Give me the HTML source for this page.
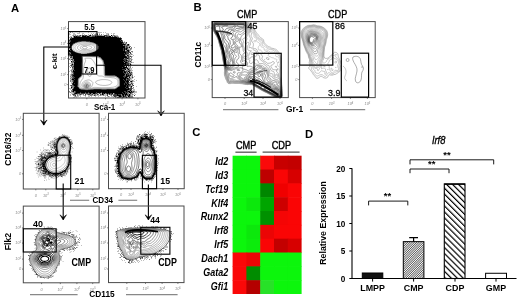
<!DOCTYPE html><html><head><meta charset="utf-8"><style>html,body{margin:0;padding:0;background:#fff;overflow:hidden}svg{display:block;will-change:transform}</style></head><body>
<svg xmlns="http://www.w3.org/2000/svg" width="520" height="301" viewBox="0 0 520 301" style="font-family:'Liberation Sans',sans-serif">
<rect width="520" height="301" fill="#fff"/>
<clipPath id="c68_21"><rect x="68.5" y="21.6" width="76.5" height="76.4"/></clipPath><g clip-path="url(#c68_21)"><path d="M70 32.6h1v0.5h-1zM72.5 32.6h0.5v0.5h-0.5zM79 32.6h0.5v0.5h-0.5zM88 32.6h0.5v0.5h-0.5zM98 32.6h0.5v0.5h-0.5zM99.5 32.6h1v0.5h-1zM101 32.6h0.5v0.5h-0.5zM103.5 32.6h0.5v0.5h-0.5zM105.5 32.6h0.5v0.5h-0.5zM74.5 33.1h0.5v0.5h-0.5zM78.5 33.1h0.5v0.5h-0.5zM79.5 33.1h0.5v0.5h-0.5zM83.5 33.1h0.5v0.5h-0.5zM91.5 33.1h0.5v0.5h-0.5zM95.5 33.1h1v0.5h-1zM97.5 33.1h0.5v0.5h-0.5zM106.5 33.1h0.5v0.5h-0.5zM111 33.1h0.5v0.5h-0.5zM69.5 33.6h0.5v0.5h-0.5zM73 33.6h0.5v0.5h-0.5zM77.5 33.6h0.5v0.5h-0.5zM82.5 33.6h0.5v0.5h-0.5zM93.5 33.6h0.5v0.5h-0.5zM99 33.6h0.5v0.5h-0.5zM107 33.6h0.5v0.5h-0.5zM108.5 33.6h0.5v0.5h-0.5zM113 33.6h0.5v0.5h-0.5zM114.5 33.6h0.5v0.5h-0.5zM69 34.1h0.5v0.5h-0.5zM73.5 34.1h0.5v0.5h-0.5zM96 34.1h0.5v0.5h-0.5zM97.5 34.1h0.5v0.5h-0.5zM99 34.1h0.5v0.5h-0.5zM101.5 34.1h0.5v0.5h-0.5zM106.5 34.1h1v0.5h-1zM108 34.1h0.5v0.5h-0.5zM113.5 34.1h0.5v0.5h-0.5zM70.5 34.6h0.5v0.5h-0.5zM74.5 34.6h0.5v0.5h-0.5zM75.5 34.6h0.5v0.5h-0.5zM82 34.6h0.5v0.5h-0.5zM84.5 34.6h0.5v0.5h-0.5zM88.5 34.6h0.5v0.5h-0.5zM90 34.6h0.5v0.5h-0.5zM92 34.6h1v0.5h-1zM94 34.6h0.5v0.5h-0.5zM95 34.6h1v0.5h-1zM97 34.6h1v0.5h-1zM99.5 34.6h0.5v0.5h-0.5zM101 34.6h0.5v0.5h-0.5zM103.5 34.6h0.5v0.5h-0.5zM108 34.6h0.5v0.5h-0.5zM72 35.1h0.5v0.5h-0.5zM73.5 35.1h1v0.5h-1zM78.5 35.1h0.5v0.5h-0.5zM80.5 35.1h0.5v0.5h-0.5zM81.5 35.1h0.5v0.5h-0.5zM82.5 35.1h0.5v0.5h-0.5zM83.5 35.1h2v0.5h-2zM86 35.1h0.5v0.5h-0.5zM87.5 35.1h0.5v0.5h-0.5zM89 35.1h0.5v0.5h-0.5zM90 35.1h1v0.5h-1zM93.5 35.1h1v0.5h-1zM95 35.1h0.5v0.5h-0.5zM97.5 35.1h0.5v0.5h-0.5zM98.5 35.1h0.5v0.5h-0.5zM99.5 35.1h0.5v0.5h-0.5zM101 35.1h0.5v0.5h-0.5zM104 35.1h1v0.5h-1zM105.5 35.1h0.5v0.5h-0.5zM106.5 35.1h0.5v0.5h-0.5zM107.5 35.1h1v0.5h-1zM111 35.1h1.5v0.5h-1.5zM113 35.1h2.5v0.5h-2.5zM117 35.1h0.5v0.5h-0.5zM73.5 35.6h0.5v0.5h-0.5zM75 35.6h1v0.5h-1zM76.5 35.6h1.5v0.5h-1.5zM79 35.6h2v0.5h-2zM82 35.6h2v0.5h-2zM85 35.6h2v0.5h-2zM88.5 35.6h2.5v0.5h-2.5zM91.5 35.6h2v0.5h-2zM94 35.6h0.5v0.5h-0.5zM95 35.6h1.5v0.5h-1.5zM97.5 35.6h1v0.5h-1zM99 35.6h0.5v0.5h-0.5zM100 35.6h1.5v0.5h-1.5zM102 35.6h0.5v0.5h-0.5zM103.5 35.6h1v0.5h-1zM105 35.6h2.5v0.5h-2.5zM108 35.6h0.5v0.5h-0.5zM109.5 35.6h0.5v0.5h-0.5zM111 35.6h1v0.5h-1zM116 35.6h0.5v0.5h-0.5zM70.5 36.1h0.5v0.5h-0.5zM74 36.1h1v0.5h-1zM75.5 36.1h1.5v0.5h-1.5zM77.5 36.1h1v0.5h-1zM79.5 36.1h0.5v0.5h-0.5zM82 36.1h4.5v0.5h-4.5zM87 36.1h2v0.5h-2zM89.5 36.1h1v0.5h-1zM92 36.1h0.5v0.5h-0.5zM93 36.1h0.5v0.5h-0.5zM94.5 36.1h1.5v0.5h-1.5zM96.5 36.1h8.5v0.5h-8.5zM106.5 36.1h1v0.5h-1zM108 36.1h0.5v0.5h-0.5zM109 36.1h2v0.5h-2zM112 36.1h0.5v0.5h-0.5zM113 36.1h0.5v0.5h-0.5zM114.5 36.1h1v0.5h-1zM116 36.1h0.5v0.5h-0.5zM117.5 36.1h0.5v0.5h-0.5zM71.5 36.6h0.5v0.5h-0.5zM73 36.6h8.5v0.5h-8.5zM82 36.6h8.5v0.5h-8.5zM91 36.6h20.5v0.5h-20.5zM112 36.6h1v0.5h-1zM114 36.6h2v0.5h-2zM116.5 36.6h1v0.5h-1zM118 36.6h0.5v0.5h-0.5zM70.5 37.1h1.5v0.5h-1.5zM72.5 37.1h0.5v0.5h-0.5zM74 37.1h43.5v0.5h-43.5zM118.5 37.1h0.5v0.5h-0.5zM120 37.1h0.5v0.5h-0.5zM69.5 37.6h0.5v0.5h-0.5zM71.5 37.6h0.5v0.5h-0.5zM73 37.6h46v0.5h-46zM119.5 37.6h0.5v0.5h-0.5zM120.5 37.6h0.5v0.5h-0.5zM70 38.1h52v0.5h-52zM70.5 38.6h1v0.5h-1zM72 38.6h49.5v0.5h-49.5zM70 39.1h51.5v0.5h-51.5zM68.5 39.6h0.5v0.5h-0.5zM69.5 39.6h51.5v0.5h-51.5zM121.5 39.6h0.5v0.5h-0.5zM68.5 40.1h0.5v0.5h-0.5zM69.5 40.1h53v0.5h-53zM68.5 40.6h1.5v0.5h-1.5zM70.5 40.6h50v0.5h-50zM121 40.6h1.5v0.5h-1.5zM69.5 41.1h0.5v0.5h-0.5zM70.5 41.1h11v0.5h-11zM86 41.1h37v0.5h-37zM69 41.6h0.5v0.5h-0.5zM70 41.6h8.5v0.5h-8.5zM90 41.6h31.5v0.5h-31.5zM122 41.6h0.5v0.5h-0.5zM124.5 41.6h0.5v0.5h-0.5zM69 42.1h0.5v0.5h-0.5zM70 42.1h6.5v0.5h-6.5zM92.5 42.1h31v0.5h-31zM124.5 42.1h1v0.5h-1zM126 42.1h1v0.5h-1zM68.5 42.6h0.5v0.5h-0.5zM69.5 42.6h6v0.5h-6zM94 42.6h29v0.5h-29zM123.5 42.6h1v0.5h-1zM126 42.6h0.5v0.5h-0.5zM69 43.1h5.5v0.5h-5.5zM95 43.1h28v0.5h-28zM123.5 43.1h0.5v0.5h-0.5zM126.5 43.1h0.5v0.5h-0.5zM68.5 43.6h5v0.5h-5zM96 43.6h26v0.5h-26zM122.5 43.6h1.5v0.5h-1.5zM124.5 43.6h2v0.5h-2zM68.5 44.1h1v0.5h-1zM70 44.1h3v0.5h-3zM97 44.1h28v0.5h-28zM125.5 44.1h1v0.5h-1zM127 44.1h2v0.5h-2zM68.5 44.6h1v0.5h-1zM70 44.6h2.5v0.5h-2.5zM97.5 44.6h28.5v0.5h-28.5zM127 44.6h0.5v0.5h-0.5zM128 44.6h1.5v0.5h-1.5zM69 45.1h3v0.5h-3zM98 45.1h25.5v0.5h-25.5zM124.5 45.1h0.5v0.5h-0.5zM126 45.1h0.5v0.5h-0.5zM127 45.1h0.5v0.5h-0.5zM128.5 45.1h0.5v0.5h-0.5zM70 45.6h2v0.5h-2zM98 45.6h25.5v0.5h-25.5zM124 45.6h2v0.5h-2zM126.5 45.6h2.5v0.5h-2.5zM129.5 45.6h0.5v0.5h-0.5zM69 46.1h2.5v0.5h-2.5zM98.5 46.1h26.5v0.5h-26.5zM125.5 46.1h1.5v0.5h-1.5zM127.5 46.1h0.5v0.5h-0.5zM129 46.1h0.5v0.5h-0.5zM69.5 46.6h2v0.5h-2zM98.5 46.6h26.5v0.5h-26.5zM125.5 46.6h0.5v0.5h-0.5zM126.5 46.6h1v0.5h-1zM128.5 46.6h1v0.5h-1zM130 46.6h1v0.5h-1zM68.5 47.1h3v0.5h-3zM98.5 47.1h26.5v0.5h-26.5zM126 47.1h0.5v0.5h-0.5zM127 47.1h1v0.5h-1zM128.5 47.1h1.5v0.5h-1.5zM131 47.1h1v0.5h-1zM69 47.6h2.5v0.5h-2.5zM98.5 47.6h28.5v0.5h-28.5zM127.5 47.6h0.5v0.5h-0.5zM128.5 47.6h1.5v0.5h-1.5zM134 47.6h0.5v0.5h-0.5zM69 48.1h0.5v0.5h-0.5zM70 48.1h1.5v0.5h-1.5zM98.5 48.1h25v0.5h-25zM124 48.1h1v0.5h-1zM125.5 48.1h2v0.5h-2zM129.5 48.1h1v0.5h-1zM131.5 48.1h0.5v0.5h-0.5zM68.5 48.6h0.5v0.5h-0.5zM69.5 48.6h0.5v0.5h-0.5zM70.5 48.6h1v0.5h-1zM98 48.6h30v0.5h-30zM128.5 48.6h0.5v0.5h-0.5zM130 48.6h0.5v0.5h-0.5zM131.5 48.6h0.5v0.5h-0.5zM70 49.1h2v0.5h-2zM98 49.1h25.5v0.5h-25.5zM124 49.1h1v0.5h-1zM125.5 49.1h1.5v0.5h-1.5zM128.5 49.1h0.5v0.5h-0.5zM130.5 49.1h0.5v0.5h-0.5zM131.5 49.1h0.5v0.5h-0.5zM69.5 49.6h2.5v0.5h-2.5zM97.5 49.6h30.5v0.5h-30.5zM128.5 49.6h0.5v0.5h-0.5zM129.5 49.6h0.5v0.5h-0.5zM130.5 49.6h0.5v0.5h-0.5zM68.5 50.1h1.5v0.5h-1.5zM70.5 50.1h2v0.5h-2zM97 50.1h26v0.5h-26zM123.5 50.1h1.5v0.5h-1.5zM126.5 50.1h3.5v0.5h-3.5zM69 50.6h4v0.5h-4zM96.5 50.6h29v0.5h-29zM126.5 50.6h2.5v0.5h-2.5zM130 50.6h0.5v0.5h-0.5zM69 51.1h4.5v0.5h-4.5zM95.5 51.1h29.5v0.5h-29.5zM125.5 51.1h0.5v0.5h-0.5zM126.5 51.1h1v0.5h-1zM128 51.1h2v0.5h-2zM131 51.1h0.5v0.5h-0.5zM132 51.1h0.5v0.5h-0.5zM69 51.6h5.5v0.5h-5.5zM94.5 51.6h34.5v0.5h-34.5zM131 51.6h0.5v0.5h-0.5zM132.5 51.6h0.5v0.5h-0.5zM69 52.1h6.5v0.5h-6.5zM93 52.1h33.5v0.5h-33.5zM127 52.1h1v0.5h-1zM128.5 52.1h2v0.5h-2zM132 52.1h0.5v0.5h-0.5zM70.5 52.6h6v0.5h-6zM91.5 52.6h35.5v0.5h-35.5zM127.5 52.6h2v0.5h-2zM130 52.6h1v0.5h-1zM69 53.1h9.5v0.5h-9.5zM89.5 53.1h37v0.5h-37zM127 53.1h1.5v0.5h-1.5zM130 53.1h0.5v0.5h-0.5zM69.5 53.6h0.5v0.5h-0.5zM71 53.6h10v0.5h-10zM87 53.6h37.5v0.5h-37.5zM125 53.6h2v0.5h-2zM127.5 53.6h1.5v0.5h-1.5zM130 53.6h1v0.5h-1zM131.5 53.6h0.5v0.5h-0.5zM69 54.1h0.5v0.5h-0.5zM70 54.1h55v0.5h-55zM125.5 54.1h2v0.5h-2zM128 54.1h0.5v0.5h-0.5zM129 54.1h0.5v0.5h-0.5zM69 54.6h0.5v0.5h-0.5zM70.5 54.6h0.5v0.5h-0.5zM71.5 54.6h54.5v0.5h-54.5zM126.5 54.6h1v0.5h-1zM128.5 54.6h1v0.5h-1zM130 54.6h0.5v0.5h-0.5zM131 54.6h1.5v0.5h-1.5zM70 55.1h13v0.5h-13zM84.5 55.1h41.5v0.5h-41.5zM127 55.1h2v0.5h-2zM129.5 55.1h0.5v0.5h-0.5zM130.5 55.1h0.5v0.5h-0.5zM70.5 55.6h11v0.5h-11zM93.5 55.6h31.5v0.5h-31.5zM126.5 55.6h1.5v0.5h-1.5zM128.5 55.6h0.5v0.5h-0.5zM133.5 55.6h0.5v0.5h-0.5zM69 56.1h0.5v0.5h-0.5zM70 56.1h0.5v0.5h-0.5zM71 56.1h1v0.5h-1zM72.5 56.1h9v0.5h-9zM97.5 56.1h29.5v0.5h-29.5zM128 56.1h0.5v0.5h-0.5zM129 56.1h0.5v0.5h-0.5zM130 56.1h2.5v0.5h-2.5zM70.5 56.6h0.5v0.5h-0.5zM71.5 56.6h1v0.5h-1zM73 56.6h8.5v0.5h-8.5zM99 56.6h27v0.5h-27zM126.5 56.6h2.5v0.5h-2.5zM129.5 56.6h1v0.5h-1zM70 57.1h2.5v0.5h-2.5zM73 57.1h8.5v0.5h-8.5zM100.5 57.1h26.5v0.5h-26.5zM127.5 57.1h0.5v0.5h-0.5zM128.5 57.1h1v0.5h-1zM131 57.1h0.5v0.5h-0.5zM70 57.6h0.5v0.5h-0.5zM71.5 57.6h1v0.5h-1zM73 57.6h8.5v0.5h-8.5zM101 57.6h26v0.5h-26zM127.5 57.6h2v0.5h-2zM131 57.6h0.5v0.5h-0.5zM69.5 58.1h1v0.5h-1zM71.5 58.1h10v0.5h-10zM101.5 58.1h23v0.5h-23zM125 58.1h0.5v0.5h-0.5zM126 58.1h0.5v0.5h-0.5zM127 58.1h1.5v0.5h-1.5zM129 58.1h1v0.5h-1zM131.5 58.1h0.5v0.5h-0.5zM68.5 58.6h0.5v0.5h-0.5zM73 58.6h9v0.5h-9zM101.5 58.6h23v0.5h-23zM125 58.6h4v0.5h-4zM130 58.6h1v0.5h-1zM69 59.1h1v0.5h-1zM71 59.1h1.5v0.5h-1.5zM74 59.1h8v0.5h-8zM102 59.1h22.5v0.5h-22.5zM125 59.1h1v0.5h-1zM126.5 59.1h1v0.5h-1zM128 59.1h0.5v0.5h-0.5zM129.5 59.1h0.5v0.5h-0.5zM132.5 59.1h0.5v0.5h-0.5zM70.5 59.6h0.5v0.5h-0.5zM71.5 59.6h10.5v0.5h-10.5zM102.5 59.6h20.5v0.5h-20.5zM123.5 59.6h2v0.5h-2zM126 59.6h1v0.5h-1zM128 59.6h0.5v0.5h-0.5zM129 59.6h0.5v0.5h-0.5zM130 59.6h0.5v0.5h-0.5zM131 59.6h1v0.5h-1zM72.5 60.1h0.5v0.5h-0.5zM73.5 60.1h8.5v0.5h-8.5zM103 60.1h24v0.5h-24zM127.5 60.1h0.5v0.5h-0.5zM129.5 60.1h0.5v0.5h-0.5zM131 60.1h1v0.5h-1zM70.5 60.6h0.5v0.5h-0.5zM72.5 60.6h0.5v0.5h-0.5zM73.5 60.6h8.5v0.5h-8.5zM103.5 60.6h20.5v0.5h-20.5zM124.5 60.6h0.5v0.5h-0.5zM125.5 60.6h4v0.5h-4zM130 60.6h0.5v0.5h-0.5zM71 61.1h1.5v0.5h-1.5zM73 61.1h1v0.5h-1zM74.5 61.1h7.5v0.5h-7.5zM103.5 61.1h20v0.5h-20zM124 61.1h1v0.5h-1zM125.5 61.1h1v0.5h-1zM127 61.1h0.5v0.5h-0.5zM128 61.1h2.5v0.5h-2.5zM71 61.6h1v0.5h-1zM72.5 61.6h0.5v0.5h-0.5zM73.5 61.6h8.5v0.5h-8.5zM103.5 61.6h23.5v0.5h-23.5zM127.5 61.6h1v0.5h-1zM130 61.6h1.5v0.5h-1.5zM71 62.1h2v0.5h-2zM73.5 62.1h8.5v0.5h-8.5zM104 62.1h20v0.5h-20zM125 62.1h4.5v0.5h-4.5zM131 62.1h1v0.5h-1zM73 62.6h0.5v0.5h-0.5zM74 62.6h7.5v0.5h-7.5zM104 62.6h23v0.5h-23zM127.5 62.6h0.5v0.5h-0.5zM130.5 62.6h0.5v0.5h-0.5zM132.5 62.6h1v0.5h-1zM72 63.1h0.5v0.5h-0.5zM74 63.1h7.5v0.5h-7.5zM104 63.1h22v0.5h-22zM126.5 63.1h2.5v0.5h-2.5zM129.5 63.1h1v0.5h-1zM69.5 63.6h0.5v0.5h-0.5zM70.5 63.6h0.5v0.5h-0.5zM71.5 63.6h0.5v0.5h-0.5zM72.5 63.6h0.5v0.5h-0.5zM73.5 63.6h8v0.5h-8zM104 63.6h23.5v0.5h-23.5zM128.5 63.6h1v0.5h-1zM130.5 63.6h0.5v0.5h-0.5zM71.5 64.1h1.5v0.5h-1.5zM73.5 64.1h8v0.5h-8zM104.5 64.1h20v0.5h-20zM125 64.1h3v0.5h-3zM128.5 64.1h1v0.5h-1zM130 64.1h1v0.5h-1zM71.5 64.6h1.5v0.5h-1.5zM73.5 64.6h8v0.5h-8zM104.5 64.6h21.5v0.5h-21.5zM126.5 64.6h1v0.5h-1zM128 64.6h1v0.5h-1zM130 64.6h1v0.5h-1zM131.5 64.6h0.5v0.5h-0.5zM70.5 65.1h0.5v0.5h-0.5zM71.5 65.1h0.5v0.5h-0.5zM72.5 65.1h0.5v0.5h-0.5zM74 65.1h7.5v0.5h-7.5zM104.5 65.1h21v0.5h-21zM126.5 65.1h0.5v0.5h-0.5zM127.5 65.1h2v0.5h-2zM70.5 65.6h1.5v0.5h-1.5zM72.5 65.6h9v0.5h-9zM104.5 65.6h18.5v0.5h-18.5zM123.5 65.6h4.5v0.5h-4.5zM128.5 65.6h0.5v0.5h-0.5zM130.5 65.6h0.5v0.5h-0.5zM69.5 66.1h0.5v0.5h-0.5zM71.5 66.1h1v0.5h-1zM73 66.1h8.5v0.5h-8.5zM104.5 66.1h20.5v0.5h-20.5zM126 66.1h1v0.5h-1zM128 66.1h0.5v0.5h-0.5zM130 66.1h0.5v0.5h-0.5zM71 66.6h0.5v0.5h-0.5zM72 66.6h0.5v0.5h-0.5zM73.5 66.6h8v0.5h-8zM105 66.6h19.5v0.5h-19.5zM125 66.6h0.5v0.5h-0.5zM126 66.6h1v0.5h-1zM128.5 66.6h1v0.5h-1zM130.5 66.6h0.5v0.5h-0.5zM70.5 67.1h0.5v0.5h-0.5zM72.5 67.1h1v0.5h-1zM74 67.1h7.5v0.5h-7.5zM105 67.1h23v0.5h-23zM130 67.1h0.5v0.5h-0.5zM132.5 67.1h0.5v0.5h-0.5zM70 67.6h0.5v0.5h-0.5zM72 67.6h1v0.5h-1zM73.5 67.6h8v0.5h-8zM105 67.6h17.5v0.5h-17.5zM123 67.6h4v0.5h-4zM128 67.6h0.5v0.5h-0.5zM129 67.6h0.5v0.5h-0.5zM130.5 67.6h0.5v0.5h-0.5zM72.5 68.1h9v0.5h-9zM105 68.1h20.5v0.5h-20.5zM127 68.1h1v0.5h-1zM128.5 68.1h1v0.5h-1zM130 68.1h0.5v0.5h-0.5zM72.5 68.6h0.5v0.5h-0.5zM74 68.6h7.5v0.5h-7.5zM105 68.6h23.5v0.5h-23.5zM129 68.6h0.5v0.5h-0.5zM131.5 68.6h0.5v0.5h-0.5zM71.5 69.1h0.5v0.5h-0.5zM73 69.1h0.5v0.5h-0.5zM74 69.1h7.5v0.5h-7.5zM105 69.1h17.5v0.5h-17.5zM123 69.1h3v0.5h-3zM128 69.1h1v0.5h-1zM129.5 69.1h1v0.5h-1zM72 69.6h1v0.5h-1zM73.5 69.6h8v0.5h-8zM105 69.6h18.5v0.5h-18.5zM124.5 69.6h1.5v0.5h-1.5zM126.5 69.6h2.5v0.5h-2.5zM129.5 69.6h0.5v0.5h-0.5zM131.5 69.6h0.5v0.5h-0.5zM70 70.1h0.5v0.5h-0.5zM71 70.1h1v0.5h-1zM73 70.1h8.5v0.5h-8.5zM105 70.1h20v0.5h-20zM126 70.1h0.5v0.5h-0.5zM127 70.1h0.5v0.5h-0.5zM129 70.1h1.5v0.5h-1.5zM131.5 70.1h0.5v0.5h-0.5zM132.5 70.1h0.5v0.5h-0.5zM72 70.6h0.5v0.5h-0.5zM73 70.6h1v0.5h-1zM74.5 70.6h7v0.5h-7zM105 70.6h19v0.5h-19zM124.5 70.6h1v0.5h-1zM126 70.6h0.5v0.5h-0.5zM127 70.6h0.5v0.5h-0.5zM128 70.6h1.5v0.5h-1.5zM130.5 70.6h0.5v0.5h-0.5zM71 71.1h0.5v0.5h-0.5zM72 71.1h0.5v0.5h-0.5zM73 71.1h8.5v0.5h-8.5zM105 71.1h18v0.5h-18zM123.5 71.1h2v0.5h-2zM126 71.1h1.5v0.5h-1.5zM128 71.1h1v0.5h-1zM129.5 71.1h0.5v0.5h-0.5zM130.5 71.1h0.5v0.5h-0.5zM131.5 71.1h0.5v0.5h-0.5zM69.5 71.6h0.5v0.5h-0.5zM71.5 71.6h1v0.5h-1zM73 71.6h8.5v0.5h-8.5zM105 71.6h21v0.5h-21zM126.5 71.6h0.5v0.5h-0.5zM127.5 71.6h2.5v0.5h-2.5zM71 72.1h0.5v0.5h-0.5zM72.5 72.1h0.5v0.5h-0.5zM73.5 72.1h8v0.5h-8zM105 72.1h22v0.5h-22zM127.5 72.1h1v0.5h-1zM129 72.1h1v0.5h-1zM130.5 72.1h2v0.5h-2zM72.5 72.6h9v0.5h-9zM105 72.6h18.5v0.5h-18.5zM124 72.6h2v0.5h-2zM127 72.6h1v0.5h-1zM129 72.6h1v0.5h-1zM130.5 72.6h1v0.5h-1zM73 73.1h8.5v0.5h-8.5zM105 73.1h19v0.5h-19zM124.5 73.1h1v0.5h-1zM126 73.1h1.5v0.5h-1.5zM128 73.1h1v0.5h-1zM129.5 73.1h0.5v0.5h-0.5zM130.5 73.1h1v0.5h-1zM71.5 73.6h1v0.5h-1zM73.5 73.6h8v0.5h-8zM105 73.6h21v0.5h-21zM127 73.6h1.5v0.5h-1.5zM129 73.6h0.5v0.5h-0.5zM130 73.6h1.5v0.5h-1.5zM132 73.6h0.5v0.5h-0.5zM71.5 74.1h1.5v0.5h-1.5zM73.5 74.1h8v0.5h-8zM105 74.1h20.5v0.5h-20.5zM126 74.1h2.5v0.5h-2.5zM129 74.1h0.5v0.5h-0.5zM130.5 74.1h1.5v0.5h-1.5zM132.5 74.1h0.5v0.5h-0.5zM70.5 74.6h0.5v0.5h-0.5zM71.5 74.6h0.5v0.5h-0.5zM72.5 74.6h9v0.5h-9zM105 74.6h20v0.5h-20zM125.5 74.6h2v0.5h-2zM128 74.6h1v0.5h-1zM129.5 74.6h2v0.5h-2zM70 75.1h0.5v0.5h-0.5zM71.5 75.1h10v0.5h-10zM105 75.1h20.5v0.5h-20.5zM126 75.1h3.5v0.5h-3.5zM130 75.1h1.5v0.5h-1.5zM132.5 75.1h0.5v0.5h-0.5zM71.5 75.6h0.5v0.5h-0.5zM72.5 75.6h9v0.5h-9zM115 75.6h9.5v0.5h-9.5zM125.5 75.6h1.5v0.5h-1.5zM127.5 75.6h3.5v0.5h-3.5zM132.5 75.6h0.5v0.5h-0.5zM70 76.1h0.5v0.5h-0.5zM72.5 76.1h8.5v0.5h-8.5zM116.5 76.1h7v0.5h-7zM124 76.1h0.5v0.5h-0.5zM125 76.1h4.5v0.5h-4.5zM132 76.1h0.5v0.5h-0.5zM134 76.1h0.5v0.5h-0.5zM70 76.6h0.5v0.5h-0.5zM71.5 76.6h1.5v0.5h-1.5zM73.5 76.6h6.5v0.5h-6.5zM117 76.6h8.5v0.5h-8.5zM126 76.6h2.5v0.5h-2.5zM129 76.6h1v0.5h-1zM130.5 76.6h1v0.5h-1zM132.5 76.6h0.5v0.5h-0.5zM71 77.1h0.5v0.5h-0.5zM72 77.1h0.5v0.5h-0.5zM73 77.1h6.5v0.5h-6.5zM118 77.1h9v0.5h-9zM129 77.1h1.5v0.5h-1.5zM132.5 77.1h0.5v0.5h-0.5zM70.5 77.6h0.5v0.5h-0.5zM71.5 77.6h1v0.5h-1zM73.5 77.6h0.5v0.5h-0.5zM74.5 77.6h4.5v0.5h-4.5zM118.5 77.6h5.5v0.5h-5.5zM124.5 77.6h3.5v0.5h-3.5zM128.5 77.6h1.5v0.5h-1.5zM131.5 77.6h2v0.5h-2zM70.5 78.1h1v0.5h-1zM72.5 78.1h1v0.5h-1zM74 78.1h4.5v0.5h-4.5zM119 78.1h10.5v0.5h-10.5zM130.5 78.1h0.5v0.5h-0.5zM132.5 78.1h0.5v0.5h-0.5zM70.5 78.6h0.5v0.5h-0.5zM72 78.6h6v0.5h-6zM119.5 78.6h6.5v0.5h-6.5zM126.5 78.6h2v0.5h-2zM129.5 78.6h0.5v0.5h-0.5zM130.5 78.6h0.5v0.5h-0.5zM131.5 78.6h0.5v0.5h-0.5zM71.5 79.1h6.5v0.5h-6.5zM119.5 79.1h6.5v0.5h-6.5zM127 79.1h3v0.5h-3zM130.5 79.1h0.5v0.5h-0.5zM134 79.1h0.5v0.5h-0.5zM70.5 79.6h1v0.5h-1zM72 79.6h2v0.5h-2zM74.5 79.6h3.5v0.5h-3.5zM119.5 79.6h4v0.5h-4zM124 79.6h3.5v0.5h-3.5zM128 79.6h0.5v0.5h-0.5zM129.5 79.6h0.5v0.5h-0.5zM131 79.6h0.5v0.5h-0.5zM70.5 80.1h1v0.5h-1zM72 80.1h0.5v0.5h-0.5zM73 80.1h0.5v0.5h-0.5zM74 80.1h4v0.5h-4zM119.5 80.1h5v0.5h-5zM125 80.1h1.5v0.5h-1.5zM127 80.1h3v0.5h-3zM131.5 80.1h0.5v0.5h-0.5zM132.5 80.1h1v0.5h-1zM136 80.1h0.5v0.5h-0.5zM70.5 80.6h0.5v0.5h-0.5zM72.5 80.6h5.5v0.5h-5.5zM120 80.6h8v0.5h-8zM128.5 80.6h1v0.5h-1zM130.5 80.6h0.5v0.5h-0.5zM132 80.6h0.5v0.5h-0.5zM70.5 81.1h0.5v0.5h-0.5zM72.5 81.1h5.5v0.5h-5.5zM120 81.1h5v0.5h-5zM125.5 81.1h3.5v0.5h-3.5zM130 81.1h0.5v0.5h-0.5zM131 81.1h1.5v0.5h-1.5zM133 81.1h0.5v0.5h-0.5zM134 81.1h0.5v0.5h-0.5zM70 81.6h0.5v0.5h-0.5zM71.5 81.6h1v0.5h-1zM73 81.6h0.5v0.5h-0.5zM74 81.6h4v0.5h-4zM120 81.6h9v0.5h-9zM130 81.6h2v0.5h-2zM132.5 81.6h0.5v0.5h-0.5zM73 82.1h5v0.5h-5zM120 82.1h10v0.5h-10zM130.5 82.1h0.5v0.5h-0.5zM131.5 82.1h0.5v0.5h-0.5zM71 82.6h0.5v0.5h-0.5zM72.5 82.6h5.5v0.5h-5.5zM120 82.6h5v0.5h-5zM125.5 82.6h1v0.5h-1zM127 82.6h1v0.5h-1zM128.5 82.6h0.5v0.5h-0.5zM131 82.6h0.5v0.5h-0.5zM132.5 82.6h0.5v0.5h-0.5zM71.5 83.1h2.5v0.5h-2.5zM74.5 83.1h3.5v0.5h-3.5zM120 83.1h4.5v0.5h-4.5zM125 83.1h1v0.5h-1zM126.5 83.1h2.5v0.5h-2.5zM129.5 83.1h1v0.5h-1zM131 83.1h0.5v0.5h-0.5zM132.5 83.1h1v0.5h-1zM72.5 83.6h5.5v0.5h-5.5zM120 83.6h8v0.5h-8zM128.5 83.6h0.5v0.5h-0.5zM131 83.6h1v0.5h-1zM132.5 83.6h0.5v0.5h-0.5zM72.5 84.1h5.5v0.5h-5.5zM120 84.1h4.5v0.5h-4.5zM125 84.1h2.5v0.5h-2.5zM128 84.1h2v0.5h-2zM130.5 84.1h0.5v0.5h-0.5zM131.5 84.1h1v0.5h-1zM72 84.6h6v0.5h-6zM120 84.6h9.5v0.5h-9.5zM130 84.6h1v0.5h-1zM132 84.6h1v0.5h-1zM70.5 85.1h1v0.5h-1zM72.5 85.1h0.5v0.5h-0.5zM73.5 85.1h4.5v0.5h-4.5zM120 85.1h6v0.5h-6zM126.5 85.1h1.5v0.5h-1.5zM128.5 85.1h1v0.5h-1zM132.5 85.1h1v0.5h-1zM70 85.6h0.5v0.5h-0.5zM71 85.6h1v0.5h-1zM72.5 85.6h5v0.5h-5zM120 85.6h11.5v0.5h-11.5zM132.5 85.6h1.5v0.5h-1.5zM71.5 86.1h1.5v0.5h-1.5zM73.5 86.1h0.5v0.5h-0.5zM74.5 86.1h3v0.5h-3zM119.5 86.1h9v0.5h-9zM129 86.1h1v0.5h-1zM130.5 86.1h1.5v0.5h-1.5zM136 86.1h0.5v0.5h-0.5zM71.5 86.6h0.5v0.5h-0.5zM73 86.6h0.5v0.5h-0.5zM74 86.6h4v0.5h-4zM118.5 86.6h7.5v0.5h-7.5zM126.5 86.6h2.5v0.5h-2.5zM130.5 86.6h2v0.5h-2zM71 87.1h1.5v0.5h-1.5zM73.5 87.1h5v0.5h-5zM118 87.1h11v0.5h-11zM131 87.1h1v0.5h-1zM71 87.6h1.5v0.5h-1.5zM73 87.6h0.5v0.5h-0.5zM74 87.6h5v0.5h-5zM117 87.6h8v0.5h-8zM125.5 87.6h2.5v0.5h-2.5zM128.5 87.6h0.5v0.5h-0.5zM130 87.6h1.5v0.5h-1.5zM133 87.6h1v0.5h-1zM70.5 88.1h1v0.5h-1zM73 88.1h6v0.5h-6zM116.5 88.1h15v0.5h-15zM132.5 88.1h0.5v0.5h-0.5zM69.5 88.6h0.5v0.5h-0.5zM71 88.6h0.5v0.5h-0.5zM72 88.6h0.5v0.5h-0.5zM73.5 88.6h6v0.5h-6zM115.5 88.6h10.5v0.5h-10.5zM126.5 88.6h0.5v0.5h-0.5zM127.5 88.6h1.5v0.5h-1.5zM129.5 88.6h1v0.5h-1zM131 88.6h1.5v0.5h-1.5zM133.5 88.6h0.5v0.5h-0.5zM70 89.1h0.5v0.5h-0.5zM72 89.1h9v0.5h-9zM93.5 89.1h8v0.5h-8zM106.5 89.1h25.5v0.5h-25.5zM133 89.1h0.5v0.5h-0.5zM134 89.1h0.5v0.5h-0.5zM72.5 89.6h13v0.5h-13zM88 89.6h41v0.5h-41zM129.5 89.6h0.5v0.5h-0.5zM130.5 89.6h0.5v0.5h-0.5zM131.5 89.6h0.5v0.5h-0.5zM71 90.1h1v0.5h-1zM72.5 90.1h55v0.5h-55zM130 90.1h2.5v0.5h-2.5zM133 90.1h0.5v0.5h-0.5zM134 90.1h0.5v0.5h-0.5zM72.5 90.6h58.5v0.5h-58.5zM69.5 91.1h0.5v0.5h-0.5zM71.5 91.1h0.5v0.5h-0.5zM72.5 91.1h2.5v0.5h-2.5zM75.5 91.1h55v0.5h-55zM131 91.1h1.5v0.5h-1.5zM133.5 91.1h1.5v0.5h-1.5zM69.5 91.6h0.5v0.5h-0.5zM71.5 91.6h2.5v0.5h-2.5zM75 91.6h49v0.5h-49zM124.5 91.6h1v0.5h-1zM126 91.6h1v0.5h-1zM127.5 91.6h3v0.5h-3zM131 91.6h1v0.5h-1zM132.5 91.6h1.5v0.5h-1.5zM135 91.6h0.5v0.5h-0.5zM136 91.6h0.5v0.5h-0.5zM69.5 92.1h0.5v0.5h-0.5zM70.5 92.1h0.5v0.5h-0.5zM73 92.1h0.5v0.5h-0.5zM74.5 92.1h10.5v0.5h-10.5zM85.5 92.1h41v0.5h-41zM127 92.1h5.5v0.5h-5.5zM133 92.1h1v0.5h-1zM70 92.6h0.5v0.5h-0.5zM71.5 92.6h1v0.5h-1zM73.5 92.6h0.5v0.5h-0.5zM74.5 92.6h0.5v0.5h-0.5zM75.5 92.6h5v0.5h-5zM81 92.6h7v0.5h-7zM88.5 92.6h7.5v0.5h-7.5zM96.5 92.6h5v0.5h-5zM102 92.6h20v0.5h-20zM122.5 92.6h3v0.5h-3zM126 92.6h1v0.5h-1zM127.5 92.6h0.5v0.5h-0.5zM129 92.6h2v0.5h-2zM131.5 92.6h1.5v0.5h-1.5zM134 92.6h0.5v0.5h-0.5zM135.5 92.6h1v0.5h-1zM71 93.1h0.5v0.5h-0.5zM74 93.1h0.5v0.5h-0.5zM75 93.1h3.5v0.5h-3.5zM79 93.1h0.5v0.5h-0.5zM80.5 93.1h1.5v0.5h-1.5zM82.5 93.1h1v0.5h-1zM84 93.1h3v0.5h-3zM87.5 93.1h4.5v0.5h-4.5zM92.5 93.1h5v0.5h-5zM99 93.1h1.5v0.5h-1.5zM101 93.1h0.5v0.5h-0.5zM102 93.1h6.5v0.5h-6.5zM109 93.1h4v0.5h-4zM113.5 93.1h14v0.5h-14zM130.5 93.1h0.5v0.5h-0.5zM134 93.1h0.5v0.5h-0.5zM72.5 93.6h1v0.5h-1zM74 93.6h3v0.5h-3zM77.5 93.6h3v0.5h-3zM81.5 93.6h2.5v0.5h-2.5zM84.5 93.6h0.5v0.5h-0.5zM86.5 93.6h1.5v0.5h-1.5zM89 93.6h0.5v0.5h-0.5zM90 93.6h1v0.5h-1zM92 93.6h0.5v0.5h-0.5zM93 93.6h2v0.5h-2zM95.5 93.6h1v0.5h-1zM97.5 93.6h0.5v0.5h-0.5zM98.5 93.6h0.5v0.5h-0.5zM99.5 93.6h0.5v0.5h-0.5zM100.5 93.6h0.5v0.5h-0.5zM102 93.6h1.5v0.5h-1.5zM104 93.6h1v0.5h-1zM106 93.6h0.5v0.5h-0.5zM107 93.6h3v0.5h-3zM110.5 93.6h0.5v0.5h-0.5zM111.5 93.6h1.5v0.5h-1.5zM114.5 93.6h9v0.5h-9zM124 93.6h1v0.5h-1zM125.5 93.6h2v0.5h-2zM128 93.6h1v0.5h-1zM129.5 93.6h3v0.5h-3zM70.5 94.1h0.5v0.5h-0.5zM73 94.1h1v0.5h-1zM74.5 94.1h0.5v0.5h-0.5zM78.5 94.1h1v0.5h-1zM80.5 94.1h1.5v0.5h-1.5zM83 94.1h1v0.5h-1zM85.5 94.1h0.5v0.5h-0.5zM86.5 94.1h0.5v0.5h-0.5zM87.5 94.1h2v0.5h-2zM90.5 94.1h1v0.5h-1zM92 94.1h1.5v0.5h-1.5zM94.5 94.1h0.5v0.5h-0.5zM95.5 94.1h1v0.5h-1zM97 94.1h1.5v0.5h-1.5zM100 94.1h1v0.5h-1zM101.5 94.1h2v0.5h-2zM104.5 94.1h0.5v0.5h-0.5zM107 94.1h1.5v0.5h-1.5zM109 94.1h1.5v0.5h-1.5zM111 94.1h1v0.5h-1zM113.5 94.1h0.5v0.5h-0.5zM114.5 94.1h2v0.5h-2zM117 94.1h1v0.5h-1zM118.5 94.1h0.5v0.5h-0.5zM119.5 94.1h2v0.5h-2zM122 94.1h2v0.5h-2zM124.5 94.1h4v0.5h-4zM129 94.1h1.5v0.5h-1.5zM131.5 94.1h1v0.5h-1zM135 94.1h0.5v0.5h-0.5zM72 94.6h1.5v0.5h-1.5zM74 94.6h2v0.5h-2zM76.5 94.6h1.5v0.5h-1.5zM79 94.6h0.5v0.5h-0.5zM80 94.6h1v0.5h-1zM82 94.6h0.5v0.5h-0.5zM85 94.6h1v0.5h-1zM87.5 94.6h0.5v0.5h-0.5zM88.5 94.6h2v0.5h-2zM91.5 94.6h0.5v0.5h-0.5zM92.5 94.6h0.5v0.5h-0.5zM94 94.6h0.5v0.5h-0.5zM95 94.6h0.5v0.5h-0.5zM97.5 94.6h0.5v0.5h-0.5zM98.5 94.6h0.5v0.5h-0.5zM100.5 94.6h1v0.5h-1zM102 94.6h2v0.5h-2zM105.5 94.6h1v0.5h-1zM107.5 94.6h0.5v0.5h-0.5zM109.5 94.6h0.5v0.5h-0.5zM110.5 94.6h1v0.5h-1zM112 94.6h1.5v0.5h-1.5zM114 94.6h1.5v0.5h-1.5zM116 94.6h4v0.5h-4zM120.5 94.6h1v0.5h-1zM122 94.6h5.5v0.5h-5.5zM128.5 94.6h2v0.5h-2zM132.5 94.6h1v0.5h-1zM70.5 95.1h0.5v0.5h-0.5zM74.5 95.1h1.5v0.5h-1.5zM77 95.1h0.5v0.5h-0.5zM79 95.1h0.5v0.5h-0.5zM80 95.1h0.5v0.5h-0.5zM84.5 95.1h1.5v0.5h-1.5zM88.5 95.1h0.5v0.5h-0.5zM90 95.1h2v0.5h-2zM94 95.1h2v0.5h-2zM96.5 95.1h0.5v0.5h-0.5zM100 95.1h1v0.5h-1zM102.5 95.1h1.5v0.5h-1.5zM104.5 95.1h0.5v0.5h-0.5zM105.5 95.1h1v0.5h-1zM107 95.1h1v0.5h-1zM110 95.1h0.5v0.5h-0.5zM111 95.1h1v0.5h-1zM113 95.1h0.5v0.5h-0.5zM114.5 95.1h1v0.5h-1zM116 95.1h6.5v0.5h-6.5zM123 95.1h1v0.5h-1zM124.5 95.1h5.5v0.5h-5.5zM130.5 95.1h0.5v0.5h-0.5zM131.5 95.1h0.5v0.5h-0.5zM132.5 95.1h0.5v0.5h-0.5zM134 95.1h0.5v0.5h-0.5zM73 95.6h1v0.5h-1zM74.5 95.6h0.5v0.5h-0.5zM75.5 95.6h0.5v0.5h-0.5zM77 95.6h0.5v0.5h-0.5zM78 95.6h0.5v0.5h-0.5zM83 95.6h0.5v0.5h-0.5zM89 95.6h0.5v0.5h-0.5zM92.5 95.6h0.5v0.5h-0.5zM93.5 95.6h0.5v0.5h-0.5zM94.5 95.6h0.5v0.5h-0.5zM97 95.6h0.5v0.5h-0.5zM98.5 95.6h0.5v0.5h-0.5zM99.5 95.6h0.5v0.5h-0.5zM101 95.6h0.5v0.5h-0.5zM107.5 95.6h0.5v0.5h-0.5zM113 95.6h3.5v0.5h-3.5zM117 95.6h4v0.5h-4zM122 95.6h2v0.5h-2zM124.5 95.6h1.5v0.5h-1.5zM127 95.6h0.5v0.5h-0.5zM128.5 95.6h2v0.5h-2zM134 95.6h1v0.5h-1zM75.5 96.1h0.5v0.5h-0.5zM77.5 96.1h0.5v0.5h-0.5zM78.5 96.1h0.5v0.5h-0.5zM80 96.1h0.5v0.5h-0.5zM85 96.1h0.5v0.5h-0.5zM88.5 96.1h0.5v0.5h-0.5zM91 96.1h0.5v0.5h-0.5zM95 96.1h0.5v0.5h-0.5zM98.5 96.1h0.5v0.5h-0.5zM105.5 96.1h0.5v0.5h-0.5zM108.5 96.1h0.5v0.5h-0.5zM109.5 96.1h0.5v0.5h-0.5zM111.5 96.1h1v0.5h-1zM113.5 96.1h1.5v0.5h-1.5zM115.5 96.1h0.5v0.5h-0.5zM116.5 96.1h1v0.5h-1zM118.5 96.1h3.5v0.5h-3.5zM122.5 96.1h2v0.5h-2zM125 96.1h2.5v0.5h-2.5zM128 96.1h1.5v0.5h-1.5zM130 96.1h0.5v0.5h-0.5zM131 96.1h1.5v0.5h-1.5zM74 96.6h0.5v0.5h-0.5zM75.5 96.6h0.5v0.5h-0.5zM76.5 96.6h0.5v0.5h-0.5zM89 96.6h0.5v0.5h-0.5zM107.5 96.6h1v0.5h-1zM114 96.6h0.5v0.5h-0.5zM115 96.6h1v0.5h-1zM116.5 96.6h0.5v0.5h-0.5zM118 96.6h0.5v0.5h-0.5zM119 96.6h2.5v0.5h-2.5zM122.5 96.6h2.5v0.5h-2.5zM125.5 96.6h0.5v0.5h-0.5zM128 96.6h2v0.5h-2zM130.5 96.6h0.5v0.5h-0.5zM132.5 96.6h0.5v0.5h-0.5zM113.5 97.1h0.5v0.5h-0.5zM115.5 97.1h1v0.5h-1zM117.5 97.1h0.5v0.5h-0.5zM118.5 97.1h0.5v0.5h-0.5zM119.5 97.1h0.5v0.5h-0.5zM120.5 97.1h0.5v0.5h-0.5zM121.5 97.1h2.5v0.5h-2.5zM124.5 97.1h1v0.5h-1zM126 97.1h1.5v0.5h-1.5zM128 97.1h0.5v0.5h-0.5zM129.5 97.1h2v0.5h-2zM133 97.1h0.5v0.5h-0.5zM73 97.6h0.5v0.5h-0.5zM74 97.6h0.5v0.5h-0.5zM76.5 97.6h0.5v0.5h-0.5zM115.5 97.6h0.5v0.5h-0.5zM117 97.6h4.5v0.5h-4.5zM122 97.6h0.5v0.5h-0.5zM123 97.6h0.5v0.5h-0.5zM124 97.6h0.5v0.5h-0.5zM125.5 97.6h2v0.5h-2zM128.5 97.6h1.5v0.5h-1.5zM131.5 97.6h1.5v0.5h-1.5z" fill="#000"/><path d="M86.8 53.9L85.8 54.0 84.8 54.1 83.8 54.2 82.8 54.1 81.8 54.1 80.8 53.9 80.2 53.7 79.2 53.6 78.4 53.4 77.8 53.2 76.8 52.9 76.2 52.7 75.4 52.4 74.8 52.0 74.2 51.7 73.7 51.4 73.0 50.9 72.5 50.4 72.1 49.9 71.8 49.2 71.4 48.4 71.3 47.4 71.6 46.4 71.8 45.9 72.2 45.2 72.8 44.6 73.2 44.2 73.8 43.8 74.5 43.4 75.2 42.9 75.8 42.7 76.7 42.4 77.2 42.2 78.2 41.9 78.8 41.8 79.8 41.6 80.8 41.4 81.6 41.4 82.2 41.3 83.2 41.3 84.2 41.3 85.2 41.3 86.1 41.4 86.8 41.4 87.8 41.5 88.8 41.6 89.8 41.8 90.2 41.9 91.2 42.1 92.2 42.3 92.8 42.4 93.8 42.8 94.2 42.9 95.2 43.4 95.8 43.6 96.2 43.9 96.8 44.4 97.4 44.9 97.8 45.4 98.2 46.0 98.5 46.9 98.5 47.9 98.2 48.8 97.9 49.4 97.5 49.9 97.0 50.4 96.3 50.9 95.8 51.2 95.2 51.5 94.5 51.9 93.8 52.2 93.2 52.4 92.2 52.7 91.6 52.9 90.8 53.1 89.8 53.3 89.2 53.4 88.2 53.7 87.2 53.8 86.8 53.9M87.8 89.9L86.8 89.9 85.8 89.9 85.2 89.8 84.2 89.7 83.2 89.6 82.2 89.5 81.2 89.4 80.8 89.3 79.8 89.1 79.2 88.4 78.8 87.8 78.4 87.3 78.0 86.8 77.7 86.3 77.8 85.6 77.8 84.8 77.8 83.8 77.8 82.8 77.9 81.8 77.9 80.8 77.9 79.8 78.1 78.8 78.6 78.3 79.2 77.8 79.7 77.3 80.2 76.8 80.8 76.4 81.2 75.9 81.4 75.3 81.4 74.3 81.4 73.3 81.5 72.3 81.5 71.3 81.5 70.3 81.5 69.3 81.6 68.3 81.6 67.3 81.6 66.3 81.7 65.3 81.7 64.3 81.7 63.4 81.8 62.6 81.8 61.9 81.8 60.9 81.8 59.9 81.8 58.9 81.7 58.4 81.6 57.4 81.5 56.4 81.8 55.4 82.8 55.4 83.2 55.3 84.2 55.3 84.8 55.4 85.8 55.4 86.8 55.4 87.8 55.5 88.8 55.5 89.8 55.6 90.8 55.7 91.8 55.7 92.8 55.8 93.3 55.9 94.2 55.9 95.2 55.9 96.2 56.0 97.2 56.3 97.8 56.5 98.8 56.8 99.2 57.0 100.2 57.3 100.8 57.7 101.2 58.3 101.7 58.9 102.2 59.4 102.6 59.9 103.0 60.4 103.4 60.9 103.7 61.9 103.8 62.4 104.1 63.4 104.2 64.2 104.4 64.8 104.6 65.8 104.8 66.5 104.9 67.3 104.9 68.3 104.9 69.3 104.9 70.3 105.0 71.3 105.0 72.3 105.0 73.3 105.1 74.3 105.2 75.3 105.8 75.4 106.8 75.4 107.8 75.5 108.8 75.5 109.8 75.6 110.8 75.6 111.8 75.7 112.8 75.7 113.8 75.8 114.8 75.8 115.2 75.9 116.2 76.1 116.8 76.5 117.2 76.9 117.8 77.3 118.4 77.8 119.0 78.3 119.5 78.8 119.7 79.8 119.8 80.7 119.8 81.3 119.8 82.3 119.8 83.3 119.8 84.3 119.8 85.3 119.8 85.9 119.2 86.4 118.6 86.8 117.9 87.3 117.2 87.8 116.8 88.1 116.2 88.5 115.7 88.8 114.8 89.3 113.8 89.3 112.8 89.3 111.8 89.3 110.8 89.3 109.8 89.3 108.8 89.3 107.8 89.3 106.8 89.3 106.2 89.4 105.2 89.4 104.2 89.4 103.2 89.4 102.2 89.4 101.5 89.3 100.8 89.3 99.8 89.3 98.8 89.3 97.8 89.3 96.8 89.3 95.8 89.3 94.8 89.3 93.8 89.3 93.2 89.4 92.2 89.4 91.2 89.5 90.2 89.6 89.2 89.7 88.2 89.8 87.8 89.9" stroke="#111" stroke-width="0.8" fill="none"/><path d="M87.2 52.9L86.2 53.0 85.2 53.1 84.2 53.1 83.2 53.1 82.2 53.1 81.2 53.0 80.5 52.9 79.8 52.7 78.8 52.5 78.2 52.4 77.2 52.0 76.8 51.8 75.8 51.4 75.2 51.0 74.8 50.7 74.2 50.2 73.8 49.7 73.2 48.9 73.1 48.4 73.0 47.4 73.2 46.4 73.5 45.9 73.9 45.4 74.4 44.9 75.0 44.4 75.8 43.9 76.2 43.6 76.8 43.4 77.8 43.0 78.2 42.8 79.2 42.6 80.2 42.4 80.8 42.3 81.8 42.2 82.8 42.1 83.8 42.1 84.8 42.1 85.8 42.1 86.8 42.2 87.8 42.3 88.3 42.4 89.2 42.5 90.2 42.6 91.2 42.8 91.8 42.9 92.8 43.2 93.2 43.4 94.2 43.7 94.8 44.0 95.4 44.4 96.1 44.9 96.6 45.4 97.0 45.9 97.3 46.4 97.5 47.4 97.3 48.4 97.1 48.9 96.7 49.4 96.2 49.9 95.6 50.4 94.8 50.8 94.2 51.1 93.7 51.4 92.8 51.7 92.2 51.9 91.2 52.1 90.3 52.4 89.8 52.5 88.8 52.7 87.8 52.8 87.2 52.9M89.8 89.4L88.8 89.5 87.8 89.6 86.8 89.7 85.8 89.6 84.8 89.5 83.8 89.4 83.2 89.3 82.2 89.2 81.2 89.1 80.2 89.0 79.8 88.5 79.2 87.9 78.8 87.3 78.4 86.8 78.1 86.3 78.1 85.3 78.1 84.3 78.2 83.3 78.2 82.3 78.2 81.3 78.2 80.4 78.3 79.8 78.6 78.8 79.1 78.3 79.7 77.8 80.2 77.3 80.7 76.8 81.2 76.4 81.7 75.8 81.7 74.8 81.8 74.2 81.8 73.3 81.8 72.3 81.8 71.3 81.8 70.3 81.9 69.3 81.9 68.3 81.9 67.3 82.0 66.3 82.0 65.3 82.0 64.3 82.1 63.4 82.1 62.4 82.1 61.4 82.1 60.4 82.1 59.4 82.1 58.4 82.0 57.4 81.9 56.4 82.8 56.0 83.8 56.0 84.8 56.0 85.8 56.0 86.8 56.0 87.8 56.0 88.8 56.0 89.8 56.1 90.8 56.1 91.8 56.2 92.8 56.2 93.8 56.3 94.8 56.3 95.8 56.3 96.2 56.4 97.2 56.7 97.8 56.9 98.8 57.2 99.2 57.4 100.2 57.7 100.8 58.2 101.2 58.8 101.7 59.4 102.1 59.9 102.5 60.4 103.0 60.9 103.3 61.4 103.5 62.4 103.7 63.4 103.8 63.9 104.0 64.8 104.2 65.8 104.3 66.3 104.5 67.3 104.5 68.3 104.5 69.3 104.6 70.3 104.6 71.3 104.6 72.3 104.7 73.3 104.7 74.3 104.8 75.0 105.2 75.7 106.2 75.7 107.2 75.8 108.2 75.8 108.8 75.9 109.8 75.9 110.8 76.0 111.8 76.0 112.8 76.1 113.8 76.1 114.8 76.2 115.8 76.2 116.2 76.5 116.8 76.9 117.2 77.4 117.8 77.8 118.4 78.3 119.0 78.8 119.3 79.3 119.4 80.3 119.4 81.3 119.5 82.3 119.5 83.3 119.5 84.3 119.4 85.3 119.2 86.0 118.8 86.4 118.0 86.8 117.3 87.3 116.8 87.7 116.2 88.1 115.8 88.4 115.0 88.8 114.2 89.0 113.2 89.0 112.2 89.0 111.2 89.0 110.2 89.0 109.2 89.0 108.2 89.0 107.2 89.0 106.2 89.0 105.2 89.0 104.2 89.0 103.2 89.0 102.2 89.0 101.2 89.0 100.2 89.0 99.2 89.0 98.2 89.0 97.2 89.0 96.2 89.0 95.2 89.0 94.2 89.0 93.2 89.0 92.2 89.1 91.2 89.2 90.2 89.3 89.8 89.4" stroke="#888" stroke-width="0.5" fill="none"/><path d="M87.8 51.9L86.8 52.0 85.8 52.1 84.8 52.1 83.8 52.1 82.8 52.1 81.8 52.0 80.9 51.9 80.2 51.7 79.2 51.5 78.8 51.3 77.8 50.9 77.2 50.7 76.7 50.4 76.1 49.9 75.6 49.4 75.2 48.8 74.9 47.9 75.0 46.9 75.3 46.4 75.8 45.7 76.2 45.2 76.8 44.8 77.6 44.4 78.2 44.1 78.9 43.9 79.8 43.6 80.8 43.4 81.2 43.3 82.2 43.2 83.2 43.1 84.2 43.1 85.2 43.1 86.2 43.1 87.2 43.1 88.2 43.2 89.2 43.3 89.8 43.4 90.8 43.6 91.8 43.8 92.2 43.9 93.2 44.3 93.8 44.5 94.4 44.9 95.1 45.4 95.6 45.9 96.0 46.4 96.2 47.4 96.0 48.4 95.7 48.9 95.2 49.4 94.6 49.9 93.8 50.3 93.2 50.6 92.5 50.9 91.8 51.1 90.8 51.3 90.2 51.5 89.2 51.6 88.2 51.8 87.8 51.9M86.8 89.4L86.2 89.3 85.2 89.3 84.2 89.2 83.2 89.0 82.5 88.8 81.8 88.7 80.8 88.5 80.2 88.3 79.8 87.7 79.2 87.1 78.8 86.4 78.6 85.8 78.6 84.8 78.7 83.8 78.7 82.8 78.7 81.8 78.8 81.3 78.8 80.3 78.9 79.3 79.4 78.8 80.0 78.3 80.5 77.8 81.0 77.3 81.5 76.8 82.0 76.3 82.2 75.3 82.2 74.3 82.2 73.3 82.3 72.8 82.3 71.8 82.3 70.8 82.3 69.8 82.4 68.8 82.4 67.8 82.5 66.8 82.5 65.8 82.6 64.8 82.6 63.9 82.6 62.9 82.7 61.9 82.7 60.9 82.7 59.9 82.6 58.9 82.5 57.9 82.4 56.9 83.2 56.6 84.2 56.6 85.2 56.6 86.2 56.6 87.2 56.6 88.2 56.6 89.2 56.6 90.2 56.7 91.2 56.7 92.2 56.8 93.2 56.8 94.2 56.8 94.8 56.9 95.8 56.9 96.8 57.1 97.5 57.4 98.2 57.6 98.9 57.9 99.8 58.2 100.2 58.5 100.8 59.1 101.2 59.7 101.8 60.3 102.2 60.9 102.6 61.4 102.8 61.9 103.0 62.9 103.2 63.9 103.3 64.3 103.5 65.3 103.8 66.3 103.9 66.8 103.9 67.8 103.9 68.8 104.0 69.8 104.0 70.8 104.0 71.8 104.0 72.8 104.1 73.8 104.2 74.8 104.3 75.3 104.8 76.1 105.8 76.2 106.8 76.2 107.8 76.3 108.8 76.3 109.2 76.4 110.2 76.4 111.2 76.5 112.2 76.6 113.2 76.6 114.2 76.7 115.2 76.7 115.8 76.8 116.4 77.3 117.1 77.8 117.7 78.3 118.2 78.8 118.8 79.2 118.9 79.8 118.9 80.8 119.0 81.8 119.0 82.8 119.0 83.8 119.0 84.8 118.8 85.7 118.2 86.1 117.8 86.5 117.2 86.8 116.4 87.3 115.8 87.8 115.2 88.1 114.8 88.4 113.8 88.5 112.8 88.5 111.8 88.5 110.8 88.5 109.8 88.5 108.8 88.5 107.8 88.5 106.8 88.6 105.8 88.6 104.8 88.6 103.8 88.6 102.8 88.6 101.8 88.6 100.8 88.6 99.8 88.5 98.8 88.5 97.8 88.5 96.8 88.5 95.8 88.5 94.8 88.5 93.8 88.5 92.8 88.6 91.8 88.7 91.1 88.8 90.2 89.0 89.2 89.2 88.2 89.3 87.2 89.3 86.8 89.4" stroke="#888" stroke-width="0.5" fill="none"/><path d="M86.8 50.9L85.8 50.9 84.8 50.9 83.8 50.9 82.9 50.9 82.2 50.8 81.2 50.6 80.4 50.4 79.8 50.1 79.2 49.9 78.4 49.4 77.9 48.9 77.6 48.4 77.5 47.4 77.8 46.6 78.2 46.0 78.8 45.6 79.2 45.3 80.2 44.9 80.8 44.7 81.8 44.5 82.6 44.4 83.2 44.3 84.2 44.2 85.2 44.2 86.2 44.2 87.2 44.2 88.2 44.3 88.9 44.4 89.8 44.5 90.8 44.6 91.7 44.9 92.2 45.0 93.0 45.4 93.7 45.9 94.2 46.4 94.5 46.9 94.5 47.9 94.2 48.4 93.8 48.9 93.2 49.4 92.2 49.8 91.8 50.0 90.8 50.3 90.2 50.4 89.2 50.6 88.2 50.7 87.2 50.8 86.8 50.9M88.8 88.9L87.8 89.0 86.8 89.0 85.8 89.0 84.8 88.8 84.2 88.8 83.2 88.5 82.7 88.3 81.8 88.0 81.2 87.8 80.7 87.3 80.2 86.6 79.9 85.8 79.9 84.8 80.0 83.8 80.2 82.8 80.4 82.3 80.8 81.4 81.1 80.8 81.5 80.3 81.9 79.8 82.3 79.3 82.8 78.7 83.1 77.8 83.3 77.3 83.5 76.3 83.5 75.3 83.4 74.3 83.4 73.3 83.4 72.3 83.4 71.3 83.5 70.3 83.5 69.3 83.6 68.3 83.7 67.3 83.8 66.8 84.0 65.8 84.2 64.8 84.3 64.3 84.6 63.4 84.8 62.9 85.2 61.9 85.4 61.4 85.6 60.4 85.2 59.5 84.8 58.9 84.8 58.8 85.2 58.3 86.2 58.2 87.2 58.2 88.2 58.2 89.2 58.2 90.2 58.4 90.8 58.5 91.5 58.9 92.1 59.4 92.5 59.9 92.8 60.4 93.2 61.0 93.8 61.7 94.2 62.4 94.5 62.9 94.8 63.4 95.2 64.3 95.4 64.8 95.8 65.7 96.0 66.3 96.2 67.3 96.3 67.8 96.5 68.8 96.7 69.8 96.7 70.8 96.8 71.3 96.8 72.3 96.8 73.3 97.0 74.3 97.2 75.0 97.8 75.5 98.5 75.8 99.2 76.0 100.2 76.0 101.2 76.0 102.2 76.1 102.8 76.3 103.8 76.8 104.2 77.0 105.2 77.1 106.2 77.2 107.2 77.2 108.2 77.3 109.0 77.3 109.8 77.4 110.8 77.5 111.8 77.7 112.8 77.8 113.4 77.8 114.2 78.0 115.2 78.2 115.8 78.5 116.2 78.9 116.9 79.3 117.6 79.8 117.8 80.3 117.9 81.3 118.0 82.3 118.0 83.3 117.9 84.3 117.8 84.9 117.2 85.4 116.5 85.8 115.8 86.3 115.2 86.6 114.7 86.8 113.8 87.1 112.8 87.3 112.0 87.3 111.2 87.4 110.2 87.5 109.2 87.5 108.2 87.6 107.2 87.6 106.2 87.7 105.2 87.7 104.2 87.7 103.2 87.7 102.2 87.7 101.2 87.7 100.2 87.6 99.2 87.6 98.2 87.5 97.2 87.5 96.2 87.4 95.2 87.4 94.2 87.4 93.2 87.6 92.6 87.8 91.8 88.1 91.0 88.3 90.2 88.5 89.2 88.8 88.8 88.9" stroke="#777" stroke-width="0.5" fill="none"/><path d="M88.2 49.4L87.2 49.6 86.2 49.7 85.2 49.8 84.2 49.8 83.2 49.7 82.2 49.4 81.8 49.2 81.0 48.9 80.5 48.4 80.3 47.4 80.8 46.6 81.2 46.2 82.0 45.9 82.8 45.6 83.8 45.4 84.8 45.4 85.2 45.3 85.8 45.4 86.8 45.4 87.8 45.6 88.8 45.8 89.3 45.9 90.2 46.1 90.9 46.4 91.6 46.9 91.8 47.4 91.7 47.9 91.1 48.4 90.2 48.8 89.8 48.9 88.8 49.2 88.2 49.4M89.8 76.4L89.2 76.3 88.5 75.8 88.1 75.3 87.7 74.8 87.4 73.8 87.2 73.3 87.1 72.3 87.2 71.3 87.2 70.7 87.5 69.8 87.8 69.3 88.2 68.6 88.8 68.1 89.8 68.0 90.5 68.3 91.0 68.8 91.3 69.3 91.7 70.3 91.8 70.8 91.9 71.8 91.8 72.8 91.8 73.4 91.5 74.3 91.2 75.0 90.8 75.8 90.2 76.3 89.8 76.4M105.8 85.4L104.8 85.4 103.8 85.4 102.8 85.4 102.2 85.3 101.2 85.2 100.2 85.1 99.3 84.8 98.8 84.7 97.8 84.3 97.2 84.1 96.8 83.8 96.1 83.3 95.6 82.8 95.7 81.8 96.2 81.3 96.8 81.0 97.2 80.8 98.2 80.4 98.8 80.3 99.8 80.0 100.5 79.8 101.2 79.7 102.2 79.6 103.2 79.6 104.2 79.6 105.2 79.6 106.2 79.7 107.2 79.8 107.8 79.9 108.8 80.2 109.3 80.3 110.2 80.7 110.8 81.0 111.2 81.4 111.8 82.1 111.8 82.8 111.5 83.3 111.0 83.8 110.2 84.3 109.8 84.5 108.8 84.8 108.2 85.0 107.2 85.2 106.2 85.3 105.8 85.4M88.8 88.4L87.8 88.6 86.8 88.6 85.8 88.6 84.8 88.4 84.2 88.2 83.4 87.8 82.8 87.4 82.3 86.8 82.1 86.3 81.8 85.3 81.9 84.3 82.2 83.5 82.6 82.8 83.0 82.3 83.5 81.8 84.2 81.3 84.8 81.0 85.2 80.8 86.2 80.4 86.8 80.3 87.8 80.0 88.8 79.9 89.8 80.1 90.3 80.3 91.1 80.8 91.8 81.3 92.2 81.8 92.7 82.3 92.9 82.8 92.8 83.8 92.7 84.3 92.3 85.3 92.1 85.8 91.8 86.4 91.2 87.0 90.8 87.5 90.1 87.8 89.2 88.2 88.8 88.4" stroke="#777" stroke-width="0.5" fill="none"/><path d="M86.2 48.5L85.2 48.8 84.2 48.8 83.2 48.5 82.8 48.3 82.4 47.4 82.8 46.9 83.8 46.5 84.8 46.4 85.8 46.5 86.8 46.8 87.2 47.3 87.2 47.5 86.8 48.3 86.2 48.5M88.2 87.9L87.2 88.1 86.2 88.1 85.2 87.9 84.8 87.7 84.1 87.3 83.6 86.8 83.2 86.1 83.1 85.3 83.2 84.6 83.6 83.8 83.9 83.3 84.5 82.8 85.2 82.4 85.8 82.1 86.8 81.9 87.8 82.0 88.8 82.3 89.2 82.5 89.8 83.0 90.2 83.7 90.5 84.3 90.6 85.3 90.2 86.3 89.9 86.8 89.4 87.3 88.8 87.7 88.2 87.9" stroke="#666" stroke-width="0.5" fill="none"/><path d="M87.8 87.5L86.8 87.7 85.8 87.5 85.2 87.3 84.6 86.8 84.2 86.3 84.1 85.3 84.3 84.8 84.8 84.2 85.2 83.8 86.2 83.3 86.8 83.3 87.5 83.3 88.2 83.6 88.8 84.0 89.2 84.8 89.4 85.3 89.2 86.3 88.9 86.8 88.2 87.3 87.8 87.5" stroke="#555" stroke-width="0.55" fill="none"/><path d="M87.8 86.9L86.8 87.1 85.8 86.9 85.2 86.5 84.9 85.8 85.2 85.0 85.8 84.6 86.8 84.4 87.8 84.6 88.2 85.0 88.5 85.8 88.2 86.5 87.8 86.9" stroke="#333" stroke-width="0.6" fill="none"/><path d="M86.8 86.4L86.2 86.2 86.2 85.5 86.8 85.3 87.2 85.5 87.2 86.1 86.8 86.4" stroke="#222" stroke-width="0.7" fill="none"/></g><clipPath id="c23_113"><rect x="23.3" y="113.3" width="75.8" height="75.7"/></clipPath><g clip-path="url(#c23_113)"><path d="M62.3 134.3h0.5v0.5h-0.5zM62.8 134.8h0.5v0.5h-0.5zM64.3 134.8h0.5v0.5h-0.5zM62.8 135.3h0.5v0.5h-0.5zM64.8 135.3h0.5v0.5h-0.5zM65.8 135.3h0.5v0.5h-0.5zM61.3 135.8h0.5v0.5h-0.5zM62.3 135.8h0.5v0.5h-0.5zM63.3 135.8h1v0.5h-1zM67.3 135.8h0.5v0.5h-0.5zM59.3 136.3h0.5v0.5h-0.5zM60.3 136.3h1v0.5h-1zM64.3 136.3h1v0.5h-1zM66.3 136.3h0.5v0.5h-0.5zM58.8 136.8h1v0.5h-1zM61.8 136.8h4.5v0.5h-4.5zM66.8 136.8h0.5v0.5h-0.5zM67.8 136.8h0.5v0.5h-0.5zM68.8 136.8h0.5v0.5h-0.5zM58.3 137.3h0.5v0.5h-0.5zM59.3 137.3h0.5v0.5h-0.5zM60.3 137.3h1.5v0.5h-1.5zM66.3 137.3h0.5v0.5h-0.5zM67.3 137.3h1v0.5h-1zM69.3 137.3h0.5v0.5h-0.5zM54.8 137.8h0.5v0.5h-0.5zM55.8 137.8h0.5v0.5h-0.5zM58.8 137.8h2v0.5h-2zM66.3 137.8h2v0.5h-2zM54.3 138.3h0.5v0.5h-0.5zM56.8 138.3h3v0.5h-3zM67.3 138.3h0.5v0.5h-0.5zM68.3 138.3h0.5v0.5h-0.5zM53.8 138.8h0.5v0.5h-0.5zM58.3 138.8h1v0.5h-1zM67.8 138.8h1v0.5h-1zM55.3 139.3h0.5v0.5h-0.5zM56.3 139.3h1.5v0.5h-1.5zM58.3 139.3h0.5v0.5h-0.5zM68.3 139.3h2.5v0.5h-2.5zM55.3 139.8h1v0.5h-1zM56.8 139.8h0.5v0.5h-0.5zM57.8 139.8h1v0.5h-1zM68.8 139.8h0.5v0.5h-0.5zM71.3 139.8h0.5v0.5h-0.5zM54.3 140.3h0.5v0.5h-0.5zM55.8 140.3h0.5v0.5h-0.5zM56.8 140.3h1v0.5h-1zM68.8 140.3h1.5v0.5h-1.5zM51.8 140.8h1v0.5h-1zM53.3 140.8h0.5v0.5h-0.5zM54.3 140.8h0.5v0.5h-0.5zM69.3 140.8h0.5v0.5h-0.5zM71.8 140.8h0.5v0.5h-0.5zM50.3 141.3h0.5v0.5h-0.5zM52.8 141.3h0.5v0.5h-0.5zM54.8 141.3h0.5v0.5h-0.5zM56.3 141.3h1.5v0.5h-1.5zM69.3 141.3h0.5v0.5h-0.5zM70.3 141.3h1.5v0.5h-1.5zM51.3 141.8h0.5v0.5h-0.5zM53.8 141.8h0.5v0.5h-0.5zM55.8 141.8h2v0.5h-2zM69.8 141.8h0.5v0.5h-0.5zM48.3 142.3h0.5v0.5h-0.5zM51.8 142.3h0.5v0.5h-0.5zM52.8 142.3h0.5v0.5h-0.5zM54.3 142.3h1v0.5h-1zM55.8 142.3h0.5v0.5h-0.5zM56.8 142.3h0.5v0.5h-0.5zM69.8 142.3h1v0.5h-1zM71.3 142.3h0.5v0.5h-0.5zM72.3 142.3h0.5v0.5h-0.5zM49.8 142.8h1v0.5h-1zM52.8 142.8h0.5v0.5h-0.5zM54.3 142.8h0.5v0.5h-0.5zM55.3 142.8h0.5v0.5h-0.5zM56.8 142.8h0.5v0.5h-0.5zM69.8 142.8h2v0.5h-2zM48.8 143.3h0.5v0.5h-0.5zM49.8 143.3h0.5v0.5h-0.5zM53.3 143.3h0.5v0.5h-0.5zM54.3 143.3h0.5v0.5h-0.5zM55.3 143.3h0.5v0.5h-0.5zM56.3 143.3h1v0.5h-1zM70.8 143.3h0.5v0.5h-0.5zM71.8 143.3h1v0.5h-1zM50.8 143.8h0.5v0.5h-0.5zM52.3 143.8h0.5v0.5h-0.5zM53.8 143.8h0.5v0.5h-0.5zM54.8 143.8h1v0.5h-1zM56.3 143.8h0.5v0.5h-0.5zM71.8 143.8h0.5v0.5h-0.5zM47.8 144.3h1v0.5h-1zM51.8 144.3h0.5v0.5h-0.5zM53.3 144.3h3.5v0.5h-3.5zM70.3 144.3h1.5v0.5h-1.5zM49.8 144.8h0.5v0.5h-0.5zM52.3 144.8h0.5v0.5h-0.5zM53.8 144.8h1v0.5h-1zM56.3 144.8h0.5v0.5h-0.5zM70.3 144.8h0.5v0.5h-0.5zM71.8 144.8h0.5v0.5h-0.5zM47.8 145.3h1v0.5h-1zM49.8 145.3h0.5v0.5h-0.5zM53.3 145.3h1v0.5h-1zM54.8 145.3h1v0.5h-1zM56.3 145.3h0.5v0.5h-0.5zM70.3 145.3h0.5v0.5h-0.5zM50.8 145.8h1v0.5h-1zM53.3 145.8h1v0.5h-1zM55.3 145.8h0.5v0.5h-0.5zM56.3 145.8h0.5v0.5h-0.5zM70.3 145.8h0.5v0.5h-0.5zM50.3 146.3h0.5v0.5h-0.5zM53.8 146.3h3v0.5h-3zM70.3 146.3h1.5v0.5h-1.5zM51.8 146.8h1v0.5h-1zM53.8 146.8h1v0.5h-1zM55.3 146.8h1.5v0.5h-1.5zM50.3 147.3h0.5v0.5h-0.5zM51.3 147.3h0.5v0.5h-0.5zM52.3 147.3h0.5v0.5h-0.5zM54.3 147.3h2.5v0.5h-2.5zM70.3 147.3h0.5v0.5h-0.5zM72.3 147.3h0.5v0.5h-0.5zM43.3 147.8h0.5v0.5h-0.5zM52.3 147.8h1.5v0.5h-1.5zM54.3 147.8h0.5v0.5h-0.5zM56.3 147.8h0.5v0.5h-0.5zM70.8 147.8h0.5v0.5h-0.5zM53.8 148.3h1v0.5h-1zM55.3 148.3h1.5v0.5h-1.5zM70.3 148.3h0.5v0.5h-0.5zM72.8 148.3h0.5v0.5h-0.5zM50.8 148.8h1v0.5h-1zM54.8 148.8h0.5v0.5h-0.5zM56.3 148.8h0.5v0.5h-0.5zM70.8 148.8h0.5v0.5h-0.5zM44.8 149.3h0.5v0.5h-0.5zM47.8 149.3h0.5v0.5h-0.5zM50.8 149.3h1v0.5h-1zM54.8 149.3h2v0.5h-2zM70.3 149.3h0.5v0.5h-0.5zM40.3 149.8h0.5v0.5h-0.5zM43.8 149.8h0.5v0.5h-0.5zM45.8 149.8h0.5v0.5h-0.5zM46.8 149.8h0.5v0.5h-0.5zM52.8 149.8h0.5v0.5h-0.5zM55.3 149.8h1.5v0.5h-1.5zM69.8 149.8h1v0.5h-1zM43.3 150.3h0.5v0.5h-0.5zM45.8 150.3h0.5v0.5h-0.5zM46.8 150.3h0.5v0.5h-0.5zM48.8 150.3h0.5v0.5h-0.5zM52.3 150.3h1v0.5h-1zM55.3 150.3h2v0.5h-2zM69.8 150.3h0.5v0.5h-0.5zM49.3 150.8h0.5v0.5h-0.5zM55.3 150.8h1.5v0.5h-1.5zM69.8 150.8h1v0.5h-1zM51.3 151.3h0.5v0.5h-0.5zM53.8 151.3h1v0.5h-1zM55.8 151.3h1v0.5h-1zM69.8 151.3h0.5v0.5h-0.5zM36.8 151.8h0.5v0.5h-0.5zM41.8 151.8h0.5v0.5h-0.5zM42.8 151.8h0.5v0.5h-0.5zM44.3 151.8h0.5v0.5h-0.5zM45.3 151.8h0.5v0.5h-0.5zM46.8 151.8h0.5v0.5h-0.5zM48.8 151.8h0.5v0.5h-0.5zM53.8 151.8h0.5v0.5h-0.5zM55.3 151.8h1v0.5h-1zM56.8 151.8h0.5v0.5h-0.5zM69.3 151.8h1v0.5h-1zM71.8 151.8h0.5v0.5h-0.5zM40.8 152.3h0.5v0.5h-0.5zM46.3 152.3h1v0.5h-1zM47.8 152.3h0.5v0.5h-0.5zM48.8 152.3h0.5v0.5h-0.5zM49.8 152.3h1v0.5h-1zM52.3 152.3h1v0.5h-1zM53.8 152.3h1v0.5h-1zM55.3 152.3h0.5v0.5h-0.5zM56.8 152.3h0.5v0.5h-0.5zM69.3 152.3h1.5v0.5h-1.5zM41.8 152.8h0.5v0.5h-0.5zM44.8 152.8h0.5v0.5h-0.5zM45.8 152.8h0.5v0.5h-0.5zM47.3 152.8h0.5v0.5h-0.5zM48.3 152.8h4v0.5h-4zM52.8 152.8h0.5v0.5h-0.5zM53.8 152.8h0.5v0.5h-0.5zM55.3 152.8h2v0.5h-2zM69.3 152.8h0.5v0.5h-0.5zM41.3 153.3h0.5v0.5h-0.5zM43.3 153.3h0.5v0.5h-0.5zM47.3 153.3h0.5v0.5h-0.5zM48.3 153.3h2v0.5h-2zM50.8 153.3h0.5v0.5h-0.5zM54.8 153.3h1.5v0.5h-1.5zM56.8 153.3h1v0.5h-1zM69.3 153.3h1v0.5h-1zM40.8 153.8h0.5v0.5h-0.5zM41.8 153.8h0.5v0.5h-0.5zM42.8 153.8h0.5v0.5h-0.5zM43.8 153.8h0.5v0.5h-0.5zM45.3 153.8h0.5v0.5h-0.5zM48.3 153.8h1v0.5h-1zM50.3 153.8h1.5v0.5h-1.5zM52.3 153.8h2v0.5h-2zM54.8 153.8h2v0.5h-2zM69.3 153.8h1.5v0.5h-1.5zM39.3 154.3h0.5v0.5h-0.5zM40.3 154.3h0.5v0.5h-0.5zM41.8 154.3h0.5v0.5h-0.5zM42.8 154.3h0.5v0.5h-0.5zM44.3 154.3h0.5v0.5h-0.5zM45.3 154.3h0.5v0.5h-0.5zM47.3 154.3h1v0.5h-1zM48.8 154.3h1v0.5h-1zM50.3 154.3h0.5v0.5h-0.5zM51.8 154.3h1v0.5h-1zM53.8 154.3h3.5v0.5h-3.5zM69.3 154.3h1v0.5h-1zM39.8 154.8h0.5v0.5h-0.5zM41.3 154.8h0.5v0.5h-0.5zM42.8 154.8h0.5v0.5h-0.5zM44.3 154.8h0.5v0.5h-0.5zM45.8 154.8h0.5v0.5h-0.5zM47.8 154.8h0.5v0.5h-0.5zM49.3 154.8h0.5v0.5h-0.5zM50.3 154.8h1.5v0.5h-1.5zM52.3 154.8h1.5v0.5h-1.5zM54.3 154.8h2.5v0.5h-2.5zM68.8 154.8h1.5v0.5h-1.5zM40.8 155.3h1.5v0.5h-1.5zM44.3 155.3h0.5v0.5h-0.5zM45.3 155.3h1v0.5h-1zM46.8 155.3h1v0.5h-1zM48.3 155.3h0.5v0.5h-0.5zM49.3 155.3h4.5v0.5h-4.5zM54.3 155.3h1.5v0.5h-1.5zM69.3 155.3h0.5v0.5h-0.5zM40.3 155.8h1v0.5h-1zM44.3 155.8h0.5v0.5h-0.5zM45.3 155.8h0.5v0.5h-0.5zM46.3 155.8h1v0.5h-1zM47.8 155.8h2.5v0.5h-2.5zM50.8 155.8h1v0.5h-1zM52.3 155.8h1.5v0.5h-1.5zM69.8 155.8h0.5v0.5h-0.5zM37.8 156.3h2v0.5h-2zM40.3 156.3h0.5v0.5h-0.5zM41.3 156.3h1.5v0.5h-1.5zM43.3 156.3h1.5v0.5h-1.5zM46.3 156.3h2v0.5h-2zM48.8 156.3h3v0.5h-3zM68.8 156.3h0.5v0.5h-0.5zM38.8 156.8h0.5v0.5h-0.5zM40.8 156.8h2v0.5h-2zM43.8 156.8h1v0.5h-1zM45.3 156.8h1v0.5h-1zM46.8 156.8h0.5v0.5h-0.5zM47.8 156.8h1v0.5h-1zM49.3 156.8h1.5v0.5h-1.5zM68.8 156.8h1.5v0.5h-1.5zM41.3 157.3h0.5v0.5h-0.5zM42.3 157.3h3.5v0.5h-3.5zM46.3 157.3h0.5v0.5h-0.5zM47.3 157.3h2.5v0.5h-2.5zM68.8 157.3h1v0.5h-1zM71.3 157.3h0.5v0.5h-0.5zM36.3 157.8h0.5v0.5h-0.5zM38.8 157.8h0.5v0.5h-0.5zM40.3 157.8h0.5v0.5h-0.5zM41.3 157.8h6.5v0.5h-6.5zM48.3 157.8h0.5v0.5h-0.5zM69.3 157.8h1v0.5h-1zM70.8 157.8h1v0.5h-1zM37.3 158.3h0.5v0.5h-0.5zM38.3 158.3h0.5v0.5h-0.5zM39.8 158.3h1v0.5h-1zM41.3 158.3h3v0.5h-3zM44.8 158.3h1.5v0.5h-1.5zM46.8 158.3h1.5v0.5h-1.5zM69.3 158.3h1v0.5h-1zM70.8 158.3h0.5v0.5h-0.5zM40.3 158.8h0.5v0.5h-0.5zM41.3 158.8h0.5v0.5h-0.5zM42.3 158.8h0.5v0.5h-0.5zM44.3 158.8h0.5v0.5h-0.5zM45.3 158.8h2v0.5h-2zM69.3 158.8h1.5v0.5h-1.5zM34.8 159.3h0.5v0.5h-0.5zM38.8 159.3h1v0.5h-1zM40.3 159.3h3v0.5h-3zM43.8 159.3h0.5v0.5h-0.5zM45.8 159.3h1.5v0.5h-1.5zM69.3 159.3h1v0.5h-1zM70.8 159.3h0.5v0.5h-0.5zM38.3 159.8h0.5v0.5h-0.5zM39.3 159.8h1v0.5h-1zM40.8 159.8h1.5v0.5h-1.5zM43.3 159.8h0.5v0.5h-0.5zM44.3 159.8h2.5v0.5h-2.5zM69.8 159.8h0.5v0.5h-0.5zM38.8 160.3h0.5v0.5h-0.5zM39.8 160.3h0.5v0.5h-0.5zM40.8 160.3h3v0.5h-3zM44.3 160.3h0.5v0.5h-0.5zM45.3 160.3h1v0.5h-1zM69.3 160.3h1v0.5h-1zM37.3 160.8h0.5v0.5h-0.5zM38.3 160.8h0.5v0.5h-0.5zM40.3 160.8h0.5v0.5h-0.5zM41.3 160.8h0.5v0.5h-0.5zM42.3 160.8h3.5v0.5h-3.5zM69.3 160.8h0.5v0.5h-0.5zM34.8 161.3h0.5v0.5h-0.5zM35.8 161.3h0.5v0.5h-0.5zM37.8 161.3h0.5v0.5h-0.5zM39.8 161.3h0.5v0.5h-0.5zM40.8 161.3h0.5v0.5h-0.5zM42.3 161.3h1v0.5h-1zM43.8 161.3h2v0.5h-2zM69.3 161.3h0.5v0.5h-0.5zM70.3 161.3h1v0.5h-1zM36.3 161.8h0.5v0.5h-0.5zM37.3 161.8h0.5v0.5h-0.5zM39.3 161.8h0.5v0.5h-0.5zM40.3 161.8h0.5v0.5h-0.5zM41.3 161.8h1v0.5h-1zM43.3 161.8h1v0.5h-1zM44.8 161.8h0.5v0.5h-0.5zM69.3 161.8h1v0.5h-1zM71.3 161.8h0.5v0.5h-0.5zM40.3 162.3h0.5v0.5h-0.5zM41.3 162.3h0.5v0.5h-0.5zM42.3 162.3h3v0.5h-3zM68.8 162.3h1v0.5h-1zM35.8 162.8h0.5v0.5h-0.5zM37.8 162.8h1v0.5h-1zM39.3 162.8h0.5v0.5h-0.5zM40.3 162.8h0.5v0.5h-0.5zM41.3 162.8h3v0.5h-3zM44.8 162.8h0.5v0.5h-0.5zM68.8 162.8h0.5v0.5h-0.5zM35.3 163.3h0.5v0.5h-0.5zM38.3 163.3h1v0.5h-1zM40.3 163.3h0.5v0.5h-0.5zM41.3 163.3h1.5v0.5h-1.5zM43.3 163.3h1.5v0.5h-1.5zM68.8 163.3h0.5v0.5h-0.5zM69.8 163.3h0.5v0.5h-0.5zM35.8 163.8h0.5v0.5h-0.5zM37.8 163.8h1v0.5h-1zM40.8 163.8h0.5v0.5h-0.5zM41.8 163.8h3v0.5h-3zM69.8 163.8h0.5v0.5h-0.5zM36.8 164.3h0.5v0.5h-0.5zM37.8 164.3h1.5v0.5h-1.5zM39.8 164.3h1v0.5h-1zM41.3 164.3h3.5v0.5h-3.5zM68.8 164.3h1v0.5h-1zM70.3 164.3h0.5v0.5h-0.5zM36.3 164.8h0.5v0.5h-0.5zM37.8 164.8h1v0.5h-1zM39.3 164.8h2.5v0.5h-2.5zM42.8 164.8h2v0.5h-2zM68.3 164.8h1.5v0.5h-1.5zM40.3 165.3h0.5v0.5h-0.5zM41.8 165.3h2v0.5h-2zM44.3 165.3h0.5v0.5h-0.5zM68.3 165.3h0.5v0.5h-0.5zM37.8 165.8h0.5v0.5h-0.5zM38.8 165.8h1v0.5h-1zM40.3 165.8h0.5v0.5h-0.5zM41.8 165.8h3v0.5h-3zM68.3 165.8h1.5v0.5h-1.5zM36.8 166.3h0.5v0.5h-0.5zM38.3 166.3h0.5v0.5h-0.5zM40.8 166.3h0.5v0.5h-0.5zM41.8 166.3h3.5v0.5h-3.5zM67.8 166.3h0.5v0.5h-0.5zM36.8 166.8h0.5v0.5h-0.5zM38.8 166.8h0.5v0.5h-0.5zM39.8 166.8h0.5v0.5h-0.5zM40.8 166.8h1.5v0.5h-1.5zM42.8 166.8h2.5v0.5h-2.5zM67.8 166.8h1v0.5h-1zM34.8 167.3h0.5v0.5h-0.5zM36.8 167.3h0.5v0.5h-0.5zM40.3 167.3h1.5v0.5h-1.5zM43.3 167.3h1v0.5h-1zM44.8 167.3h0.5v0.5h-0.5zM67.3 167.3h1v0.5h-1zM69.3 167.3h0.5v0.5h-0.5zM35.8 167.8h1.5v0.5h-1.5zM38.8 167.8h3v0.5h-3zM42.3 167.8h2v0.5h-2zM44.8 167.8h1v0.5h-1zM66.8 167.8h0.5v0.5h-0.5zM37.8 168.3h2.5v0.5h-2.5zM41.3 168.3h1v0.5h-1zM42.8 168.3h3v0.5h-3zM66.8 168.3h0.5v0.5h-0.5zM67.8 168.3h0.5v0.5h-0.5zM68.8 168.3h0.5v0.5h-0.5zM69.8 168.3h0.5v0.5h-0.5zM38.3 168.8h0.5v0.5h-0.5zM39.8 168.8h1v0.5h-1zM42.8 168.8h3.5v0.5h-3.5zM66.3 168.8h0.5v0.5h-0.5zM67.8 168.8h0.5v0.5h-0.5zM68.8 168.8h0.5v0.5h-0.5zM36.3 169.3h0.5v0.5h-0.5zM38.8 169.3h0.5v0.5h-0.5zM39.8 169.3h0.5v0.5h-0.5zM41.3 169.3h0.5v0.5h-0.5zM43.8 169.3h3v0.5h-3zM65.8 169.3h0.5v0.5h-0.5zM67.3 169.3h1v0.5h-1zM38.8 169.8h0.5v0.5h-0.5zM41.3 169.8h1v0.5h-1zM42.8 169.8h1v0.5h-1zM44.3 169.8h0.5v0.5h-0.5zM45.3 169.8h1v0.5h-1zM46.8 169.8h0.5v0.5h-0.5zM66.8 169.8h0.5v0.5h-0.5zM67.8 169.8h0.5v0.5h-0.5zM35.8 170.3h0.5v0.5h-0.5zM38.3 170.3h1v0.5h-1zM40.3 170.3h0.5v0.5h-0.5zM41.3 170.3h1.5v0.5h-1.5zM43.3 170.3h2.5v0.5h-2.5zM46.3 170.3h1v0.5h-1zM64.8 170.3h2v0.5h-2zM67.3 170.3h0.5v0.5h-0.5zM37.3 170.8h0.5v0.5h-0.5zM40.8 170.8h0.5v0.5h-0.5zM42.3 170.8h2v0.5h-2zM44.8 170.8h0.5v0.5h-0.5zM45.8 170.8h2.5v0.5h-2.5zM63.8 170.8h2v0.5h-2zM67.3 170.8h0.5v0.5h-0.5zM37.8 171.3h0.5v0.5h-0.5zM38.8 171.3h0.5v0.5h-0.5zM40.3 171.3h0.5v0.5h-0.5zM42.3 171.3h0.5v0.5h-0.5zM43.3 171.3h4v0.5h-4zM47.8 171.3h1v0.5h-1zM64.3 171.3h2.5v0.5h-2.5zM67.3 171.3h0.5v0.5h-0.5zM38.3 171.8h0.5v0.5h-0.5zM40.8 171.8h0.5v0.5h-0.5zM43.3 171.8h1v0.5h-1zM44.8 171.8h2v0.5h-2zM47.8 171.8h1.5v0.5h-1.5zM62.3 171.8h2v0.5h-2zM64.8 171.8h1v0.5h-1zM67.3 171.8h1v0.5h-1zM39.8 172.3h1v0.5h-1zM42.3 172.3h0.5v0.5h-0.5zM43.8 172.3h0.5v0.5h-0.5zM44.8 172.3h2v0.5h-2zM47.3 172.3h2v0.5h-2zM49.8 172.3h1v0.5h-1zM61.8 172.3h1v0.5h-1zM64.3 172.3h1v0.5h-1zM65.8 172.3h0.5v0.5h-0.5zM36.8 172.8h0.5v0.5h-0.5zM41.3 172.8h1v0.5h-1zM42.8 172.8h0.5v0.5h-0.5zM43.8 172.8h0.5v0.5h-0.5zM44.8 172.8h0.5v0.5h-0.5zM45.8 172.8h0.5v0.5h-0.5zM46.8 172.8h1v0.5h-1zM48.3 172.8h1.5v0.5h-1.5zM50.8 172.8h1v0.5h-1zM59.8 172.8h1v0.5h-1zM62.3 172.8h1v0.5h-1zM63.8 172.8h0.5v0.5h-0.5zM64.8 172.8h0.5v0.5h-0.5zM65.8 172.8h0.5v0.5h-0.5zM66.8 172.8h0.5v0.5h-0.5zM36.8 173.3h0.5v0.5h-0.5zM39.8 173.3h0.5v0.5h-0.5zM42.3 173.3h4v0.5h-4zM47.3 173.3h3.5v0.5h-3.5zM51.3 173.3h3v0.5h-3zM57.8 173.3h4v0.5h-4zM62.8 173.3h1v0.5h-1zM64.3 173.3h0.5v0.5h-0.5zM66.3 173.3h0.5v0.5h-0.5zM38.8 173.8h0.5v0.5h-0.5zM41.3 173.8h0.5v0.5h-0.5zM43.3 173.8h1v0.5h-1zM45.3 173.8h1.5v0.5h-1.5zM47.8 173.8h1v0.5h-1zM49.3 173.8h1.5v0.5h-1.5zM51.3 173.8h1v0.5h-1zM52.8 173.8h1.5v0.5h-1.5zM54.8 173.8h2.5v0.5h-2.5zM57.8 173.8h2.5v0.5h-2.5zM61.3 173.8h0.5v0.5h-0.5zM62.8 173.8h0.5v0.5h-0.5zM63.8 173.8h0.5v0.5h-0.5zM64.8 173.8h0.5v0.5h-0.5zM65.8 173.8h0.5v0.5h-0.5zM40.8 174.3h0.5v0.5h-0.5zM41.8 174.3h0.5v0.5h-0.5zM43.8 174.3h0.5v0.5h-0.5zM44.8 174.3h0.5v0.5h-0.5zM46.3 174.3h0.5v0.5h-0.5zM47.3 174.3h1.5v0.5h-1.5zM49.3 174.3h1v0.5h-1zM50.8 174.3h0.5v0.5h-0.5zM52.3 174.3h0.5v0.5h-0.5zM53.3 174.3h5.5v0.5h-5.5zM59.8 174.3h3.5v0.5h-3.5zM66.3 174.3h0.5v0.5h-0.5zM37.8 174.8h0.5v0.5h-0.5zM39.3 174.8h0.5v0.5h-0.5zM44.8 174.8h0.5v0.5h-0.5zM46.3 174.8h0.5v0.5h-0.5zM47.3 174.8h1v0.5h-1zM48.8 174.8h0.5v0.5h-0.5zM49.8 174.8h1.5v0.5h-1.5zM51.8 174.8h2.5v0.5h-2.5zM55.3 174.8h1v0.5h-1zM56.8 174.8h0.5v0.5h-0.5zM57.8 174.8h0.5v0.5h-0.5zM58.8 174.8h0.5v0.5h-0.5zM59.8 174.8h1.5v0.5h-1.5zM63.3 174.8h1.5v0.5h-1.5zM42.3 175.3h0.5v0.5h-0.5zM43.3 175.3h0.5v0.5h-0.5zM44.3 175.3h1v0.5h-1zM48.8 175.3h1.5v0.5h-1.5zM51.3 175.3h2v0.5h-2zM54.3 175.3h1.5v0.5h-1.5zM56.8 175.3h1.5v0.5h-1.5zM59.3 175.3h1v0.5h-1zM60.8 175.3h0.5v0.5h-0.5zM61.8 175.3h1v0.5h-1zM63.3 175.3h0.5v0.5h-0.5zM64.8 175.3h0.5v0.5h-0.5zM39.8 175.8h0.5v0.5h-0.5zM40.8 175.8h0.5v0.5h-0.5zM43.3 175.8h1v0.5h-1zM44.8 175.8h1v0.5h-1zM50.3 175.8h1v0.5h-1zM51.8 175.8h0.5v0.5h-0.5zM53.8 175.8h3.5v0.5h-3.5zM58.3 175.8h0.5v0.5h-0.5zM59.8 175.8h0.5v0.5h-0.5zM61.3 175.8h1v0.5h-1zM64.8 175.8h0.5v0.5h-0.5zM48.8 176.3h1v0.5h-1zM50.3 176.3h0.5v0.5h-0.5zM52.8 176.3h1v0.5h-1zM55.3 176.3h0.5v0.5h-0.5zM58.3 176.3h1v0.5h-1zM60.8 176.3h1.5v0.5h-1.5zM38.3 176.8h0.5v0.5h-0.5zM44.3 176.8h0.5v0.5h-0.5zM45.8 176.8h0.5v0.5h-0.5zM50.8 176.8h1.5v0.5h-1.5zM52.8 176.8h0.5v0.5h-0.5zM55.8 176.8h0.5v0.5h-0.5zM56.8 176.8h0.5v0.5h-0.5zM57.8 176.8h0.5v0.5h-0.5zM62.3 176.8h0.5v0.5h-0.5zM51.8 177.3h0.5v0.5h-0.5zM56.3 177.3h1v0.5h-1zM44.3 177.8h0.5v0.5h-0.5zM45.3 177.8h0.5v0.5h-0.5zM48.3 177.8h0.5v0.5h-0.5zM50.8 177.8h0.5v0.5h-0.5zM54.3 177.8h0.5v0.5h-0.5zM55.8 177.8h0.5v0.5h-0.5zM52.8 178.3h0.5v0.5h-0.5zM56.3 178.3h0.5v0.5h-0.5zM48.8 179.3h0.5v0.5h-0.5zM46.3 179.8h0.5v0.5h-0.5zM44.3 180.3h0.5v0.5h-0.5z" fill="#000"/><path d="M57.0 173.6L56.0 173.6 55.0 173.6 54.2 173.6 53.5 173.5 52.5 173.2 51.9 173.1 51.0 172.8 50.5 172.5 49.6 172.1 49.0 171.7 48.5 171.4 48.0 171.0 47.5 170.6 47.0 170.0 46.5 169.4 46.0 168.7 45.7 168.1 45.5 167.6 45.1 166.6 45.0 166.1 44.9 165.1 45.0 164.1 45.0 163.5 45.3 162.6 45.5 161.9 46.0 161.1 46.3 160.6 46.6 160.1 47.1 159.6 47.5 159.0 48.1 158.6 48.8 158.1 49.5 157.6 50.0 157.3 50.6 157.1 51.5 156.6 52.0 156.5 53.0 156.2 53.7 156.1 54.5 155.9 55.5 155.6 56.0 155.4 56.8 155.1 57.2 154.6 57.5 153.8 57.6 153.1 57.5 152.2 57.4 151.6 57.2 150.6 57.0 149.6 56.9 149.1 56.8 148.1 56.7 147.1 56.7 146.1 56.8 145.1 57.0 144.1 57.1 143.6 57.4 142.6 57.6 142.1 58.0 141.1 58.3 140.6 58.6 140.1 59.0 139.5 59.5 139.0 60.0 138.5 60.8 138.1 61.5 137.6 62.0 137.5 63.0 137.3 64.0 137.2 65.0 137.4 65.5 137.6 66.4 138.1 67.0 138.5 67.5 138.9 68.0 139.4 68.5 140.0 68.9 140.6 69.2 141.1 69.5 141.8 69.8 142.6 70.0 143.3 70.2 144.1 70.4 145.1 70.5 146.1 70.4 147.1 70.4 148.1 70.2 149.1 70.0 149.8 69.9 150.6 69.6 151.6 69.5 152.1 69.3 153.1 69.1 154.1 69.0 154.6 69.0 155.6 69.0 156.6 69.0 157.6 69.1 158.1 69.1 159.1 69.2 160.1 69.2 161.1 69.1 162.1 69.0 162.6 68.9 163.6 68.6 164.6 68.5 165.1 68.1 166.1 67.9 166.6 67.5 167.2 67.0 168.0 66.7 168.6 66.2 169.1 65.8 169.6 65.3 170.1 64.7 170.6 64.0 171.0 63.5 171.3 63.0 171.6 62.3 172.1 61.5 172.4 61.0 172.6 60.0 173.0 59.5 173.1 58.5 173.4 57.5 173.5 57.0 173.6" stroke="#000" stroke-width="1.2" fill="none"/><path d="M58.0 172.1L57.0 172.3 56.0 172.3 55.0 172.3 54.0 172.2 53.4 172.1 52.5 171.8 51.8 171.6 51.0 171.2 50.5 171.0 49.9 170.6 49.2 170.1 48.6 169.6 48.2 169.1 47.8 168.6 47.5 168.1 47.0 167.2 46.8 166.6 46.6 165.6 46.6 164.6 46.7 163.6 47.0 162.6 47.2 162.1 47.5 161.4 48.0 160.7 48.5 160.1 49.0 159.7 49.5 159.3 50.0 158.9 50.7 158.6 51.5 158.1 52.0 157.9 53.0 157.6 53.5 157.5 54.5 157.3 55.5 157.1 56.0 157.0 57.0 156.7 57.5 156.5 58.2 156.1 58.6 155.6 58.9 154.6 58.8 153.6 58.6 152.6 58.5 152.1 58.2 151.1 58.0 150.6 57.7 149.6 57.6 148.6 57.5 148.1 57.4 147.1 57.4 146.1 57.5 145.1 57.5 144.5 57.7 143.6 58.0 142.6 58.3 142.1 58.5 141.5 59.0 140.7 59.5 140.1 60.0 139.6 60.5 139.1 61.0 138.8 61.5 138.5 62.5 138.2 63.5 138.1 64.5 138.2 65.5 138.5 66.0 138.7 66.5 139.1 67.2 139.6 67.6 140.1 68.0 140.6 68.5 141.3 68.9 142.1 69.1 142.6 69.5 143.6 69.6 144.1 69.8 145.1 69.8 146.1 69.8 147.1 69.7 148.1 69.5 149.0 69.4 149.6 69.2 150.6 69.0 151.1 68.7 152.1 68.5 152.6 68.3 153.6 68.1 154.6 68.1 155.6 68.1 156.6 68.1 157.6 68.2 158.6 68.2 159.6 68.2 160.6 68.2 161.6 68.0 162.3 67.9 163.1 67.7 164.1 67.5 164.6 67.1 165.6 66.8 166.1 66.5 166.6 66.0 167.2 65.5 167.8 65.0 168.4 64.5 168.9 64.0 169.3 63.5 169.7 63.0 170.1 62.2 170.6 61.5 170.9 61.0 171.1 60.0 171.5 59.5 171.7 58.5 172.0 58.0 172.1" stroke="#333" stroke-width="0.7" fill="none"/><path d="M57.0 170.6L56.0 170.7 55.0 170.7 54.1 170.6 53.5 170.4 52.5 170.1 52.0 169.9 51.4 169.6 50.7 169.1 50.1 168.6 49.6 168.1 49.3 167.6 49.0 167.1 48.6 166.1 48.5 165.6 48.4 164.6 48.5 163.7 48.7 163.1 49.0 162.4 49.5 161.6 50.0 161.1 50.5 160.6 51.0 160.2 51.5 159.9 52.3 159.6 53.0 159.3 53.9 159.1 54.5 158.9 55.5 158.8 56.5 158.6 57.1 158.6 58.0 158.3 58.7 158.1 59.4 157.6 59.8 157.1 60.1 156.6 60.4 155.6 60.4 154.6 60.1 153.6 59.9 153.1 59.5 152.2 59.3 151.6 59.0 151.0 58.7 150.1 58.5 149.5 58.3 148.6 58.2 147.6 58.1 146.6 58.1 145.6 58.2 144.6 58.5 143.6 58.7 143.1 59.0 142.2 59.4 141.6 59.8 141.1 60.2 140.6 60.8 140.1 61.5 139.6 62.0 139.3 63.0 139.1 63.5 139.0 64.2 139.1 65.0 139.3 65.7 139.6 66.4 140.1 67.0 140.6 67.4 141.1 67.8 141.6 68.1 142.1 68.5 143.1 68.7 143.6 69.0 144.6 69.0 145.2 69.1 146.1 69.1 147.1 69.0 147.6 68.9 148.6 68.7 149.6 68.5 150.1 68.2 151.1 68.0 151.6 67.6 152.6 67.5 153.1 67.1 154.1 67.0 154.6 66.9 155.6 66.9 156.6 67.0 157.6 67.0 158.6 67.1 159.1 67.1 160.1 67.0 160.6 66.9 161.6 66.7 162.6 66.5 163.1 66.2 164.1 66.0 164.6 65.5 165.2 65.0 165.9 64.5 166.5 64.1 167.1 63.5 167.5 63.0 167.9 62.5 168.3 62.0 168.6 61.4 169.1 60.5 169.5 60.0 169.7 59.3 170.1 58.5 170.3 57.5 170.5 57.0 170.6" stroke="#999" stroke-width="0.5" fill="none"/><path d="M56.0 168.6L55.0 168.6 54.2 168.6 53.5 168.4 52.5 168.1 52.0 167.8 51.5 167.4 51.0 166.9 50.6 166.1 50.4 165.6 50.3 164.6 50.5 163.6 50.7 163.1 51.0 162.5 51.5 162.0 52.2 161.6 53.0 161.2 53.5 161.0 54.5 160.9 55.5 160.8 56.5 160.9 57.5 160.9 58.5 160.9 59.5 160.6 60.0 160.4 60.6 160.1 61.2 159.6 61.6 159.1 62.0 158.4 62.5 157.7 62.9 157.1 63.1 156.6 63.0 155.7 62.8 155.1 62.5 154.6 62.0 153.9 61.5 153.2 61.1 152.6 60.7 152.1 60.4 151.6 60.0 150.9 59.7 150.1 59.5 149.6 59.2 148.6 59.0 148.0 58.9 147.1 58.9 146.1 59.0 145.1 59.1 144.6 59.4 143.6 59.6 143.1 60.0 142.2 60.5 141.6 61.0 141.1 61.5 140.7 62.0 140.4 63.0 140.1 64.0 140.1 65.0 140.4 65.5 140.6 66.1 141.1 66.6 141.6 67.0 142.1 67.5 142.9 67.8 143.6 68.0 144.3 68.2 145.1 68.3 146.1 68.3 147.1 68.2 148.1 68.0 148.6 67.8 149.6 67.5 150.2 67.2 151.1 66.9 151.6 66.5 152.3 66.1 153.1 65.8 153.6 65.5 154.1 65.0 154.8 64.7 155.6 64.6 156.6 64.8 157.6 65.0 158.6 65.1 159.1 65.1 160.1 65.0 161.0 64.9 161.6 64.5 162.5 64.3 163.1 63.9 163.6 63.5 164.1 63.0 164.6 62.5 165.1 61.9 165.6 61.3 166.1 60.7 166.6 60.0 167.0 59.5 167.3 59.0 167.6 58.1 168.1 57.5 168.2 56.5 168.5 56.0 168.6" stroke="#999" stroke-width="0.5" fill="none"/><path d="M64.0 152.1L63.3 152.1 62.5 151.8 62.0 151.4 61.5 150.9 61.0 150.2 60.7 149.6 60.4 149.1 60.1 148.1 60.0 147.6 59.9 146.6 59.9 145.6 60.0 144.8 60.3 144.1 60.5 143.4 61.0 142.7 61.5 142.1 62.0 141.8 62.5 141.5 63.5 141.3 64.5 141.5 65.0 141.7 65.5 142.1 66.0 142.6 66.5 143.3 66.9 144.1 67.1 144.6 67.3 145.6 67.3 146.6 67.2 147.6 67.0 148.4 66.8 149.1 66.5 149.7 66.1 150.6 65.7 151.1 65.2 151.6 64.5 151.9 64.0 152.1M54.5 166.1L53.5 166.1 53.0 165.8 52.5 165.3 52.4 164.6 52.5 164.0 53.0 163.5 54.0 163.2 55.0 163.5 55.5 163.9 55.8 164.6 55.5 165.4 55.0 165.9 54.5 166.1" stroke="#888" stroke-width="0.5" fill="none"/><path d="M64.0 149.7L63.0 149.7 62.5 149.4 62.0 149.0 61.5 148.3 61.2 147.6 61.0 147.0 60.9 146.1 61.0 145.1 61.1 144.6 61.5 143.8 62.0 143.2 62.5 142.8 63.5 142.7 64.5 143.0 65.0 143.5 65.5 144.1 65.7 144.6 66.0 145.6 66.0 146.6 65.9 147.6 65.5 148.3 65.1 149.1 64.5 149.5 64.0 149.7" stroke="#777" stroke-width="0.5" fill="none"/><path d="M64.0 147.8L63.0 148.0 62.3 147.6 61.9 147.1 61.6 146.1 61.7 145.1 62.0 144.3 62.5 143.7 63.5 143.6 64.3 144.1 64.7 144.6 65.0 145.6 64.9 146.6 64.5 147.2 64.0 147.8" stroke="#444" stroke-width="0.6" fill="none"/><path d="M63.0 147.1L62.5 146.7 62.2 146.1 62.3 145.1 62.6 144.6 63.5 144.3 64.0 144.8 64.3 145.6 64.1 146.6 63.5 147.0 63.0 147.1" stroke="#222" stroke-width="0.7" fill="none"/><path d="M63.0 145.6L63.0 145.5 63.0 145.6" stroke="#111" stroke-width="0.8" fill="none"/></g><clipPath id="c108_113"><rect x="108.5" y="113.3" width="75.69999999999999" height="75.39999999999999"/></clipPath><g clip-path="url(#c108_113)"><path d="M145 131.3h0.5v0.5h-0.5zM149.5 131.8h0.5v0.5h-0.5zM144.5 132.3h0.5v0.5h-0.5zM147 132.3h0.5v0.5h-0.5zM145 133.3h0.5v0.5h-0.5zM148 133.3h0.5v0.5h-0.5zM151 133.3h1v0.5h-1zM143.5 133.8h1.5v0.5h-1.5zM146 133.8h0.5v0.5h-0.5zM139 134.3h1v0.5h-1zM140.5 134.3h0.5v0.5h-0.5zM142.5 134.3h0.5v0.5h-0.5zM144 134.3h4v0.5h-4zM149 134.3h0.5v0.5h-0.5zM150 134.3h0.5v0.5h-0.5zM151 134.3h0.5v0.5h-0.5zM139 134.8h1v0.5h-1zM142 134.8h0.5v0.5h-0.5zM143.5 134.8h0.5v0.5h-0.5zM145 134.8h2.5v0.5h-2.5zM149.5 134.8h1.5v0.5h-1.5zM137.5 135.3h1v0.5h-1zM141.5 135.3h1v0.5h-1zM143 135.3h0.5v0.5h-0.5zM144.5 135.3h1v0.5h-1zM152 135.3h0.5v0.5h-0.5zM153 135.3h0.5v0.5h-0.5zM137 135.8h0.5v0.5h-0.5zM141 135.8h1v0.5h-1zM144 135.8h3.5v0.5h-3.5zM149 135.8h0.5v0.5h-0.5zM150 135.8h1v0.5h-1zM151.5 135.8h0.5v0.5h-0.5zM152.5 135.8h0.5v0.5h-0.5zM153.5 135.8h0.5v0.5h-0.5zM137.5 136.3h1.5v0.5h-1.5zM139.5 136.3h0.5v0.5h-0.5zM140.5 136.3h0.5v0.5h-0.5zM142.5 136.3h5.5v0.5h-5.5zM149 136.3h0.5v0.5h-0.5zM150.5 136.3h2v0.5h-2zM154 136.3h0.5v0.5h-0.5zM136.5 136.8h0.5v0.5h-0.5zM137.5 136.8h0.5v0.5h-0.5zM140 136.8h3v0.5h-3zM144.5 136.8h0.5v0.5h-0.5zM145.5 136.8h2.5v0.5h-2.5zM148.5 136.8h1v0.5h-1zM150 136.8h1v0.5h-1zM152 136.8h1v0.5h-1zM138 137.3h1v0.5h-1zM140 137.3h0.5v0.5h-0.5zM141 137.3h1.5v0.5h-1.5zM143 137.3h0.5v0.5h-0.5zM145 137.3h2v0.5h-2zM147.5 137.3h1.5v0.5h-1.5zM149.5 137.3h4.5v0.5h-4.5zM136.5 137.8h1v0.5h-1zM139.5 137.8h0.5v0.5h-0.5zM140.5 137.8h4v0.5h-4zM145 137.8h3.5v0.5h-3.5zM149 137.8h1.5v0.5h-1.5zM153.5 137.8h0.5v0.5h-0.5zM136 138.3h0.5v0.5h-0.5zM140 138.3h5v0.5h-5zM147 138.3h2.5v0.5h-2.5zM150 138.3h1.5v0.5h-1.5zM153.5 138.3h0.5v0.5h-0.5zM136 138.8h0.5v0.5h-0.5zM138 138.8h0.5v0.5h-0.5zM139 138.8h1v0.5h-1zM141 138.8h2.5v0.5h-2.5zM148 138.8h1v0.5h-1zM149.5 138.8h4v0.5h-4zM136 139.3h0.5v0.5h-0.5zM137 139.3h0.5v0.5h-0.5zM138 139.3h0.5v0.5h-0.5zM139.5 139.3h1.5v0.5h-1.5zM141.5 139.3h0.5v0.5h-0.5zM151 139.3h2.5v0.5h-2.5zM155 139.3h0.5v0.5h-0.5zM137 139.8h0.5v0.5h-0.5zM138 139.8h1v0.5h-1zM139.5 139.8h2.5v0.5h-2.5zM150.5 139.8h3v0.5h-3zM154 139.8h0.5v0.5h-0.5zM155.5 139.8h0.5v0.5h-0.5zM138 140.3h1v0.5h-1zM140 140.3h1.5v0.5h-1.5zM150.5 140.3h1v0.5h-1zM152 140.3h1v0.5h-1zM154 140.3h0.5v0.5h-0.5zM137.5 140.8h1.5v0.5h-1.5zM139.5 140.8h2v0.5h-2zM150.5 140.8h1.5v0.5h-1.5zM152.5 140.8h0.5v0.5h-0.5zM153.5 140.8h1v0.5h-1zM131 141.3h0.5v0.5h-0.5zM135 141.3h1v0.5h-1zM138 141.3h1v0.5h-1zM140 141.3h1v0.5h-1zM150.5 141.3h1v0.5h-1zM152 141.3h1.5v0.5h-1.5zM155.5 141.3h1v0.5h-1zM137 141.8h0.5v0.5h-0.5zM138 141.8h0.5v0.5h-0.5zM139 141.8h0.5v0.5h-0.5zM140 141.8h1v0.5h-1zM151 141.8h1v0.5h-1zM152.5 141.8h0.5v0.5h-0.5zM153.5 141.8h1v0.5h-1zM133 142.3h0.5v0.5h-0.5zM137 142.3h0.5v0.5h-0.5zM138.5 142.3h1v0.5h-1zM140 142.3h0.5v0.5h-0.5zM151 142.3h1.5v0.5h-1.5zM153 142.3h0.5v0.5h-0.5zM154.5 142.3h0.5v0.5h-0.5zM127 142.8h0.5v0.5h-0.5zM130 142.8h0.5v0.5h-0.5zM131 142.8h0.5v0.5h-0.5zM133.5 142.8h0.5v0.5h-0.5zM137 142.8h1v0.5h-1zM138.5 142.8h2.5v0.5h-2.5zM151 142.8h1.5v0.5h-1.5zM153 142.8h1v0.5h-1zM155 142.8h0.5v0.5h-0.5zM127.5 143.3h0.5v0.5h-0.5zM129 143.3h0.5v0.5h-0.5zM130 143.3h0.5v0.5h-0.5zM131.5 143.3h0.5v0.5h-0.5zM133.5 143.3h0.5v0.5h-0.5zM136 143.3h0.5v0.5h-0.5zM137.5 143.3h0.5v0.5h-0.5zM138.5 143.3h2v0.5h-2zM151 143.3h2v0.5h-2zM128 143.8h0.5v0.5h-0.5zM129.5 143.8h0.5v0.5h-0.5zM130.5 143.8h1v0.5h-1zM133.5 143.8h0.5v0.5h-0.5zM135.5 143.8h0.5v0.5h-0.5zM138 143.8h2.5v0.5h-2.5zM151.5 143.8h0.5v0.5h-0.5zM152.5 143.8h0.5v0.5h-0.5zM122 144.3h0.5v0.5h-0.5zM127 144.3h0.5v0.5h-0.5zM128 144.3h1v0.5h-1zM130 144.3h1v0.5h-1zM131.5 144.3h0.5v0.5h-0.5zM133.5 144.3h0.5v0.5h-0.5zM134.5 144.3h0.5v0.5h-0.5zM138.5 144.3h1.5v0.5h-1.5zM151.5 144.3h0.5v0.5h-0.5zM125 144.8h0.5v0.5h-0.5zM127 144.8h0.5v0.5h-0.5zM132.5 144.8h0.5v0.5h-0.5zM136.5 144.8h0.5v0.5h-0.5zM138 144.8h0.5v0.5h-0.5zM139.5 144.8h0.5v0.5h-0.5zM151.5 144.8h2v0.5h-2zM120 145.3h0.5v0.5h-0.5zM126 145.3h1v0.5h-1zM127.5 145.3h0.5v0.5h-0.5zM128.5 145.3h0.5v0.5h-0.5zM129.5 145.3h1v0.5h-1zM131 145.3h1v0.5h-1zM132.5 145.3h1.5v0.5h-1.5zM134.5 145.3h1v0.5h-1zM136 145.3h0.5v0.5h-0.5zM139 145.3h0.5v0.5h-0.5zM140 145.3h0.5v0.5h-0.5zM151 145.3h0.5v0.5h-0.5zM152 145.3h1v0.5h-1zM153.5 145.3h0.5v0.5h-0.5zM122.5 145.8h0.5v0.5h-0.5zM128 145.8h1v0.5h-1zM130 145.8h1v0.5h-1zM132 145.8h1v0.5h-1zM133.5 145.8h1.5v0.5h-1.5zM135.5 145.8h1v0.5h-1zM137 145.8h1v0.5h-1zM138.5 145.8h0.5v0.5h-0.5zM139.5 145.8h0.5v0.5h-0.5zM151 145.8h0.5v0.5h-0.5zM152 145.8h0.5v0.5h-0.5zM153 145.8h1v0.5h-1zM121.5 146.3h0.5v0.5h-0.5zM122.5 146.3h1v0.5h-1zM124 146.3h1v0.5h-1zM125.5 146.3h0.5v0.5h-0.5zM126.5 146.3h0.5v0.5h-0.5zM128 146.3h0.5v0.5h-0.5zM129 146.3h2.5v0.5h-2.5zM132.5 146.3h2.5v0.5h-2.5zM135.5 146.3h2v0.5h-2zM138 146.3h2v0.5h-2zM151.5 146.3h1v0.5h-1zM153 146.3h0.5v0.5h-0.5zM118 146.8h0.5v0.5h-0.5zM120.5 146.8h1v0.5h-1zM122 146.8h0.5v0.5h-0.5zM125.5 146.8h1.5v0.5h-1.5zM128 146.8h0.5v0.5h-0.5zM129.5 146.8h4.5v0.5h-4.5zM134.5 146.8h0.5v0.5h-0.5zM135.5 146.8h1.5v0.5h-1.5zM137.5 146.8h0.5v0.5h-0.5zM139 146.8h1v0.5h-1zM151.5 146.8h0.5v0.5h-0.5zM154 146.8h0.5v0.5h-0.5zM156 146.8h0.5v0.5h-0.5zM123 147.3h1v0.5h-1zM125 147.3h0.5v0.5h-0.5zM126 147.3h1v0.5h-1zM128 147.3h1.5v0.5h-1.5zM133.5 147.3h2v0.5h-2zM136 147.3h2v0.5h-2zM139 147.3h1v0.5h-1zM151.5 147.3h3v0.5h-3zM156 147.3h0.5v0.5h-0.5zM121 147.8h3v0.5h-3zM124.5 147.8h1v0.5h-1zM126 147.8h1.5v0.5h-1.5zM138 147.8h0.5v0.5h-0.5zM139 147.8h0.5v0.5h-0.5zM152 147.8h0.5v0.5h-0.5zM153 147.8h1v0.5h-1zM118.5 148.3h1v0.5h-1zM120 148.3h1v0.5h-1zM122.5 148.3h0.5v0.5h-0.5zM123.5 148.3h1.5v0.5h-1.5zM125.5 148.3h1v0.5h-1zM138.5 148.3h0.5v0.5h-0.5zM152 148.3h2.5v0.5h-2.5zM155 148.3h0.5v0.5h-0.5zM119 148.8h0.5v0.5h-0.5zM120.5 148.8h0.5v0.5h-0.5zM121.5 148.8h1.5v0.5h-1.5zM123.5 148.8h0.5v0.5h-0.5zM124.5 148.8h1v0.5h-1zM139 148.8h0.5v0.5h-0.5zM152.5 148.8h0.5v0.5h-0.5zM153.5 148.8h0.5v0.5h-0.5zM154.5 148.8h0.5v0.5h-0.5zM119.5 149.3h0.5v0.5h-0.5zM120.5 149.3h1v0.5h-1zM122 149.3h0.5v0.5h-0.5zM123 149.3h1v0.5h-1zM153 149.3h2v0.5h-2zM120 149.8h0.5v0.5h-0.5zM122 149.8h0.5v0.5h-0.5zM153.5 149.8h0.5v0.5h-0.5zM117 150.3h0.5v0.5h-0.5zM118 150.3h0.5v0.5h-0.5zM121.5 150.3h1.5v0.5h-1.5zM154 150.3h1.5v0.5h-1.5zM118.5 150.8h1.5v0.5h-1.5zM121 150.8h0.5v0.5h-0.5zM122 150.8h0.5v0.5h-0.5zM155 150.8h0.5v0.5h-0.5zM156 150.8h1v0.5h-1zM157.5 150.8h0.5v0.5h-0.5zM118 151.3h0.5v0.5h-0.5zM120.5 151.3h0.5v0.5h-0.5zM154.5 151.3h0.5v0.5h-0.5zM156 151.3h0.5v0.5h-0.5zM118 151.8h0.5v0.5h-0.5zM119 151.8h0.5v0.5h-0.5zM120 151.8h0.5v0.5h-0.5zM121 151.8h1v0.5h-1zM154.5 151.8h1v0.5h-1zM156.5 151.8h0.5v0.5h-0.5zM117.5 152.3h0.5v0.5h-0.5zM119.5 152.3h0.5v0.5h-0.5zM120.5 152.3h1v0.5h-1zM154.5 152.3h0.5v0.5h-0.5zM116.5 152.8h0.5v0.5h-0.5zM118.5 152.8h0.5v0.5h-0.5zM119.5 152.8h1.5v0.5h-1.5zM154.5 152.8h1v0.5h-1zM156 152.8h0.5v0.5h-0.5zM117.5 153.3h0.5v0.5h-0.5zM118.5 153.3h2v0.5h-2zM154.5 153.3h0.5v0.5h-0.5zM116 153.8h1v0.5h-1zM118 153.8h1.5v0.5h-1.5zM120 153.8h0.5v0.5h-0.5zM154.5 153.8h0.5v0.5h-0.5zM155.5 153.8h0.5v0.5h-0.5zM116.5 154.3h0.5v0.5h-0.5zM118 154.3h2v0.5h-2zM154.5 154.3h2.5v0.5h-2.5zM118 154.8h1v0.5h-1zM119.5 154.8h0.5v0.5h-0.5zM155.5 154.8h0.5v0.5h-0.5zM115.5 155.3h1v0.5h-1zM117.5 155.3h0.5v0.5h-0.5zM118.5 155.3h1v0.5h-1zM155 155.3h1v0.5h-1zM158 155.3h0.5v0.5h-0.5zM116.5 155.8h0.5v0.5h-0.5zM119 155.8h1v0.5h-1zM155 155.8h1v0.5h-1zM115.5 156.3h2.5v0.5h-2.5zM118.5 156.3h1v0.5h-1zM155 156.3h1v0.5h-1zM156.5 156.3h0.5v0.5h-0.5zM116 156.8h1.5v0.5h-1.5zM118 156.8h1.5v0.5h-1.5zM155 156.8h1.5v0.5h-1.5zM117 157.3h0.5v0.5h-0.5zM118 157.3h1.5v0.5h-1.5zM155 157.3h1v0.5h-1zM114.5 157.8h0.5v0.5h-0.5zM115.5 157.8h0.5v0.5h-0.5zM117 157.8h0.5v0.5h-0.5zM118.5 157.8h1v0.5h-1zM155 157.8h1v0.5h-1zM114.5 158.3h1v0.5h-1zM116.5 158.3h3v0.5h-3zM158.5 158.3h0.5v0.5h-0.5zM114.5 158.8h0.5v0.5h-0.5zM117 158.8h0.5v0.5h-0.5zM118 158.8h1v0.5h-1zM156 158.8h1v0.5h-1zM117 159.3h0.5v0.5h-0.5zM118 159.3h0.5v0.5h-0.5zM155.5 159.3h1v0.5h-1zM115 159.8h0.5v0.5h-0.5zM116 159.8h0.5v0.5h-0.5zM117 159.8h2v0.5h-2zM155.5 159.8h1v0.5h-1zM158 159.8h0.5v0.5h-0.5zM114.5 160.3h1.5v0.5h-1.5zM116.5 160.3h2.5v0.5h-2.5zM155.5 160.3h0.5v0.5h-0.5zM156.5 160.3h0.5v0.5h-0.5zM115.5 160.8h1v0.5h-1zM117 160.8h1.5v0.5h-1.5zM156 160.8h0.5v0.5h-0.5zM117 161.3h1.5v0.5h-1.5zM155.5 161.3h1v0.5h-1zM157 161.3h0.5v0.5h-0.5zM117 161.8h2v0.5h-2zM155.5 161.8h0.5v0.5h-0.5zM116.5 162.3h1.5v0.5h-1.5zM118.5 162.3h0.5v0.5h-0.5zM155.5 162.3h0.5v0.5h-0.5zM158 162.3h0.5v0.5h-0.5zM116 162.8h3v0.5h-3zM155.5 162.8h0.5v0.5h-0.5zM116.5 163.3h0.5v0.5h-0.5zM117.5 163.3h1.5v0.5h-1.5zM157.5 163.3h0.5v0.5h-0.5zM117 163.8h2v0.5h-2zM156 163.8h1v0.5h-1zM158.5 163.8h0.5v0.5h-0.5zM116 164.3h0.5v0.5h-0.5zM118 164.3h1v0.5h-1zM155.5 164.3h1v0.5h-1zM115.5 164.8h0.5v0.5h-0.5zM116.5 164.8h2.5v0.5h-2.5zM155.5 164.8h0.5v0.5h-0.5zM156.5 164.8h0.5v0.5h-0.5zM116.5 165.3h1v0.5h-1zM118.5 165.3h0.5v0.5h-0.5zM155.5 165.3h1v0.5h-1zM157 165.3h1v0.5h-1zM115 165.8h0.5v0.5h-0.5zM116.5 165.8h2.5v0.5h-2.5zM155.5 165.8h1v0.5h-1zM114.5 166.3h0.5v0.5h-0.5zM115.5 166.3h0.5v0.5h-0.5zM116.5 166.3h2.5v0.5h-2.5zM155.5 166.3h1v0.5h-1zM116 166.8h1v0.5h-1zM118 166.8h0.5v0.5h-0.5zM155.5 166.8h0.5v0.5h-0.5zM156.5 166.8h0.5v0.5h-0.5zM118.5 167.3h0.5v0.5h-0.5zM155.5 167.3h1v0.5h-1zM157 167.3h0.5v0.5h-0.5zM116.5 167.8h1.5v0.5h-1.5zM156 167.8h0.5v0.5h-0.5zM157 167.8h0.5v0.5h-0.5zM115.5 168.3h0.5v0.5h-0.5zM117 168.3h2v0.5h-2zM155 168.3h0.5v0.5h-0.5zM116.5 168.8h2.5v0.5h-2.5zM155.5 168.8h1v0.5h-1zM116 169.3h0.5v0.5h-0.5zM118.5 169.3h0.5v0.5h-0.5zM155 169.3h1.5v0.5h-1.5zM114.5 169.8h1.5v0.5h-1.5zM117.5 169.8h0.5v0.5h-0.5zM155 169.8h1v0.5h-1zM156.5 169.8h0.5v0.5h-0.5zM116.5 170.3h0.5v0.5h-0.5zM118 170.3h1v0.5h-1zM155.5 170.3h0.5v0.5h-0.5zM156.5 170.3h1v0.5h-1zM115 170.8h0.5v0.5h-0.5zM116.5 170.8h2.5v0.5h-2.5zM155 170.8h0.5v0.5h-0.5zM156 170.8h0.5v0.5h-0.5zM115.5 171.3h0.5v0.5h-0.5zM117 171.3h2.5v0.5h-2.5zM155 171.3h1v0.5h-1zM115.5 171.8h1.5v0.5h-1.5zM118 171.8h1.5v0.5h-1.5zM139.5 171.8h1v0.5h-1zM155.5 171.8h0.5v0.5h-0.5zM115 172.3h0.5v0.5h-0.5zM118.5 172.3h1.5v0.5h-1.5zM139.5 172.3h1v0.5h-1zM154.5 172.3h1v0.5h-1zM156 172.3h0.5v0.5h-0.5zM116 172.8h0.5v0.5h-0.5zM117.5 172.8h2.5v0.5h-2.5zM139 172.8h0.5v0.5h-0.5zM140 172.8h1v0.5h-1zM154.5 172.8h1v0.5h-1zM116.5 173.3h0.5v0.5h-0.5zM117.5 173.3h2v0.5h-2zM120 173.3h0.5v0.5h-0.5zM138.5 173.3h0.5v0.5h-0.5zM140.5 173.3h0.5v0.5h-0.5zM154.5 173.3h1.5v0.5h-1.5zM117 173.8h0.5v0.5h-0.5zM118 173.8h2.5v0.5h-2.5zM139.5 173.8h0.5v0.5h-0.5zM140.5 173.8h1v0.5h-1zM154.5 173.8h0.5v0.5h-0.5zM117.5 174.3h0.5v0.5h-0.5zM119 174.3h1v0.5h-1zM138 174.3h0.5v0.5h-0.5zM141 174.3h0.5v0.5h-0.5zM154 174.3h2v0.5h-2zM119.5 174.8h1.5v0.5h-1.5zM138 174.8h1.5v0.5h-1.5zM141 174.8h0.5v0.5h-0.5zM153.5 174.8h1v0.5h-1zM155.5 174.8h1v0.5h-1zM117 175.3h0.5v0.5h-0.5zM118 175.3h1.5v0.5h-1.5zM120 175.3h1.5v0.5h-1.5zM137.5 175.3h1v0.5h-1zM140.5 175.3h1v0.5h-1zM153.5 175.3h0.5v0.5h-0.5zM156 175.3h0.5v0.5h-0.5zM118 175.8h0.5v0.5h-0.5zM119 175.8h2v0.5h-2zM121.5 175.8h0.5v0.5h-0.5zM137.5 175.8h0.5v0.5h-0.5zM138.5 175.8h0.5v0.5h-0.5zM141.5 175.8h1v0.5h-1zM153.5 175.8h1v0.5h-1zM117 176.3h1v0.5h-1zM119.5 176.3h0.5v0.5h-0.5zM120.5 176.3h1.5v0.5h-1.5zM137 176.3h1v0.5h-1zM140.5 176.3h1v0.5h-1zM153 176.3h0.5v0.5h-0.5zM155.5 176.3h0.5v0.5h-0.5zM118.5 176.8h1v0.5h-1zM120 176.8h2.5v0.5h-2.5zM136.5 176.8h2v0.5h-2zM140.5 176.8h0.5v0.5h-0.5zM142.5 176.8h1v0.5h-1zM152.5 176.8h1v0.5h-1zM154 176.8h0.5v0.5h-0.5zM121 177.3h1v0.5h-1zM134.5 177.3h2v0.5h-2zM137 177.3h0.5v0.5h-0.5zM142 177.3h0.5v0.5h-0.5zM143 177.3h1v0.5h-1zM154 177.3h0.5v0.5h-0.5zM119.5 177.8h0.5v0.5h-0.5zM120.5 177.8h1.5v0.5h-1.5zM122.5 177.8h0.5v0.5h-0.5zM123.5 177.8h0.5v0.5h-0.5zM134 177.8h1v0.5h-1zM135.5 177.8h1.5v0.5h-1.5zM138 177.8h0.5v0.5h-0.5zM143 177.8h1.5v0.5h-1.5zM152 177.8h0.5v0.5h-0.5zM120.5 178.3h0.5v0.5h-0.5zM121.5 178.3h1.5v0.5h-1.5zM123.5 178.3h3.5v0.5h-3.5zM132 178.3h0.5v0.5h-0.5zM134 178.3h0.5v0.5h-0.5zM140 178.3h0.5v0.5h-0.5zM144 178.3h2.5v0.5h-2.5zM148.5 178.3h2.5v0.5h-2.5zM152 178.3h0.5v0.5h-0.5zM153 178.3h1v0.5h-1zM122 178.8h0.5v0.5h-0.5zM123.5 178.8h1.5v0.5h-1.5zM126 178.8h0.5v0.5h-0.5zM127 178.8h1.5v0.5h-1.5zM129 178.8h1v0.5h-1zM130.5 178.8h1.5v0.5h-1.5zM134 178.8h0.5v0.5h-0.5zM136 178.8h0.5v0.5h-0.5zM137 178.8h0.5v0.5h-0.5zM141 178.8h0.5v0.5h-0.5zM143 178.8h0.5v0.5h-0.5zM144.5 178.8h2v0.5h-2zM147 178.8h1.5v0.5h-1.5zM149 178.8h1v0.5h-1zM150.5 178.8h0.5v0.5h-0.5zM151.5 178.8h1v0.5h-1zM153 178.8h0.5v0.5h-0.5zM118.5 179.3h0.5v0.5h-0.5zM121.5 179.3h0.5v0.5h-0.5zM123 179.3h1v0.5h-1zM125.5 179.3h0.5v0.5h-0.5zM126.5 179.3h2v0.5h-2zM129.5 179.3h0.5v0.5h-0.5zM130.5 179.3h1.5v0.5h-1.5zM132.5 179.3h0.5v0.5h-0.5zM134 179.3h0.5v0.5h-0.5zM135 179.3h0.5v0.5h-0.5zM142 179.3h0.5v0.5h-0.5zM145 179.3h0.5v0.5h-0.5zM146 179.3h2.5v0.5h-2.5zM149 179.3h0.5v0.5h-0.5zM150 179.3h0.5v0.5h-0.5zM151.5 179.3h1v0.5h-1zM120.5 179.8h0.5v0.5h-0.5zM125 179.8h0.5v0.5h-0.5zM126 179.8h0.5v0.5h-0.5zM127.5 179.8h1v0.5h-1zM130.5 179.8h0.5v0.5h-0.5zM134.5 179.8h0.5v0.5h-0.5zM136.5 179.8h0.5v0.5h-0.5zM142.5 179.8h1v0.5h-1zM145.5 179.8h1.5v0.5h-1.5zM148 179.8h0.5v0.5h-0.5zM149 179.8h1.5v0.5h-1.5zM151 179.8h0.5v0.5h-0.5zM122.5 180.3h0.5v0.5h-0.5zM128 180.3h0.5v0.5h-0.5zM129 180.3h0.5v0.5h-0.5zM131 180.3h0.5v0.5h-0.5zM135.5 180.3h0.5v0.5h-0.5zM146 180.3h0.5v0.5h-0.5zM147.5 180.3h0.5v0.5h-0.5zM151.5 180.3h0.5v0.5h-0.5zM152.5 180.3h0.5v0.5h-0.5zM131.5 180.8h0.5v0.5h-0.5zM127 181.3h0.5v0.5h-0.5zM148 181.3h0.5v0.5h-0.5zM126.5 181.8h1v0.5h-1zM144 181.8h0.5v0.5h-0.5zM151.5 181.8h0.5v0.5h-0.5z" fill="#000"/><path d="M148.2 178.6L147.2 178.6 146.4 178.6 145.8 178.5 144.8 178.2 144.2 177.7 143.8 177.1 143.2 176.6 142.8 176.1 142.2 175.6 141.8 175.1 141.5 174.6 141.3 173.6 141.1 173.1 140.8 172.3 140.2 171.9 139.7 172.1 139.2 172.6 138.8 173.3 138.3 174.1 138.1 174.6 137.8 175.3 137.4 176.1 137.2 176.6 136.2 176.9 135.8 177.1 134.8 177.5 134.2 177.7 133.3 178.1 132.8 178.3 132.0 178.6 131.2 178.8 130.2 178.9 129.2 178.8 128.2 178.7 127.2 178.6 126.8 178.5 125.8 178.4 124.8 178.2 124.1 178.1 123.2 177.9 122.7 177.6 122.2 176.8 121.8 176.1 121.5 175.6 121.2 175.1 120.8 174.3 120.4 173.6 120.1 173.1 119.8 172.4 119.3 171.6 119.1 171.1 119.0 170.1 118.9 169.1 118.9 168.1 118.8 167.1 118.8 166.1 118.8 165.1 118.8 164.1 118.8 163.1 118.8 162.1 118.8 161.1 118.9 160.1 119.2 159.1 119.3 158.6 119.5 157.6 119.7 156.6 119.8 156.1 120.1 155.1 120.2 154.4 120.7 153.6 121.1 153.1 121.5 152.6 121.9 152.1 122.3 151.6 122.8 151.0 123.2 150.4 123.8 149.8 124.2 149.5 125.2 149.1 125.8 148.9 126.5 148.6 127.2 148.2 127.8 148.1 128.8 147.7 129.4 147.6 130.2 147.3 131.2 147.2 132.2 147.3 133.2 147.5 133.8 147.6 134.8 147.7 135.8 147.8 136.8 147.9 137.8 147.9 138.2 148.1 138.8 148.7 139.2 149.2 139.8 149.1 140.1 148.1 140.2 147.1 140.2 146.1 140.3 145.6 140.4 144.6 140.7 143.6 140.9 143.1 141.2 142.1 141.4 141.6 141.7 140.6 141.9 140.1 142.2 139.5 143.2 139.1 143.8 138.9 144.8 138.6 145.2 138.4 146.2 138.3 146.9 138.6 147.8 138.9 148.2 139.1 149.2 139.5 149.8 139.8 150.3 140.1 150.6 141.1 150.8 141.9 150.9 142.6 151.1 143.6 151.2 144.6 151.2 145.6 151.2 146.6 151.3 147.1 151.8 147.9 152.2 148.6 152.6 149.1 153.0 149.6 153.4 150.1 153.8 150.6 154.3 151.1 154.4 152.1 154.5 153.1 154.7 154.1 154.8 154.6 154.9 155.6 155.0 156.6 155.1 157.6 155.2 158.4 155.3 159.1 155.5 160.1 155.4 161.1 155.4 162.1 155.4 163.1 155.4 164.1 155.4 165.1 155.3 166.1 155.3 167.1 155.2 167.6 155.2 168.6 155.1 169.6 155.1 170.6 155.0 171.6 154.8 172.5 154.5 173.1 154.2 173.6 153.8 174.6 153.6 175.1 153.2 175.7 152.8 176.6 152.6 177.1 152.2 177.7 151.8 178.3 150.8 178.4 149.8 178.5 148.8 178.5 148.2 178.6" stroke="#000" stroke-width="1.5" fill="none"/><path d="M130.8 178.1L129.8 178.1 129.2 178.0 128.2 178.0 127.2 177.8 126.2 177.7 125.6 177.6 124.8 177.4 123.8 177.1 123.2 176.9 122.8 176.1 122.4 175.6 122.1 175.1 121.8 174.4 121.3 173.6 121.0 173.1 120.7 172.6 120.2 171.7 119.9 171.1 119.8 170.1 119.7 169.6 119.7 168.6 119.6 167.6 119.6 166.6 119.6 165.6 119.5 164.6 119.5 163.6 119.5 162.6 119.5 161.6 119.6 160.6 119.8 160.0 120.0 159.1 120.2 158.1 120.3 157.6 120.5 156.6 120.8 155.7 120.9 155.1 121.2 154.1 121.7 153.6 122.1 153.1 122.5 152.6 122.9 152.1 123.3 151.6 123.8 151.0 124.2 150.4 125.0 150.1 125.8 149.7 126.2 149.4 127.1 149.1 127.8 148.8 128.4 148.6 129.2 148.3 130.2 148.1 130.8 148.0 131.8 148.0 132.2 148.1 133.2 148.3 134.2 148.5 134.8 148.6 135.8 148.7 136.8 148.8 137.4 149.1 137.8 149.7 138.2 150.6 138.6 151.1 139.0 151.6 139.6 152.1 140.2 152.3 140.9 152.1 141.3 151.6 141.5 150.6 141.5 149.6 141.3 148.6 141.2 148.1 141.0 147.1 141.0 146.1 140.9 145.1 141.2 144.1 141.3 143.6 141.7 142.6 141.9 142.1 142.2 141.1 142.5 140.6 142.8 140.1 143.8 139.6 144.2 139.5 145.2 139.2 145.8 139.0 146.2 139.1 147.2 139.4 147.8 139.6 148.8 140.0 149.2 140.3 149.8 140.6 150.0 141.6 150.2 142.4 150.4 143.1 150.6 144.1 150.7 145.1 150.7 146.1 150.7 147.1 150.8 147.6 151.2 148.6 151.5 149.1 151.8 149.6 152.2 150.1 152.8 150.7 153.2 151.3 153.5 152.1 153.6 153.1 153.8 153.7 153.9 154.6 154.0 155.6 154.2 156.6 154.3 157.1 154.4 158.1 154.6 159.1 154.7 160.1 154.7 161.1 154.7 162.1 154.7 163.1 154.7 164.1 154.7 165.1 154.6 166.1 154.6 167.1 154.5 168.1 154.5 169.1 154.4 170.1 154.3 171.1 154.2 171.6 153.9 172.6 153.7 173.1 153.2 173.9 153.0 174.6 152.7 175.1 152.2 176.0 151.9 176.6 151.7 177.1 150.9 177.6 150.2 177.6 149.2 177.7 148.2 177.8 147.2 177.8 146.2 177.7 145.2 177.6 144.8 177.1 144.3 176.6 143.9 176.1 143.4 175.6 142.9 175.1 142.6 174.6 142.4 173.6 142.2 172.8 142.1 172.1 141.8 171.1 141.6 170.6 141.2 169.7 140.8 169.1 140.2 169.0 139.8 169.3 139.2 169.8 138.8 170.6 138.5 171.1 138.2 171.6 137.8 172.6 137.6 173.1 137.2 173.9 137.0 174.6 136.8 175.1 136.2 176.0 135.8 176.2 134.8 176.6 134.2 176.8 133.6 177.1 132.8 177.4 132.2 177.6 131.2 178.0 130.8 178.1" stroke="#111" stroke-width="0.9" fill="none"/><path d="M149.8 176.6L148.8 176.7 147.8 176.7 146.8 176.6 146.1 176.6 145.4 176.1 145.0 175.6 144.5 175.1 144.1 174.6 143.8 173.9 143.5 173.1 143.3 172.1 143.2 171.6 143.0 170.6 142.8 169.6 142.6 169.1 142.4 168.1 142.3 167.1 142.2 166.6 142.1 165.6 142.0 164.6 142.0 163.6 142.0 162.6 142.0 161.6 142.0 160.6 142.1 159.6 142.2 158.6 142.3 158.1 142.5 157.1 142.7 156.1 142.8 155.6 143.0 154.6 143.1 153.6 143.2 152.6 143.1 151.6 142.9 150.6 142.8 150.0 142.4 149.1 142.2 148.6 141.9 147.6 141.8 146.9 141.6 146.1 141.6 145.1 141.8 144.4 142.0 143.6 142.2 142.8 142.6 142.1 142.8 141.6 143.2 140.8 143.8 140.5 144.8 140.1 145.2 139.9 146.2 139.9 146.9 140.1 147.8 140.4 148.2 140.6 149.0 141.1 149.3 141.6 149.7 142.6 149.8 143.1 150.0 144.1 150.2 145.1 150.2 146.1 150.1 147.1 150.1 148.1 150.2 148.9 150.4 149.6 150.8 150.4 151.2 151.1 151.5 151.6 151.9 152.1 152.2 153.1 152.3 153.6 152.6 154.6 152.8 155.2 152.9 156.1 153.2 157.1 153.3 157.6 153.5 158.6 153.6 159.6 153.7 160.6 153.8 161.1 153.8 162.1 153.8 163.1 153.8 164.1 153.8 165.1 153.8 166.1 153.8 166.8 153.7 167.6 153.6 168.6 153.5 169.6 153.4 170.6 153.2 171.5 153.0 172.1 152.8 172.7 152.3 173.6 152.1 174.1 151.8 174.7 151.3 175.6 151.0 176.1 150.2 176.5 149.8 176.6M130.8 177.1L129.8 177.1 128.8 177.1 128.2 177.0 127.2 176.9 126.2 176.7 125.7 176.6 124.8 176.3 124.1 176.1 123.6 175.6 123.2 174.9 122.8 174.1 122.4 173.6 122.1 173.1 121.8 172.3 121.4 171.6 121.1 171.1 120.8 170.1 120.8 169.3 120.7 168.6 120.6 167.6 120.6 166.6 120.5 165.6 120.5 164.6 120.5 163.6 120.5 162.6 120.5 161.6 120.7 160.6 120.8 160.1 121.0 159.1 121.2 158.1 121.3 157.6 121.6 156.6 121.8 156.0 122.0 155.1 122.3 154.6 122.8 153.9 123.2 153.2 123.8 152.6 124.2 152.1 124.5 151.6 125.1 151.1 125.8 150.7 126.2 150.4 126.8 150.1 127.8 149.6 128.2 149.4 129.2 149.1 129.8 149.0 130.8 148.9 131.8 149.0 132.2 149.1 133.2 149.3 134.2 149.6 134.8 149.7 135.8 149.9 136.3 150.1 136.8 150.8 137.2 151.6 137.5 152.1 137.8 152.6 138.2 153.5 138.4 154.1 138.5 155.1 138.7 156.1 138.8 156.8 138.8 157.6 139.0 158.6 139.0 159.6 139.1 160.6 139.1 161.6 139.0 162.6 139.0 163.6 138.9 164.6 138.8 165.6 138.7 166.1 138.6 167.1 138.4 168.1 138.2 168.6 137.8 169.5 137.5 170.1 137.2 170.7 136.9 171.6 136.7 172.1 136.3 173.1 136.1 173.6 135.8 174.3 135.3 175.1 134.8 175.3 134.2 175.6 133.2 176.0 132.8 176.2 132.1 176.6 131.2 176.9 130.8 177.1" stroke="#333" stroke-width="0.7" fill="none"/><path d="M147.8 151.1L146.8 151.5 145.8 151.2 145.2 150.9 144.7 150.6 144.2 150.1 143.8 149.5 143.2 148.8 142.8 148.1 142.6 147.6 142.4 146.6 142.3 145.6 142.4 144.6 142.6 143.6 142.8 143.1 143.2 142.3 143.8 141.6 144.2 141.2 144.8 141.0 145.8 140.7 146.8 140.8 147.3 141.1 148.2 141.5 148.6 142.1 148.9 142.6 149.2 143.4 149.4 144.1 149.6 145.1 149.6 146.1 149.4 147.1 149.2 148.0 149.1 148.6 148.8 149.6 148.5 150.1 148.2 150.6 147.8 151.1M130.8 175.6L129.8 175.8 128.8 175.9 127.8 175.8 126.8 175.6 126.2 175.4 125.5 175.1 124.8 174.6 124.4 174.1 124.0 173.6 123.7 173.1 123.2 172.1 123.0 171.6 122.7 171.1 122.3 170.1 122.2 169.5 122.1 168.6 122.0 167.6 121.9 166.6 121.9 165.6 121.9 164.6 121.9 163.6 121.9 162.6 122.0 161.6 122.1 160.6 122.2 160.0 122.5 159.1 122.7 158.1 122.9 157.6 123.2 156.6 123.3 156.1 123.8 155.1 124.1 154.6 124.3 154.1 124.8 153.4 125.2 152.6 125.7 152.1 126.2 151.6 126.8 151.2 127.2 150.8 127.8 150.5 128.8 150.1 129.2 150.0 130.2 149.9 131.2 149.9 131.8 150.1 132.8 150.5 133.2 150.8 133.8 151.1 134.7 151.6 135.2 152.1 135.5 152.6 135.8 153.1 136.2 154.1 136.4 154.6 136.6 155.6 136.8 156.3 136.9 157.1 137.0 158.1 137.1 159.1 137.2 160.1 137.2 161.1 137.2 162.1 137.2 163.1 137.1 164.1 137.0 165.1 136.9 166.1 136.8 166.9 136.6 167.6 136.3 168.6 136.1 169.1 135.8 169.8 135.4 170.6 135.2 171.1 134.8 172.0 134.5 172.6 134.2 173.1 133.8 173.7 133.2 174.1 132.6 174.6 131.8 175.1 131.2 175.4 130.8 175.6M149.8 174.6L148.8 174.9 147.8 174.9 146.8 174.7 146.2 174.3 145.8 173.8 145.3 173.1 145.1 172.6 144.8 171.6 144.6 171.1 144.3 170.1 144.1 169.6 143.9 168.6 143.8 167.6 143.7 167.1 143.6 166.1 143.5 165.1 143.5 164.1 143.6 163.1 143.6 162.1 143.7 161.1 143.8 160.6 144.0 159.6 144.2 158.7 144.4 158.1 144.8 157.2 145.1 156.6 145.3 156.1 145.8 155.3 146.2 154.7 146.8 154.1 147.2 153.7 147.8 153.5 148.3 153.6 149.2 154.0 149.8 154.5 150.2 155.0 150.6 155.6 150.9 156.1 151.2 156.7 151.6 157.6 151.8 158.1 152.1 159.1 152.3 159.6 152.5 160.6 152.6 161.6 152.7 162.6 152.8 163.5 152.8 164.1 152.8 165.1 152.8 165.6 152.7 166.6 152.6 167.6 152.5 168.6 152.3 169.6 152.2 170.1 152.0 171.1 151.8 171.6 151.3 172.6 151.0 173.1 150.6 173.6 150.2 174.1 149.8 174.6" stroke="#333" stroke-width="0.6" fill="none"/><path d="M147.2 149.2L146.2 149.5 145.2 149.3 144.8 149.0 144.2 148.6 143.8 148.0 143.3 147.1 143.1 146.6 143.0 145.6 143.1 144.6 143.2 144.0 143.7 143.1 144.0 142.6 144.6 142.1 145.2 141.7 146.2 141.6 147.2 141.9 147.8 142.3 148.2 142.9 148.6 143.6 148.8 144.1 148.9 145.1 148.9 146.1 148.8 146.9 148.5 147.6 148.2 148.1 147.8 148.8 147.2 149.2M128.8 174.6L128.2 174.6 127.2 174.3 126.7 174.1 126.0 173.6 125.5 173.1 125.2 172.6 124.8 171.7 124.5 171.1 124.2 170.3 124.0 169.6 123.9 168.6 123.9 167.6 123.8 166.6 123.9 165.6 123.9 164.6 124.0 163.6 124.0 162.6 124.2 161.6 124.3 161.1 124.5 160.1 124.7 159.1 124.8 158.5 124.9 157.6 125.1 156.6 125.2 155.8 125.5 155.1 125.8 154.3 126.1 153.6 126.4 153.1 126.8 152.6 127.2 152.0 127.9 151.6 128.8 151.1 129.2 151.0 130.2 151.0 130.8 151.1 131.8 151.5 132.2 151.9 132.8 152.4 133.2 153.1 133.6 153.6 133.8 154.1 134.1 155.1 134.2 155.6 134.5 156.6 134.6 157.6 134.8 158.3 134.8 159.1 134.9 160.1 135.0 161.1 135.0 162.1 134.9 163.1 134.8 164.1 134.8 164.6 134.6 165.6 134.4 166.6 134.2 167.1 133.9 168.1 133.8 168.6 133.5 169.6 133.2 170.1 132.9 171.1 132.7 171.6 132.2 172.3 131.8 172.9 131.2 173.5 130.8 173.9 130.2 174.2 129.2 174.5 128.8 174.6M148.8 171.7L147.8 171.7 147.2 171.4 146.8 171.0 146.2 170.3 145.9 169.6 145.6 169.1 145.3 168.1 145.1 167.6 144.9 166.6 144.8 165.6 144.7 165.1 144.8 164.1 144.8 163.6 144.9 162.6 145.2 161.6 145.3 161.1 145.8 160.1 146.1 159.6 146.5 159.1 147.0 158.6 147.8 158.1 148.2 158.0 148.8 158.2 149.4 158.6 149.9 159.1 150.2 159.6 150.7 160.6 150.9 161.1 151.1 162.1 151.2 162.6 151.4 163.6 151.4 164.6 151.4 165.6 151.3 166.6 151.2 167.1 151.1 168.1 150.8 169.1 150.6 169.6 150.2 170.3 149.8 171.0 149.2 171.4 148.8 171.7" stroke="#444" stroke-width="0.6" fill="none"/><path d="M146.8 148.2L145.8 148.3 145.1 148.1 144.5 147.6 144.2 147.1 143.8 146.1 143.7 145.6 143.8 145.1 144.0 144.1 144.3 143.6 144.8 143.1 145.8 142.6 146.8 142.7 147.3 143.1 147.8 143.6 148.2 144.6 148.3 145.1 148.2 146.0 148.1 146.6 147.8 147.3 147.2 147.9 146.8 148.2M129.2 173.1L128.2 173.2 127.6 173.1 126.8 172.6 126.4 172.1 126.1 171.6 125.8 170.8 125.5 170.1 125.4 169.1 125.4 168.1 125.5 167.1 125.7 166.1 125.9 165.6 126.2 164.6 126.5 164.1 126.8 163.5 127.1 162.6 127.2 161.6 127.1 160.6 126.8 159.6 126.7 159.1 126.6 158.1 126.5 157.1 126.5 156.1 126.7 155.1 126.8 154.6 127.2 153.7 127.7 153.1 128.2 152.6 128.8 152.3 129.8 152.1 130.8 152.4 131.2 152.7 131.8 153.3 132.2 154.1 132.4 154.6 132.7 155.6 132.7 156.6 132.7 157.6 132.6 158.6 132.4 159.6 132.2 160.1 132.0 161.1 131.8 161.9 131.6 162.6 131.6 163.6 131.7 164.6 131.8 165.1 131.9 166.1 132.0 167.1 132.0 168.1 131.9 169.1 131.8 169.7 131.5 170.6 131.2 171.2 130.8 172.0 130.3 172.6 129.8 172.9 129.2 173.1M147.8 168.6L147.2 168.4 146.8 168.0 146.2 167.3 145.9 166.6 145.8 166.0 145.6 165.1 145.6 164.1 145.8 163.2 145.9 162.6 146.2 161.9 146.8 161.2 147.2 160.9 148.2 160.8 148.8 161.1 149.2 161.7 149.7 162.6 149.8 163.1 150.0 164.1 150.0 165.1 149.9 166.1 149.7 166.6 149.3 167.6 149.0 168.1 148.2 168.5 147.8 168.6" stroke="#333" stroke-width="0.6" fill="none"/><path d="M146.8 147.4L145.8 147.5 145.1 147.1 144.7 146.6 144.4 145.6 144.6 144.6 144.9 144.1 145.4 143.6 146.2 143.3 146.8 143.6 147.4 144.1 147.7 145.1 147.8 145.6 147.7 146.1 147.2 146.9 146.8 147.4M130.2 158.7L129.2 158.9 128.7 158.6 128.2 158.0 127.9 157.1 127.8 156.1 127.9 155.1 128.2 154.4 128.8 153.8 129.8 153.6 130.6 154.1 131.0 154.6 131.2 155.2 131.4 156.1 131.3 157.1 131.1 157.6 130.8 158.2 130.2 158.7M148.2 166.6L147.2 166.7 146.8 166.2 146.5 165.6 146.4 164.6 146.5 163.6 146.8 163.0 147.2 162.4 148.2 162.6 148.6 163.1 148.8 163.6 149.0 164.6 148.8 165.6 148.6 166.1 148.2 166.6M129.2 171.6L128.2 171.7 127.8 171.5 127.2 171.1 126.8 170.1 126.6 169.6 126.6 168.6 126.8 167.9 127.1 167.1 127.4 166.6 128.1 166.1 128.8 165.9 129.3 166.1 129.8 166.6 130.2 167.3 130.5 168.1 130.5 169.1 130.3 170.1 130.1 170.6 129.8 171.1 129.2 171.6" stroke="#222" stroke-width="0.6" fill="none"/><path d="M146.8 146.7L145.8 146.8 145.2 146.4 144.9 145.6 145.2 144.6 145.7 144.1 146.2 143.9 146.8 144.1 147.2 144.9 147.3 145.6 147.2 146.1 146.8 146.7" stroke="#111" stroke-width="0.7" fill="none"/><path d="M146.2 146.3L145.7 146.1 145.5 145.1 146.0 144.6 146.4 144.6 146.8 145.1 146.8 145.9 146.2 146.3" stroke="#000" stroke-width="0.8" fill="none"/></g><clipPath id="c23_206"><rect x="23.3" y="206.1" width="75.8" height="76.70000000000002"/></clipPath><g clip-path="url(#c23_206)"><path d="M43.8 226.1h0.5v0.5h-0.5zM50.8 226.1h0.5v0.5h-0.5zM47.8 226.6h0.5v0.5h-0.5zM44.3 227.1h0.5v0.5h-0.5zM52.3 227.1h0.5v0.5h-0.5zM46.8 227.6h0.5v0.5h-0.5zM48.3 227.6h1v0.5h-1zM49.8 227.6h0.5v0.5h-0.5zM50.8 227.6h0.5v0.5h-0.5zM45.3 228.1h1.5v0.5h-1.5zM47.3 228.1h1v0.5h-1zM51.3 228.1h0.5v0.5h-0.5zM43.8 228.6h1v0.5h-1zM51.3 228.6h1v0.5h-1zM41.3 229.1h0.5v0.5h-0.5zM52.8 229.1h0.5v0.5h-0.5zM55.3 229.1h0.5v0.5h-0.5zM56.8 229.1h0.5v0.5h-0.5zM55.3 230.1h0.5v0.5h-0.5zM38.8 230.6h1v0.5h-1zM54.8 230.6h0.5v0.5h-0.5zM70.3 230.6h0.5v0.5h-0.5zM75.8 230.6h0.5v0.5h-0.5zM68.8 231.1h0.5v0.5h-0.5zM76.8 231.1h0.5v0.5h-0.5zM39.3 231.6h0.5v0.5h-0.5zM61.8 231.6h0.5v0.5h-0.5zM72.8 231.6h0.5v0.5h-0.5zM37.8 232.1h0.5v0.5h-0.5zM38.8 232.1h0.5v0.5h-0.5zM58.8 232.1h0.5v0.5h-0.5zM60.8 232.1h0.5v0.5h-0.5zM62.3 232.1h0.5v0.5h-0.5zM63.3 232.1h2v0.5h-2zM68.3 232.1h0.5v0.5h-0.5zM69.8 232.1h0.5v0.5h-0.5zM38.3 232.6h0.5v0.5h-0.5zM63.3 232.6h0.5v0.5h-0.5zM65.8 232.6h0.5v0.5h-0.5zM66.8 232.6h0.5v0.5h-0.5zM68.3 232.6h0.5v0.5h-0.5zM69.8 232.6h1v0.5h-1zM71.8 232.6h0.5v0.5h-0.5zM37.8 233.1h0.5v0.5h-0.5zM59.8 233.1h0.5v0.5h-0.5zM61.3 233.1h0.5v0.5h-0.5zM63.8 233.1h0.5v0.5h-0.5zM66.8 233.1h0.5v0.5h-0.5zM68.3 233.1h0.5v0.5h-0.5zM69.3 233.1h1v0.5h-1zM61.8 233.6h0.5v0.5h-0.5zM62.8 233.6h0.5v0.5h-0.5zM64.3 233.6h0.5v0.5h-0.5zM66.3 233.6h0.5v0.5h-0.5zM68.3 233.6h0.5v0.5h-0.5zM69.3 233.6h0.5v0.5h-0.5zM36.3 234.1h0.5v0.5h-0.5zM64.8 234.1h0.5v0.5h-0.5zM66.3 234.1h1v0.5h-1zM71.3 234.1h0.5v0.5h-0.5zM72.3 234.1h0.5v0.5h-0.5zM73.3 234.1h0.5v0.5h-0.5zM79.3 234.1h0.5v0.5h-0.5zM35.3 234.6h0.5v0.5h-0.5zM37.3 234.6h0.5v0.5h-0.5zM68.3 234.6h0.5v0.5h-0.5zM71.3 234.6h0.5v0.5h-0.5zM72.3 234.6h0.5v0.5h-0.5zM73.8 234.6h0.5v0.5h-0.5zM34.3 235.1h0.5v0.5h-0.5zM69.3 235.1h1v0.5h-1zM71.8 235.1h0.5v0.5h-0.5zM72.8 235.1h0.5v0.5h-0.5zM73.8 235.1h0.5v0.5h-0.5zM36.8 235.6h0.5v0.5h-0.5zM69.3 235.6h0.5v0.5h-0.5zM73.3 235.6h0.5v0.5h-0.5zM76.3 235.6h0.5v0.5h-0.5zM70.8 236.1h0.5v0.5h-0.5zM72.3 236.1h0.5v0.5h-0.5zM73.3 236.1h1v0.5h-1zM75.8 236.1h1v0.5h-1zM35.3 236.6h1.5v0.5h-1.5zM72.3 236.6h0.5v0.5h-0.5zM74.8 236.6h0.5v0.5h-0.5zM35.8 237.1h0.5v0.5h-0.5zM72.8 237.1h0.5v0.5h-0.5zM73.8 237.1h0.5v0.5h-0.5zM75.3 237.1h0.5v0.5h-0.5zM77.3 237.1h0.5v0.5h-0.5zM72.8 237.6h0.5v0.5h-0.5zM74.3 237.6h0.5v0.5h-0.5zM75.8 237.6h0.5v0.5h-0.5zM79.3 237.6h0.5v0.5h-0.5zM35.8 238.1h0.5v0.5h-0.5zM79.3 238.1h1v0.5h-1zM74.3 238.6h0.5v0.5h-0.5zM75.3 238.6h0.5v0.5h-0.5zM34.8 239.1h1v0.5h-1zM74.8 239.1h0.5v0.5h-0.5zM78.3 239.1h0.5v0.5h-0.5zM34.8 239.6h0.5v0.5h-0.5zM74.8 239.6h1v0.5h-1zM78.3 239.6h0.5v0.5h-0.5zM80.3 239.6h0.5v0.5h-0.5zM75.3 240.1h0.5v0.5h-0.5zM35.3 240.6h0.5v0.5h-0.5zM79.3 240.6h0.5v0.5h-0.5zM75.3 241.1h0.5v0.5h-0.5zM75.3 241.6h0.5v0.5h-0.5zM77.3 241.6h0.5v0.5h-0.5zM78.3 241.6h0.5v0.5h-0.5zM76.3 242.1h0.5v0.5h-0.5zM78.3 242.1h0.5v0.5h-0.5zM79.3 242.1h0.5v0.5h-0.5zM33.8 242.6h1v0.5h-1zM74.8 242.6h0.5v0.5h-0.5zM75.8 242.6h0.5v0.5h-0.5zM77.3 242.6h0.5v0.5h-0.5zM79.3 242.6h0.5v0.5h-0.5zM34.8 243.1h0.5v0.5h-0.5zM74.8 243.1h0.5v0.5h-0.5zM76.3 243.1h0.5v0.5h-0.5zM75.3 243.6h1v0.5h-1zM76.8 243.6h0.5v0.5h-0.5zM34.3 244.1h1.5v0.5h-1.5zM74.3 244.6h1.5v0.5h-1.5zM76.8 244.6h0.5v0.5h-0.5zM35.8 245.1h0.5v0.5h-0.5zM72.8 245.1h0.5v0.5h-0.5zM74.3 245.1h0.5v0.5h-0.5zM75.3 245.1h0.5v0.5h-0.5zM76.8 245.1h0.5v0.5h-0.5zM81.3 245.1h0.5v0.5h-0.5zM34.8 245.6h0.5v0.5h-0.5zM72.3 245.6h0.5v0.5h-0.5zM74.8 245.6h0.5v0.5h-0.5zM77.8 245.6h0.5v0.5h-0.5zM71.3 246.1h0.5v0.5h-0.5zM72.8 246.1h0.5v0.5h-0.5zM72.8 246.6h0.5v0.5h-0.5zM35.8 247.1h0.5v0.5h-0.5zM68.8 247.1h0.5v0.5h-0.5zM70.3 247.1h0.5v0.5h-0.5zM71.8 247.1h0.5v0.5h-0.5zM73.8 247.1h0.5v0.5h-0.5zM76.3 247.1h0.5v0.5h-0.5zM69.3 247.6h0.5v0.5h-0.5zM71.8 247.6h0.5v0.5h-0.5zM73.8 247.6h1v0.5h-1zM76.3 247.6h0.5v0.5h-0.5zM77.3 247.6h0.5v0.5h-0.5zM34.8 248.1h0.5v0.5h-0.5zM36.3 248.1h0.5v0.5h-0.5zM66.8 248.1h0.5v0.5h-0.5zM69.3 248.1h0.5v0.5h-0.5zM71.8 248.1h1v0.5h-1zM73.3 248.1h0.5v0.5h-0.5zM74.8 248.1h0.5v0.5h-0.5zM67.3 248.6h0.5v0.5h-0.5zM70.3 248.6h0.5v0.5h-0.5zM73.3 248.6h0.5v0.5h-0.5zM74.8 248.6h1v0.5h-1zM61.8 249.1h2.5v0.5h-2.5zM68.8 249.1h0.5v0.5h-0.5zM69.8 249.1h1.5v0.5h-1.5zM72.8 249.1h1.5v0.5h-1.5zM35.8 249.6h0.5v0.5h-0.5zM65.8 249.6h0.5v0.5h-0.5zM66.8 249.6h0.5v0.5h-0.5zM68.8 249.6h0.5v0.5h-0.5zM71.8 249.6h0.5v0.5h-0.5zM33.8 250.1h0.5v0.5h-0.5zM63.8 250.1h1v0.5h-1zM69.3 250.1h0.5v0.5h-0.5zM63.8 250.6h0.5v0.5h-0.5zM67.3 250.6h0.5v0.5h-0.5zM74.3 250.6h0.5v0.5h-0.5zM59.3 251.1h1.5v0.5h-1.5zM70.8 251.1h0.5v0.5h-0.5zM31.8 251.6h0.5v0.5h-0.5zM32.8 251.6h1v0.5h-1zM73.3 251.6h0.5v0.5h-0.5zM31.8 252.1h1v0.5h-1zM61.8 252.1h0.5v0.5h-0.5zM30.8 252.6h0.5v0.5h-0.5zM31.8 252.6h0.5v0.5h-0.5zM69.8 252.6h0.5v0.5h-0.5zM31.8 253.1h0.5v0.5h-0.5zM60.8 253.1h0.5v0.5h-0.5zM29.3 253.6h0.5v0.5h-0.5zM30.3 254.1h0.5v0.5h-0.5zM28.3 255.1h0.5v0.5h-0.5zM29.3 255.1h0.5v0.5h-0.5zM30.3 255.1h0.5v0.5h-0.5zM59.8 255.1h0.5v0.5h-0.5zM62.3 255.1h0.5v0.5h-0.5zM28.3 255.6h1v0.5h-1zM60.3 256.1h1v0.5h-1zM29.3 256.6h0.5v0.5h-0.5zM61.3 256.6h0.5v0.5h-0.5zM59.8 257.1h0.5v0.5h-0.5zM61.3 257.1h0.5v0.5h-0.5zM29.3 258.1h0.5v0.5h-0.5zM60.8 258.1h0.5v0.5h-0.5zM29.3 258.6h0.5v0.5h-0.5zM59.8 258.6h0.5v0.5h-0.5zM59.8 259.1h0.5v0.5h-0.5zM60.8 259.1h0.5v0.5h-0.5zM28.3 259.6h0.5v0.5h-0.5zM60.8 260.1h0.5v0.5h-0.5zM59.3 261.1h0.5v0.5h-0.5zM62.8 261.6h0.5v0.5h-0.5zM58.8 262.6h0.5v0.5h-0.5zM58.8 263.6h1v0.5h-1zM29.8 264.1h0.5v0.5h-0.5zM58.8 264.1h0.5v0.5h-0.5zM29.3 264.6h0.5v0.5h-0.5zM58.8 264.6h0.5v0.5h-0.5zM29.8 265.1h1v0.5h-1zM57.8 265.1h0.5v0.5h-0.5zM58.8 265.1h0.5v0.5h-0.5zM30.3 265.6h0.5v0.5h-0.5zM31.3 266.1h0.5v0.5h-0.5zM56.3 267.1h1v0.5h-1zM32.3 267.6h0.5v0.5h-0.5zM31.3 268.1h0.5v0.5h-0.5zM56.3 268.1h0.5v0.5h-0.5zM32.3 268.6h0.5v0.5h-0.5zM32.8 269.1h0.5v0.5h-0.5zM55.8 269.1h0.5v0.5h-0.5zM32.8 269.6h1v0.5h-1zM55.8 270.1h0.5v0.5h-0.5zM32.3 270.6h0.5v0.5h-0.5zM33.3 270.6h0.5v0.5h-0.5zM55.8 270.6h0.5v0.5h-0.5zM55.3 271.1h0.5v0.5h-0.5zM33.8 271.6h1.5v0.5h-1.5zM56.3 271.6h0.5v0.5h-0.5zM53.8 272.1h0.5v0.5h-0.5zM54.8 272.1h0.5v0.5h-0.5zM34.8 272.6h1v0.5h-1zM53.8 272.6h0.5v0.5h-0.5zM35.8 273.6h1v0.5h-1zM52.8 273.6h0.5v0.5h-0.5zM34.8 274.1h0.5v0.5h-0.5zM35.8 274.1h1v0.5h-1zM36.3 274.6h1.5v0.5h-1.5zM37.3 275.1h1v0.5h-1zM52.8 275.1h0.5v0.5h-0.5zM38.8 275.6h0.5v0.5h-0.5zM50.3 275.6h0.5v0.5h-0.5zM51.3 275.6h0.5v0.5h-0.5zM37.3 276.1h0.5v0.5h-0.5zM39.8 276.1h0.5v0.5h-0.5zM50.3 276.1h0.5v0.5h-0.5zM51.8 276.1h0.5v0.5h-0.5zM52.8 276.1h0.5v0.5h-0.5zM37.8 276.6h0.5v0.5h-0.5zM51.8 276.6h0.5v0.5h-0.5zM37.3 277.1h0.5v0.5h-0.5zM39.8 277.1h1.5v0.5h-1.5zM42.8 277.1h0.5v0.5h-0.5zM47.8 277.1h0.5v0.5h-0.5zM49.8 277.1h0.5v0.5h-0.5zM51.3 277.1h0.5v0.5h-0.5zM41.3 277.6h0.5v0.5h-0.5zM43.3 277.6h0.5v0.5h-0.5zM48.3 277.6h0.5v0.5h-0.5zM49.3 277.6h1v0.5h-1zM44.3 278.6h0.5v0.5h-0.5zM46.8 278.6h0.5v0.5h-0.5zM47.8 278.6h1v0.5h-1z" fill="#000"/><path d="M47.5 276.9L46.5 277.1 45.5 277.3 44.5 277.3 43.5 277.2 42.5 277.1 41.8 276.9 41.0 276.6 40.4 276.4 39.5 275.9 39.0 275.6 38.5 275.3 38.0 274.9 37.4 274.4 36.9 273.9 36.4 273.4 36.0 272.9 35.5 272.1 35.1 271.4 34.8 270.9 34.5 270.4 34.0 269.4 33.8 268.9 33.5 268.3 33.0 267.4 32.7 266.9 32.4 266.4 32.0 265.7 31.6 264.9 31.3 264.4 31.0 263.9 30.6 263.0 30.2 262.4 30.1 261.8 29.7 260.9 29.6 259.9 29.6 258.9 29.7 257.9 29.9 256.9 30.1 256.4 30.6 255.6 31.0 254.8 31.4 254.3 31.8 253.8 32.3 253.3 32.9 252.8 33.5 252.3 34.0 251.9 34.5 251.5 35.0 251.1 35.5 250.7 36.0 250.2 36.5 249.6 36.9 248.8 37.0 247.8 36.8 246.8 36.5 245.9 36.4 245.3 36.1 244.3 36.0 243.8 35.8 242.8 35.7 241.8 35.7 240.8 35.8 239.8 36.0 238.8 36.2 238.3 36.5 237.3 36.7 236.8 37.0 236.0 37.4 235.3 37.7 234.8 38.0 234.3 38.5 233.5 39.0 232.9 39.5 232.3 40.0 231.8 40.5 231.3 41.0 230.9 41.5 230.5 42.0 230.2 42.6 229.8 43.5 229.3 44.0 229.1 44.9 228.8 45.5 228.7 46.5 228.5 47.5 228.4 48.5 228.5 49.5 228.6 50.5 228.8 51.0 229.0 52.0 229.3 52.5 229.6 53.1 229.8 54.0 230.3 54.5 230.6 55.0 230.9 55.7 231.3 56.5 231.8 57.0 232.1 57.5 232.4 58.5 232.8 59.0 233.0 59.9 233.3 60.5 233.6 61.5 233.8 62.0 233.9 63.0 234.2 63.9 234.3 64.5 234.5 65.5 234.7 66.1 234.8 67.0 235.1 67.9 235.3 68.5 235.5 69.4 235.8 70.0 236.1 70.5 236.4 71.5 236.8 72.0 237.2 72.5 237.5 73.0 237.9 73.5 238.4 74.0 238.9 74.5 239.7 74.9 240.3 75.0 241.2 75.0 241.8 75.0 242.3 74.6 243.3 74.2 243.8 73.8 244.3 73.3 244.8 72.7 245.3 72.0 245.8 71.5 246.1 71.0 246.4 70.1 246.8 69.5 247.1 68.8 247.3 68.0 247.6 67.3 247.8 66.5 248.1 65.5 248.3 65.0 248.4 64.0 248.6 63.1 248.8 62.5 249.0 61.5 249.3 61.0 249.5 60.4 249.8 59.8 250.3 59.4 250.8 59.0 251.7 59.0 252.3 59.0 253.3 59.0 253.9 59.2 254.8 59.5 255.8 59.6 256.4 59.8 257.4 59.9 258.4 59.8 259.4 59.7 260.4 59.5 261.0 59.3 261.9 59.0 262.5 58.7 263.4 58.4 263.9 58.0 264.5 57.6 265.4 57.3 265.9 57.0 266.4 56.5 267.2 56.2 267.9 56.0 268.4 55.5 269.3 55.3 269.9 55.0 270.4 54.5 271.3 54.2 271.9 53.9 272.4 53.5 272.9 53.0 273.5 52.5 274.0 52.0 274.5 51.5 274.9 51.0 275.4 50.2 275.9 49.5 276.2 49.0 276.4 48.0 276.8 47.5 276.9" stroke="#333" stroke-width="0.7" fill="none"/><path d="M47.5 275.4L46.5 275.7 45.5 275.8 44.5 275.8 43.5 275.7 42.5 275.5 41.9 275.4 41.0 275.0 40.5 274.8 39.8 274.4 39.0 273.9 38.5 273.4 38.0 273.0 37.5 272.4 37.1 271.9 36.7 271.4 36.4 270.9 36.0 270.3 35.5 269.5 35.2 268.9 34.9 268.4 34.5 267.8 34.0 267.1 33.6 266.4 33.2 265.9 32.9 265.4 32.5 264.9 32.0 264.1 31.6 263.4 31.3 262.9 31.1 262.3 30.7 261.4 30.5 260.9 30.3 259.9 30.3 258.9 30.4 257.9 30.6 257.3 30.9 256.4 31.1 255.8 31.6 255.2 32.0 254.5 32.5 254.0 33.0 253.5 33.5 253.0 34.0 252.6 34.5 252.2 35.1 251.8 35.8 251.3 36.4 250.8 37.0 250.3 37.5 249.8 37.8 249.3 38.0 248.3 37.9 247.3 37.6 246.3 37.4 245.8 37.1 244.8 36.9 244.3 36.7 243.3 36.6 242.3 36.5 241.4 36.5 241.3 36.6 240.3 36.7 239.3 37.0 238.3 37.1 237.8 37.5 236.8 37.8 236.3 38.0 235.8 38.5 234.9 38.9 234.3 39.3 233.8 39.7 233.3 40.1 232.8 40.6 232.3 41.2 231.8 41.8 231.3 42.5 230.8 43.0 230.5 43.5 230.3 44.5 229.9 45.0 229.7 46.0 229.5 46.8 229.3 47.5 229.3 48.5 229.3 49.0 229.4 50.0 229.6 51.0 229.8 51.5 230.0 52.3 230.3 53.0 230.7 53.5 231.0 54.2 231.3 55.0 231.8 55.5 232.1 56.0 232.4 56.9 232.8 57.5 233.2 58.0 233.4 59.0 233.8 59.5 234.0 60.5 234.3 61.0 234.5 62.0 234.7 62.7 234.8 63.5 235.0 64.5 235.2 65.0 235.4 66.0 235.6 66.8 235.8 67.5 236.1 68.3 236.3 69.0 236.6 69.5 236.9 70.4 237.3 71.0 237.7 71.5 238.1 72.0 238.5 72.5 239.1 73.0 239.8 73.3 240.3 73.5 241.3 73.5 241.5 73.4 242.3 73.0 243.2 72.6 243.8 72.2 244.3 71.6 244.8 71.0 245.3 70.5 245.6 70.0 245.9 69.0 246.3 68.5 246.6 67.8 246.8 67.0 247.1 66.2 247.3 65.5 247.5 64.5 247.8 64.0 247.9 63.0 248.1 62.0 248.3 61.5 248.5 60.5 248.8 60.0 249.1 59.5 249.4 59.0 249.9 58.5 250.7 58.4 251.3 58.2 252.3 58.3 253.3 58.5 254.3 58.6 254.8 58.8 255.8 59.0 256.9 59.1 257.4 59.2 258.4 59.1 259.4 59.0 259.9 58.9 260.9 58.5 261.7 58.3 262.4 58.0 262.9 57.5 263.8 57.2 264.4 56.9 264.9 56.5 265.4 56.0 266.1 55.6 266.9 55.3 267.4 55.0 267.9 54.5 268.6 54.1 269.4 53.8 269.9 53.5 270.4 53.0 271.1 52.5 271.8 52.1 272.4 51.7 272.9 51.1 273.4 50.5 273.8 50.0 274.2 49.5 274.5 48.9 274.9 48.0 275.2 47.5 275.4" stroke="#666" stroke-width="0.5" fill="none"/><path d="M46.5 273.9L45.5 274.1 44.5 274.1 43.5 274.0 42.9 273.9 42.0 273.6 41.5 273.4 40.6 272.9 40.0 272.5 39.5 272.1 39.0 271.6 38.5 271.1 38.0 270.5 37.5 269.9 37.2 269.4 36.8 268.9 36.4 268.4 36.0 267.9 35.5 267.3 35.0 266.7 34.5 266.1 34.0 265.5 33.6 264.9 33.2 264.4 32.8 263.9 32.5 263.4 32.0 262.6 31.7 261.9 31.5 261.4 31.2 260.4 31.1 259.4 31.1 258.4 31.3 257.4 31.6 256.7 31.9 255.8 32.3 255.3 32.6 254.8 33.1 254.3 33.6 253.8 34.1 253.3 34.8 252.8 35.5 252.3 36.0 251.9 36.5 251.6 37.0 251.2 37.6 250.8 38.2 250.3 38.6 249.8 39.0 248.9 39.1 248.3 39.0 247.8 38.7 246.8 38.5 246.3 38.2 245.3 38.0 244.8 37.7 243.8 37.5 243.0 37.5 242.3 37.4 241.3 37.5 240.3 37.5 239.7 37.7 238.8 38.0 237.8 38.2 237.3 38.5 236.6 39.0 235.8 39.3 235.3 39.6 234.8 40.0 234.2 40.5 233.6 41.0 233.1 41.5 232.7 42.0 232.3 42.6 231.8 43.4 231.3 44.0 231.0 44.5 230.8 45.5 230.5 46.3 230.3 47.0 230.2 48.0 230.2 49.0 230.3 49.5 230.4 50.5 230.6 51.2 230.8 52.0 231.2 52.5 231.4 53.4 231.8 54.0 232.2 54.5 232.5 55.2 232.8 56.0 233.3 56.5 233.6 57.0 233.9 58.0 234.3 58.5 234.5 59.5 234.8 60.0 235.0 61.0 235.3 61.5 235.4 62.5 235.6 63.5 235.8 64.0 236.0 65.0 236.2 65.5 236.4 66.5 236.7 67.0 236.9 68.0 237.3 68.5 237.5 69.2 237.8 70.0 238.3 70.5 238.8 71.0 239.3 71.4 239.8 71.7 240.3 71.9 241.3 71.8 242.3 71.5 242.9 71.0 243.6 70.5 244.2 70.0 244.6 69.5 244.9 68.8 245.3 68.0 245.7 67.5 246.0 66.5 246.3 66.0 246.5 65.0 246.8 64.5 246.9 63.5 247.2 62.7 247.3 62.0 247.5 61.0 247.8 60.5 247.9 59.6 248.3 59.0 248.7 58.5 249.1 58.0 249.8 57.8 250.3 57.5 251.2 57.5 251.8 57.5 252.8 57.6 253.3 57.8 254.3 58.0 255.3 58.1 255.8 58.3 256.9 58.4 257.9 58.4 258.9 58.3 259.9 58.1 260.9 57.9 261.4 57.5 262.1 57.2 262.9 56.9 263.4 56.5 263.9 56.0 264.6 55.5 265.2 55.1 265.9 54.7 266.4 54.3 266.9 53.9 267.4 53.5 267.9 53.0 268.5 52.5 269.2 52.0 269.8 51.7 270.4 51.2 270.9 50.8 271.4 50.3 271.9 49.7 272.4 49.0 272.8 48.5 273.1 48.0 273.4 47.0 273.8 46.5 273.9" stroke="#666" stroke-width="0.5" fill="none"/><path d="M45.5 271.9L44.5 271.9 43.9 271.9 43.0 271.7 42.2 271.4 41.5 271.0 41.0 270.7 40.5 270.4 39.9 269.9 39.3 269.4 38.8 268.9 38.3 268.4 37.7 267.9 37.2 267.4 36.7 266.9 36.2 266.4 35.7 265.9 35.2 265.4 34.7 264.9 34.3 264.4 33.8 263.9 33.5 263.4 33.0 262.7 32.6 261.9 32.3 261.4 32.0 260.4 31.9 259.9 31.9 258.9 32.0 257.9 32.1 257.4 32.5 256.4 32.8 255.8 33.2 255.3 33.6 254.8 34.0 254.3 34.6 253.8 35.2 253.3 35.9 252.8 36.5 252.4 37.0 252.1 37.5 251.8 38.2 251.3 38.9 250.8 39.5 250.3 40.0 249.8 40.2 249.3 40.3 248.3 40.0 247.6 39.8 246.8 39.5 246.3 39.0 245.4 38.8 244.8 38.5 244.2 38.4 243.3 38.5 242.8 39.0 241.8 38.5 241.3 38.3 240.3 38.5 239.4 38.8 238.8 39.0 238.3 39.2 237.3 39.5 236.5 40.0 235.8 40.5 235.3 41.0 234.9 41.5 234.6 42.1 234.3 42.5 233.6 43.0 232.8 43.5 232.5 44.1 232.3 45.0 232.0 45.5 231.7 46.1 231.3 47.0 231.1 48.0 231.0 49.0 231.1 50.0 231.3 50.5 231.6 51.2 231.8 52.0 232.3 52.5 232.5 53.0 232.9 53.8 233.3 54.5 233.7 55.0 233.9 56.0 234.3 56.5 234.6 57.0 234.9 58.0 235.3 58.5 235.5 59.5 235.8 60.0 236.0 61.0 236.2 61.5 236.4 62.5 236.6 63.5 236.8 64.0 237.0 65.0 237.2 65.5 237.4 66.5 237.8 67.0 238.0 67.7 238.3 68.4 238.8 69.0 239.3 69.5 239.8 69.8 240.3 70.0 241.3 70.0 241.5 69.9 242.3 69.5 243.0 69.0 243.6 68.5 244.1 68.0 244.4 67.3 244.8 66.5 245.2 66.0 245.4 65.0 245.8 64.5 245.9 63.5 246.2 63.0 246.3 62.0 246.6 61.0 246.8 60.5 247.0 59.6 247.3 59.0 247.6 58.5 247.9 58.0 248.3 57.5 248.8 57.0 249.7 56.8 250.3 56.7 251.3 56.7 252.3 56.8 253.3 57.0 254.3 57.1 254.8 57.4 255.8 57.5 256.9 57.6 257.4 57.7 258.4 57.6 259.4 57.5 259.9 57.2 260.9 57.0 261.4 56.5 262.3 56.2 262.9 55.9 263.4 55.5 263.9 55.0 264.4 54.5 265.0 54.0 265.6 53.5 266.1 53.0 266.6 52.5 267.1 52.0 267.6 51.5 268.1 51.0 268.6 50.5 269.1 50.0 269.5 49.5 270.0 49.0 270.4 48.3 270.9 47.5 271.3 47.0 271.5 46.0 271.8 45.5 271.9M54.3 235.8L54.0 235.1 53.0 235.0 53.0 235.8 53.5 235.9 54.3 235.8" stroke="#555" stroke-width="0.5" fill="none"/><path d="M45.5 269.4L44.5 269.5 43.6 269.4 43.0 269.2 42.0 268.9 41.5 268.7 40.9 268.4 40.0 267.9 39.5 267.6 39.0 267.2 38.5 266.9 37.8 266.4 37.2 265.9 36.6 265.4 36.0 264.9 35.5 264.4 35.0 263.9 34.5 263.4 34.2 262.9 33.8 262.4 33.5 261.9 33.1 260.9 32.9 260.4 32.7 259.4 32.8 258.4 33.0 257.4 33.2 256.9 33.5 256.1 34.0 255.4 34.5 254.8 35.0 254.4 35.5 253.9 36.0 253.5 36.5 253.2 37.1 252.8 37.9 252.3 38.5 252.0 39.0 251.7 39.7 251.3 40.5 250.8 41.0 250.4 41.5 249.9 41.8 249.3 42.2 248.8 42.7 248.3 42.5 247.6 42.0 247.0 41.5 246.7 40.8 246.3 40.2 245.8 39.8 245.3 39.5 244.7 39.2 243.8 39.5 243.0 40.0 242.7 40.6 242.3 40.5 241.7 40.0 241.3 39.3 240.8 39.3 239.8 39.5 239.2 39.7 238.3 40.0 237.4 40.5 236.8 41.0 236.4 41.5 235.8 42.0 235.4 42.5 235.0 43.0 234.7 43.9 234.3 44.5 234.3 45.5 234.2 45.6 233.3 46.0 232.4 46.5 232.0 47.0 231.7 48.0 231.7 49.0 231.8 49.5 232.0 50.1 232.3 50.0 233.2 49.6 233.8 50.5 234.1 51.0 233.5 51.5 233.3 52.0 233.5 52.5 234.3 52.5 234.4 52.1 235.3 52.5 236.3 53.0 236.4 54.0 236.7 55.0 236.3 55.3 235.8 56.0 235.4 57.0 235.7 57.5 236.0 58.3 236.3 59.0 236.7 59.5 236.9 60.5 237.2 61.0 237.4 62.0 237.6 62.9 237.8 63.5 238.0 64.4 238.3 65.0 238.6 65.6 238.8 66.4 239.3 67.0 239.8 67.4 240.3 67.7 240.8 67.8 241.8 67.5 242.4 67.0 243.1 66.5 243.6 66.0 243.9 65.3 244.3 64.5 244.7 64.0 244.9 63.0 245.2 62.5 245.4 61.5 245.6 60.8 245.8 60.0 246.2 59.5 246.4 58.5 246.7 58.0 246.9 57.2 247.3 56.7 247.8 56.5 248.3 56.0 249.3 55.9 249.8 55.7 250.8 55.7 251.8 55.9 252.8 56.0 253.7 56.2 254.3 56.4 255.3 56.6 255.8 56.7 256.9 56.8 257.9 56.8 258.9 56.7 259.9 56.5 260.4 56.1 261.4 55.9 261.9 55.5 262.4 55.0 263.1 54.5 263.7 54.0 264.2 53.5 264.7 53.0 265.2 52.5 265.6 52.0 266.0 51.5 266.4 50.9 266.9 50.2 267.4 49.5 267.8 49.0 268.1 48.5 268.4 47.6 268.9 47.0 269.1 46.0 269.3 45.5 269.4" stroke="#444" stroke-width="0.55" fill="none"/><path d="M46.5 267.4L45.5 267.5 44.5 267.6 43.5 267.5 42.8 267.4 42.0 267.2 41.1 266.9 40.5 266.6 40.0 266.4 39.0 265.9 38.5 265.6 38.0 265.3 37.5 264.9 36.8 264.4 36.2 263.9 35.7 263.4 35.3 262.9 34.9 262.4 34.5 261.8 34.0 260.9 33.9 260.4 33.7 259.4 33.7 258.4 33.9 257.4 34.1 256.9 34.5 256.1 35.0 255.5 35.5 254.9 36.0 254.5 36.5 254.1 37.0 253.7 37.6 253.3 38.5 252.8 39.0 252.6 39.5 252.3 40.5 251.9 41.0 251.6 41.7 251.3 42.5 250.9 43.0 250.6 43.5 250.3 44.4 249.8 44.0 249.2 43.6 248.3 43.3 247.8 43.0 247.3 42.5 246.8 42.0 246.2 41.5 245.7 41.0 245.2 40.9 244.3 41.5 244.0 42.0 243.6 42.3 242.8 42.0 242.2 41.6 241.3 41.0 240.9 40.5 240.6 40.2 239.8 40.3 238.8 40.5 238.0 40.9 237.3 41.3 236.8 41.8 236.3 42.5 235.8 43.0 235.5 43.5 235.3 44.5 235.1 45.5 235.0 46.3 234.8 46.7 234.3 46.6 233.3 47.0 232.5 47.5 232.3 48.1 232.3 49.0 232.8 48.9 233.8 49.2 234.3 50.0 234.8 50.5 234.9 51.0 234.8 51.4 235.3 51.5 236.1 52.0 236.6 52.7 236.8 53.5 237.1 54.5 237.2 55.4 236.8 56.0 236.4 57.0 236.5 57.7 236.8 58.2 237.3 58.7 237.8 59.2 238.3 60.0 238.7 60.5 238.9 61.5 239.0 62.5 239.3 63.0 239.6 63.6 239.8 64.3 240.3 64.7 240.8 64.7 241.8 64.4 242.3 63.8 242.8 63.1 243.3 62.5 243.8 62.0 244.1 61.5 244.4 60.5 244.7 60.0 244.8 59.0 245.2 58.5 245.4 57.8 245.8 57.0 246.3 56.5 246.6 56.0 247.0 55.5 247.7 55.3 248.3 55.0 248.8 54.5 249.7 54.4 250.3 54.5 251.3 54.5 251.9 54.8 252.8 55.0 253.7 55.3 254.3 55.5 255.3 55.7 255.8 55.9 256.9 56.0 257.9 55.9 258.9 55.7 259.9 55.5 260.4 55.1 261.4 54.8 261.9 54.5 262.4 54.0 262.9 53.5 263.4 53.0 263.9 52.5 264.4 51.9 264.9 51.2 265.4 50.5 265.7 50.0 266.0 49.4 266.4 48.5 266.8 48.0 267.0 47.0 267.3 46.5 267.4" stroke="#333" stroke-width="0.6" fill="none"/><path d="M47.0 266.0L46.0 266.1 45.0 266.2 44.0 266.2 43.0 266.1 42.0 265.9 41.5 265.7 40.5 265.4 40.0 265.2 39.4 264.9 38.5 264.4 38.0 264.1 37.5 263.7 37.0 263.3 36.5 262.8 36.0 262.3 35.5 261.6 35.1 260.9 34.9 260.4 34.7 259.4 34.7 258.4 35.0 257.4 35.2 256.9 35.5 256.2 36.0 255.6 36.5 255.1 37.0 254.7 37.5 254.3 38.3 253.8 39.0 253.4 39.5 253.2 40.3 252.8 41.0 252.6 41.7 252.3 42.5 252.1 43.3 251.8 44.0 251.6 45.0 251.4 46.0 251.3 46.5 251.3 47.5 251.0 48.0 250.5 49.0 250.6 49.8 250.3 50.4 249.8 51.0 249.4 51.5 249.1 52.0 248.6 52.0 247.9 51.0 248.0 50.0 248.1 49.5 248.3 48.6 248.8 48.1 249.3 47.5 249.6 46.5 249.4 46.0 249.2 45.3 248.8 44.5 248.5 44.0 248.0 43.5 247.4 43.1 246.8 42.7 246.3 42.4 245.8 42.3 244.8 42.6 244.3 43.0 243.6 43.1 242.8 42.9 242.3 42.5 241.4 42.3 240.8 41.9 240.3 41.4 239.8 41.2 238.8 41.3 237.8 41.6 237.3 42.0 236.8 42.9 236.3 43.5 236.1 44.5 235.9 45.0 235.8 46.0 235.7 46.8 235.3 47.3 234.8 48.0 234.3 48.1 234.3 49.0 234.8 49.5 235.1 50.2 235.3 50.7 235.8 51.0 236.4 51.5 237.0 52.3 237.3 53.0 237.5 54.0 237.7 55.0 237.7 56.0 237.4 56.5 237.3 57.0 237.6 57.4 238.3 57.0 238.9 56.2 239.3 56.0 239.8 56.1 240.3 56.5 241.0 57.5 240.8 58.0 240.3 58.5 240.1 59.5 240.2 60.1 240.3 60.6 240.8 60.6 241.8 60.0 242.3 59.5 242.6 59.0 242.9 58.3 243.3 57.6 243.8 57.3 244.3 57.0 244.9 56.5 245.5 55.5 245.8 55.0 246.0 54.5 246.3 54.3 247.3 54.0 248.0 53.5 248.4 53.0 248.8 52.6 249.8 52.2 250.3 51.9 250.8 52.2 251.3 52.6 251.8 53.0 252.5 53.5 253.3 53.8 253.8 54.1 254.3 54.5 255.3 54.6 255.8 54.9 256.9 55.0 257.9 54.9 258.9 54.7 259.9 54.5 260.4 54.0 261.3 53.7 261.9 53.3 262.4 52.8 262.9 52.3 263.4 51.6 263.9 51.0 264.2 50.5 264.6 50.0 264.9 49.0 265.3 48.5 265.5 47.5 265.8 47.0 266.0" stroke="#222" stroke-width="0.7" fill="none"/><path d="M45.0 247.4L44.5 247.3 43.9 246.8 43.3 246.3 43.0 245.8 43.0 245.1 43.5 244.3 43.7 243.8 43.6 242.8 43.5 242.3 43.1 241.3 42.9 240.8 42.5 240.1 42.0 239.4 41.9 238.8 42.0 237.8 42.4 237.3 43.0 237.0 44.0 237.1 44.5 237.4 45.5 237.5 46.0 236.8 46.5 236.4 47.0 236.0 47.5 235.4 48.0 235.1 49.0 235.3 49.5 235.6 50.0 236.0 50.5 236.7 51.0 237.3 51.5 237.8 52.0 238.3 52.5 238.4 53.0 238.3 53.7 238.3 54.5 238.6 55.0 239.3 55.1 239.8 55.4 240.8 55.5 241.5 55.9 242.3 55.8 243.3 55.5 243.9 55.0 244.6 54.5 245.0 53.7 245.3 53.0 245.4 52.5 245.3 51.8 245.3 51.4 245.8 51.0 246.6 50.4 246.3 50.1 245.3 49.5 245.2 49.0 245.8 48.5 246.1 47.5 246.2 46.5 246.3 46.0 246.5 45.5 247.3 45.0 247.4M46.5 264.9L45.5 265.1 44.5 265.1 43.5 265.0 42.5 264.9 42.0 264.8 41.0 264.5 40.5 264.3 39.6 263.9 39.0 263.5 38.5 263.2 38.0 262.8 37.5 262.4 37.0 261.9 36.5 261.2 36.1 260.4 35.9 259.9 35.8 258.9 35.9 257.9 36.1 257.4 36.5 256.6 37.0 255.9 37.5 255.4 38.0 255.0 38.5 254.7 39.1 254.3 40.0 253.9 40.5 253.7 41.4 253.3 42.0 253.2 43.0 252.9 43.5 252.8 44.5 252.7 45.5 252.6 46.5 252.6 47.5 252.6 48.5 252.7 49.2 252.8 50.0 253.0 51.0 253.3 51.5 253.6 52.0 254.0 52.5 254.5 53.0 255.2 53.4 255.8 53.6 256.4 53.8 257.4 53.9 258.4 53.7 259.4 53.5 259.9 53.1 260.9 52.8 261.4 52.4 261.9 51.9 262.4 51.3 262.9 50.6 263.4 50.0 263.7 49.5 263.9 48.6 264.4 48.0 264.5 47.0 264.8 46.5 264.9" stroke="#111" stroke-width="0.9" fill="none"/><path d="M48.0 245.4L47.0 245.6 46.1 245.3 45.5 245.2 45.0 245.4 44.4 245.3 44.4 244.3 44.3 243.3 44.1 242.3 43.9 241.8 43.6 240.8 43.3 240.3 43.0 239.8 42.8 238.8 43.0 238.2 44.0 238.1 44.5 238.4 45.2 238.8 45.8 239.3 46.2 239.3 46.3 238.3 46.5 237.5 47.0 237.0 47.5 236.5 48.0 236.0 48.5 235.8 49.0 236.1 49.5 236.6 49.8 237.3 50.2 237.8 50.6 238.3 51.0 239.3 51.5 239.8 52.5 239.7 53.5 239.8 54.0 240.3 54.1 240.8 54.2 241.8 54.1 242.8 54.0 243.3 53.5 244.1 52.5 244.2 51.5 244.2 50.5 244.1 50.0 243.8 49.2 243.8 48.8 244.3 48.5 244.8 48.0 245.4M46.0 263.9L45.0 264.0 44.0 264.0 43.0 263.9 42.5 263.8 41.5 263.5 41.0 263.3 40.0 262.9 39.5 262.6 39.0 262.2 38.5 261.8 38.0 261.3 37.5 260.6 37.2 259.9 37.1 258.9 37.2 257.9 37.5 257.1 38.0 256.4 38.5 255.9 39.0 255.5 39.5 255.2 40.2 254.8 41.0 254.5 41.5 254.3 42.5 254.0 43.3 253.8 44.0 253.7 45.0 253.7 46.0 253.7 47.0 253.8 47.5 253.9 48.5 254.1 49.5 254.3 50.0 254.6 50.6 254.8 51.2 255.3 51.7 255.8 52.0 256.4 52.4 257.4 52.5 258.2 52.5 258.4 52.4 259.4 52.0 260.2 51.7 260.9 51.3 261.4 50.8 261.9 50.1 262.4 49.5 262.7 49.0 263.0 48.2 263.4 47.5 263.6 46.5 263.8 46.0 263.9" stroke="#000" stroke-width="1.0" fill="none"/><path d="M47.5 244.6L46.8 244.3 46.4 243.8 45.5 243.4 45.0 243.0 44.9 242.3 45.0 241.4 45.5 241.1 46.1 240.8 46.6 240.3 47.0 239.4 47.1 238.8 47.5 238.0 48.3 238.3 49.0 238.8 49.5 239.3 49.7 239.8 49.5 240.5 49.2 241.3 49.1 242.3 48.8 242.8 48.3 243.3 48.0 243.8 47.5 244.6M44.5 240.2L44.5 239.7 44.5 240.2M52.0 242.9L51.0 243.3 50.3 242.8 50.5 242.2 51.5 241.9 52.2 242.3 52.0 242.9M47.0 262.5L46.0 262.7 45.0 262.8 44.0 262.8 43.0 262.7 42.0 262.4 41.5 262.2 40.8 261.9 40.0 261.4 39.5 260.9 39.1 260.4 38.8 259.9 38.6 258.9 38.8 257.9 39.0 257.3 39.5 256.7 40.0 256.3 40.7 255.8 41.5 255.4 42.0 255.2 43.0 255.0 43.9 254.8 44.5 254.8 45.5 254.8 46.1 254.8 47.0 255.0 48.0 255.3 48.5 255.5 49.3 255.8 50.0 256.4 50.4 256.9 50.7 257.4 50.9 258.4 50.8 259.4 50.5 259.9 50.0 260.7 49.5 261.2 49.0 261.5 48.5 261.9 47.5 262.3 47.0 262.5" stroke="#000" stroke-width="1.1" fill="none"/><path d="M48.0 241.4L47.5 241.1 47.5 240.6 47.9 239.8 48.5 239.8 48.7 240.3 48.5 240.8 48.0 241.4M45.0 261.4L44.3 261.4 43.5 261.3 42.5 261.0 42.0 260.7 41.5 260.4 41.0 259.9 40.7 258.9 41.0 257.9 41.4 257.4 42.0 256.9 42.5 256.6 43.4 256.4 44.0 256.2 45.0 256.2 46.0 256.3 46.5 256.4 47.5 256.9 48.0 257.3 48.5 257.9 48.7 258.4 48.6 259.4 48.3 259.9 47.8 260.4 47.0 260.8 46.5 261.0 45.5 261.3 45.0 261.4" stroke="#000" stroke-width="1.1" fill="none"/></g><clipPath id="c108_206"><rect x="108.5" y="206.1" width="75.5" height="76.50000000000003"/></clipPath><g clip-path="url(#c108_206)"><path d="M135.5 225.6h0.5v0.5h-0.5zM138 225.6h0.5v0.5h-0.5zM139.5 225.6h0.5v0.5h-0.5zM142.5 225.6h0.5v0.5h-0.5zM134 226.1h1v0.5h-1zM137.5 226.1h0.5v0.5h-0.5zM142.5 226.1h0.5v0.5h-0.5zM153.5 226.1h0.5v0.5h-0.5zM156 226.1h0.5v0.5h-0.5zM126 226.6h0.5v0.5h-0.5zM139.5 226.6h0.5v0.5h-0.5zM140.5 226.6h0.5v0.5h-0.5zM146.5 226.6h0.5v0.5h-0.5zM151.5 226.6h1v0.5h-1zM155.5 226.6h0.5v0.5h-0.5zM157.5 226.6h0.5v0.5h-0.5zM129 227.1h0.5v0.5h-0.5zM131 227.1h0.5v0.5h-0.5zM137.5 227.1h0.5v0.5h-0.5zM139 227.1h0.5v0.5h-0.5zM140.5 227.1h0.5v0.5h-0.5zM144.5 227.1h0.5v0.5h-0.5zM161.5 227.1h0.5v0.5h-0.5zM164.5 227.1h0.5v0.5h-0.5zM119.5 227.6h0.5v0.5h-0.5zM122.5 227.6h0.5v0.5h-0.5zM128 227.6h0.5v0.5h-0.5zM130.5 227.6h0.5v0.5h-0.5zM135.5 227.6h0.5v0.5h-0.5zM137 227.6h0.5v0.5h-0.5zM140.5 227.6h0.5v0.5h-0.5zM141.5 227.6h1v0.5h-1zM145 227.6h0.5v0.5h-0.5zM147 227.6h0.5v0.5h-0.5zM148.5 227.6h0.5v0.5h-0.5zM149.5 227.6h0.5v0.5h-0.5zM151.5 227.6h0.5v0.5h-0.5zM153 227.6h1v0.5h-1zM155 227.6h0.5v0.5h-0.5zM157.5 227.6h0.5v0.5h-0.5zM160 227.6h0.5v0.5h-0.5zM117 228.1h0.5v0.5h-0.5zM123 228.1h0.5v0.5h-0.5zM125.5 228.1h0.5v0.5h-0.5zM126.5 228.1h0.5v0.5h-0.5zM127.5 228.1h0.5v0.5h-0.5zM128.5 228.1h0.5v0.5h-0.5zM152 228.1h0.5v0.5h-0.5zM153 228.1h0.5v0.5h-0.5zM154 228.1h0.5v0.5h-0.5zM155.5 228.1h0.5v0.5h-0.5zM160.5 228.1h1v0.5h-1zM164 228.1h1v0.5h-1zM166.5 228.1h0.5v0.5h-0.5zM120.5 228.6h0.5v0.5h-0.5zM122.5 228.6h0.5v0.5h-0.5zM125 228.6h0.5v0.5h-0.5zM160.5 228.6h0.5v0.5h-0.5zM163 228.6h1v0.5h-1zM165 228.6h0.5v0.5h-0.5zM117.5 229.1h0.5v0.5h-0.5zM120 229.1h0.5v0.5h-0.5zM164.5 229.1h0.5v0.5h-0.5zM120.5 229.6h0.5v0.5h-0.5zM165 229.6h1v0.5h-1zM117 230.1h1v0.5h-1zM167.5 230.1h0.5v0.5h-0.5zM118 230.6h0.5v0.5h-0.5zM115.5 231.1h1.5v0.5h-1.5zM170.5 231.1h0.5v0.5h-0.5zM116 231.6h0.5v0.5h-0.5zM171 231.6h1v0.5h-1zM115 232.6h0.5v0.5h-0.5zM116.5 232.6h0.5v0.5h-0.5zM116 233.1h0.5v0.5h-0.5zM171 233.1h0.5v0.5h-0.5zM173 233.1h0.5v0.5h-0.5zM116.5 233.6h0.5v0.5h-0.5zM171 233.6h0.5v0.5h-0.5zM116 234.1h0.5v0.5h-0.5zM172 234.1h0.5v0.5h-0.5zM115 234.6h0.5v0.5h-0.5zM116 235.1h0.5v0.5h-0.5zM170.5 235.1h0.5v0.5h-0.5zM170.5 235.6h0.5v0.5h-0.5zM171 236.1h0.5v0.5h-0.5zM115.5 236.6h0.5v0.5h-0.5zM117 236.6h0.5v0.5h-0.5zM116 237.1h0.5v0.5h-0.5zM117 237.1h0.5v0.5h-0.5zM170.5 237.1h0.5v0.5h-0.5zM116 237.6h0.5v0.5h-0.5zM117 237.6h0.5v0.5h-0.5zM170 237.6h0.5v0.5h-0.5zM116 238.1h0.5v0.5h-0.5zM170 238.1h0.5v0.5h-0.5zM170 239.1h0.5v0.5h-0.5zM171.5 239.1h0.5v0.5h-0.5zM116.5 239.6h0.5v0.5h-0.5zM171.5 239.6h0.5v0.5h-0.5zM117 240.1h0.5v0.5h-0.5zM117 241.1h0.5v0.5h-0.5zM117.5 241.6h0.5v0.5h-0.5zM168.5 241.6h0.5v0.5h-0.5zM170.5 241.6h0.5v0.5h-0.5zM116.5 243.1h0.5v0.5h-0.5zM117.5 243.6h0.5v0.5h-0.5zM167 243.6h0.5v0.5h-0.5zM117 244.1h0.5v0.5h-0.5zM166.5 244.1h0.5v0.5h-0.5zM118 244.6h0.5v0.5h-0.5zM118 245.1h0.5v0.5h-0.5zM117.5 245.6h1v0.5h-1zM166.5 245.6h0.5v0.5h-0.5zM117 246.1h2v0.5h-2zM165.5 246.1h1v0.5h-1zM118.5 246.6h0.5v0.5h-0.5zM167 246.6h0.5v0.5h-0.5zM119 247.1h0.5v0.5h-0.5zM164 247.1h0.5v0.5h-0.5zM166 247.1h0.5v0.5h-0.5zM119.5 247.6h0.5v0.5h-0.5zM165 247.6h0.5v0.5h-0.5zM167 247.6h0.5v0.5h-0.5zM162.5 248.1h1v0.5h-1zM164 248.1h0.5v0.5h-0.5zM117.5 248.6h0.5v0.5h-0.5zM118.5 248.6h0.5v0.5h-0.5zM119.5 248.6h0.5v0.5h-0.5zM163.5 248.6h0.5v0.5h-0.5zM119.5 249.1h0.5v0.5h-0.5zM120.5 249.1h0.5v0.5h-0.5zM161.5 249.1h0.5v0.5h-0.5zM120.5 249.6h0.5v0.5h-0.5zM161 249.6h0.5v0.5h-0.5zM165 249.6h1v0.5h-1zM166.5 249.6h0.5v0.5h-0.5zM118 250.1h0.5v0.5h-0.5zM120.5 250.1h0.5v0.5h-0.5zM160 250.1h0.5v0.5h-0.5zM162 250.1h0.5v0.5h-0.5zM163 250.1h0.5v0.5h-0.5zM121 250.6h1v0.5h-1zM159 250.6h1v0.5h-1zM160.5 250.6h1v0.5h-1zM117.5 251.1h1v0.5h-1zM160.5 251.1h0.5v0.5h-0.5zM120.5 251.6h0.5v0.5h-0.5zM159 251.6h1v0.5h-1zM161 251.6h0.5v0.5h-0.5zM163.5 251.6h0.5v0.5h-0.5zM121.5 252.6h1v0.5h-1zM156.5 252.6h0.5v0.5h-0.5zM158 252.6h0.5v0.5h-0.5zM160.5 252.6h0.5v0.5h-0.5zM121 253.1h1v0.5h-1zM154 253.1h2.5v0.5h-2.5zM157 253.1h1v0.5h-1zM159 253.1h0.5v0.5h-0.5zM118.5 253.6h0.5v0.5h-0.5zM119.5 253.6h0.5v0.5h-0.5zM155.5 253.6h0.5v0.5h-0.5zM161.5 253.6h0.5v0.5h-0.5zM120.5 254.1h0.5v0.5h-0.5zM122.5 254.1h0.5v0.5h-0.5zM153 254.1h0.5v0.5h-0.5zM154 254.1h1.5v0.5h-1.5zM158.5 254.1h0.5v0.5h-0.5zM120.5 254.6h0.5v0.5h-0.5zM122.5 254.6h0.5v0.5h-0.5zM149.5 254.6h0.5v0.5h-0.5zM151 254.6h0.5v0.5h-0.5zM154 254.6h0.5v0.5h-0.5zM156.5 254.6h1v0.5h-1zM120 255.1h0.5v0.5h-0.5zM121.5 255.1h0.5v0.5h-0.5zM149 255.1h0.5v0.5h-0.5zM150.5 255.1h0.5v0.5h-0.5zM152.5 255.1h1v0.5h-1zM154.5 255.1h1v0.5h-1zM157 255.1h0.5v0.5h-0.5zM123 255.6h1v0.5h-1zM153 255.6h0.5v0.5h-0.5zM155 255.6h0.5v0.5h-0.5zM157.5 255.6h0.5v0.5h-0.5zM160 255.6h0.5v0.5h-0.5zM161 255.6h0.5v0.5h-0.5zM121.5 256.1h1v0.5h-1zM142.5 256.1h1v0.5h-1zM144 256.1h0.5v0.5h-0.5zM145.5 256.1h0.5v0.5h-0.5zM147.5 256.1h0.5v0.5h-0.5zM148.5 256.1h0.5v0.5h-0.5zM151 256.1h0.5v0.5h-0.5zM152 256.1h0.5v0.5h-0.5zM154 256.1h0.5v0.5h-0.5zM155.5 256.1h0.5v0.5h-0.5zM160 256.1h0.5v0.5h-0.5zM121.5 256.6h0.5v0.5h-0.5zM123.5 256.6h0.5v0.5h-0.5zM139.5 256.6h0.5v0.5h-0.5zM141 256.6h0.5v0.5h-0.5zM143.5 256.6h0.5v0.5h-0.5zM144.5 256.6h0.5v0.5h-0.5zM146 256.6h0.5v0.5h-0.5zM147 256.6h0.5v0.5h-0.5zM150 256.6h0.5v0.5h-0.5zM155 256.6h0.5v0.5h-0.5zM119 257.1h0.5v0.5h-0.5zM120 257.1h0.5v0.5h-0.5zM123 257.1h0.5v0.5h-0.5zM124 257.1h1.5v0.5h-1.5zM138 257.1h0.5v0.5h-0.5zM139.5 257.1h2v0.5h-2zM142.5 257.1h0.5v0.5h-0.5zM144 257.1h0.5v0.5h-0.5zM145 257.1h0.5v0.5h-0.5zM147 257.1h0.5v0.5h-0.5zM148.5 257.1h0.5v0.5h-0.5zM151 257.1h0.5v0.5h-0.5zM120.5 257.6h0.5v0.5h-0.5zM123 257.6h0.5v0.5h-0.5zM124.5 257.6h0.5v0.5h-0.5zM139.5 257.6h0.5v0.5h-0.5zM141 257.6h0.5v0.5h-0.5zM142 257.6h1v0.5h-1zM146 257.6h1v0.5h-1zM151.5 257.6h0.5v0.5h-0.5zM155 257.6h0.5v0.5h-0.5zM125 258.1h1.5v0.5h-1.5zM136 258.1h0.5v0.5h-0.5zM137 258.1h0.5v0.5h-0.5zM140.5 258.1h1v0.5h-1zM142 258.1h0.5v0.5h-0.5zM145.5 258.1h0.5v0.5h-0.5zM151 258.1h0.5v0.5h-0.5zM155 258.1h0.5v0.5h-0.5zM125.5 258.6h0.5v0.5h-0.5zM126.5 258.6h0.5v0.5h-0.5zM135 258.6h1v0.5h-1zM140 258.6h1v0.5h-1zM142.5 258.6h0.5v0.5h-0.5zM144.5 258.6h0.5v0.5h-0.5zM147.5 258.6h0.5v0.5h-0.5zM126 259.1h1v0.5h-1zM127.5 259.1h1.5v0.5h-1.5zM144 259.1h0.5v0.5h-0.5zM146 259.1h0.5v0.5h-0.5zM149 259.1h0.5v0.5h-0.5zM121.5 259.6h0.5v0.5h-0.5zM127 259.6h0.5v0.5h-0.5zM130.5 259.6h0.5v0.5h-0.5zM132 259.6h0.5v0.5h-0.5zM135.5 259.6h1.5v0.5h-1.5zM140 259.6h0.5v0.5h-0.5zM149 259.6h0.5v0.5h-0.5zM122.5 260.1h0.5v0.5h-0.5zM129 260.1h1v0.5h-1zM131.5 260.1h0.5v0.5h-0.5zM132.5 260.1h0.5v0.5h-0.5zM133.5 260.1h0.5v0.5h-0.5zM136.5 260.1h1v0.5h-1zM138.5 260.1h0.5v0.5h-0.5zM141 260.1h0.5v0.5h-0.5zM143.5 260.1h0.5v0.5h-0.5zM124 260.6h0.5v0.5h-0.5zM129.5 260.6h1.5v0.5h-1.5zM132.5 260.6h0.5v0.5h-0.5zM128 261.1h0.5v0.5h-0.5zM129.5 261.1h0.5v0.5h-0.5zM131 261.1h0.5v0.5h-0.5zM132 261.1h0.5v0.5h-0.5zM134 261.1h0.5v0.5h-0.5zM137.5 261.1h0.5v0.5h-0.5zM129 261.6h0.5v0.5h-0.5zM131.5 261.6h0.5v0.5h-0.5zM139.5 261.6h0.5v0.5h-0.5zM125 262.1h0.5v0.5h-0.5zM128 262.1h2v0.5h-2zM131 262.1h0.5v0.5h-0.5zM132.5 262.1h1v0.5h-1zM138.5 262.1h0.5v0.5h-0.5zM128.5 262.6h0.5v0.5h-0.5zM131.5 262.6h0.5v0.5h-0.5zM135.5 262.6h0.5v0.5h-0.5zM130 263.1h0.5v0.5h-0.5zM129 263.6h0.5v0.5h-0.5z" fill="#000"/><path d="M133.2 259.4L132.2 259.6 131.2 259.7 130.2 259.6 129.2 259.5 128.8 259.3 127.8 259.0 127.2 258.7 126.6 258.4 125.9 257.9 125.4 257.4 124.9 256.9 124.5 256.4 124.2 255.8 123.8 255.1 123.4 254.3 123.1 253.8 122.8 252.9 122.5 252.3 122.2 251.8 121.8 250.8 121.5 250.3 121.2 249.8 120.8 249.1 120.4 248.3 120.1 247.8 119.8 247.1 119.4 246.3 119.2 245.8 118.9 244.8 118.7 244.3 118.5 243.3 118.2 242.4 118.1 241.8 118.0 240.8 117.8 239.8 117.7 239.3 117.6 238.3 117.5 237.3 117.4 236.3 117.2 235.5 117.2 234.8 117.1 233.8 117.0 232.8 117.2 231.8 117.7 231.3 118.2 231.0 118.8 230.7 119.5 230.3 120.2 230.1 121.1 229.8 121.8 229.7 122.8 229.4 123.2 229.3 124.2 229.1 125.2 228.9 125.9 228.8 126.8 228.7 127.8 228.6 128.8 228.5 129.8 228.4 130.2 228.3 131.2 228.2 132.2 228.2 133.2 228.1 134.2 228.1 135.2 228.0 136.2 228.0 137.2 228.0 138.2 228.0 139.2 228.0 140.2 228.0 141.2 228.0 142.2 228.0 143.2 228.0 144.2 228.0 145.2 228.0 146.2 228.1 147.2 228.1 148.2 228.1 149.2 228.2 150.2 228.2 151.2 228.3 151.8 228.3 152.8 228.4 153.8 228.5 154.8 228.5 155.8 228.6 156.8 228.7 157.8 228.8 158.2 228.9 159.2 229.0 160.2 229.1 161.2 229.2 162.0 229.3 162.8 229.5 163.8 229.6 164.8 229.8 165.2 229.9 166.2 230.1 167.1 230.3 167.8 230.5 168.7 230.8 169.2 231.1 169.9 231.3 170.6 231.8 170.9 232.3 170.9 233.3 170.8 234.3 170.8 235.0 170.6 235.8 170.4 236.8 170.2 237.3 169.9 238.3 169.8 238.9 169.3 239.8 169.1 240.3 168.8 241.1 168.3 241.8 168.0 242.3 167.7 242.8 167.2 243.5 166.8 244.2 166.2 244.8 165.8 245.3 165.4 245.8 164.9 246.3 164.4 246.8 163.9 247.3 163.3 247.8 162.8 248.3 162.2 248.7 161.8 249.1 161.2 249.5 160.7 249.8 160.0 250.3 159.2 250.8 158.8 251.1 158.2 251.4 157.4 251.8 156.8 252.2 156.2 252.4 155.3 252.8 154.8 253.1 154.1 253.3 153.2 253.7 152.8 253.9 151.8 254.2 151.2 254.4 150.2 254.7 149.6 254.8 148.8 255.1 147.8 255.3 147.2 255.4 146.2 255.6 145.2 255.7 144.4 255.8 143.8 255.9 142.8 256.1 141.8 256.2 141.2 256.4 140.2 256.6 139.4 256.9 138.8 257.1 138.2 257.4 137.2 257.8 136.8 258.1 136.2 258.4 135.2 258.8 134.8 259.0 133.8 259.3 133.2 259.4" stroke="#333" stroke-width="0.7" fill="none"/><path d="M132.8 259.0L131.8 259.1 130.8 259.1 129.8 259.0 128.9 258.9 128.2 258.6 127.6 258.4 126.8 257.9 126.2 257.4 125.8 257.0 125.2 256.4 124.9 255.8 124.6 255.3 124.2 254.8 123.8 253.8 123.6 253.3 123.3 252.3 123.1 251.8 122.8 251.1 122.3 250.3 122.1 249.8 121.8 249.3 121.2 248.4 120.9 247.8 120.7 247.3 120.2 246.4 120.0 245.8 119.8 245.0 119.5 244.3 119.3 243.3 119.2 242.8 119.0 241.8 118.8 240.8 118.8 240.2 118.6 239.3 118.5 238.3 118.4 237.3 118.3 236.3 118.2 235.8 118.1 234.8 118.0 233.8 118.0 232.8 118.2 231.8 118.6 231.3 119.2 230.9 119.8 230.7 120.6 230.3 121.2 230.1 122.2 229.8 122.8 229.7 123.8 229.5 124.5 229.3 125.2 229.2 126.2 229.0 127.2 228.9 127.8 228.8 128.8 228.7 129.8 228.6 130.8 228.5 131.8 228.4 132.8 228.4 133.2 228.3 134.2 228.3 135.2 228.2 136.2 228.2 137.2 228.2 138.2 228.2 139.2 228.2 140.2 228.2 141.2 228.2 142.2 228.2 143.2 228.2 144.2 228.2 145.2 228.3 146.2 228.3 147.2 228.3 147.8 228.4 148.8 228.4 149.8 228.4 150.8 228.5 151.8 228.6 152.8 228.6 153.8 228.7 154.8 228.8 155.2 228.9 156.2 228.9 157.2 229.0 158.2 229.1 159.2 229.3 159.8 229.3 160.8 229.5 161.8 229.6 162.8 229.8 163.2 229.9 164.2 230.1 165.2 230.3 165.8 230.4 166.8 230.7 167.2 230.9 168.2 231.3 168.8 231.6 169.2 232.1 169.4 232.8 169.3 233.8 169.2 234.7 169.2 235.3 168.9 236.3 168.8 237.1 168.5 237.8 168.2 238.6 168.0 239.3 167.7 239.8 167.2 240.8 166.9 241.3 166.7 241.8 166.2 242.5 165.8 243.2 165.3 243.8 164.8 244.3 164.4 244.8 164.0 245.3 163.5 245.8 163.0 246.3 162.4 246.8 161.9 247.3 161.3 247.8 160.8 248.2 160.2 248.6 159.8 249.0 159.2 249.3 158.4 249.8 157.8 250.2 157.2 250.5 156.7 250.8 155.8 251.3 155.2 251.6 154.6 251.8 153.8 252.2 153.2 252.4 152.2 252.8 151.8 253.0 150.8 253.3 150.2 253.4 149.2 253.7 148.8 253.9 147.8 254.1 146.8 254.3 146.2 254.4 145.2 254.6 144.2 254.7 143.4 254.8 142.8 254.9 141.8 255.1 140.8 255.3 140.2 255.4 139.2 255.8 138.8 256.1 138.2 256.4 137.4 256.9 136.8 257.2 136.2 257.5 135.7 257.9 134.8 258.3 134.2 258.5 133.2 258.8 132.8 259.0" stroke="#777" stroke-width="0.5" fill="none"/><path d="M132.8 258.4L131.8 258.5 130.8 258.6 129.8 258.5 129.2 258.4 128.2 258.0 127.8 257.8 127.1 257.4 126.5 256.9 126.0 256.4 125.6 255.8 125.2 255.3 124.8 254.3 124.6 253.8 124.2 252.9 124.1 252.3 123.8 251.4 123.5 250.8 123.2 250.3 122.8 249.4 122.5 248.8 122.2 248.3 121.8 247.6 121.4 246.8 121.1 246.3 120.8 245.4 120.5 244.8 120.3 243.8 120.1 243.3 119.9 242.3 119.8 241.3 119.7 240.8 119.6 239.8 119.5 238.8 119.4 237.8 119.3 236.8 119.2 236.3 119.1 235.3 119.0 234.3 118.9 233.3 118.9 232.3 119.2 231.7 119.8 231.2 120.4 230.8 121.2 230.5 121.8 230.3 122.8 230.0 123.5 229.8 124.2 229.7 125.2 229.5 126.0 229.3 126.8 229.2 127.8 229.1 128.8 229.0 129.8 228.9 130.2 228.8 131.2 228.7 132.2 228.6 133.2 228.6 134.2 228.5 135.2 228.5 136.2 228.4 137.2 228.4 138.2 228.4 139.2 228.4 140.2 228.4 141.2 228.4 142.2 228.4 143.2 228.4 144.2 228.5 145.2 228.5 146.2 228.5 147.2 228.6 148.2 228.6 149.2 228.7 150.2 228.7 151.2 228.8 152.0 228.8 152.8 228.9 153.8 229.0 154.8 229.1 155.8 229.2 156.8 229.3 157.4 229.3 158.2 229.4 159.2 229.6 160.2 229.7 161.0 229.8 161.8 230.0 162.8 230.2 163.5 230.3 164.2 230.5 165.2 230.8 165.8 231.0 166.7 231.3 167.2 231.7 167.8 232.3 167.8 232.8 167.8 233.7 167.7 234.3 167.5 235.3 167.3 236.3 167.2 236.8 166.9 237.8 166.7 238.3 166.3 239.3 166.0 239.8 165.8 240.4 165.2 241.2 164.9 241.8 164.5 242.3 164.2 242.8 163.8 243.4 163.2 244.0 162.8 244.5 162.2 245.1 161.8 245.6 161.2 246.0 160.8 246.5 160.2 246.9 159.7 247.3 159.0 247.8 158.3 248.3 157.8 248.7 157.2 249.0 156.7 249.3 155.8 249.8 155.2 250.1 154.8 250.4 153.8 250.8 153.2 251.0 152.5 251.3 151.8 251.6 151.1 251.8 150.2 252.1 149.6 252.3 148.8 252.6 147.8 252.8 147.2 253.0 146.2 253.2 145.2 253.3 144.8 253.4 143.8 253.6 142.8 253.7 141.9 253.8 141.2 254.0 140.2 254.2 139.8 254.4 138.8 254.8 138.2 255.2 137.8 255.5 137.2 255.9 136.6 256.4 135.9 256.9 135.2 257.3 134.8 257.6 134.2 257.9 133.2 258.2 132.8 258.4" stroke="#777" stroke-width="0.5" fill="none"/><path d="M131.8 257.9L130.8 257.9 129.9 257.9 129.2 257.7 128.3 257.4 127.8 257.0 127.2 256.7 126.8 256.2 126.2 255.6 125.8 254.8 125.6 254.3 125.2 253.5 125.0 252.8 124.8 251.8 124.6 251.3 124.3 250.3 124.1 249.8 123.8 249.2 123.2 248.4 122.9 247.8 122.6 247.3 122.2 246.7 121.9 245.8 121.7 245.3 121.3 244.3 121.2 243.8 120.9 242.8 120.8 241.8 120.7 241.3 120.6 240.3 120.5 239.3 120.5 238.3 120.4 237.3 120.3 236.3 120.2 235.8 120.1 234.8 119.9 233.8 119.9 232.8 120.1 231.8 120.5 231.3 121.2 230.9 121.8 230.7 122.8 230.4 123.2 230.2 124.2 230.0 124.8 229.8 125.8 229.6 126.8 229.5 127.7 229.3 128.2 229.3 129.2 229.1 130.2 229.0 131.2 228.9 132.2 228.9 132.8 228.8 133.8 228.8 134.8 228.7 135.8 228.7 136.8 228.6 137.8 228.6 138.8 228.6 139.8 228.6 140.8 228.6 141.8 228.6 142.8 228.7 143.8 228.7 144.8 228.7 145.8 228.8 146.8 228.8 147.8 228.8 148.2 228.9 149.2 228.9 150.2 229.0 151.2 229.0 152.2 229.1 153.2 229.2 154.2 229.3 154.8 229.4 155.8 229.5 156.8 229.6 157.8 229.7 158.7 229.8 159.2 229.9 160.2 230.1 161.2 230.3 161.8 230.4 162.8 230.6 163.5 230.8 164.2 231.1 164.9 231.3 165.7 231.8 166.1 232.3 166.1 233.3 166.0 234.3 165.8 235.3 165.7 235.8 165.4 236.8 165.2 237.4 164.9 238.3 164.7 238.8 164.2 239.7 163.9 240.3 163.6 240.8 163.2 241.4 162.8 242.1 162.2 242.8 161.8 243.3 161.3 243.8 160.8 244.3 160.3 244.8 159.8 245.3 159.2 245.8 158.8 246.2 158.2 246.6 157.8 247.0 157.2 247.3 156.4 247.8 155.8 248.3 155.2 248.6 154.7 248.8 153.8 249.3 153.2 249.6 152.6 249.8 151.8 250.2 151.2 250.4 150.2 250.8 149.8 250.9 148.8 251.2 148.2 251.4 147.2 251.6 146.2 251.8 145.8 251.9 144.8 252.1 143.8 252.3 143.2 252.4 142.2 252.5 141.2 252.7 140.4 252.8 139.8 253.0 139.0 253.3 138.2 253.8 137.8 254.1 137.2 254.6 136.8 255.0 136.2 255.5 135.8 255.9 135.2 256.4 134.5 256.9 133.8 257.3 133.2 257.5 132.2 257.8 131.8 257.9" stroke="#777" stroke-width="0.5" fill="none"/><path d="M132.8 256.9L131.8 257.1 130.8 257.2 129.8 257.1 129.0 256.9 128.2 256.5 127.8 256.1 127.2 255.6 126.8 255.0 126.4 254.3 126.2 253.8 125.9 252.8 125.8 252.2 125.6 251.3 125.5 250.3 125.2 249.8 124.8 248.8 124.6 248.3 124.2 247.8 123.8 247.3 123.2 246.5 122.9 245.8 122.7 245.3 122.4 244.3 122.2 243.4 122.1 242.8 121.8 241.8 121.8 241.2 121.7 240.3 121.6 239.3 121.5 238.3 121.4 237.3 121.3 236.3 121.2 235.8 121.1 234.8 121.0 233.8 120.9 232.8 121.0 231.8 121.5 231.3 122.2 231.0 122.8 230.7 123.8 230.4 124.2 230.3 125.2 230.0 126.2 229.8 126.8 229.7 127.8 229.6 128.8 229.5 129.8 229.4 130.2 229.3 131.2 229.2 132.2 229.1 133.2 229.0 134.2 229.0 135.2 228.9 136.2 228.9 137.2 228.9 138.2 228.9 139.2 228.9 140.2 228.9 141.2 228.9 142.2 228.9 143.2 228.9 144.2 229.0 145.2 229.0 146.2 229.0 147.2 229.1 148.2 229.1 149.2 229.2 150.2 229.3 151.2 229.3 151.8 229.4 152.8 229.5 153.8 229.5 154.8 229.7 155.8 229.8 156.3 229.8 157.2 230.0 158.2 230.1 159.2 230.3 159.8 230.4 160.8 230.6 161.6 230.8 162.2 231.1 163.1 231.3 163.8 231.7 164.2 232.3 164.3 232.8 164.3 233.8 164.2 234.3 164.0 235.3 163.8 236.3 163.6 236.8 163.2 237.7 163.0 238.3 162.7 238.8 162.2 239.8 161.9 240.3 161.6 240.8 161.2 241.3 160.8 242.0 160.2 242.6 159.8 243.2 159.2 243.7 158.8 244.2 158.2 244.6 157.8 245.0 157.2 245.4 156.7 245.8 156.0 246.3 155.2 246.8 154.8 247.1 154.2 247.4 153.4 247.8 152.8 248.2 152.2 248.4 151.3 248.8 150.8 249.1 150.0 249.3 149.2 249.6 148.6 249.8 147.8 250.1 146.8 250.3 146.2 250.4 145.2 250.6 144.2 250.8 143.6 250.8 142.8 251.0 141.8 251.1 140.8 251.3 140.2 251.5 139.2 251.8 138.8 252.0 138.1 252.3 137.4 252.8 136.8 253.3 136.4 253.8 135.9 254.3 135.5 254.8 135.1 255.3 134.5 255.8 133.8 256.4 133.2 256.7 132.8 256.9M137.4 247.3L136.8 247.1 136.8 247.5 137.4 247.3" stroke="#666" stroke-width="0.5" fill="none"/><path d="M132.2 256.0L131.2 256.2 130.2 256.2 129.3 255.8 128.8 255.6 128.2 255.2 127.7 254.8 127.2 254.2 127.0 253.3 127.1 252.3 127.6 251.8 128.2 251.8 128.8 252.1 129.8 252.0 130.0 251.3 129.8 250.4 129.3 249.8 128.8 249.3 128.3 248.8 127.8 248.6 127.2 248.3 126.3 247.8 125.8 247.3 125.3 246.8 124.8 246.5 124.2 246.2 123.8 245.3 123.7 244.8 123.5 243.8 123.3 242.8 123.1 242.3 122.8 241.5 122.6 240.8 122.6 239.8 122.7 238.8 122.8 238.3 122.8 237.3 122.8 236.8 122.6 235.8 122.3 234.8 122.1 234.3 122.0 233.3 121.9 232.3 122.2 231.7 122.8 231.3 123.6 230.8 124.2 230.6 125.2 230.3 125.8 230.2 126.8 230.0 127.8 229.9 128.2 229.8 129.2 229.7 130.2 229.5 131.2 229.4 132.2 229.4 132.8 229.3 133.8 229.3 134.8 229.2 135.8 229.2 136.8 229.1 137.8 229.1 138.8 229.1 139.8 229.1 140.8 229.1 141.8 229.1 142.8 229.2 143.8 229.2 144.8 229.2 145.8 229.3 146.8 229.3 147.2 229.4 148.2 229.4 149.2 229.5 150.2 229.5 151.2 229.6 152.2 229.7 153.2 229.8 153.8 229.9 154.8 230.0 155.8 230.1 156.8 230.3 157.2 230.4 158.2 230.6 159.2 230.8 159.8 230.9 160.8 231.2 161.2 231.4 162.0 231.8 162.4 232.3 162.4 233.3 162.3 234.3 162.2 234.8 161.9 235.8 161.7 236.3 161.4 237.3 161.2 237.8 160.8 238.7 160.4 239.3 160.1 239.8 159.7 240.3 159.2 241.0 158.8 241.6 158.2 242.2 157.8 242.7 157.2 243.2 156.8 243.7 156.2 244.1 155.8 244.5 155.2 244.9 154.6 245.3 153.8 245.8 153.2 246.2 152.8 246.5 152.0 246.8 151.2 247.2 150.8 247.5 150.0 247.8 149.2 248.2 148.8 248.4 147.8 248.7 147.0 248.8 146.2 249.0 145.2 249.2 144.4 249.3 143.8 249.5 142.9 249.8 142.2 250.0 141.2 250.0 140.2 250.1 139.2 250.2 138.2 250.3 137.2 250.3 136.2 250.3 135.8 250.5 135.2 250.9 134.8 251.7 134.5 252.3 134.3 253.3 134.2 253.9 134.0 254.8 133.5 255.3 132.8 255.8 132.2 256.0M137.5 248.3L137.9 247.8 137.8 246.9 137.2 246.5 136.2 246.8 136.0 247.3 136.2 247.9 136.9 248.3 137.5 248.3" stroke="#666" stroke-width="0.5" fill="none"/><path d="M131.8 254.9L130.8 254.9 130.2 254.7 129.8 254.2 129.6 253.3 129.9 252.8 130.3 252.3 130.6 251.3 130.3 250.3 129.9 249.8 129.5 249.3 129.0 248.8 128.4 248.3 127.8 247.9 127.2 247.5 126.8 246.9 126.6 246.3 126.2 245.7 125.5 245.3 124.9 244.8 124.6 244.3 124.2 243.5 124.0 242.8 123.8 242.1 123.5 241.3 123.5 240.3 123.8 239.8 124.2 239.0 124.5 238.3 124.5 237.3 124.2 236.7 123.8 235.8 123.6 235.3 123.2 234.4 123.1 233.8 123.0 232.8 123.1 231.8 123.6 231.3 124.2 231.0 124.8 230.8 125.8 230.5 126.6 230.3 127.2 230.2 128.2 230.0 129.2 229.9 130.0 229.8 130.8 229.7 131.8 229.6 132.8 229.6 133.8 229.5 134.8 229.4 135.8 229.4 136.8 229.4 137.8 229.4 138.8 229.4 139.8 229.4 140.8 229.4 141.8 229.4 142.8 229.4 143.8 229.5 144.8 229.5 145.8 229.5 146.8 229.6 147.8 229.7 148.8 229.7 149.8 229.8 150.2 229.9 151.2 229.9 152.2 230.0 153.2 230.2 154.2 230.3 154.8 230.4 155.8 230.6 156.8 230.7 157.2 230.9 158.2 231.1 159.0 231.3 159.8 231.7 160.2 232.2 160.4 232.8 160.3 233.8 160.2 234.3 159.9 235.3 159.8 235.9 159.4 236.8 159.2 237.3 158.8 238.2 158.3 238.8 158.0 239.3 157.7 239.8 157.2 240.4 156.8 241.0 156.2 241.5 155.8 242.0 155.2 242.4 154.8 242.9 154.1 243.3 153.5 243.8 152.9 244.3 152.3 244.8 151.8 245.3 151.2 245.5 150.2 245.8 149.2 245.8 148.2 245.8 147.8 245.9 147.0 246.3 146.2 246.8 145.8 247.1 144.8 247.3 144.2 247.5 143.2 247.6 142.7 247.3 142.2 246.8 141.2 246.6 140.7 246.8 140.2 247.3 139.8 248.3 139.2 248.7 138.8 248.1 138.5 247.3 138.2 246.7 137.8 245.8 137.2 245.5 136.8 245.9 136.0 246.3 135.6 246.8 135.7 247.8 135.9 248.3 136.0 249.3 135.5 249.8 134.9 250.3 134.5 250.8 134.2 251.3 133.8 252.1 133.2 252.6 132.9 253.3 132.8 253.9 132.2 254.7 131.8 254.9M129.4 244.3L129.4 243.3 129.2 242.8 128.4 242.8 128.2 243.3 128.2 244.3 128.8 244.8 129.4 244.3M137.9 244.8L137.4 244.3 137.2 244.3 137.2 244.9 137.9 244.8" stroke="#555" stroke-width="0.5" fill="none"/><path d="M131.8 251.9L131.5 251.3 131.2 250.8 130.8 250.2 130.2 249.5 129.8 248.9 129.2 248.4 128.8 248.0 128.2 247.6 127.8 246.8 128.2 246.0 128.8 245.7 129.7 245.3 129.9 244.8 129.9 243.8 129.8 242.9 129.5 242.3 128.8 242.0 127.9 242.3 127.6 242.8 127.2 243.7 126.8 244.1 125.8 243.9 125.4 243.3 125.2 242.8 124.9 241.8 125.2 241.3 125.6 240.3 125.8 239.6 125.8 238.8 125.8 238.3 125.6 237.3 125.2 236.4 125.0 235.8 124.8 235.3 124.4 234.3 124.2 233.8 124.0 232.8 124.1 231.8 124.7 231.3 125.2 231.1 125.9 230.8 126.8 230.6 127.8 230.4 128.2 230.3 129.2 230.2 130.2 230.1 131.2 230.0 132.2 229.9 132.8 229.8 133.8 229.8 134.8 229.7 135.8 229.7 136.8 229.6 137.8 229.6 138.8 229.6 139.8 229.6 140.8 229.7 141.8 229.7 142.8 229.7 143.8 229.7 144.8 229.8 145.8 229.8 146.2 229.9 147.2 229.9 148.2 230.0 149.2 230.1 150.2 230.2 151.2 230.3 151.8 230.4 152.8 230.5 153.8 230.7 154.8 230.8 155.2 231.0 156.2 231.2 156.8 231.4 157.8 231.8 158.2 232.3 158.2 233.3 158.0 234.3 157.8 235.1 157.4 235.8 157.2 236.3 156.8 237.2 156.4 237.8 156.0 238.3 155.7 238.8 155.2 239.4 154.8 240.0 154.2 240.6 153.8 241.1 153.2 241.5 152.8 241.9 152.1 242.3 151.5 242.8 150.9 243.3 150.2 243.5 149.2 243.6 148.2 243.8 147.2 243.8 146.8 244.0 146.3 244.8 146.0 245.3 145.3 245.8 144.8 246.0 143.8 246.0 143.2 245.5 142.9 244.8 142.2 244.4 141.2 244.7 140.8 245.2 140.2 245.5 139.8 245.3 139.2 244.8 138.7 244.3 138.2 243.8 137.8 243.3 136.9 243.3 136.4 243.8 136.1 244.3 136.0 245.3 135.5 245.8 135.1 246.3 134.9 247.3 135.2 248.3 134.9 249.3 134.4 249.8 134.0 250.3 133.7 250.8 133.2 251.3 132.2 251.8 131.8 251.9M134.2 244.3L134.3 243.8 133.8 243.8 133.7 244.3 134.2 244.3M131.9 246.8L131.8 246.3 131.2 246.7 131.2 246.9 131.9 246.8" stroke="#555" stroke-width="0.5" fill="none"/><path d="M131.8 245.5L130.8 245.3 130.5 244.8 130.3 243.8 130.2 243.3 130.0 242.3 129.8 241.8 129.1 241.3 128.2 241.2 127.5 241.3 127.2 241.3 127.2 240.3 127.8 240.2 128.5 239.8 129.2 239.4 129.5 238.8 129.2 238.2 128.8 237.8 127.8 237.6 127.1 237.3 126.6 236.8 126.3 235.8 126.1 235.3 125.8 234.3 125.6 233.8 125.2 233.0 125.1 232.3 125.3 231.8 125.9 231.3 126.8 231.0 127.4 230.8 128.2 230.6 129.2 230.5 130.2 230.4 130.8 230.3 131.8 230.2 132.8 230.1 133.8 230.0 134.8 230.0 135.8 229.9 136.8 229.9 137.8 229.9 138.8 229.9 139.8 229.9 140.8 229.9 141.8 230.0 142.8 230.0 143.8 230.0 144.8 230.1 145.8 230.1 146.8 230.2 147.8 230.3 148.3 230.3 149.2 230.5 150.2 230.6 151.2 230.7 152.2 230.8 152.8 231.0 153.8 231.2 154.3 231.3 155.2 231.7 155.8 232.1 155.9 232.8 155.8 233.7 155.6 234.3 155.2 235.1 154.9 235.8 154.5 236.3 154.2 236.8 153.8 237.5 153.2 238.1 152.8 238.6 152.2 239.2 151.8 239.8 151.3 240.3 150.8 240.8 150.2 241.1 149.7 241.3 148.8 241.7 148.2 241.9 147.2 242.2 146.7 242.3 145.9 242.8 145.4 243.3 144.9 243.8 144.2 244.2 143.4 243.8 142.8 243.6 141.8 243.5 140.8 243.8 140.2 244.1 139.2 244.0 138.8 243.6 138.2 242.9 137.8 242.4 136.8 242.7 136.2 243.1 135.8 243.4 135.2 243.3 134.7 242.8 134.2 242.3 133.8 242.5 133.2 243.3 133.0 243.8 132.8 244.4 132.2 245.2 131.8 245.5M129.8 247.8L129.0 247.3 129.2 246.4 130.1 246.8 129.8 247.8M133.8 248.4L133.2 248.3 132.9 247.3 133.2 246.5 134.0 246.8 134.0 247.8 133.8 248.4M131.2 249.0L131.2 248.5 131.2 249.0" stroke="#444" stroke-width="0.6" fill="none"/><path d="M131.8 244.6L131.1 244.3 130.8 243.7 130.6 242.8 130.7 241.8 131.2 241.3 131.8 241.1 132.2 240.7 132.8 240.2 132.9 239.3 132.7 238.8 132.2 238.3 131.3 237.8 130.8 237.7 130.2 237.3 129.7 236.8 128.8 236.6 127.9 236.3 127.5 235.8 127.2 235.0 127.0 234.3 126.8 233.6 126.5 232.8 126.6 231.8 127.2 231.4 127.8 231.2 128.8 230.9 129.2 230.8 130.2 230.6 131.2 230.5 132.2 230.4 133.0 230.3 133.8 230.3 134.8 230.2 135.8 230.2 136.8 230.2 137.8 230.2 138.8 230.2 139.8 230.2 140.8 230.2 141.8 230.2 142.8 230.3 143.8 230.3 144.2 230.4 145.2 230.4 146.2 230.5 147.2 230.6 148.2 230.7 149.2 230.8 149.8 230.9 150.8 231.1 151.8 231.3 152.2 231.5 153.0 231.8 153.5 232.3 153.3 233.3 153.1 233.8 152.8 234.6 152.2 235.3 151.8 235.8 151.4 236.3 151.0 236.8 150.4 237.3 149.8 237.8 149.2 238.3 148.8 238.6 148.2 238.8 147.3 239.3 146.8 239.7 146.2 240.2 145.8 240.7 145.2 241.2 144.8 241.7 144.2 241.9 143.8 241.8 142.8 241.8 142.2 242.0 141.7 242.3 140.8 242.8 140.2 243.1 139.2 242.9 138.8 242.3 138.5 241.8 137.8 241.3 137.2 241.3 136.8 241.6 136.2 242.0 135.4 241.8 135.2 241.2 134.8 240.4 134.2 240.3 133.8 240.4 133.2 240.9 133.1 241.8 132.9 242.8 132.6 243.3 132.2 244.1 131.8 244.6" stroke="#333" stroke-width="0.7" fill="none"/><path d="M138.8 239.6L137.8 239.4 137.2 239.2 136.7 238.8 135.8 238.4 135.2 238.3 134.2 238.2 133.7 237.8 133.2 237.0 132.8 236.5 132.2 236.3 131.2 236.2 130.4 235.8 129.8 235.5 129.2 235.2 128.8 234.8 128.2 234.0 128.0 233.3 127.8 232.3 128.2 231.7 128.8 231.3 129.8 231.1 130.8 230.9 131.2 230.8 132.2 230.7 133.2 230.6 134.2 230.5 135.2 230.5 136.2 230.5 137.2 230.5 138.2 230.5 139.2 230.5 140.2 230.5 141.2 230.5 142.2 230.6 143.2 230.6 144.2 230.7 145.2 230.8 145.8 230.9 146.8 231.0 147.8 231.1 148.8 231.3 149.2 231.5 150.2 231.8 150.7 232.3 150.5 233.3 150.2 233.8 149.8 234.5 149.2 235.0 148.8 235.4 148.2 235.8 147.4 236.3 146.8 236.7 146.2 237.0 145.8 237.4 145.1 237.8 144.2 238.2 143.2 238.3 142.2 238.3 141.2 238.0 140.2 238.2 139.8 238.5 139.2 239.0 138.8 239.6M131.8 242.9L131.8 242.8 131.8 242.9" stroke="#222" stroke-width="0.8" fill="none"/><path d="M137.8 237.4L136.8 237.4 136.2 237.3 135.5 236.8 134.9 236.3 134.2 236.0 133.8 235.7 132.8 235.3 132.2 235.2 131.2 234.9 130.8 234.4 130.3 233.8 129.9 233.3 129.7 232.8 129.8 232.0 130.2 231.6 130.9 231.3 131.8 231.2 132.8 231.0 133.8 230.9 134.4 230.8 135.2 230.8 136.2 230.8 137.2 230.8 138.2 230.8 139.2 230.8 140.2 230.8 140.8 230.9 141.8 230.9 142.8 231.0 143.8 231.1 144.8 231.2 145.6 231.3 146.2 231.5 147.2 231.8 147.7 232.3 147.3 233.3 146.9 233.8 146.4 234.3 145.8 234.8 145.2 235.1 144.8 235.4 144.1 235.8 143.2 236.3 142.6 236.3 141.8 236.3 141.6 236.3 140.8 236.4 139.8 236.4 138.8 236.8 138.2 237.2 137.8 237.4" stroke="#111" stroke-width="0.9" fill="none"/><path d="M137.2 235.0L136.2 234.9 135.8 234.7 134.8 234.5 134.2 234.3 133.2 234.0 132.8 233.6 132.2 233.0 132.0 232.3 132.2 231.8 133.2 231.5 133.9 231.3 134.8 231.3 135.8 231.2 136.8 231.2 137.8 231.2 138.8 231.2 139.8 231.3 140.8 231.3 141.2 231.4 142.2 231.6 143.2 231.8 143.8 232.1 143.8 232.8 143.4 233.3 142.8 233.8 142.2 234.1 141.5 234.3 140.8 234.5 139.8 234.5 138.8 234.6 137.8 234.8 137.2 235.0" stroke="#000" stroke-width="1.0" fill="none"/></g><path d="M125 232.5C129 230 134 229.6 140 229.9C147 230.2 153 230.8 158 231.8" stroke="#000" stroke-width="1.6" fill="none"/><path d="M127 233.2C131 232 136 231.8 141 232.2" stroke="#111" stroke-width="1.2" fill="none"/><clipPath id="c212_21"><rect x="212.2" y="21.6" width="76.10000000000002" height="76.0"/></clipPath><g clip-path="url(#c212_21)"><path d="M275.6 97.3L274.9 97.1 274.4 96.8 273.7 96.3 272.9 96.0 272.4 95.7 271.8 95.3 270.9 95.0 270.4 94.7 269.8 94.3 268.9 93.9 268.4 93.7 267.9 93.3 267.0 92.8 266.4 92.6 265.9 92.3 264.9 91.9 264.4 91.7 263.8 91.3 262.9 90.9 262.4 90.7 261.9 90.3 261.0 89.8 260.4 89.6 259.9 89.3 259.3 88.8 258.5 88.3 257.9 88.1 257.4 87.8 256.7 87.3 255.9 86.9 255.4 86.7 254.9 86.3 254.0 85.8 253.4 85.5 252.9 85.2 252.4 84.8 251.4 84.6 250.4 84.6 249.4 84.4 248.4 84.5 247.4 84.6 246.4 84.5 245.4 84.5 244.7 84.3 243.9 84.2 242.9 83.9 242.4 83.8 241.4 83.7 240.4 83.6 239.4 83.5 238.4 83.5 237.4 83.5 236.4 83.5 235.4 83.5 234.4 83.4 233.7 83.3 232.9 83.3 231.9 83.3 231.4 83.4 230.4 83.6 229.4 83.6 228.4 83.5 227.9 83.2 227.4 82.7 227.1 81.8 226.9 81.3 226.5 80.3 226.2 79.8 225.9 79.3 225.5 78.3 225.3 77.8 225.0 76.8 224.8 76.3 224.5 75.3 224.4 74.7 224.4 73.8 224.3 72.8 224.4 71.8 224.5 71.3 224.5 70.3 224.4 69.5 224.4 68.8 224.4 68.2 224.4 67.8 224.2 66.8 224.0 65.8 223.9 65.3 223.7 64.3 223.5 63.4 223.4 62.6 223.3 61.9 223.1 60.9 223.0 59.9 222.8 59.4 222.6 58.4 222.5 57.4 222.4 56.9 222.2 55.9 222.1 54.9 221.9 54.1 221.7 53.4 221.6 52.4 221.5 51.4 221.4 50.9 221.1 49.9 220.9 49.3 220.6 48.4 220.4 47.7 220.1 46.9 219.9 46.0 219.7 45.4 219.5 44.4 219.3 43.9 219.0 42.9 218.9 42.4 218.6 41.4 218.4 40.5 218.2 39.9 217.9 39.0 217.6 38.4 217.4 37.9 216.9 36.9 216.6 36.4 216.4 35.9 215.9 35.1 215.5 34.4 215.1 33.9 214.9 33.4 214.4 32.6 214.1 31.9 213.8 31.4 213.4 30.6 213.0 29.9 212.8 29.4 212.8 28.4 212.8 27.4 212.8 26.4 212.8 25.4 212.8 24.4 212.9 23.7 213.4 22.9 213.9 22.5 214.9 22.4 215.9 22.4 216.9 22.4 217.9 22.4 218.9 22.4 219.9 22.5 220.9 22.5 221.9 22.5 222.9 22.5 223.9 22.6 224.9 22.6 225.9 22.6 226.9 22.6 227.9 22.6 228.9 22.6 229.9 22.6 230.9 22.6 231.9 22.6 232.9 22.7 233.9 22.7 234.9 22.7 235.9 22.8 236.9 22.7 237.9 22.6 238.9 22.6 239.9 22.6 240.9 22.7 241.9 22.7 242.9 22.7 243.9 22.7 244.9 22.4 245.4 22.3 246.4 22.3 246.9 22.4 247.9 22.6 248.9 22.8 249.4 22.9 250.4 23.3 250.9 23.5 251.5 23.9 252.1 24.4 252.4 25.0 252.9 25.9 253.1 26.4 253.4 27.2 253.7 27.9 254.0 28.4 254.4 29.3 254.8 29.9 255.1 30.4 255.4 31.0 255.9 31.8 256.3 32.4 256.7 32.9 257.1 33.4 257.5 33.9 258.0 34.4 258.4 35.0 258.9 35.6 259.4 36.3 259.9 36.9 260.2 37.4 260.8 37.9 261.4 38.1 262.0 38.4 262.7 38.9 263.2 39.4 263.5 39.9 263.8 40.9 263.9 41.9 264.2 42.4 264.5 42.9 264.9 43.4 265.4 43.9 265.9 44.4 266.4 44.9 266.9 45.5 267.4 46.0 268.2 46.4 268.9 46.6 269.6 46.9 270.4 47.2 270.9 47.6 271.4 48.0 272.4 48.3 272.9 48.4 273.9 48.6 274.6 48.9 275.4 49.1 276.1 49.4 276.8 49.9 277.1 50.4 277.4 50.9 277.9 51.6 278.4 52.0 279.1 52.4 279.3 53.4 279.5 53.9 279.9 54.7 280.2 55.4 280.4 56.1 280.6 56.9 280.8 57.9 280.9 58.9 280.9 59.9 280.9 60.9 281.0 61.4 281.0 62.4 281.0 63.4 281.0 64.3 281.0 65.3 281.0 66.3 281.1 67.3 281.1 68.3 281.0 69.3 280.9 69.8 280.9 70.8 280.9 71.4 281.1 72.3 281.1 73.3 281.0 74.3 281.0 75.3 281.0 76.3 281.1 77.3 281.3 78.3 281.4 79.3 281.5 79.8 281.6 80.8 281.6 81.8 281.7 82.8 281.7 83.8 281.8 84.8 281.9 85.8 281.9 86.8 282.0 87.3 282.1 88.3 282.2 89.3 282.2 90.3 282.3 91.3 282.4 92.3 282.4 93.3 282.5 93.8 282.5 94.8 282.6 95.8 282.4 96.3 281.9 97.1" stroke="#888" stroke-width="0.5" fill="none"/><path d="M275.8 97.3L274.9 96.9 274.4 96.7 273.9 96.3 273.0 95.8 272.4 95.6 271.9 95.3 271.0 94.8 270.4 94.6 269.9 94.3 269.1 93.8 268.4 93.6 267.9 93.3 267.2 92.8 266.4 92.5 265.9 92.3 265.1 91.8 264.4 91.6 263.9 91.3 263.1 90.8 262.4 90.6 261.9 90.3 261.2 89.8 260.4 89.4 259.9 89.2 259.4 88.8 258.7 88.3 257.9 87.9 257.4 87.7 256.9 87.3 256.0 86.8 255.4 86.6 254.9 86.3 254.2 85.8 253.4 85.4 252.9 85.1 252.4 84.8 251.4 84.5 250.4 84.4 249.9 84.3 248.9 84.2 248.3 84.3 247.5 84.3 246.9 84.3 245.9 84.3 244.9 84.2 243.9 83.9 243.4 83.8 242.4 83.6 241.4 83.4 240.7 83.3 239.9 83.2 238.9 83.2 237.9 83.2 236.9 83.2 235.9 83.2 234.9 83.2 233.9 83.1 232.9 83.0 231.9 83.0 230.9 83.2 229.9 83.3 228.9 83.3 227.9 82.9 227.6 82.3 227.4 81.8 227.0 80.8 226.8 80.3 226.4 79.7 226.0 78.8 225.8 78.3 225.5 77.3 225.3 76.8 224.9 75.9 224.8 75.3 224.6 74.3 224.5 73.3 224.6 72.3 224.7 71.3 224.7 70.3 224.6 69.3 224.5 68.3 224.5 67.3 224.3 66.8 224.1 65.8 224.0 64.8 223.8 64.3 223.6 63.4 223.5 62.4 223.4 61.9 223.2 60.9 223.0 59.9 222.9 59.3 222.7 58.4 222.6 57.4 222.5 56.4 222.4 55.9 222.2 54.9 222.0 53.9 221.9 53.4 221.6 52.4 221.5 51.4 221.4 50.7 221.2 49.9 220.9 48.9 220.7 48.4 220.4 47.4 220.2 46.9 220.0 45.9 219.8 45.4 219.5 44.4 219.4 43.9 219.1 42.9 218.9 42.0 218.7 41.4 218.5 40.4 218.3 39.9 218.0 38.9 217.7 38.4 217.4 37.7 217.0 36.9 216.8 36.4 216.4 35.8 215.9 34.9 215.6 34.4 215.2 33.9 214.9 33.3 214.5 32.4 214.2 31.9 213.9 31.3 213.4 30.4 213.1 29.9 212.9 29.3 212.9 28.4 212.9 27.4 212.9 26.4 212.9 25.4 212.9 24.5 213.0 23.9 213.4 23.0 213.9 22.6 214.9 22.5 215.9 22.5 216.9 22.5 217.9 22.5 218.9 22.5 219.9 22.6 220.9 22.6 221.9 22.6 222.9 22.6 223.9 22.7 224.9 22.7 225.9 22.7 226.9 22.7 227.9 22.7 228.9 22.7 229.9 22.7 230.9 22.7 231.9 22.8 232.9 22.8 233.9 22.8 234.6 22.9 235.4 22.9 236.4 22.9 236.9 22.8 237.9 22.7 238.9 22.7 239.9 22.8 240.9 22.8 241.4 22.9 242.4 22.9 243.4 22.9 244.0 22.9 244.9 22.5 245.9 22.5 246.9 22.7 247.4 22.9 248.4 23.1 249.1 23.4 249.9 23.7 250.4 23.9 251.1 24.4 251.6 24.9 252.0 25.4 252.4 26.3 252.7 26.9 252.9 27.5 253.4 28.4 253.6 28.9 253.9 29.6 254.3 30.4 254.5 30.9 254.9 31.9 255.1 32.4 255.4 32.9 255.9 33.5 256.4 34.1 256.9 34.9 257.2 35.4 257.5 35.9 257.9 36.4 258.4 37.1 258.9 37.8 259.4 38.4 259.9 38.8 260.4 39.0 261.4 39.2 262.0 39.4 262.5 39.9 262.9 40.8 263.1 41.4 263.2 42.4 263.4 42.9 263.9 43.7 264.4 44.3 264.9 44.8 265.4 45.3 265.9 45.8 266.4 46.4 266.9 46.9 267.4 47.2 267.9 47.4 268.8 47.9 269.4 48.1 270.1 48.4 270.9 48.7 271.4 48.9 272.4 49.0 273.4 49.3 273.9 49.5 274.5 49.9 275.3 50.4 275.9 50.7 276.4 51.2 276.9 51.7 277.4 52.3 277.9 52.9 278.2 53.4 278.4 54.0 278.9 54.7 279.4 55.3 279.7 55.9 280.0 56.4 280.3 57.4 280.5 57.9 280.6 58.9 280.6 59.9 280.7 60.9 280.8 61.9 280.8 62.9 280.8 63.9 280.7 64.8 280.8 65.8 280.9 66.8 280.9 67.8 280.8 68.8 280.7 69.8 280.7 70.8 280.8 71.8 280.9 72.8 280.8 73.8 280.7 74.8 280.7 75.8 280.8 76.8 280.9 77.4 281.1 78.3 281.3 79.3 281.4 80.3 281.4 81.0 281.5 81.8 281.5 82.8 281.6 83.8 281.6 84.8 281.7 85.8 281.8 86.8 281.9 87.8 281.9 88.4 282.0 89.3 282.1 90.3 282.2 91.3 282.3 92.3 282.4 93.3 282.4 94.3 282.4 95.3 282.4 96.3 281.9 97.0 281.2 97.3" stroke="#999" stroke-width="0.45" fill="none"/><path d="M276.1 97.3L275.4 97.1 274.9 96.8 274.1 96.3 273.4 96.0 272.9 95.8 272.2 95.3 271.4 95.0 270.9 94.7 270.2 94.3 269.4 94.0 268.9 93.7 268.3 93.3 267.4 92.9 266.9 92.7 266.4 92.3 265.4 91.9 264.9 91.7 264.3 91.3 263.4 91.0 262.9 90.7 262.3 90.3 261.4 89.9 260.9 89.6 260.4 89.3 259.7 88.8 258.9 88.4 258.4 88.1 257.9 87.8 257.1 87.3 256.4 87.0 255.9 86.7 255.3 86.3 254.4 85.9 253.9 85.6 253.4 85.3 252.8 84.8 251.9 84.4 251.4 84.3 250.4 84.2 249.4 84.1 248.4 84.2 247.4 84.2 246.4 84.1 245.4 84.0 244.8 83.8 243.9 83.7 242.9 83.4 242.4 83.3 241.4 83.2 240.4 83.1 239.4 82.9 238.4 82.9 237.4 82.9 236.4 82.9 235.4 82.9 234.4 82.9 233.9 82.8 232.9 82.7 231.9 82.7 231.1 82.8 230.4 83.0 229.4 83.1 228.4 82.9 227.9 82.5 227.7 81.8 227.4 81.2 227.1 80.3 226.8 79.8 226.4 79.1 226.1 78.3 225.9 77.8 225.6 76.8 225.4 76.3 225.0 75.3 224.9 74.7 224.8 73.8 224.8 72.8 224.9 71.8 224.9 70.8 224.8 69.8 224.7 68.8 224.6 67.8 224.5 66.8 224.3 66.3 224.1 65.3 224.0 64.3 223.8 63.9 223.6 62.9 223.5 61.9 223.4 61.4 223.2 60.4 223.0 59.4 222.9 58.8 222.7 57.9 222.6 56.9 222.5 55.9 222.4 55.4 222.2 54.4 222.0 53.4 221.9 52.9 221.7 51.9 221.5 50.9 221.4 50.2 221.1 49.4 220.9 48.6 220.7 47.9 220.4 47.1 220.2 46.4 220.0 45.4 219.8 44.9 219.5 43.9 219.4 43.4 219.1 42.4 218.9 41.6 218.7 40.9 218.5 39.9 218.2 39.4 217.9 38.5 217.6 37.9 217.4 37.4 216.9 36.5 216.6 35.9 216.3 35.4 215.9 34.8 215.4 34.0 215.1 33.4 214.8 32.9 214.4 32.2 214.0 31.4 213.8 30.9 213.4 30.2 213.0 29.4 213.0 28.4 213.0 27.4 213.0 26.4 213.0 25.4 213.0 24.4 213.2 23.4 213.8 22.9 214.4 22.6 215.4 22.5 216.4 22.6 217.4 22.6 218.4 22.6 219.4 22.7 220.4 22.7 221.4 22.7 222.4 22.7 223.4 22.8 224.4 22.8 225.4 22.8 226.4 22.8 227.4 22.8 228.4 22.8 229.4 22.8 230.4 22.8 231.1 22.9 231.9 22.9 232.9 22.9 233.9 22.9 234.9 22.9 235.9 23.0 236.9 22.9 237.9 22.9 238.4 22.8 239.4 22.9 239.9 22.9 240.9 22.9 241.9 22.9 242.9 22.9 243.9 22.9 244.4 22.8 245.4 22.7 246.1 22.9 246.9 23.1 247.7 23.4 248.4 23.6 249.1 23.9 249.9 24.3 250.4 24.7 250.9 25.3 251.4 25.9 251.7 26.4 252.0 26.9 252.4 27.9 252.6 28.4 252.9 29.0 253.3 29.9 253.5 30.4 253.9 31.4 254.1 31.9 254.4 32.6 254.9 33.4 255.3 33.9 255.6 34.4 255.9 35.1 256.2 35.9 256.5 36.4 257.1 36.9 257.6 37.4 258.0 37.9 258.4 38.4 258.9 39.1 259.4 39.6 260.0 39.9 260.9 40.1 261.5 40.4 262.0 40.9 262.3 41.9 262.4 42.7 262.6 43.4 262.6 44.4 262.4 45.0 262.4 45.4 263.3 45.9 263.9 46.0 264.9 46.4 265.4 46.8 265.9 47.3 266.4 47.8 266.9 48.1 267.4 48.4 268.3 48.9 268.9 49.3 269.4 49.5 270.4 49.6 271.4 49.7 272.3 49.9 272.9 50.1 273.4 50.4 274.0 50.9 274.5 51.4 275.4 51.8 275.9 52.0 276.4 52.5 276.9 53.1 277.3 53.9 277.4 54.6 277.9 55.1 278.4 55.4 278.9 55.9 279.4 56.7 279.8 57.4 280.1 57.9 280.2 58.9 280.2 59.9 280.4 60.9 280.5 61.4 280.6 62.4 280.5 63.4 280.4 64.2 280.4 64.8 280.4 65.5 280.6 66.3 280.7 67.3 280.6 68.3 280.5 69.3 280.4 69.8 280.4 70.8 280.4 71.5 280.6 72.3 280.6 73.3 280.5 74.3 280.4 74.8 280.4 75.8 280.5 76.3 280.7 77.3 280.9 78.3 281.1 78.8 281.2 79.8 281.3 80.8 281.3 81.8 281.4 82.8 281.4 83.8 281.4 84.4 281.5 85.3 281.7 86.3 281.8 87.3 281.8 88.3 281.9 89.3 281.9 89.9 282.0 90.8 282.1 91.8 282.2 92.8 282.3 93.8 282.3 94.8 282.4 95.8 281.9 96.8 281.4 97.2 280.8 97.3" stroke="#999" stroke-width="0.45" fill="none"/><path d="M276.3 97.3L275.4 97.0 274.9 96.7 274.3 96.3 273.4 95.9 272.9 95.7 272.4 95.3 271.5 94.8 270.9 94.6 270.4 94.3 269.5 93.8 268.9 93.6 268.4 93.3 267.6 92.8 266.9 92.5 266.4 92.3 265.6 91.8 264.9 91.6 264.4 91.3 263.5 90.8 262.9 90.6 262.4 90.3 261.6 89.8 260.9 89.5 260.4 89.2 259.9 88.8 259.0 88.3 258.4 88.0 257.9 87.7 257.3 87.3 256.4 86.9 255.9 86.6 255.4 86.3 254.6 85.8 253.9 85.5 253.4 85.2 252.9 84.8 252.1 84.3 251.4 84.2 250.4 84.1 249.5 83.8 249.4 83.8 248.4 84.0 247.4 84.0 246.4 83.9 245.9 83.8 244.9 83.6 243.9 83.4 243.4 83.2 242.4 83.1 241.4 82.9 240.9 82.8 239.9 82.7 238.9 82.6 237.9 82.6 236.9 82.6 235.9 82.6 234.9 82.6 233.9 82.6 232.9 82.4 231.9 82.4 230.9 82.6 229.9 82.8 228.9 82.8 228.2 82.3 227.9 81.8 227.6 80.8 227.4 80.3 226.9 79.5 226.6 78.8 226.4 78.3 226.2 77.3 225.9 76.7 225.6 75.8 225.3 75.3 225.2 74.3 225.0 73.3 225.1 72.3 225.1 71.3 225.1 70.3 224.9 69.5 224.8 68.8 224.8 67.8 224.6 66.8 224.4 66.3 224.2 65.3 224.0 64.3 223.9 63.7 223.7 62.9 223.6 61.9 223.4 60.9 223.3 60.4 223.1 59.4 223.0 58.4 222.9 57.9 222.7 56.9 222.6 55.9 222.4 54.9 222.3 54.4 222.1 53.4 221.9 52.7 221.8 51.9 221.6 50.9 221.5 49.9 221.3 49.4 221.0 48.4 220.8 47.9 220.5 46.9 220.3 46.4 220.0 45.4 219.9 44.9 219.6 43.9 219.4 43.2 219.2 42.4 219.0 41.4 218.8 40.9 218.5 39.9 218.4 39.4 218.0 38.4 217.7 37.9 217.4 37.3 217.0 36.4 216.7 35.9 216.4 35.3 215.9 34.6 215.5 33.9 215.2 33.4 214.9 32.9 214.4 31.9 214.1 31.4 213.9 30.9 213.4 30.0 213.1 29.4 213.1 28.4 213.1 27.4 213.1 26.4 213.1 25.4 213.1 24.4 213.4 23.4 213.9 22.9 214.4 22.7 215.4 22.6 216.4 22.7 217.4 22.7 218.4 22.7 219.4 22.8 220.4 22.8 221.4 22.8 222.4 22.8 222.9 22.9 223.9 22.9 224.9 22.9 225.9 22.9 226.9 22.9 227.9 22.9 228.9 22.9 229.9 22.9 230.9 22.9 231.9 23.0 232.9 23.0 233.9 23.0 234.9 23.0 235.9 23.1 236.9 23.0 237.9 22.9 238.9 22.9 239.9 23.0 240.9 23.0 241.9 23.0 242.9 23.0 243.9 23.0 244.9 22.9 245.9 23.1 246.7 23.4 247.4 23.6 247.9 23.9 248.9 24.3 249.4 24.7 249.9 25.2 250.4 25.9 250.7 26.4 251.0 26.9 251.4 27.7 251.7 28.4 251.9 28.9 252.2 29.9 252.4 30.7 252.8 31.4 253.2 31.9 253.5 32.4 253.9 33.1 254.4 33.9 254.7 34.4 255.0 34.9 255.2 35.9 255.4 36.5 255.9 37.0 256.4 37.4 257.0 37.9 257.5 38.4 257.9 39.1 258.3 39.9 258.6 40.4 259.1 40.9 259.9 41.3 260.4 41.6 260.9 42.1 261.2 42.9 261.2 43.9 260.9 44.8 260.8 45.4 260.9 46.4 261.4 46.8 261.9 47.0 262.9 47.3 263.4 47.5 263.9 47.9 264.2 48.9 264.1 49.9 264.9 50.3 265.9 50.0 266.9 49.9 267.9 50.3 268.4 50.7 268.9 51.2 269.4 51.7 269.9 52.1 270.9 52.3 271.9 52.0 272.9 52.1 273.7 52.4 274.4 52.6 275.2 52.9 275.7 53.4 275.8 54.4 275.5 55.4 275.9 56.2 276.4 56.7 277.4 56.7 278.2 56.9 278.7 57.4 279.1 57.9 279.2 58.9 279.4 59.5 279.8 60.4 280.0 60.9 280.2 61.9 280.2 62.9 280.0 63.9 279.7 64.3 279.8 65.3 280.0 65.8 280.3 66.8 280.4 67.8 280.3 68.8 280.0 69.8 280.0 70.8 280.1 71.8 280.2 72.8 280.1 73.8 279.9 74.7 279.9 75.3 280.0 75.8 280.3 76.8 280.5 77.3 280.8 78.3 280.9 79.3 281.0 79.8 281.1 80.8 281.2 81.8 281.2 82.8 281.3 83.8 281.3 84.8 281.4 85.8 281.5 86.3 281.6 87.3 281.7 88.3 281.8 89.3 281.9 90.3 281.9 91.3 282.0 91.8 282.1 92.8 282.2 93.8 282.3 94.8 282.3 95.8 281.9 96.7 281.4 97.1 280.4 97.3" stroke="#999" stroke-width="0.45" fill="none"/><path d="M276.7 97.3L275.9 97.1 275.4 96.8 274.5 96.3 273.9 96.1 273.4 95.8 272.7 95.3 271.9 95.0 271.4 94.8 270.6 94.3 269.9 94.0 269.4 93.7 268.7 93.3 267.9 92.9 267.4 92.7 266.9 92.3 265.9 91.9 265.4 91.7 264.7 91.3 263.9 91.0 263.4 90.8 262.7 90.3 261.9 89.9 261.4 89.7 260.9 89.3 260.1 88.8 259.4 88.5 258.9 88.2 258.4 87.8 257.5 87.3 256.9 87.1 256.4 86.8 255.7 86.3 254.9 86.0 254.4 85.7 253.9 85.3 253.1 84.8 252.4 84.4 251.9 84.2 250.9 84.0 250.2 83.8 249.4 83.7 248.4 83.8 247.4 83.8 246.4 83.7 245.4 83.5 244.9 83.3 243.9 83.1 243.0 82.8 242.4 82.8 241.4 82.7 240.4 82.5 239.6 82.3 238.9 82.3 237.9 82.3 236.9 82.3 235.9 82.3 234.9 82.3 233.9 82.2 232.9 82.0 231.9 82.0 230.9 82.2 230.4 82.3 229.4 82.5 228.7 82.3 228.2 81.8 227.9 80.9 227.7 80.3 227.4 79.8 227.0 78.8 226.8 78.3 226.6 77.3 226.4 76.8 226.0 75.8 225.7 75.3 225.5 74.3 225.4 73.8 225.3 72.8 225.4 71.8 225.4 70.8 225.2 69.8 225.0 68.8 224.9 68.3 224.8 67.3 224.6 66.3 224.4 65.8 224.2 64.8 224.0 63.9 223.9 63.2 223.8 62.4 223.6 61.4 223.5 60.4 223.3 59.9 223.1 58.9 223.0 57.9 222.9 57.4 222.7 56.4 222.6 55.4 222.4 54.4 222.3 53.9 222.0 52.9 221.9 52.1 221.8 51.4 221.7 50.4 221.4 49.5 221.2 48.9 220.9 48.0 220.7 47.4 220.5 46.4 220.3 45.9 220.0 44.9 219.9 44.4 219.6 43.4 219.4 42.8 219.2 41.9 219.0 40.9 218.8 40.4 218.5 39.4 218.3 38.9 217.9 38.1 217.6 37.4 217.3 36.9 216.9 36.0 216.6 35.4 216.2 34.9 215.9 34.4 215.4 33.6 215.0 32.9 214.7 32.4 214.4 31.7 214.0 30.9 213.7 30.4 213.4 29.7 213.2 28.9 213.2 27.9 213.2 26.9 213.2 25.9 213.2 24.9 213.3 23.9 213.5 23.4 214.3 22.9 214.9 22.8 215.9 22.8 216.9 22.8 217.9 22.8 218.4 22.9 219.4 22.9 220.4 22.9 221.4 22.9 222.4 22.9 223.4 23.0 224.4 23.0 225.4 23.0 226.4 23.0 227.4 23.0 228.4 23.0 229.4 23.0 230.4 23.0 231.4 23.0 232.4 23.1 233.4 23.1 234.4 23.1 235.4 23.2 236.4 23.2 237.4 23.1 238.4 23.0 239.4 23.0 240.4 23.1 241.4 23.1 242.4 23.2 243.4 23.2 244.4 23.1 245.4 23.2 245.9 23.4 246.9 23.8 247.4 24.0 248.1 24.4 248.8 24.9 249.3 25.4 249.7 25.9 249.9 26.4 250.4 27.4 250.7 27.9 250.9 28.7 251.1 29.4 251.2 30.4 251.4 31.4 251.8 31.9 252.4 32.4 252.9 32.9 253.1 33.4 253.4 33.9 253.9 34.9 254.0 35.4 253.9 35.9 253.9 36.6 254.4 37.3 254.9 37.6 255.6 37.9 256.3 38.4 256.6 38.9 256.7 39.9 256.3 40.4 255.4 40.5 254.4 40.5 253.8 40.9 253.9 41.4 254.4 41.9 255.1 41.9 255.8 41.4 256.4 41.0 256.9 41.4 257.5 41.9 258.3 42.4 258.9 42.7 259.4 43.1 259.9 43.9 259.8 44.9 259.4 45.6 258.9 46.2 258.4 46.7 258.2 47.4 258.3 48.4 258.4 49.1 258.8 49.9 259.4 50.0 260.4 50.0 261.1 50.4 261.6 50.9 261.9 51.5 262.3 52.4 262.4 52.9 262.9 53.5 263.7 53.4 264.4 52.9 264.9 52.5 265.4 52.1 265.9 51.6 266.8 51.4 267.0 51.4 267.9 51.9 268.3 52.4 268.7 52.9 269.0 53.4 269.0 54.4 268.4 54.6 268.2 55.4 268.4 55.9 268.9 56.4 269.9 56.7 270.4 56.9 271.3 57.4 271.9 57.7 272.9 57.8 273.4 57.9 274.0 58.4 274.7 58.9 275.4 58.9 276.4 59.1 276.9 59.7 276.9 59.9 276.5 60.9 276.4 61.4 276.7 61.9 277.4 62.3 277.9 62.9 277.5 63.9 277.4 64.3 277.4 65.1 277.8 65.8 278.4 66.3 278.9 66.5 279.6 66.8 279.9 67.8 279.9 67.9 279.8 68.8 279.5 69.8 279.3 70.3 279.4 71.3 279.5 71.8 279.6 72.8 279.4 73.4 279.2 74.3 279.3 75.3 279.4 76.0 279.9 76.8 280.1 77.3 280.4 78.1 280.7 78.8 280.8 79.8 280.9 80.8 281.0 81.3 281.0 82.3 281.1 83.3 281.1 84.3 281.2 85.3 281.3 86.3 281.4 87.2 281.5 87.8 281.6 88.8 281.7 89.8 281.8 90.8 281.9 91.8 281.9 92.8 282.0 93.3 282.1 94.3 282.2 95.3 282.0 96.3 281.6 96.8 280.9 97.2 279.9 97.3 279.4 97.3M265.0 59.9L264.8 59.4 264.4 59.4 264.9 59.9 265.0 59.9M278.9 62.5L278.0 62.4 278.4 61.8 279.1 61.9 278.9 62.5" stroke="#999" stroke-width="0.45" fill="none"/><path d="M280.9 97.0L279.9 97.2 278.9 97.3 277.9 97.3 276.9 97.3 275.9 97.0 275.4 96.7 274.7 96.3 273.9 96.0 273.4 95.7 272.9 95.3 271.9 94.9 271.4 94.7 270.9 94.3 269.9 93.9 269.4 93.6 268.9 93.3 268.0 92.8 267.4 92.6 266.9 92.3 266.1 91.8 265.4 91.6 264.9 91.3 263.9 90.9 263.4 90.7 262.9 90.3 262.0 89.8 261.4 89.6 260.9 89.3 260.3 88.8 259.4 88.4 258.9 88.1 258.4 87.8 257.7 87.3 256.9 86.9 256.4 86.7 255.9 86.3 255.0 85.8 254.4 85.6 253.9 85.3 253.3 84.8 252.5 84.3 251.9 84.0 251.0 83.8 250.4 83.8 249.4 83.5 248.4 83.6 247.4 83.6 246.4 83.4 245.9 83.3 244.9 83.1 244.2 82.8 243.4 82.7 242.4 82.5 241.4 82.4 240.9 82.3 239.9 82.1 238.9 81.9 237.9 81.9 236.9 81.9 235.9 81.9 234.9 81.9 234.1 81.8 233.4 81.7 232.4 81.5 231.4 81.6 230.8 81.8 229.9 82.1 228.9 82.1 228.4 81.5 228.2 80.8 227.9 80.1 227.6 79.3 227.3 78.8 227.1 77.8 226.9 77.3 226.6 76.3 226.4 75.8 225.9 75.0 225.8 74.3 225.6 73.3 225.6 72.3 225.6 71.3 225.6 70.3 225.4 69.8 225.1 68.8 225.0 67.8 224.9 67.3 224.7 66.3 224.5 65.3 224.3 64.8 224.1 63.9 224.0 62.9 223.9 62.4 223.7 61.4 223.5 60.4 223.4 59.8 223.2 58.9 223.1 57.9 223.0 56.9 222.9 56.4 222.7 55.4 222.5 54.4 222.4 53.9 222.1 52.9 222.0 51.9 221.9 51.4 221.8 50.4 221.5 49.4 221.3 48.9 221.0 47.9 220.8 47.4 220.5 46.4 220.4 45.9 220.1 44.9 219.9 44.2 219.6 43.4 219.4 42.4 219.3 41.9 219.0 40.9 218.9 40.4 218.6 39.4 218.4 38.9 218.0 37.9 217.7 37.4 217.4 36.8 217.0 35.9 216.7 35.4 216.4 34.9 215.9 34.2 215.4 33.4 215.1 32.9 214.9 32.4 214.4 31.5 214.1 30.9 213.9 30.4 213.4 29.5 213.3 28.9 213.3 27.9 213.3 26.9 213.3 25.9 213.3 24.9 213.4 23.9 213.6 23.4 214.4 22.9 215.4 22.9 216.4 22.9 217.4 22.9 218.4 23.0 219.4 23.0 220.4 23.0 221.4 23.0 222.4 23.0 223.4 23.1 224.4 23.1 225.4 23.1 226.4 23.1 227.4 23.1 228.4 23.1 229.4 23.1 230.4 23.1 231.4 23.2 232.4 23.2 233.4 23.2 234.4 23.2 235.4 23.3 236.4 23.3 237.4 23.2 238.4 23.1 239.4 23.2 240.4 23.2 241.4 23.3 242.4 23.3 243.4 23.3 244.4 23.2 245.0 23.4 245.9 23.6 246.4 23.9 247.3 24.4 247.9 24.8 248.4 25.2 248.9 25.8 249.3 26.4 249.5 26.9 249.9 27.8 250.2 28.4 250.4 29.4 250.4 30.2 250.5 30.9 250.7 31.9 250.9 32.4 251.4 33.2 251.6 33.9 251.4 34.4 251.1 35.4 251.1 36.4 251.4 36.9 251.9 37.6 252.3 38.4 252.1 39.4 251.8 39.9 251.5 40.9 251.9 41.8 252.4 42.2 252.9 42.6 253.3 43.4 253.4 44.3 253.4 44.7 253.4 45.4 253.1 46.4 252.9 46.9 252.9 47.4 253.4 48.4 253.9 48.7 254.9 48.7 255.9 48.8 256.4 49.2 256.9 49.9 257.2 50.4 257.4 51.0 257.8 51.9 258.1 52.4 258.5 52.9 259.4 53.4 259.9 53.4 260.7 53.9 261.2 54.4 261.5 54.9 261.9 55.5 262.4 56.1 262.6 56.9 262.3 57.4 261.9 58.0 261.9 58.5 262.3 59.4 262.7 59.9 263.2 60.4 263.8 60.9 264.4 61.2 264.9 61.5 265.8 61.9 266.4 62.3 266.9 62.9 267.4 63.3 267.9 63.4 268.4 63.3 269.4 63.2 270.4 63.0 270.9 62.8 271.7 62.4 272.3 61.9 272.9 61.4 273.9 61.9 274.3 62.4 274.2 63.4 273.8 63.9 273.2 64.3 272.5 64.8 271.9 65.0 271.2 65.3 270.9 65.8 270.9 66.4 271.4 67.3 271.8 67.8 272.0 68.3 272.4 69.2 272.9 69.5 273.9 69.7 274.9 69.8 275.7 69.8 276.4 69.9 276.6 70.8 276.7 71.8 277.4 72.3 277.9 72.8 278.2 73.3 278.4 74.3 278.4 75.2 278.6 75.8 278.9 76.5 279.4 77.1 279.9 77.8 280.2 78.3 280.4 79.1 280.6 79.8 280.7 80.8 280.8 81.8 280.8 82.8 280.9 83.8 280.9 84.7 281.0 85.3 281.2 86.3 281.3 87.3 281.4 88.3 281.5 88.8 281.6 89.8 281.7 90.8 281.8 91.8 281.9 92.8 281.9 93.8 282.0 94.3 282.1 95.3 281.9 96.2 281.4 96.8 280.9 97.0M268.9 59.5L267.9 59.6 267.4 59.3 266.7 58.9 266.4 58.4 266.4 57.8 267.4 57.5 268.1 57.9 268.9 58.4 269.3 58.9 268.9 59.5M276.4 67.4L275.9 67.3 275.4 66.8 275.4 66.3 276.4 66.3 276.6 66.8 276.4 67.4M277.4 69.9L276.6 69.8 277.1 69.3 277.4 68.7 278.3 68.8 277.9 69.6 277.4 69.9" stroke="#777" stroke-width="0.5" fill="none"/><path d="M280.9 96.9L279.9 97.1 278.9 97.2 277.9 97.2 276.9 97.2 276.0 96.8 275.4 96.6 274.9 96.3 274.0 95.8 273.4 95.6 272.9 95.3 272.1 94.8 271.4 94.6 270.9 94.3 270.1 93.8 269.4 93.5 268.9 93.2 268.2 92.8 267.4 92.5 266.9 92.2 266.3 91.8 265.4 91.5 264.9 91.2 264.1 90.8 263.4 90.5 262.9 90.3 262.2 89.8 261.4 89.4 260.9 89.2 260.4 88.8 259.6 88.3 258.9 88.0 258.4 87.7 257.9 87.3 257.0 86.8 256.4 86.6 255.9 86.3 255.2 85.8 254.4 85.4 253.9 85.2 253.4 84.8 252.7 84.3 251.9 83.9 251.4 83.8 250.4 83.6 249.6 83.3 248.9 83.3 248.4 83.4 247.7 83.3 246.9 83.3 245.9 83.1 245.1 82.8 244.4 82.6 243.5 82.3 242.9 82.3 241.9 82.2 240.9 82.0 240.4 81.8 239.4 81.6 238.4 81.5 237.4 81.5 236.4 81.5 235.4 81.5 234.4 81.4 233.9 81.3 232.9 81.1 231.9 81.0 230.9 81.3 230.4 81.5 229.4 81.7 228.8 81.3 228.4 80.4 228.2 79.8 227.9 79.3 227.6 78.3 227.4 77.8 227.3 76.8 226.9 76.0 226.6 75.3 226.3 74.8 226.0 73.8 225.9 73.3 225.9 72.3 225.9 71.3 225.8 70.3 225.5 69.3 225.3 68.8 225.1 67.8 224.9 66.9 224.8 66.3 224.5 65.3 224.4 64.8 224.2 63.9 224.1 62.9 223.9 62.1 223.8 61.4 223.6 60.4 223.5 59.4 223.4 58.9 223.2 57.9 223.0 56.9 222.9 56.0 222.8 55.4 222.6 54.4 222.4 53.5 222.2 52.9 222.1 51.9 222.0 50.9 221.9 50.4 221.6 49.4 221.4 48.8 221.1 47.9 220.9 47.3 220.6 46.4 220.4 45.6 220.2 44.9 219.9 43.9 219.8 43.4 219.5 42.4 219.4 41.9 219.1 40.9 218.9 40.0 218.7 39.4 218.4 38.6 218.1 37.9 217.8 37.4 217.4 36.5 217.1 35.9 216.8 35.4 216.4 34.8 215.9 34.0 215.5 33.4 215.2 32.9 214.9 32.3 214.5 31.4 214.2 30.9 213.9 30.2 213.5 29.4 213.4 28.9 213.4 27.9 213.4 26.9 213.4 25.9 213.4 24.9 213.5 24.4 213.8 23.4 214.4 23.0 215.4 23.0 216.4 23.0 217.4 23.0 218.4 23.1 219.4 23.1 220.4 23.1 221.4 23.1 222.4 23.1 223.4 23.2 224.4 23.2 225.4 23.2 226.4 23.2 227.4 23.2 228.4 23.2 229.4 23.2 230.4 23.2 231.4 23.3 232.4 23.3 233.4 23.3 233.9 23.4 234.9 23.4 235.9 23.4 236.9 23.4 237.7 23.4 238.4 23.3 239.4 23.3 240.0 23.4 240.9 23.4 241.9 23.4 242.9 23.4 243.9 23.4 244.9 23.5 245.7 23.9 246.4 24.2 246.9 24.5 247.4 24.9 248.0 25.4 248.4 25.9 248.9 26.8 249.2 27.4 249.4 28.2 249.6 28.9 249.7 29.9 249.7 30.9 249.7 31.9 249.4 32.7 249.1 33.4 249.1 34.4 249.3 35.4 249.4 36.4 249.6 36.9 250.0 37.4 250.4 38.2 250.5 38.9 250.3 39.4 250.0 40.4 250.1 41.4 250.3 42.4 250.4 43.4 250.4 44.4 249.9 45.3 249.5 45.9 249.2 46.4 249.1 47.4 249.9 47.8 250.9 47.4 251.7 47.9 252.0 48.4 252.4 48.9 252.9 49.4 253.5 49.9 254.4 50.4 254.9 50.5 255.7 50.9 256.1 51.4 256.4 52.2 256.6 52.9 256.4 53.7 255.6 53.4 254.9 53.3 254.1 53.4 253.9 53.4 253.0 52.9 252.4 52.7 251.7 52.9 251.1 53.4 250.9 53.9 251.1 54.4 251.9 54.5 252.9 54.5 253.4 55.0 253.9 55.5 254.4 55.9 255.4 56.3 256.4 56.1 256.8 55.4 256.7 54.4 256.9 53.8 257.4 54.2 257.9 54.6 258.4 54.9 259.1 55.4 259.5 55.9 259.6 56.9 259.7 57.9 259.9 58.9 260.1 59.4 260.5 59.9 261.1 60.4 261.9 60.8 262.4 61.2 262.9 61.6 263.4 62.0 263.9 62.4 264.6 62.9 265.1 63.4 265.5 63.9 266.0 64.3 266.8 64.8 267.4 65.1 268.4 65.3 268.9 65.6 269.3 66.3 269.4 66.9 269.9 67.8 270.2 68.3 270.4 68.9 270.7 69.8 271.0 70.3 271.6 70.8 272.4 71.2 273.2 71.3 273.9 71.8 274.1 72.3 274.3 73.3 274.4 74.3 274.3 75.3 274.4 76.3 274.9 76.5 275.4 76.3 275.9 75.3 275.9 74.5 276.4 73.9 277.2 74.3 277.4 75.3 277.5 75.8 277.9 76.7 278.4 77.2 278.9 77.6 279.4 78.0 279.9 78.8 280.1 79.3 280.4 80.3 280.4 80.9 280.5 81.8 280.6 82.8 280.6 83.8 280.7 84.8 280.9 85.8 281.0 86.3 281.1 87.3 281.3 88.3 281.4 89.3 281.4 89.9 281.6 90.8 281.7 91.8 281.8 92.8 281.9 93.8 281.9 94.8 281.9 95.8 281.4 96.7 280.9 96.9" stroke="#777" stroke-width="0.5" fill="none"/><path d="M280.4 96.9L279.4 97.1 278.4 97.1 277.4 97.1 276.4 97.0 275.9 96.8 275.2 96.3 274.4 96.0 273.9 95.7 273.3 95.3 272.4 94.9 271.9 94.7 271.3 94.3 270.4 93.9 269.9 93.7 269.4 93.3 268.5 92.8 267.9 92.6 267.4 92.3 266.5 91.8 265.9 91.6 265.4 91.3 264.4 90.9 263.9 90.7 263.4 90.3 262.4 89.9 261.9 89.6 261.4 89.3 260.7 88.8 259.9 88.4 259.4 88.2 258.9 87.8 258.1 87.3 257.4 87.0 256.9 86.7 256.3 86.3 255.4 85.9 254.9 85.6 254.4 85.3 253.7 84.8 253.0 84.3 252.4 84.1 251.9 83.8 250.9 83.6 250.2 83.3 249.4 83.1 248.4 83.2 247.4 83.1 246.4 82.9 245.9 82.8 244.9 82.5 244.4 82.3 243.4 82.0 242.4 81.9 241.9 81.8 240.9 81.7 240.0 81.3 239.4 81.2 238.4 81.0 237.4 81.1 236.4 81.0 235.4 80.9 234.5 80.8 233.9 80.7 232.9 80.4 232.4 80.2 231.6 80.3 230.9 80.6 230.4 80.9 229.4 81.2 228.9 80.5 228.7 79.8 228.4 79.3 228.0 78.3 227.9 77.8 227.8 76.8 227.5 75.8 227.2 75.3 226.9 74.8 226.5 73.8 226.4 73.3 226.3 72.3 226.2 71.3 226.1 70.3 225.9 69.8 225.5 68.8 225.4 68.3 225.2 67.3 224.9 66.4 224.8 65.8 224.5 64.8 224.4 64.2 224.2 63.4 224.1 62.4 223.9 61.4 223.8 60.9 223.6 59.9 223.5 58.9 223.4 58.4 223.2 57.4 223.1 56.4 223.0 55.4 222.9 54.9 222.6 53.9 222.4 53.1 222.3 52.4 222.1 51.4 222.0 50.4 221.9 49.9 221.6 48.9 221.4 48.4 221.1 47.4 220.9 46.9 220.6 45.9 220.4 45.2 220.2 44.4 219.9 43.5 219.7 42.9 219.5 41.9 219.4 41.4 219.1 40.4 218.9 39.7 218.6 38.9 218.4 38.3 218.0 37.4 217.7 36.9 217.4 36.3 217.0 35.4 216.6 34.9 216.3 34.4 215.9 33.8 215.4 33.0 215.1 32.4 214.8 31.9 214.4 31.0 214.1 30.4 213.9 29.9 213.5 28.9 213.5 27.9 213.5 26.9 213.5 25.9 213.5 24.9 213.6 23.9 214.0 23.4 214.9 23.1 215.9 23.1 216.9 23.1 217.9 23.2 218.9 23.2 219.9 23.3 220.9 23.2 221.9 23.2 222.9 23.3 223.4 23.4 224.4 23.4 225.4 23.4 226.4 23.4 227.4 23.4 228.4 23.4 229.4 23.4 230.4 23.4 231.4 23.4 232.4 23.4 233.4 23.4 234.4 23.5 235.4 23.5 236.4 23.6 237.4 23.5 238.4 23.4 239.4 23.4 240.4 23.5 241.4 23.5 242.4 23.5 243.4 23.5 244.4 23.6 245.1 23.9 245.9 24.3 246.4 24.6 246.9 25.0 247.4 25.4 247.9 26.0 248.4 26.9 248.6 27.4 248.8 28.4 248.9 29.4 248.8 30.4 248.8 31.4 248.5 32.4 248.2 32.9 247.9 33.6 247.8 34.4 247.7 35.4 247.4 35.9 246.9 36.5 246.6 37.4 246.9 38.4 247.1 38.9 246.9 39.4 246.4 39.9 245.9 40.8 245.7 41.4 245.4 42.0 245.2 42.9 245.4 43.6 246.4 43.5 246.9 42.9 247.4 42.4 247.9 42.1 248.6 42.4 248.9 43.3 249.0 43.9 248.8 44.4 248.4 44.9 247.9 45.4 247.4 46.3 247.4 46.6 247.6 47.4 247.7 48.4 247.6 49.4 248.0 49.9 248.8 50.4 249.4 50.6 250.4 50.8 251.4 50.9 250.7 51.4 250.3 51.9 249.9 52.4 249.5 53.4 249.3 53.9 249.0 54.9 248.8 55.4 248.4 55.9 247.9 56.8 247.8 57.4 248.2 57.9 248.9 58.2 249.9 58.4 250.0 58.4 250.9 57.9 251.0 57.4 251.4 56.8 252.4 56.7 253.0 56.9 253.9 57.4 254.2 57.9 253.9 58.6 253.6 59.4 254.0 59.9 254.9 60.0 255.5 59.9 256.4 59.7 256.9 59.9 257.5 60.4 257.9 61.0 258.3 61.9 258.4 62.9 258.9 63.4 259.4 63.6 260.4 63.6 261.4 63.5 262.4 63.5 263.4 63.9 263.9 64.3 264.4 64.7 264.9 65.1 265.4 65.5 265.9 65.9 266.5 66.3 267.0 66.8 267.5 67.3 268.0 67.8 268.5 68.3 268.9 69.1 269.3 69.8 269.5 70.3 269.7 71.3 269.6 72.3 269.8 73.3 270.2 73.8 270.9 73.9 271.4 73.7 272.4 73.7 272.8 74.3 272.9 75.3 272.9 75.9 273.3 76.8 273.7 77.3 274.4 77.8 274.9 78.0 275.9 77.8 276.4 77.6 277.3 77.8 277.9 78.2 278.4 78.5 279.0 78.8 279.5 79.3 279.9 80.3 280.0 80.8 280.1 81.8 280.2 82.8 280.2 83.8 280.4 84.8 280.5 85.3 280.7 86.3 280.9 87.3 281.0 87.8 281.2 88.8 281.3 89.8 281.4 90.8 281.5 91.3 281.6 92.3 281.7 93.3 281.8 94.3 281.8 95.3 281.7 96.3 280.9 96.8 280.4 96.9" stroke="#777" stroke-width="0.5" fill="none"/><path d="M279.9 96.9L278.9 97.0 277.9 97.0 276.9 97.0 276.4 96.8 275.4 96.4 274.9 96.2 274.4 95.8 273.5 95.3 272.9 95.1 272.4 94.8 271.6 94.3 270.9 94.1 270.4 93.8 269.6 93.3 268.9 93.0 268.4 92.7 267.7 92.3 266.9 92.0 266.4 91.7 265.7 91.3 264.9 91.0 264.4 90.8 263.6 90.3 262.9 90.0 262.4 89.8 261.7 89.3 260.9 88.9 260.4 88.6 259.9 88.3 259.2 87.8 258.4 87.4 257.9 87.2 257.4 86.8 256.5 86.3 255.9 86.0 255.4 85.8 254.7 85.3 253.9 84.9 253.4 84.6 252.9 84.2 252.3 83.8 251.4 83.6 250.8 83.3 249.9 83.1 248.9 83.0 247.9 82.9 247.4 82.8 246.4 82.7 245.5 82.3 244.9 82.1 244.2 81.8 243.4 81.7 242.4 81.6 241.4 81.4 240.9 81.3 240.0 80.8 239.4 80.5 238.8 80.3 237.9 80.3 237.4 80.4 236.4 80.4 235.9 80.2 234.9 80.0 234.4 79.8 233.4 79.5 232.9 79.3 231.9 79.3 231.4 79.5 230.9 79.8 230.0 80.3 229.8 80.3 229.3 79.8 228.9 79.1 228.6 78.3 228.4 77.5 228.3 76.8 228.1 75.8 227.9 75.3 227.5 74.3 227.3 73.8 226.9 73.0 226.8 72.3 226.6 71.3 226.4 70.4 226.2 69.8 225.9 69.3 225.5 68.3 225.4 67.8 225.2 66.8 224.9 65.9 224.8 65.3 224.6 64.3 224.4 63.7 224.3 62.9 224.1 61.9 224.0 60.9 223.9 60.4 223.7 59.4 223.5 58.4 223.4 57.9 223.2 56.9 223.1 55.9 223.0 54.9 222.9 54.4 222.6 53.4 222.4 52.6 222.3 51.9 222.1 50.9 222.0 49.9 221.8 49.4 221.5 48.4 221.3 47.9 221.0 46.9 220.9 46.4 220.6 45.4 220.4 44.8 220.1 43.9 219.9 43.1 219.7 42.4 219.5 41.4 219.4 40.9 219.1 39.9 218.9 39.3 218.6 38.4 218.3 37.9 217.9 37.1 217.6 36.4 217.3 35.9 216.9 35.2 216.4 34.4 216.1 33.9 215.8 33.4 215.4 32.8 215.0 31.9 214.7 31.4 214.4 30.8 214.0 29.9 213.7 29.4 213.6 28.4 213.6 27.4 213.6 26.4 213.6 25.4 213.7 24.4 213.9 23.5 214.4 23.2 215.4 23.2 216.4 23.2 217.4 23.3 218.4 23.3 218.9 23.4 219.9 23.4 220.9 23.4 221.9 23.4 222.9 23.4 223.9 23.5 224.9 23.5 225.9 23.5 226.9 23.5 227.9 23.5 228.9 23.5 229.9 23.5 230.9 23.5 231.9 23.5 232.9 23.5 233.9 23.6 234.9 23.6 235.9 23.7 236.9 23.7 237.9 23.6 238.9 23.5 239.9 23.6 240.9 23.6 241.9 23.7 242.9 23.7 243.9 23.7 244.6 23.9 245.4 24.3 245.9 24.6 246.4 25.0 246.9 25.4 247.4 26.1 247.8 26.9 248.0 27.4 248.2 28.4 248.0 29.4 247.9 29.9 247.7 30.9 247.7 31.9 247.4 32.5 247.1 33.4 246.9 33.9 246.6 34.9 246.4 35.4 245.9 35.9 245.4 36.6 245.0 37.4 244.7 37.9 244.4 38.4 243.4 38.8 242.9 38.9 242.4 39.4 242.6 39.9 243.1 40.4 243.5 40.9 243.5 41.9 243.4 42.4 243.1 43.4 243.0 44.4 243.2 45.4 243.4 46.1 243.9 46.9 244.1 47.4 244.4 48.4 244.4 49.4 244.5 49.9 244.9 50.9 245.4 51.4 245.9 51.9 246.4 52.1 247.0 52.4 247.6 52.9 247.8 53.9 247.8 54.9 247.4 55.5 246.9 56.1 246.4 56.4 245.5 56.4 244.9 56.2 244.1 56.4 243.8 56.9 243.8 57.9 244.1 58.4 244.8 58.9 245.4 59.0 246.4 59.0 247.4 59.1 248.4 59.3 248.9 59.5 249.5 59.9 249.9 60.9 249.5 61.9 249.4 62.4 249.6 62.9 250.4 63.4 250.9 63.5 251.9 63.4 252.3 62.9 252.4 62.3 252.9 61.8 253.7 61.9 254.2 62.4 254.4 63.0 254.9 63.7 255.4 63.9 256.4 64.1 257.4 64.3 257.9 64.5 258.9 64.8 259.4 65.0 260.4 65.2 261.3 65.3 261.9 65.5 262.8 65.8 263.4 66.3 263.8 66.8 264.4 67.3 264.9 67.5 265.8 67.8 266.4 68.1 266.9 68.4 267.5 68.8 267.9 69.4 268.3 70.3 268.5 70.8 268.5 71.8 268.5 72.8 268.8 73.8 269.0 74.3 269.4 75.2 269.9 75.8 270.4 76.0 271.4 76.3 271.9 76.8 272.3 77.3 272.6 77.8 273.2 78.3 273.9 78.8 274.4 79.1 275.0 79.3 275.9 79.6 276.9 79.5 277.9 79.8 278.4 80.1 278.9 80.6 279.3 81.3 279.5 81.8 279.5 82.8 279.4 83.3 279.4 84.3 279.7 84.8 280.0 85.3 280.4 86.3 280.6 86.8 280.8 87.8 280.9 88.8 281.0 89.3 281.2 90.3 281.3 91.3 281.4 92.3 281.5 92.8 281.6 93.8 281.7 94.8 281.8 95.8 281.4 96.4 280.4 96.8 279.9 96.9" stroke="#777" stroke-width="0.5" fill="none"/><path d="M278.9 96.9L277.9 96.9 276.9 96.9 276.4 96.7 275.7 96.3 274.9 96.0 274.4 95.8 273.7 95.3 272.9 94.9 272.4 94.7 271.8 94.3 270.9 93.9 270.4 93.7 269.9 93.3 268.9 92.9 268.4 92.6 267.9 92.3 267.0 91.8 266.4 91.6 265.9 91.3 264.9 90.9 264.4 90.7 263.8 90.3 262.9 89.9 262.4 89.6 261.9 89.3 261.1 88.8 260.4 88.5 259.9 88.2 259.4 87.8 258.6 87.3 257.9 87.0 257.4 86.7 256.8 86.3 255.9 85.9 255.4 85.7 254.9 85.3 254.1 84.8 253.4 84.4 252.9 84.1 252.4 83.8 251.4 83.4 250.9 83.2 249.9 82.9 249.4 82.8 248.4 82.7 247.4 82.6 246.4 82.4 245.9 82.2 245.2 81.8 244.4 81.5 243.9 81.3 242.9 81.2 241.9 81.1 241.2 80.8 240.4 80.4 239.9 79.9 239.5 79.3 238.9 78.9 238.4 78.7 237.6 78.3 237.2 77.8 237.0 76.8 236.4 76.5 235.6 76.8 234.9 77.3 234.4 77.6 233.6 77.8 232.9 77.9 231.9 78.1 231.4 78.3 230.7 78.8 230.0 78.8 229.6 78.3 229.3 77.8 229.0 76.8 228.9 76.3 228.7 75.3 228.4 74.5 228.3 73.8 228.0 72.8 227.7 72.3 227.4 71.8 227.1 70.8 226.9 70.3 226.4 69.7 225.9 68.9 225.7 68.3 225.5 67.3 225.3 66.8 225.0 65.8 224.9 65.3 224.7 64.3 224.5 63.4 224.4 62.9 224.2 61.9 224.0 60.9 223.9 60.1 223.8 59.4 223.6 58.4 223.5 57.4 223.4 56.9 223.2 55.9 223.1 54.9 222.9 54.1 222.7 53.4 222.5 52.4 222.4 51.9 222.3 50.9 222.1 49.9 221.9 49.3 221.6 48.4 221.4 47.8 221.1 46.9 220.9 46.2 220.7 45.4 220.4 44.5 220.2 43.9 220.0 42.9 219.8 42.4 219.6 41.4 219.4 40.6 219.2 39.9 218.9 39.0 218.7 38.4 218.4 37.8 218.0 36.9 217.7 36.4 217.4 35.8 216.9 34.9 216.6 34.4 216.2 33.9 215.9 33.4 215.4 32.5 215.1 31.9 214.8 31.4 214.4 30.5 214.1 29.9 213.9 29.4 213.8 28.4 213.7 27.4 213.7 26.4 213.7 25.4 213.8 24.4 213.9 23.7 214.9 23.4 215.9 23.4 216.9 23.4 217.9 23.4 218.9 23.5 219.9 23.5 220.9 23.5 221.9 23.5 222.9 23.5 223.9 23.6 224.9 23.6 225.9 23.6 226.9 23.6 227.9 23.6 228.9 23.6 229.9 23.6 230.9 23.6 231.9 23.7 232.9 23.7 233.9 23.7 234.9 23.8 235.6 23.9 236.4 23.9 237.0 23.9 237.9 23.7 238.9 23.7 239.9 23.7 240.9 23.8 241.9 23.8 242.9 23.8 243.9 23.8 244.4 24.0 245.1 24.4 245.8 24.9 246.3 25.4 246.8 25.9 247.1 26.4 247.4 27.4 247.4 28.4 247.2 29.4 246.9 29.9 246.7 30.9 246.6 31.9 246.4 32.4 245.9 33.1 245.4 33.5 244.4 33.7 243.9 33.9 243.0 34.4 242.5 34.9 242.1 35.4 241.8 35.9 241.4 36.4 240.9 37.2 240.8 37.9 240.7 38.9 240.6 39.9 240.8 40.9 241.1 41.4 241.6 41.9 241.9 42.9 241.9 43.7 242.0 44.4 242.3 45.4 242.4 46.0 242.7 46.9 242.9 47.9 243.0 48.4 243.1 49.4 243.2 50.4 243.4 51.1 243.9 51.8 244.3 52.4 244.5 52.9 244.4 53.4 243.4 53.7 243.0 54.4 243.0 55.4 242.9 55.9 242.7 56.9 242.7 57.9 242.9 58.9 242.7 59.9 242.3 60.4 242.2 61.4 242.9 61.4 243.4 60.9 243.9 60.7 244.9 60.8 245.4 61.1 246.0 61.4 246.9 61.9 247.2 62.4 247.4 63.0 247.7 63.9 247.4 64.7 247.2 65.3 247.1 66.3 247.9 66.5 248.4 66.3 249.4 66.2 250.4 66.3 250.9 66.5 251.9 66.8 252.4 67.1 253.0 67.3 253.9 67.6 254.9 67.6 255.4 66.8 255.4 65.9 255.9 65.5 256.9 65.4 257.9 65.6 258.9 65.8 259.4 65.9 260.4 66.1 261.2 66.3 261.9 66.7 262.4 67.2 262.9 67.7 263.4 68.1 263.9 68.4 264.9 68.6 265.5 68.8 266.4 69.3 266.9 69.8 267.3 70.3 267.5 70.8 267.6 71.8 267.6 72.8 267.9 73.8 268.2 74.3 268.4 75.1 268.6 75.8 268.6 76.8 268.9 77.6 269.4 77.9 270.4 78.3 270.7 78.8 270.9 79.5 271.4 80.0 272.4 80.3 272.9 80.4 273.9 80.5 274.8 80.8 275.4 81.0 276.4 81.0 277.4 81.0 278.1 81.3 278.5 81.8 278.5 82.8 278.2 83.3 277.9 83.8 277.4 84.5 277.4 85.3 277.9 85.6 278.9 85.7 279.4 85.9 279.9 86.4 280.3 87.3 280.5 87.8 280.7 88.8 280.9 89.8 281.0 90.3 281.2 91.3 281.3 92.3 281.4 93.3 281.5 93.8 281.6 94.8 281.6 95.8 281.3 96.3 280.4 96.7 279.4 96.8 278.9 96.9M239.8 70.3L239.4 69.8 238.4 69.5 237.4 69.6 236.8 69.8 237.4 70.3 237.9 70.5 238.9 70.6 239.8 70.3M235.0 72.8L235.2 71.8 234.6 71.3 234.3 71.3 233.4 71.8 233.4 72.3 233.7 72.8 234.4 73.1 235.0 72.8" stroke="#555" stroke-width="0.55" fill="none"/><path d="M231.9 70.4L230.9 70.6 230.3 70.3 229.4 70.2 228.4 70.3 227.4 70.0 226.9 69.7 226.4 69.2 225.9 68.4 225.8 67.8 225.5 66.8 225.3 66.3 225.0 65.3 224.9 64.8 224.7 63.9 224.5 62.9 224.4 62.4 224.2 61.4 224.1 60.4 223.9 59.5 223.8 58.9 223.6 57.9 223.5 56.9 223.4 56.4 223.3 55.4 223.1 54.4 222.9 53.7 222.7 52.9 222.5 51.9 222.4 51.3 222.3 50.4 222.1 49.4 221.9 48.9 221.6 47.9 221.4 47.4 221.1 46.4 220.9 45.8 220.7 44.9 220.4 44.1 220.2 43.4 220.0 42.4 219.8 41.9 219.6 40.9 219.4 40.1 219.2 39.4 218.9 38.6 218.6 37.9 218.3 37.4 217.9 36.5 217.6 35.9 217.3 35.4 216.9 34.7 216.4 34.0 216.0 33.4 215.7 32.9 215.4 32.3 215.0 31.4 214.7 30.9 214.4 30.2 214.0 29.4 213.9 28.9 213.9 27.9 213.9 26.9 213.9 25.9 213.9 24.9 214.0 24.4 214.4 23.5 215.4 23.5 216.4 23.5 217.4 23.5 218.4 23.6 219.4 23.6 220.4 23.6 221.4 23.6 222.4 23.7 223.4 23.7 224.4 23.8 225.4 23.7 226.4 23.7 227.4 23.7 228.4 23.7 229.4 23.7 230.4 23.8 231.4 23.8 232.4 23.8 233.4 23.8 233.9 23.9 234.9 23.9 235.9 24.0 236.9 24.0 237.9 23.9 238.9 23.9 239.9 23.9 240.9 23.9 241.9 24.0 242.9 24.0 243.9 24.0 244.7 24.4 245.3 24.9 245.8 25.4 246.2 25.9 246.5 26.4 246.8 27.4 246.7 28.4 246.4 28.9 245.9 29.6 245.4 30.3 245.1 30.9 244.8 31.4 244.4 31.9 243.4 32.3 242.9 32.7 242.4 33.2 241.9 33.6 241.4 34.1 240.9 34.5 239.9 34.6 239.4 34.3 238.6 33.9 238.4 33.9 237.8 34.4 237.4 34.9 237.1 35.9 237.3 36.9 237.7 37.4 238.4 37.8 238.9 38.0 239.4 38.6 239.6 39.4 239.6 40.4 239.4 41.2 239.3 41.9 239.3 42.9 239.9 43.2 240.4 43.5 240.9 44.3 241.1 44.9 241.4 45.9 241.5 46.4 241.4 46.9 240.4 47.1 239.4 47.0 239.0 47.9 239.3 48.9 239.4 49.9 239.4 50.4 239.6 51.4 239.6 52.4 239.6 53.4 239.9 54.0 240.4 54.5 240.9 54.9 241.4 55.6 241.5 56.4 241.4 56.9 241.4 57.9 241.5 58.4 241.5 59.4 241.2 59.9 240.9 60.4 240.6 61.4 240.9 62.3 241.4 62.9 241.9 63.4 242.4 63.9 242.9 64.3 243.7 63.9 244.3 63.4 244.9 63.1 245.6 63.4 246.0 63.9 245.9 64.4 245.4 65.3 244.9 65.6 243.9 65.7 243.4 65.9 242.8 66.3 242.4 66.9 242.4 67.8 241.4 67.9 240.9 67.7 240.2 67.8 239.4 68.0 238.4 68.1 237.4 68.2 236.7 68.3 235.9 68.6 235.4 68.9 234.4 69.3 233.9 69.5 232.9 69.8 232.4 70.1 231.9 70.4M280.9 96.4L279.9 96.7 278.9 96.8 277.9 96.8 276.9 96.8 275.9 96.4 275.4 96.1 274.9 95.8 274.0 95.3 273.4 95.1 272.9 94.8 272.1 94.3 271.4 94.1 270.9 93.8 270.1 93.3 269.4 93.0 268.9 92.7 268.2 92.3 267.4 92.0 266.9 91.7 266.3 91.3 265.4 91.0 264.9 90.8 264.1 90.3 263.4 90.1 262.9 89.8 262.2 89.3 261.4 88.9 260.9 88.7 260.4 88.3 259.6 87.8 258.9 87.5 258.4 87.2 257.9 86.8 257.0 86.3 256.4 86.1 255.9 85.8 255.2 85.3 254.4 84.9 253.9 84.6 253.4 84.3 252.8 83.8 251.9 83.4 251.4 83.3 250.4 82.9 249.9 82.7 248.9 82.5 247.9 82.4 247.4 82.3 246.4 82.0 245.9 81.8 245.1 81.3 244.4 81.0 243.9 80.8 242.9 80.7 241.9 80.5 241.4 80.3 240.9 79.8 240.4 79.2 239.9 78.6 239.4 78.2 238.9 77.7 238.4 77.1 238.2 76.3 237.9 75.5 237.6 74.8 237.2 74.3 237.4 73.3 237.9 72.9 238.4 72.7 239.4 72.8 239.9 72.9 240.9 72.8 241.4 72.5 241.9 71.8 242.2 71.3 242.6 70.8 242.9 70.1 242.9 69.5 242.7 68.8 243.3 68.8 243.9 69.2 244.5 69.3 245.4 69.6 246.4 69.8 246.9 70.1 247.4 70.4 248.2 70.8 248.7 70.8 249.4 70.3 249.7 69.8 250.0 69.3 250.9 68.9 251.9 68.9 252.9 68.9 253.9 68.8 254.4 68.8 255.4 68.8 256.4 68.5 256.9 67.9 257.1 67.3 257.8 66.8 258.4 66.8 258.9 66.9 259.9 67.0 260.9 67.2 261.4 67.5 261.9 68.0 262.4 68.5 263.1 68.8 263.9 69.2 264.4 69.4 265.4 69.8 265.9 70.3 266.3 70.8 266.5 71.3 266.4 72.1 266.4 72.6 266.6 73.3 267.0 73.8 267.4 74.8 267.6 75.3 267.4 76.2 267.3 76.8 267.4 77.8 267.8 78.3 268.3 78.8 268.8 79.3 269.1 79.8 269.5 80.3 270.3 80.8 270.9 81.1 271.4 81.4 272.1 81.8 272.9 82.3 273.4 82.4 273.9 82.3 274.9 82.1 275.9 82.1 276.9 82.3 277.2 82.8 276.9 83.4 276.4 84.2 276.0 84.8 275.8 85.3 275.9 86.1 276.4 86.6 277.4 86.8 278.4 86.7 279.1 86.8 279.7 87.3 280.0 87.8 280.4 88.8 280.5 89.3 280.8 90.3 280.9 91.0 281.1 91.8 281.2 92.8 281.4 93.8 281.4 94.8 281.5 95.3 281.4 96.0 280.9 96.4M242.4 68.6L242.4 68.0 242.4 68.6M233.4 76.4L232.4 76.4 231.9 76.2 230.9 76.1 230.0 75.8 229.8 75.3 229.4 74.4 229.4 73.8 229.6 73.3 230.4 72.9 231.4 73.3 231.9 73.7 232.4 74.1 232.9 74.4 233.7 74.8 234.1 75.3 233.9 76.0 233.4 76.4" stroke="#555" stroke-width="0.55" fill="none"/><path d="M231.4 69.4L230.4 69.5 229.4 69.5 228.4 69.5 227.4 69.4 226.9 69.2 226.4 68.7 226.0 67.8 225.8 67.3 225.5 66.3 225.3 65.8 225.0 64.8 224.9 64.3 224.7 63.4 224.5 62.4 224.4 61.7 224.3 60.9 224.1 59.9 224.0 58.9 223.8 58.4 223.7 57.4 223.5 56.4 223.4 55.5 223.3 54.9 223.1 53.9 222.9 53.3 222.7 52.4 222.5 51.4 222.5 50.4 222.3 49.9 222.0 48.9 221.9 48.4 221.5 47.4 221.4 46.9 221.1 45.9 220.9 45.3 220.6 44.4 220.4 43.7 220.2 42.9 220.0 41.9 219.9 41.4 219.6 40.4 219.4 39.7 219.1 38.9 218.9 38.3 218.5 37.4 218.2 36.9 217.9 36.2 217.5 35.4 217.2 34.9 216.9 34.4 216.4 33.7 215.9 32.9 215.6 32.4 215.3 31.9 214.9 31.0 214.6 30.4 214.4 29.9 214.0 28.9 214.0 27.9 214.0 26.9 214.0 25.9 214.0 24.9 214.2 23.9 214.9 23.6 215.9 23.6 216.9 23.7 217.9 23.7 218.9 23.8 219.9 23.8 220.9 23.8 221.9 23.8 222.9 23.9 223.4 23.9 224.4 23.9 225.4 23.9 226.4 23.9 227.4 23.9 228.4 23.9 229.4 23.9 230.4 23.9 231.4 24.0 232.4 24.0 233.4 24.0 234.4 24.0 235.4 24.2 236.4 24.2 237.4 24.2 238.4 24.1 239.4 24.1 240.4 24.1 241.4 24.1 242.4 24.1 243.4 24.1 244.3 24.4 244.9 24.9 245.3 25.4 245.7 25.9 246.0 26.4 246.2 27.4 245.9 28.3 245.6 28.9 245.0 29.4 244.4 29.7 243.9 30.0 243.0 30.4 242.4 30.7 241.9 31.1 241.4 31.5 240.9 31.9 240.2 31.9 239.4 31.8 238.4 31.8 237.8 31.9 236.9 32.1 236.4 32.4 235.9 32.9 235.5 33.9 235.4 34.4 235.4 35.4 235.6 35.9 235.9 36.7 236.3 37.4 236.5 37.9 236.9 38.5 237.5 38.9 238.4 39.4 238.6 39.9 238.4 40.6 237.9 41.2 236.9 41.2 236.3 41.4 235.7 41.9 235.5 42.9 235.8 43.9 236.1 44.4 236.6 44.9 237.4 45.4 237.9 45.9 238.0 46.4 238.0 47.4 238.2 48.4 238.2 49.4 237.9 50.3 237.8 50.9 237.8 51.9 238.0 52.4 238.2 53.4 238.3 54.4 238.4 54.9 238.8 55.9 239.0 56.4 238.9 57.0 238.8 57.9 238.4 58.7 237.9 59.0 237.2 59.4 236.9 59.9 236.7 60.9 236.4 61.4 236.3 62.4 236.9 62.7 237.4 63.0 238.0 63.4 238.4 64.3 238.5 64.8 238.7 65.8 238.4 66.6 237.9 67.0 236.9 67.3 236.4 67.4 235.4 67.7 234.8 67.8 233.9 68.2 233.4 68.4 232.7 68.8 231.9 69.2 231.4 69.4M236.5 52.4L236.4 51.8 235.7 51.9 235.9 52.6 236.5 52.4M280.4 96.4L279.4 96.6 278.4 96.7 277.4 96.7 276.4 96.5 275.9 96.2 275.2 95.8 274.4 95.5 273.9 95.2 273.3 94.8 272.4 94.4 271.9 94.2 271.4 93.8 270.4 93.4 269.9 93.1 269.4 92.8 268.5 92.3 267.9 92.1 267.4 91.8 266.5 91.3 265.9 91.1 265.4 90.8 264.4 90.4 263.9 90.2 263.3 89.8 262.4 89.4 261.9 89.1 261.4 88.8 260.7 88.3 259.9 87.9 259.4 87.6 258.9 87.3 258.1 86.8 257.4 86.5 256.9 86.2 256.3 85.8 255.4 85.4 254.9 85.1 254.4 84.8 253.8 84.3 253.0 83.8 252.4 83.5 251.9 83.3 250.9 82.9 250.4 82.7 249.4 82.4 248.9 82.3 247.9 82.1 247.0 81.8 246.4 81.6 245.9 81.3 245.2 80.8 244.4 80.4 243.9 80.2 242.9 80.0 242.4 79.8 241.7 79.3 241.2 78.8 240.7 78.3 240.2 77.8 239.7 77.3 239.4 76.8 239.2 75.8 239.4 74.8 239.9 74.3 240.4 74.1 241.4 73.9 241.9 73.6 242.4 73.2 242.9 72.5 243.4 72.0 243.9 71.8 244.9 71.8 245.4 71.9 246.4 72.1 247.4 72.3 247.9 72.4 248.4 72.3 249.4 71.9 249.9 71.5 250.4 71.2 251.0 70.8 251.9 70.5 252.9 70.4 253.4 70.2 254.4 69.9 254.9 69.7 255.9 69.6 256.9 69.6 257.9 69.6 258.4 69.0 258.8 68.3 259.4 68.1 260.4 68.3 260.9 68.6 261.4 69.0 262.0 69.3 262.9 69.8 263.4 70.0 264.3 70.3 264.8 70.8 265.1 71.3 264.9 72.1 264.6 72.8 264.4 73.3 264.4 74.3 264.9 74.7 265.5 74.8 265.5 75.8 265.4 76.3 265.4 77.0 265.8 77.8 266.1 78.3 266.4 78.9 266.9 79.7 267.2 80.3 267.4 81.1 267.9 81.4 268.9 81.7 269.6 81.8 270.4 82.1 270.9 82.4 271.4 82.9 272.0 83.3 272.9 83.8 273.4 83.9 274.4 84.3 274.6 84.8 274.7 85.8 275.0 86.3 275.4 86.9 276.3 87.3 276.9 87.6 277.9 87.7 278.7 87.8 279.4 88.3 279.8 88.8 280.1 89.3 280.4 90.0 280.7 90.8 280.9 91.8 281.0 92.3 281.1 93.3 281.3 94.3 281.4 95.3 280.9 96.3 280.4 96.4" stroke="#555" stroke-width="0.55" fill="none"/><path d="M229.4 68.9L228.4 69.0 227.4 68.9 226.9 68.6 226.4 68.1 226.1 67.3 225.8 66.8 225.5 65.8 225.3 65.3 225.0 64.3 224.9 63.8 224.8 62.9 224.6 61.9 224.4 61.0 224.3 60.4 224.1 59.4 224.0 58.4 223.9 57.9 223.7 56.9 223.6 55.9 223.5 54.9 223.4 54.4 223.1 53.4 222.9 52.8 222.7 51.9 222.6 50.9 222.5 49.9 222.3 49.4 222.0 48.4 221.8 47.9 221.5 46.9 221.4 46.4 221.1 45.4 220.9 44.9 220.6 43.9 220.4 43.3 220.2 42.4 220.0 41.4 219.9 40.9 219.6 39.9 219.4 39.3 219.1 38.4 218.9 37.9 218.4 37.0 218.1 36.4 217.9 35.9 217.4 35.0 217.0 34.4 216.7 33.9 216.3 33.4 215.9 32.7 215.5 31.9 215.2 31.4 214.9 30.7 214.6 29.9 214.3 29.4 214.2 28.4 214.2 27.4 214.1 26.4 214.1 25.4 214.2 24.4 214.4 23.8 215.4 23.7 216.4 23.8 217.2 23.9 217.9 23.9 218.9 23.9 219.9 24.0 220.9 24.0 221.9 24.0 222.9 24.0 223.9 24.1 224.9 24.1 225.9 24.0 226.9 24.0 227.9 24.1 228.9 24.1 229.9 24.1 230.9 24.1 231.9 24.1 232.9 24.1 233.9 24.2 234.9 24.3 235.4 24.4 236.4 24.5 237.4 24.4 237.9 24.3 238.9 24.3 239.9 24.3 240.9 24.3 241.9 24.3 242.9 24.3 243.4 24.4 244.4 24.8 244.9 25.4 245.2 25.9 245.4 26.6 245.5 27.4 245.4 27.9 244.9 28.4 244.1 28.9 243.4 29.0 242.4 28.9 241.4 29.0 240.5 29.4 239.9 29.6 239.4 29.9 238.4 30.3 237.9 30.4 236.9 30.5 235.9 30.8 235.4 31.1 234.9 31.4 233.9 31.7 232.9 31.8 232.6 32.4 233.1 32.9 233.4 33.4 233.8 34.4 233.9 35.0 234.3 35.9 234.6 36.4 234.9 36.9 235.4 37.7 235.7 38.4 235.9 39.1 236.1 39.9 235.8 40.4 235.2 40.9 234.7 41.4 234.4 42.2 234.4 42.9 234.4 43.9 234.4 44.4 234.9 45.3 235.4 45.6 236.0 45.9 236.7 46.4 237.1 46.9 237.3 47.9 237.4 48.9 236.9 49.8 236.4 50.1 235.4 50.3 234.9 50.5 234.5 51.4 234.4 51.9 234.3 52.9 234.4 53.5 234.8 54.4 235.2 54.9 235.7 55.4 236.1 55.9 236.5 56.4 236.4 56.9 235.9 57.4 235.2 57.9 234.9 58.4 234.8 59.4 234.5 60.4 234.3 60.9 234.3 61.9 234.4 62.4 234.8 63.4 235.2 63.9 234.9 64.7 234.7 65.3 234.4 65.8 233.9 66.6 233.4 67.0 232.9 67.3 232.2 67.8 231.5 68.3 230.9 68.6 229.9 68.8 229.4 68.9M279.9 96.4L278.9 96.5 277.9 96.5 276.9 96.5 276.4 96.3 275.5 95.8 274.9 95.6 274.4 95.3 273.6 94.8 272.9 94.5 272.4 94.2 271.7 93.8 270.9 93.5 270.4 93.2 269.7 92.8 268.9 92.5 268.4 92.2 267.7 91.8 266.9 91.4 266.4 91.2 265.8 90.8 264.9 90.5 264.4 90.3 263.6 89.8 262.9 89.5 262.4 89.2 261.8 88.8 260.9 88.4 260.4 88.1 259.9 87.8 259.2 87.3 258.4 86.9 257.9 86.6 257.4 86.3 256.6 85.8 255.9 85.5 255.4 85.2 254.8 84.8 254.0 84.3 253.4 84.0 252.9 83.7 252.4 83.3 251.4 82.9 250.9 82.7 250.1 82.3 249.4 82.1 248.4 81.9 247.9 81.8 246.9 81.4 246.4 81.1 245.9 80.7 245.4 80.3 244.8 79.8 244.1 79.3 243.4 79.0 242.9 78.7 242.3 78.3 241.4 77.9 240.9 77.4 240.5 76.8 240.4 76.3 240.5 75.8 241.0 75.3 241.9 75.0 242.9 74.9 243.9 75.0 244.9 75.1 245.9 75.0 246.4 74.7 246.9 74.2 247.4 73.8 248.3 73.3 248.9 73.0 249.4 72.8 250.2 72.3 250.9 72.0 251.4 71.8 252.4 71.7 253.4 71.6 254.4 71.4 254.9 71.3 255.7 70.8 256.4 70.8 256.9 71.1 257.4 71.5 258.4 71.3 258.9 71.1 259.4 70.8 260.4 70.5 261.4 70.7 261.9 71.0 262.5 71.3 262.9 72.3 263.0 72.8 263.0 73.8 263.0 74.8 263.1 75.8 263.4 76.5 263.9 77.2 264.3 77.8 264.5 78.3 264.8 79.3 264.8 80.3 264.9 81.3 265.1 81.8 265.6 82.3 266.4 82.6 267.4 82.6 268.4 82.6 269.4 82.8 269.9 83.0 270.6 83.3 271.3 83.8 271.9 84.2 272.4 84.5 273.0 84.8 273.5 85.3 273.9 86.3 274.4 86.8 274.9 87.3 275.4 87.6 276.0 87.8 276.9 88.2 277.4 88.4 278.4 88.7 278.9 88.9 279.5 89.3 280.0 89.8 280.4 90.8 280.6 91.3 280.8 92.3 280.9 93.3 281.0 93.8 281.2 94.8 281.2 95.8 280.4 96.3 279.9 96.4" stroke="#555" stroke-width="0.55" fill="none"/><path d="M228.4 68.4L227.5 68.3 226.9 68.1 226.4 67.5 226.1 66.8 225.9 66.3 225.5 65.3 225.3 64.8 225.1 63.9 224.9 63.1 224.8 62.4 224.6 61.4 224.5 60.4 224.4 59.9 224.2 58.9 224.0 57.9 223.9 57.3 223.8 56.4 223.7 55.4 223.5 54.4 223.4 53.9 223.1 52.9 222.9 52.3 222.8 51.4 222.7 50.4 222.5 49.4 222.3 48.9 222.0 47.9 221.8 47.4 221.5 46.4 221.4 45.9 221.1 44.9 220.9 44.4 220.6 43.4 220.4 42.8 220.2 41.9 220.0 40.9 219.9 40.4 219.6 39.4 219.4 38.9 219.0 37.9 218.7 37.4 218.4 36.7 218.1 35.9 217.8 35.4 217.4 34.7 216.9 34.0 216.5 33.4 216.2 32.9 215.9 32.4 215.4 31.5 215.1 30.9 214.9 30.3 214.5 29.4 214.4 28.9 214.3 27.9 214.3 26.9 214.3 25.9 214.3 24.9 214.4 24.1 215.4 23.9 216.4 24.0 217.4 24.0 218.4 24.1 219.4 24.2 220.4 24.2 221.4 24.1 222.4 24.2 223.4 24.2 224.4 24.3 225.4 24.2 226.4 24.2 227.4 24.2 228.4 24.3 229.4 24.3 230.4 24.3 231.4 24.3 232.4 24.3 233.4 24.3 233.9 24.4 234.9 24.5 235.9 24.7 236.9 24.7 237.9 24.6 238.9 24.5 239.9 24.5 240.9 24.6 241.9 24.6 242.9 24.6 243.9 24.7 244.4 25.3 244.7 25.9 244.8 26.9 244.4 27.6 243.9 27.9 242.9 27.9 242.3 27.9 241.4 27.8 240.6 27.9 239.9 28.1 239.4 28.4 238.4 28.7 237.4 28.5 236.4 28.5 235.9 29.0 235.4 29.4 234.8 29.9 233.9 30.3 232.9 30.3 231.9 30.3 231.4 30.4 230.9 30.9 230.5 31.9 230.1 32.4 229.4 32.6 228.4 32.7 227.9 32.9 227.5 33.9 227.9 34.8 228.4 35.1 229.4 35.0 229.9 34.6 230.4 34.1 230.9 33.7 231.7 33.9 232.3 34.4 232.6 34.9 232.8 35.9 232.5 36.9 231.9 37.2 231.4 37.6 230.9 38.0 230.9 38.7 231.4 39.1 231.9 39.4 232.9 39.9 233.2 40.4 233.2 41.4 233.3 42.4 233.4 43.4 233.2 44.4 232.9 45.0 232.4 45.4 231.4 45.8 231.1 46.4 231.2 47.4 231.9 47.9 232.4 48.0 233.3 47.9 233.8 47.4 234.4 46.9 234.9 46.8 235.4 46.9 236.0 47.4 236.3 48.4 235.9 48.9 234.9 49.1 234.3 49.4 233.9 49.9 233.7 50.9 233.5 51.9 233.0 52.4 232.4 52.6 231.4 52.8 231.4 53.0 231.9 53.9 232.4 54.2 232.9 54.6 233.4 55.2 233.6 55.9 233.4 56.6 233.2 57.4 233.1 58.4 233.1 59.4 233.1 60.4 233.3 61.4 233.4 61.9 233.7 62.9 233.9 63.9 233.6 64.8 233.3 65.3 232.9 65.9 232.4 66.3 231.8 66.8 231.2 67.3 230.4 67.8 229.9 68.0 228.9 68.3 228.4 68.4M233.9 39.5L233.8 38.9 234.3 38.9 233.9 39.5M278.9 96.4L277.9 96.4 276.9 96.4 276.4 96.2 275.8 95.8 274.9 95.4 274.4 95.2 273.9 94.8 273.0 94.3 272.4 94.1 271.9 93.8 271.0 93.3 270.4 93.1 269.9 92.8 269.1 92.3 268.4 92.1 267.9 91.8 267.1 91.3 266.4 91.1 265.9 90.8 265.0 90.3 264.4 90.1 263.9 89.8 263.0 89.3 262.4 89.1 261.9 88.8 261.2 88.3 260.4 87.9 259.9 87.6 259.4 87.3 258.6 86.8 257.9 86.5 257.4 86.2 256.8 85.8 256.0 85.3 255.4 85.1 254.9 84.8 254.2 84.3 253.5 83.8 252.9 83.5 252.4 83.2 251.6 82.8 250.9 82.6 250.4 82.3 249.4 81.9 248.9 81.8 248.0 81.3 247.4 81.0 246.9 80.7 246.4 80.3 245.9 79.8 245.4 79.2 244.9 78.5 244.8 77.8 245.0 77.3 245.5 76.8 246.2 76.3 246.9 75.9 247.4 75.5 247.9 75.0 248.4 74.5 248.9 74.1 249.4 73.8 250.1 73.3 250.9 72.9 251.4 72.8 252.4 72.7 253.3 72.8 253.9 73.1 254.4 73.5 254.9 73.9 255.6 74.3 256.1 74.3 256.9 73.9 257.4 73.5 257.9 73.2 258.5 72.8 259.4 72.3 259.9 72.2 260.9 72.3 261.4 72.7 261.8 73.3 262.0 73.8 262.0 74.8 262.0 75.8 261.9 76.3 262.0 76.8 262.3 77.8 262.5 78.3 262.9 79.3 263.1 79.8 263.4 80.5 263.8 81.3 264.1 81.8 264.4 82.4 264.9 82.9 265.7 83.3 266.4 83.5 267.4 83.5 268.4 83.6 269.4 83.8 269.9 84.0 270.6 84.3 271.4 84.8 271.9 85.2 272.4 85.8 272.8 86.3 273.1 86.8 273.6 87.3 274.4 87.8 274.9 88.1 275.6 88.3 276.4 88.7 276.9 88.9 277.9 89.2 278.4 89.4 279.2 89.8 279.7 90.3 280.1 90.8 280.4 91.8 280.5 92.3 280.8 93.3 280.9 94.3 281.0 94.8 281.0 95.8 280.4 96.1 279.4 96.3 278.9 96.4" stroke="#333" stroke-width="0.6" fill="none"/><path d="M228.9 67.5L227.9 67.8 226.9 67.4 226.4 66.9 226.1 66.3 225.9 65.8 225.5 64.8 225.3 64.3 225.1 63.4 225.0 62.4 224.9 61.9 224.7 60.9 224.6 59.9 224.4 59.3 224.3 58.4 224.1 57.4 224.0 56.4 223.9 55.9 223.7 54.9 223.5 53.9 223.4 53.4 223.1 52.4 222.9 51.5 222.9 50.9 222.7 49.9 222.5 48.9 222.3 48.4 222.0 47.4 221.8 46.9 221.5 45.9 221.4 45.4 221.1 44.4 220.9 43.9 220.6 42.9 220.4 42.1 220.3 41.4 220.1 40.4 219.9 39.9 219.6 38.9 219.4 38.4 218.9 37.4 218.7 36.9 218.4 36.3 218.0 35.4 217.7 34.9 217.4 34.4 216.9 33.7 216.4 33.0 216.1 32.4 215.8 31.9 215.4 31.2 215.1 30.4 214.9 29.9 214.6 28.9 214.5 27.9 214.5 26.9 214.5 25.9 214.5 24.9 214.9 24.1 215.9 24.1 216.9 24.2 217.9 24.3 218.9 24.3 219.4 24.4 220.4 24.4 221.0 24.4 221.9 24.3 222.4 24.4 223.4 24.5 224.4 24.5 225.4 24.5 226.4 24.4 227.4 24.4 228.4 24.5 229.4 24.5 230.4 24.5 231.4 24.5 232.4 24.5 233.4 24.6 234.4 24.7 235.2 24.9 235.9 25.2 236.1 25.9 235.6 26.4 235.2 26.9 234.9 27.4 234.4 28.3 233.9 28.7 233.4 29.0 232.4 29.2 231.4 29.3 230.4 29.2 229.4 29.3 228.9 29.6 228.7 30.4 228.4 31.1 227.7 31.4 226.9 31.6 226.4 32.0 226.1 32.9 226.0 33.9 226.3 34.9 226.7 35.4 227.2 35.9 227.6 36.4 227.9 37.2 228.0 37.9 228.2 38.9 228.4 39.6 228.9 40.0 229.9 40.4 230.2 40.9 230.0 41.9 230.2 42.9 230.3 43.9 229.9 44.7 229.6 45.4 229.4 46.0 229.4 46.9 229.5 47.4 229.8 48.4 230.1 48.9 230.9 49.3 231.9 49.3 232.4 49.6 232.7 50.4 232.4 51.1 231.4 51.2 230.7 50.9 229.9 50.7 229.4 51.2 229.3 51.9 229.4 52.4 229.9 53.4 230.2 53.9 230.6 54.4 230.9 55.2 231.1 55.9 231.0 56.9 231.3 57.9 231.6 58.4 231.9 59.3 232.1 59.9 232.2 60.9 232.4 61.8 232.5 62.4 232.6 63.4 232.5 64.3 232.0 64.8 231.4 65.3 231.0 65.8 230.7 66.3 230.2 66.8 229.4 67.3 228.9 67.5M242.9 26.9L242.1 26.9 241.4 26.7 240.4 26.7 239.4 26.7 238.4 26.5 237.9 26.1 237.4 25.6 237.4 25.3 238.4 25.0 239.3 24.9 239.9 24.8 240.9 24.8 241.9 24.8 242.6 24.9 243.4 25.0 244.0 25.4 244.0 26.4 243.4 26.7 242.9 26.9M259.4 76.5L258.6 76.3 258.0 75.8 257.8 75.3 257.9 74.5 258.4 74.0 258.9 73.7 259.9 73.7 260.4 74.0 260.8 74.8 260.6 75.8 259.9 76.3 259.4 76.5M280.4 95.9L279.4 96.2 278.4 96.2 277.4 96.2 276.4 96.0 275.9 95.8 275.1 95.3 274.4 95.0 273.9 94.7 273.3 94.3 272.4 93.9 271.9 93.7 271.3 93.3 270.4 92.9 269.9 92.6 269.4 92.3 268.4 91.9 267.9 91.7 267.3 91.3 266.4 90.9 265.9 90.6 265.3 90.3 264.4 90.0 263.9 89.7 263.2 89.3 262.4 88.9 261.9 88.6 261.4 88.3 260.6 87.8 259.9 87.5 259.4 87.2 258.9 86.8 258.0 86.3 257.4 86.1 256.9 85.8 256.3 85.3 255.4 84.9 254.9 84.6 254.4 84.3 253.7 83.8 253.0 83.3 252.4 83.1 251.9 82.8 251.0 82.3 250.4 82.1 249.9 81.8 248.9 81.4 248.4 81.1 247.9 80.7 247.4 80.2 246.9 79.6 246.5 78.8 246.4 78.3 246.5 77.8 246.9 77.3 247.4 76.8 248.0 76.3 248.6 75.8 249.3 75.3 249.9 74.9 250.4 74.7 251.4 74.4 251.9 74.3 252.4 74.4 253.2 74.8 253.7 75.3 254.4 75.8 254.9 76.2 255.4 76.6 255.9 76.9 256.6 77.3 257.4 77.8 257.9 78.1 258.5 78.3 259.4 78.7 259.9 79.0 260.4 79.4 260.9 80.0 261.4 80.5 262.0 80.8 262.5 81.3 262.9 81.9 263.4 82.6 263.9 83.3 264.4 83.8 264.9 84.3 265.4 84.5 266.4 84.5 267.4 84.6 268.4 84.8 268.9 84.9 269.9 85.2 270.4 85.5 270.9 86.2 271.1 86.8 271.5 87.3 272.4 87.8 272.9 88.1 273.5 88.3 274.4 88.7 275.0 88.8 275.9 89.1 276.5 89.3 277.4 89.8 277.9 90.0 278.8 90.3 279.4 90.8 279.8 91.3 280.0 91.8 280.4 92.8 280.5 93.3 280.7 94.3 280.9 95.3 280.4 95.9" stroke="#333" stroke-width="0.6" fill="none"/><path d="M227.9 66.9L227.3 66.8 226.6 66.3 226.2 65.8 225.9 65.3 225.5 64.3 225.4 63.9 225.3 62.9 225.1 61.9 224.9 61.4 224.8 60.4 224.7 59.4 224.4 58.4 224.3 57.9 224.2 56.9 224.1 55.9 223.9 55.2 223.8 54.4 223.6 53.4 223.4 52.9 223.2 51.9 223.1 50.9 222.9 50.2 222.8 49.4 222.5 48.4 222.3 47.9 222.0 46.9 221.8 46.4 221.6 45.4 221.4 44.9 221.1 43.9 220.9 43.4 220.7 42.4 220.4 41.4 220.3 40.9 220.1 39.9 219.9 39.4 219.6 38.4 219.3 37.9 218.9 37.1 218.6 36.4 218.4 35.9 217.9 35.0 217.5 34.4 217.2 33.9 216.9 33.4 216.4 32.7 216.0 31.9 215.7 31.4 215.4 30.7 215.1 29.9 214.9 29.4 214.8 28.4 214.8 27.4 214.7 26.4 214.7 25.4 214.9 24.4 215.4 24.3 216.3 24.4 216.9 24.4 217.9 24.5 218.9 24.6 219.9 24.6 220.9 24.6 221.9 24.6 222.9 24.7 223.9 24.7 224.9 24.8 225.9 24.7 226.9 24.7 227.9 24.8 228.9 24.8 229.9 24.8 230.9 24.8 231.9 24.8 232.9 24.8 233.4 24.9 234.4 25.3 234.4 25.8 233.9 26.3 233.4 26.7 232.9 27.1 232.4 27.4 231.4 27.8 230.4 27.7 229.4 27.7 228.8 27.9 227.9 28.1 227.1 28.4 226.4 28.7 225.9 29.2 225.4 29.8 225.0 30.4 224.6 30.9 224.3 31.4 223.9 32.1 223.8 32.9 223.9 33.9 224.0 34.4 224.4 35.4 224.7 35.9 224.9 36.9 224.7 37.9 224.8 38.9 225.3 39.4 225.9 39.8 226.2 40.4 226.5 40.9 226.9 41.4 227.4 41.9 228.0 42.4 228.5 42.9 228.6 43.9 228.4 44.4 228.0 45.4 228.1 46.4 228.1 47.4 228.1 48.4 228.1 49.4 227.9 50.3 227.8 50.9 227.9 51.9 228.1 52.4 228.4 53.0 228.9 53.7 229.3 54.4 229.5 54.9 229.6 55.9 229.6 56.9 229.8 57.9 230.0 58.4 230.4 59.0 230.8 59.9 230.8 60.9 230.4 61.4 229.9 62.1 229.8 62.9 229.9 63.5 229.9 64.3 229.8 64.8 229.4 65.5 228.9 66.3 228.4 66.7 227.9 66.9M279.9 95.9L278.9 96.1 277.9 96.1 276.9 96.0 276.4 95.8 275.5 95.3 274.9 95.1 274.4 94.8 273.7 94.3 272.9 94.0 272.4 93.7 271.7 93.3 270.9 93.0 270.4 92.7 269.7 92.3 268.9 92.0 268.4 91.7 267.7 91.3 266.9 91.0 266.4 90.7 265.7 90.3 264.9 90.0 264.4 89.8 263.6 89.3 262.9 89.0 262.4 88.7 261.8 88.3 260.9 87.9 260.4 87.6 259.9 87.3 259.2 86.8 258.4 86.4 257.9 86.2 257.4 85.8 256.6 85.3 255.9 85.0 255.4 84.7 254.8 84.3 254.0 83.8 253.4 83.5 252.9 83.2 252.4 82.8 251.4 82.4 250.9 82.1 250.4 81.8 249.6 81.3 248.9 81.0 248.4 80.5 248.0 79.8 247.8 79.3 247.7 78.3 248.0 77.8 248.4 77.2 248.9 76.8 249.9 76.3 250.4 76.2 251.4 76.3 251.9 76.4 252.9 76.8 253.4 77.1 254.0 77.3 254.8 77.8 255.2 78.3 255.5 78.8 255.9 79.4 256.9 79.7 257.9 79.8 258.4 79.9 259.2 80.3 259.7 80.8 260.2 81.3 260.7 81.8 261.2 82.3 261.8 82.8 262.4 83.3 262.9 83.8 263.2 84.3 263.5 84.8 263.9 85.5 264.4 85.9 265.4 86.2 266.4 86.1 267.4 86.1 268.4 86.2 269.0 86.3 269.6 86.8 269.9 87.5 270.4 88.1 270.9 88.4 271.9 88.6 272.6 88.8 273.4 89.2 273.9 89.5 274.9 89.7 275.5 89.8 276.4 90.2 276.9 90.4 277.9 90.8 278.4 91.0 279.0 91.3 279.5 91.8 279.9 92.7 280.2 93.3 280.4 94.1 280.6 94.8 280.4 95.7 279.9 95.9" stroke="#333" stroke-width="0.6" fill="none"/><path d="M227.4 66.0L226.8 65.8 226.3 65.3 225.9 64.8 225.7 63.9 225.5 62.9 225.4 62.4 225.2 61.4 225.1 60.4 224.9 59.6 224.9 58.9 224.6 57.9 224.4 57.0 224.4 56.4 224.3 55.4 224.1 54.4 223.9 53.8 223.7 52.9 223.4 52.4 223.3 51.4 223.2 50.4 223.0 49.4 222.9 48.9 222.6 47.9 222.4 47.4 222.1 46.4 221.9 45.9 221.7 44.9 221.4 44.3 221.2 43.4 220.9 42.6 220.8 41.9 220.6 40.9 220.4 40.3 220.2 39.4 219.9 38.6 219.6 37.9 219.3 37.4 218.9 36.6 218.6 35.9 218.3 35.4 217.9 34.7 217.4 33.9 217.1 33.4 216.8 32.9 216.4 32.4 215.9 31.5 215.7 30.9 215.4 30.1 215.2 29.4 215.1 28.4 215.0 27.4 215.0 26.4 214.9 25.8 214.9 25.0 215.4 24.6 216.4 24.6 217.4 24.7 218.4 24.8 218.9 24.9 219.9 25.0 220.9 25.0 221.9 25.0 222.9 25.2 223.9 25.3 224.4 25.6 225.4 25.4 225.9 25.3 226.9 25.3 227.6 25.4 227.4 26.1 226.4 26.1 225.4 25.9 224.4 26.0 223.7 26.4 222.9 26.7 222.3 26.9 221.7 27.4 221.9 28.0 222.7 28.4 223.3 28.9 223.1 29.9 222.8 30.4 222.4 31.0 222.0 31.9 221.9 32.4 221.9 33.1 222.2 33.9 222.4 34.4 222.9 35.3 223.2 35.9 223.4 36.9 223.3 37.9 223.4 38.9 223.6 39.4 223.9 40.4 224.1 40.9 224.4 41.9 224.6 42.4 225.1 42.9 225.9 43.3 226.3 43.9 226.3 44.9 226.3 45.9 226.5 46.4 226.8 47.4 226.9 48.4 227.0 48.9 226.9 49.7 226.9 50.4 226.8 51.4 226.9 52.4 227.1 52.9 227.4 53.6 227.8 54.4 228.0 54.9 228.1 55.9 227.9 56.8 227.9 57.4 227.9 58.2 228.3 58.9 228.7 59.4 229.0 59.9 228.9 60.6 228.7 61.4 228.5 62.4 228.7 63.4 228.7 64.3 228.4 65.1 227.9 65.8 227.4 66.0M278.9 95.9L277.9 95.9 277.2 95.8 276.4 95.6 275.9 95.3 275.0 94.8 274.4 94.6 273.9 94.3 273.1 93.8 272.4 93.5 271.9 93.3 271.1 92.8 270.4 92.5 269.9 92.2 269.1 91.8 268.4 91.6 267.9 91.3 267.1 90.8 266.4 90.5 265.9 90.2 265.1 89.8 264.4 89.5 263.9 89.3 263.2 88.8 262.4 88.4 261.9 88.1 261.4 87.8 260.5 87.3 259.9 87.0 259.4 86.8 258.7 86.3 257.9 86.0 257.4 85.6 256.9 85.3 256.1 84.8 255.4 84.5 254.9 84.2 254.4 83.8 253.6 83.3 252.9 83.0 252.4 82.7 251.8 82.3 251.0 81.8 250.4 81.5 249.9 81.2 249.4 80.8 248.9 80.3 248.6 79.3 248.7 78.3 249.1 77.8 249.9 77.4 250.4 77.3 250.9 77.4 251.9 77.8 252.4 78.2 252.9 78.7 253.4 79.1 253.9 79.4 254.5 79.8 255.1 80.3 255.9 80.8 256.4 81.1 257.4 81.3 257.9 81.4 258.9 81.8 259.4 82.2 259.9 82.7 260.4 83.3 260.9 83.7 261.4 84.1 261.9 84.6 262.4 85.2 262.9 85.8 263.3 86.3 263.9 86.8 264.4 87.0 265.4 87.3 265.9 87.4 266.9 87.5 267.9 87.6 268.5 87.8 269.1 88.3 269.7 88.8 270.4 89.3 270.9 89.4 271.9 89.5 272.9 89.8 273.4 90.2 273.9 90.4 274.9 90.8 275.4 91.0 276.4 91.3 276.9 91.5 277.8 91.8 278.4 92.1 278.9 92.5 279.4 93.0 279.9 93.8 280.2 94.3 280.4 95.3 279.4 95.7 278.9 95.9" stroke="#333" stroke-width="0.6" fill="none"/><path d="M227.4 64.9L226.6 64.8 226.2 64.3 226.1 63.4 225.9 62.6 225.8 61.9 225.7 60.9 225.6 59.9 225.8 58.9 225.4 58.4 225.0 57.4 224.9 56.9 224.8 55.9 224.7 54.9 224.5 53.9 224.3 53.4 223.9 52.6 223.7 51.9 223.6 50.9 223.5 49.9 223.4 49.4 223.2 48.4 222.9 47.7 222.7 46.9 222.4 45.9 222.4 45.4 222.0 44.4 221.8 43.9 221.4 42.9 221.4 42.4 221.2 41.4 220.9 40.5 220.8 39.9 220.5 38.9 220.3 38.4 219.9 37.6 219.4 36.9 219.2 36.4 218.9 35.8 218.4 34.9 218.1 34.4 217.8 33.9 217.3 33.4 216.9 32.8 216.4 32.0 216.1 31.4 215.9 30.9 215.7 29.9 215.4 28.9 215.4 28.7 215.5 27.9 215.4 27.0 215.4 26.4 215.4 25.4 215.9 24.9 216.9 25.1 217.9 25.3 218.4 25.4 219.3 25.9 219.5 26.4 219.6 27.4 219.7 28.4 219.9 29.4 220.0 29.9 220.2 30.9 220.2 31.9 220.4 32.7 220.7 33.4 221.0 33.9 221.4 34.9 221.6 35.4 221.8 36.4 221.9 37.1 222.0 37.9 222.3 38.9 222.5 39.4 222.7 40.4 222.8 41.4 222.9 41.9 223.2 42.9 223.3 43.9 223.4 44.4 223.9 45.4 224.3 45.9 224.7 46.4 225.0 46.9 225.4 47.7 225.7 48.4 225.9 49.4 225.9 50.4 225.9 51.4 225.8 52.4 225.8 53.4 225.9 53.9 226.2 54.9 226.4 55.8 226.5 56.4 226.4 56.9 226.2 57.9 226.0 58.9 226.4 59.5 226.9 60.2 227.2 60.9 227.2 61.9 227.4 62.8 227.7 63.4 227.7 64.3 227.4 64.9M261.9 86.9L260.9 87.0 260.4 86.8 259.4 86.4 258.9 86.1 258.3 85.8 257.4 85.4 256.9 85.0 256.4 84.8 255.7 84.3 254.9 83.9 254.4 83.6 253.9 83.3 253.2 82.8 252.4 82.4 251.9 82.2 251.4 81.8 250.7 81.3 250.1 80.8 249.5 80.3 249.4 79.8 249.4 79.2 249.9 78.6 250.9 78.5 251.6 78.8 252.3 79.3 252.9 79.8 253.4 80.3 253.9 80.6 254.4 81.0 254.9 81.4 255.6 81.8 256.4 82.3 256.9 82.6 257.8 82.8 258.4 83.1 258.9 83.5 259.4 83.9 259.9 84.4 260.4 84.9 261.0 85.3 261.4 85.9 261.9 86.8 261.9 86.9M278.9 95.5L277.9 95.6 276.9 95.6 276.4 95.3 275.5 94.8 274.9 94.6 274.4 94.3 273.6 93.8 272.9 93.5 272.4 93.2 271.6 92.8 270.9 92.5 270.4 92.2 269.7 91.8 268.9 91.4 268.4 91.3 267.6 90.8 266.9 90.4 266.4 90.1 265.9 89.8 265.2 89.3 264.4 88.9 263.9 88.5 263.9 88.0 264.9 88.3 265.4 88.4 266.4 88.6 267.4 88.7 268.0 88.8 268.8 89.3 269.4 89.8 269.9 90.1 270.8 90.3 271.4 90.5 272.4 90.8 272.9 91.1 273.4 91.4 274.2 91.8 274.9 92.2 275.5 92.3 276.4 92.7 277.0 92.8 277.9 93.1 278.5 93.3 279.1 93.8 279.6 94.3 279.4 95.3 278.9 95.5" stroke="#333" stroke-width="0.6" fill="none"/></g><path d="M216.8 31.5C219 37 221.6 44 223.2 50.5C224.3 55 225 60 225.3 65" stroke="#000" stroke-width="2.3" fill="none" stroke-linecap="round"/><path d="M216.5 31.5C220 30.8 226 31.8 232 33.8" stroke="#333" stroke-width="1.3" fill="none"/><path d="M215 26.5C224 25.5 234 26 244 27.5" stroke="#888" stroke-width="0.9" fill="none"/><path d="M250 80.8C253 81.5 256 82.2 259 83.5C265 86.5 270 89.5 278.5 95" stroke="#000" stroke-width="2.2" fill="none"/><path d="M252 79.5C255 80 258 80.8 262 82.5C265 84 268 85.5 271 87.5" stroke="#222" stroke-width="1.3" fill="none"/><path d="M254.5 73.5C258 72 262 71 267 70.5" stroke="#444" stroke-width="0.9" fill="none"/><clipPath id="c299_21"><rect x="299.6" y="21.6" width="75.59999999999997" height="76.0"/></clipPath><g clip-path="url(#c299_21)"><path d="M326.4 77.9L325.4 78.1 324.4 77.9 323.9 77.8 322.9 77.3 322.4 76.9 321.9 76.4 321.4 76.2 320.5 76.3 319.9 76.8 319.4 77.2 318.9 77.6 318.4 77.9 317.4 78.3 316.4 78.1 315.9 77.7 315.4 76.9 314.9 76.3 314.5 75.8 314.1 75.3 313.6 74.8 313.2 74.3 312.9 73.7 312.4 72.8 312.1 72.3 311.7 71.8 311.2 71.3 310.8 70.8 310.4 70.2 309.9 69.5 309.4 69.0 308.9 68.5 308.7 67.8 309.0 67.3 309.4 66.8 309.9 66.1 309.9 65.3 309.8 64.8 309.4 63.9 309.3 63.4 309.2 62.4 309.4 61.6 309.5 60.9 309.5 59.9 309.4 59.3 309.0 58.4 308.8 57.9 308.5 56.9 308.4 56.2 308.2 55.4 307.9 54.4 307.5 53.9 307.2 53.4 306.9 52.7 306.4 51.9 306.1 51.4 305.9 50.7 305.5 49.9 305.3 49.4 305.0 48.4 304.8 47.9 304.4 46.9 304.2 46.4 303.9 45.5 303.6 44.9 303.4 43.9 303.3 43.4 303.1 42.4 302.9 41.5 302.7 40.9 302.4 39.9 302.2 39.4 301.9 38.4 301.7 37.9 301.5 36.9 301.4 35.9 301.4 34.9 301.3 34.4 301.2 33.4 301.2 32.4 301.4 31.6 301.6 30.9 301.9 30.4 302.4 29.5 302.8 28.9 303.3 28.4 303.9 27.9 304.4 27.5 304.9 27.1 305.4 26.8 306.1 26.4 306.9 26.0 307.4 25.7 308.4 25.4 308.9 25.3 309.9 25.3 310.9 25.3 311.9 25.1 312.9 24.9 313.4 24.8 313.9 24.9 314.9 25.0 315.9 25.3 316.4 25.5 317.4 25.8 318.0 25.9 318.9 25.9 319.9 26.1 320.8 26.4 321.4 26.5 322.1 26.9 322.9 27.2 323.4 27.5 323.9 27.9 324.6 28.4 325.2 28.9 325.8 29.4 326.2 29.9 326.6 30.4 326.9 30.9 327.2 31.9 327.4 32.4 327.6 33.4 327.7 34.4 327.6 35.4 327.4 36.4 327.3 36.9 327.0 37.9 326.9 38.4 326.6 39.4 326.4 40.0 326.2 40.9 326.1 41.9 325.9 42.9 325.8 43.4 325.6 44.4 325.4 45.0 325.1 45.9 324.9 46.4 324.6 47.4 324.5 48.4 324.4 49.4 324.3 49.9 324.2 50.9 324.1 51.9 324.0 52.9 324.0 53.9 323.9 54.9 323.9 55.9 324.1 56.9 324.4 57.4 324.9 58.0 325.6 58.4 326.4 58.4 327.1 58.4 327.9 58.1 328.4 57.9 329.0 57.4 329.4 56.9 329.9 56.3 330.4 55.8 330.9 55.3 331.7 54.9 332.4 54.5 332.9 54.1 333.4 53.5 333.8 52.9 334.4 52.4 334.9 52.2 335.7 52.4 336.4 52.6 336.9 52.9 337.5 53.4 337.9 53.9 338.1 54.9 338.1 55.9 338.4 56.8 338.6 57.4 338.9 57.9 339.3 58.9 339.5 59.4 339.9 60.1 340.1 60.9 340.4 61.6 340.7 62.4 340.9 62.9 341.1 63.9 341.0 64.8 340.8 65.3 340.6 66.3 340.7 67.3 340.9 67.9 341.2 68.8 341.2 69.8 340.9 70.5 340.4 71.0 339.9 71.4 339.2 71.8 338.4 72.3 337.9 72.6 337.4 72.9 336.9 73.5 336.4 74.0 335.4 74.3 334.9 74.4 333.9 74.7 333.3 74.8 332.4 75.1 331.4 75.1 330.4 75.0 329.7 74.8 328.9 74.8 328.4 75.3 328.2 75.8 328.0 76.8 327.4 77.3 326.9 77.7 326.4 77.9" stroke="#777" stroke-width="0.5" fill="none"/><path d="M325.4 76.4L324.5 76.3 323.9 76.1 323.4 75.6 322.9 75.1 322.4 74.7 321.4 74.5 320.4 74.7 319.9 74.9 318.9 75.3 318.4 75.7 317.9 76.0 316.9 76.0 316.4 75.7 315.8 75.3 315.2 74.8 314.7 74.3 314.3 73.8 313.9 73.1 313.6 72.3 313.3 71.8 312.9 71.3 312.3 70.8 311.8 70.3 311.5 69.3 311.4 68.3 311.4 67.8 311.1 66.8 310.9 65.8 310.8 65.3 310.5 64.3 310.4 63.6 310.3 62.9 310.3 61.9 310.3 60.9 310.1 59.9 309.9 59.0 309.5 58.4 309.3 57.9 309.0 56.9 308.8 56.4 308.6 55.4 308.4 54.4 308.0 53.9 307.7 53.4 307.4 52.8 306.9 51.9 306.6 51.4 306.3 50.9 305.9 49.9 305.7 49.4 305.4 48.4 305.2 47.9 304.9 47.1 304.5 46.4 304.3 45.9 304.0 44.9 303.9 44.3 303.6 43.4 303.4 42.4 303.3 41.9 303.0 40.9 302.9 40.3 302.5 39.4 302.4 38.7 302.1 37.9 301.9 36.9 301.9 36.1 301.8 35.4 301.7 34.4 301.7 33.4 301.8 32.4 301.9 31.9 302.2 30.9 302.5 30.4 302.9 29.8 303.4 29.1 303.9 28.6 304.4 28.2 304.9 27.8 305.4 27.4 306.3 26.9 306.9 26.5 307.4 26.3 308.4 26.0 309.2 25.9 309.9 25.8 310.9 25.8 311.9 25.6 312.9 25.4 313.4 25.3 314.0 25.4 314.9 25.5 315.8 25.9 316.4 26.0 317.4 26.3 318.1 26.4 318.9 26.4 319.9 26.6 320.8 26.9 321.4 27.0 322.1 27.4 322.9 27.8 323.4 28.1 323.9 28.5 324.4 28.9 325.0 29.4 325.5 29.9 325.9 30.4 326.4 31.2 326.6 31.9 326.9 32.7 327.0 33.4 327.1 34.4 327.1 35.4 327.0 36.4 326.9 36.9 326.6 37.9 326.4 38.5 326.0 39.4 325.9 40.0 325.7 40.9 325.7 41.9 325.5 42.9 325.4 43.6 325.1 44.4 324.9 45.1 324.6 45.9 324.4 46.6 324.2 47.4 324.1 48.4 324.0 49.4 323.9 50.4 323.8 50.9 323.7 51.9 323.6 52.9 323.5 53.9 323.5 54.9 323.4 55.9 323.5 56.9 323.8 57.9 323.8 58.9 323.4 59.7 322.9 60.4 322.7 60.9 322.7 61.9 322.9 62.4 323.4 63.1 324.4 63.0 324.9 62.7 325.4 62.4 326.1 61.9 326.6 61.4 326.8 60.4 327.0 59.9 327.6 59.4 328.4 58.9 328.9 58.6 329.4 58.3 329.9 57.8 330.4 57.1 330.9 56.4 331.4 56.0 331.9 55.8 332.9 55.5 333.9 55.4 334.4 55.3 335.2 54.9 335.6 54.4 336.3 54.4 336.4 54.9 335.9 55.3 335.5 55.9 335.7 56.9 336.1 57.4 336.8 57.9 337.4 58.2 337.9 58.6 338.4 59.2 338.8 59.9 339.0 60.4 339.4 61.3 339.5 61.9 339.7 62.9 339.7 63.9 339.4 64.8 339.2 65.3 339.1 66.3 339.3 67.3 339.5 67.8 339.9 68.7 340.0 69.3 339.9 70.0 339.4 70.6 338.9 71.0 338.1 71.3 337.4 71.6 336.4 71.8 335.9 71.9 335.1 72.3 334.4 72.8 333.9 73.3 333.4 73.6 332.9 73.9 331.9 74.1 330.9 73.8 330.4 73.5 329.9 73.1 329.4 72.8 328.4 72.8 327.9 73.2 327.4 73.8 327.1 74.3 326.8 74.8 326.4 75.7 325.9 76.1 325.4 76.4M325.1 66.3L324.4 66.0 323.9 65.5 323.3 65.8 323.6 66.3 324.4 66.5 325.1 66.3M326.0 66.8L325.8 66.8 326.0 66.8M328.0 69.8L327.9 69.1 327.8 69.8 328.0 69.8" stroke="#888" stroke-width="0.45" fill="none"/><path d="M325.4 74.4L324.9 74.2 324.8 73.3 324.9 72.8 325.0 71.8 324.4 71.5 323.4 71.3 322.9 71.2 321.9 70.8 321.4 70.8 320.9 71.1 320.4 71.7 319.9 72.3 319.6 72.8 318.9 73.3 318.4 73.4 317.6 73.3 316.9 73.2 315.9 73.0 315.4 72.5 315.1 71.8 314.9 70.8 314.7 70.3 314.2 69.8 313.5 69.3 313.2 68.8 313.0 67.8 312.8 67.3 312.4 66.5 311.9 65.8 311.6 65.3 311.4 64.6 311.2 63.9 311.1 62.9 311.0 61.9 310.9 60.9 310.8 60.4 310.5 59.4 310.3 58.9 309.9 57.9 309.6 57.4 309.4 56.7 309.1 55.9 308.9 54.9 308.8 54.4 308.4 53.6 307.9 52.9 307.5 52.4 307.2 51.9 306.9 51.2 306.4 50.4 306.2 49.9 305.9 48.9 305.7 48.4 305.4 47.4 305.1 46.9 304.9 46.3 304.5 45.4 304.3 44.9 304.0 43.9 303.9 43.0 303.7 42.4 303.4 41.4 303.3 40.9 303.0 39.9 302.9 39.2 302.6 38.4 302.4 37.4 302.3 36.9 302.2 35.9 302.2 34.9 302.1 33.9 302.2 32.9 302.4 32.0 302.6 31.4 302.9 30.8 303.4 30.0 303.9 29.4 304.3 28.9 304.9 28.4 305.4 28.0 305.9 27.6 306.4 27.3 307.3 26.9 307.9 26.6 308.9 26.4 309.4 26.3 310.4 26.3 311.4 26.1 312.4 25.9 312.9 25.8 313.9 25.8 314.4 25.9 315.4 26.2 315.9 26.4 316.9 26.6 317.9 26.8 318.5 26.9 319.4 27.0 320.4 27.2 320.9 27.4 321.9 27.8 322.4 28.0 322.9 28.4 323.6 28.9 324.2 29.4 324.8 29.9 325.3 30.4 325.6 30.9 325.9 31.4 326.2 32.4 326.4 32.9 326.6 33.9 326.7 34.9 326.7 35.9 326.5 36.9 326.3 37.4 325.9 38.4 325.7 38.9 325.4 39.9 325.3 40.4 325.3 41.4 325.2 42.4 325.0 43.4 324.9 43.9 324.5 44.9 324.3 45.4 324.0 46.4 323.9 47.2 323.8 47.9 323.7 48.9 323.6 49.9 323.5 50.9 323.4 51.8 323.3 52.4 323.2 53.4 323.1 54.4 323.0 55.4 322.9 56.4 323.0 57.4 323.1 58.4 322.9 59.1 322.4 59.9 322.0 60.4 321.8 60.9 321.7 61.9 321.9 62.8 322.0 63.4 321.9 64.3 321.8 64.8 321.8 65.8 321.7 66.8 321.5 67.8 321.5 68.8 321.9 68.8 322.5 68.3 323.4 68.1 324.4 68.2 324.9 68.4 325.4 68.8 325.6 69.8 325.6 70.8 325.9 71.4 326.5 71.8 326.4 72.8 326.1 73.3 325.9 73.9 325.4 74.4M332.4 73.0L331.6 72.8 331.1 72.3 330.9 71.8 330.4 70.9 330.0 70.3 329.8 69.8 329.4 68.8 329.3 68.3 329.2 67.3 329.2 66.3 328.9 65.7 328.4 65.1 327.9 64.7 327.7 63.9 328.0 63.4 328.4 62.8 328.9 62.1 329.2 61.4 329.4 60.5 329.8 59.9 330.4 59.7 331.4 59.5 331.7 58.9 331.8 57.9 332.1 57.4 332.9 57.1 333.4 57.5 333.9 58.3 334.4 58.6 335.4 58.8 335.9 58.9 336.8 59.4 337.4 59.8 337.8 60.4 338.1 60.9 338.4 61.5 338.5 62.4 338.4 63.3 338.1 63.9 337.9 64.5 337.7 65.3 337.8 66.3 337.9 66.8 338.2 67.8 338.5 68.3 338.7 69.3 338.4 70.1 337.9 70.4 336.9 70.5 336.0 70.3 335.4 70.3 334.9 70.4 334.4 70.9 333.9 71.7 333.4 72.3 332.9 72.8 332.4 73.0" stroke="#888" stroke-width="0.45" fill="none"/><path d="M318.4 70.6L317.4 70.3 317.6 69.3 317.4 68.8 316.4 68.5 315.4 68.4 314.9 68.3 314.3 67.8 313.9 67.2 313.4 66.3 313.0 65.8 312.6 65.3 312.3 64.8 311.9 63.9 311.8 63.4 311.7 62.4 311.4 61.4 311.3 60.9 311.2 59.9 310.9 58.9 310.6 58.4 310.3 57.9 309.9 56.9 309.6 56.4 309.4 55.4 309.3 54.9 308.9 53.9 308.6 53.4 308.3 52.9 307.9 52.2 307.4 51.4 307.1 50.9 306.8 50.4 306.4 49.4 306.2 48.9 305.9 47.9 305.6 47.4 305.4 46.7 305.0 45.9 304.8 45.4 304.5 44.4 304.4 43.8 304.1 42.9 303.9 41.9 303.7 41.4 303.5 40.4 303.4 39.8 303.1 38.9 302.9 37.9 302.8 37.4 302.7 36.4 302.6 35.4 302.5 34.4 302.5 33.4 302.7 32.4 302.9 31.9 303.4 31.0 303.7 30.4 304.1 29.9 304.5 29.4 305.1 28.9 305.7 28.4 306.4 27.9 306.9 27.6 307.4 27.4 308.4 27.0 308.9 26.9 309.9 26.7 310.9 26.7 311.9 26.5 312.6 26.4 313.4 26.3 314.2 26.4 314.9 26.5 315.8 26.9 316.4 27.0 317.4 27.2 318.4 27.3 318.9 27.4 319.9 27.6 320.7 27.9 321.4 28.1 321.9 28.4 322.6 28.9 323.4 29.3 323.9 29.7 324.4 30.1 324.9 30.7 325.3 31.4 325.5 31.9 325.8 32.9 325.9 33.4 326.1 34.4 326.2 35.4 326.1 36.4 325.9 37.3 325.6 37.9 325.4 38.5 325.0 39.4 324.9 40.1 324.8 40.9 324.8 41.9 324.7 42.9 324.5 43.9 324.3 44.4 323.9 45.4 323.7 45.9 323.5 46.9 323.4 47.9 323.4 48.8 323.3 49.4 323.2 50.4 323.1 51.4 322.9 52.4 322.8 52.9 322.7 53.9 322.7 54.9 322.5 55.9 322.5 56.9 322.5 57.9 322.4 58.6 322.0 59.4 321.7 59.9 321.4 60.4 321.0 61.4 321.0 62.4 321.1 63.4 321.1 64.3 321.0 65.3 320.9 66.2 320.6 66.8 320.3 67.3 319.9 67.9 319.4 68.7 319.1 69.3 318.9 69.9 318.4 70.6M335.9 63.0L335.2 62.9 334.8 62.4 334.9 61.9 335.4 61.2 336.4 61.1 336.7 61.9 336.4 62.8 335.9 63.0M335.9 67.9L335.6 67.3 336.0 67.3 335.9 67.9M332.9 70.4L331.9 70.5 331.4 69.9 331.1 69.3 330.8 68.8 331.0 68.3 331.6 68.3 332.3 68.8 332.8 69.3 333.0 69.8 332.9 70.4" stroke="#888" stroke-width="0.45" fill="none"/><path d="M317.4 67.4L316.4 67.5 315.5 67.3 314.9 66.9 314.4 66.3 314.1 65.8 313.8 65.3 313.3 64.8 312.9 64.1 312.6 63.4 312.4 62.4 312.1 61.9 311.9 60.9 311.7 60.4 311.6 59.4 311.4 58.6 310.9 57.9 310.6 57.4 310.3 56.9 309.9 55.9 309.8 55.4 309.6 54.4 309.4 53.8 308.9 53.0 308.4 52.4 308.1 51.9 307.8 51.4 307.4 50.6 307.0 49.9 306.8 49.4 306.4 48.4 306.2 47.9 305.9 47.0 305.6 46.4 305.3 45.9 305.0 44.9 304.8 44.4 304.6 43.4 304.4 42.4 304.2 41.9 304.0 40.9 303.8 40.4 303.6 39.4 303.4 38.4 303.3 37.9 303.2 36.9 303.1 35.9 303.0 34.9 303.0 33.9 303.1 32.9 303.4 32.1 303.7 31.4 304.0 30.9 304.4 30.4 304.9 29.8 305.4 29.3 305.9 28.9 306.7 28.4 307.4 28.0 307.9 27.7 308.9 27.4 309.4 27.3 310.4 27.2 311.4 27.1 312.4 26.9 312.9 26.8 313.9 26.8 314.4 26.9 315.4 27.3 315.9 27.4 316.9 27.6 317.9 27.7 318.8 27.9 319.4 28.0 320.4 28.3 320.9 28.5 321.6 28.9 322.4 29.3 322.9 29.7 323.4 30.0 323.9 30.5 324.4 31.0 324.8 31.9 325.1 32.4 325.4 33.3 325.5 33.9 325.7 34.9 325.7 35.9 325.5 36.9 325.3 37.4 324.9 38.3 324.7 38.9 324.4 39.9 324.3 40.4 324.3 41.4 324.3 42.4 324.2 43.4 323.9 44.2 323.6 44.9 323.4 45.7 323.2 46.4 323.1 47.4 323.0 48.4 323.0 49.4 322.9 50.3 322.8 50.9 322.6 51.9 322.4 52.9 322.3 53.4 322.3 54.4 322.1 55.4 322.0 56.4 322.0 57.4 321.9 58.2 321.6 58.9 321.3 59.4 320.9 60.1 320.5 60.9 320.3 61.4 320.3 62.4 320.4 63.2 320.4 63.9 320.4 64.8 320.3 65.3 319.9 66.3 319.4 66.8 318.9 67.1 317.9 67.3 317.4 67.4" stroke="#888" stroke-width="0.45" fill="none"/><path d="M318.4 65.9L317.4 66.2 316.4 66.1 315.9 65.8 315.4 65.3 314.9 64.7 314.4 64.1 313.9 63.4 313.6 62.9 313.3 62.4 312.9 61.4 312.6 60.9 312.4 59.9 312.4 59.1 312.2 58.4 311.9 57.8 311.4 57.2 310.9 56.5 310.5 55.9 310.4 54.9 310.3 54.4 309.9 53.4 309.5 52.9 309.1 52.4 308.8 51.9 308.4 51.2 307.9 50.4 307.6 49.9 307.4 49.2 307.0 48.4 306.8 47.9 306.4 46.9 306.1 46.4 305.9 45.7 305.5 44.9 305.4 44.2 305.2 43.4 304.9 42.4 304.8 41.9 304.5 40.9 304.4 40.0 304.2 39.4 304.0 38.4 303.9 37.4 303.9 36.4 303.9 35.4 303.8 34.9 303.7 33.9 303.9 32.9 304.1 32.4 304.4 31.8 304.9 31.0 305.4 30.4 305.9 29.9 306.4 29.6 306.9 29.3 307.6 28.9 308.4 28.5 308.9 28.2 309.9 28.0 310.9 27.9 311.4 27.8 312.4 27.7 313.4 27.7 314.2 27.9 314.9 28.0 315.9 28.2 316.9 28.3 317.4 28.4 318.4 28.5 319.4 28.8 319.9 29.0 320.6 29.4 321.4 29.8 321.9 30.0 322.4 30.4 323.0 30.9 323.5 31.4 323.9 31.9 324.3 32.9 324.5 33.4 324.8 34.4 324.9 34.9 324.9 35.9 324.8 36.4 324.4 37.4 324.2 37.9 323.9 38.9 323.8 39.4 323.6 40.4 323.5 41.4 323.5 42.4 323.4 43.4 323.2 43.9 322.9 44.9 322.8 45.4 322.6 46.4 322.5 47.4 322.4 48.4 322.4 49.2 322.3 49.9 322.1 50.9 321.9 51.9 321.8 52.4 321.7 53.4 321.6 54.4 321.4 55.4 321.3 55.9 321.2 56.9 321.1 57.9 320.9 58.5 320.4 59.4 320.0 59.9 319.7 60.4 319.4 61.2 319.2 61.9 319.3 62.9 319.4 63.4 319.4 64.3 319.3 64.8 318.9 65.6 318.4 65.9" stroke="#888" stroke-width="0.45" fill="none"/><path d="M317.4 64.1L316.7 63.9 316.1 63.4 315.7 62.9 315.4 62.3 314.9 61.7 314.4 61.2 313.9 60.6 313.6 59.9 313.5 58.9 313.4 57.9 313.1 57.4 312.7 56.9 312.1 56.4 311.6 55.9 311.4 55.1 311.2 54.4 310.9 53.4 310.5 52.9 310.2 52.4 309.8 51.9 309.4 51.2 308.9 50.4 308.5 49.9 308.3 49.4 307.9 48.4 307.7 47.9 307.4 47.1 307.0 46.4 306.8 45.9 306.4 44.9 306.2 44.4 305.9 43.4 305.8 42.9 305.6 41.9 305.4 40.9 305.3 40.4 305.0 39.4 304.9 38.4 304.8 37.9 304.8 36.9 304.9 36.4 304.9 35.4 304.9 34.8 304.8 33.9 304.9 33.2 305.1 32.4 305.4 31.9 305.9 31.3 306.4 30.8 307.1 30.4 307.9 30.0 308.4 29.8 309.2 29.4 309.9 29.1 310.7 28.9 311.4 28.8 312.4 28.8 313.1 28.9 313.9 28.9 314.9 29.1 315.9 29.2 316.9 29.3 317.4 29.4 318.4 29.6 319.1 29.9 319.9 30.3 320.4 30.6 320.9 30.9 321.6 31.4 322.2 31.9 322.7 32.4 323.0 32.9 323.4 33.4 323.8 34.4 324.0 34.9 323.9 35.9 323.8 36.4 323.4 37.4 323.3 37.9 323.0 38.9 322.9 39.6 322.7 40.4 322.5 41.4 322.4 42.4 322.3 42.9 322.1 43.9 322.0 44.9 321.9 45.9 321.8 46.4 321.7 47.4 321.5 48.4 321.4 49.4 321.4 50.1 321.2 50.9 320.9 51.9 320.8 52.4 320.7 53.4 320.7 54.4 320.5 55.4 320.3 55.9 320.1 56.9 319.9 57.9 319.7 58.4 319.4 58.9 318.9 59.5 318.4 60.1 317.9 60.9 317.7 61.4 317.7 62.4 317.7 63.4 317.4 64.1" stroke="#888" stroke-width="0.45" fill="none"/><path d="M316.4 59.6L315.4 59.6 314.9 58.9 314.8 58.4 314.6 57.4 314.3 56.9 313.9 56.3 313.3 55.9 312.8 55.4 312.4 54.4 312.1 53.9 311.9 53.3 311.4 52.6 310.9 51.9 310.5 51.4 310.2 50.9 309.8 50.4 309.4 49.6 309.0 48.9 308.7 48.4 308.4 47.6 308.0 46.9 307.7 46.4 307.4 45.4 307.1 44.9 306.9 44.0 306.6 43.4 306.4 42.4 306.2 41.9 306.0 40.9 305.9 40.0 305.7 39.4 305.5 38.4 305.5 37.4 305.5 36.4 305.6 35.4 305.6 34.4 305.7 33.4 305.9 32.9 306.4 31.9 306.9 31.4 307.4 31.1 307.9 30.8 308.9 30.4 309.4 30.2 310.2 29.9 310.9 29.7 311.9 29.6 312.9 29.7 313.9 29.8 314.4 29.9 315.4 30.0 316.4 30.2 317.2 30.4 317.9 30.6 318.5 30.9 319.4 31.2 319.9 31.5 320.4 31.9 321.1 32.4 321.6 32.9 322.0 33.4 322.5 33.9 322.9 34.4 323.1 35.4 323.0 36.4 322.8 36.9 322.5 37.9 322.4 38.6 322.2 39.4 321.9 40.4 321.8 40.9 321.6 41.9 321.4 42.9 321.3 43.4 321.2 44.4 321.2 45.4 321.1 46.4 320.9 47.4 320.8 47.9 320.6 48.9 320.4 49.9 320.3 50.4 320.0 51.4 319.9 52.1 319.8 52.9 319.8 53.9 319.7 54.9 319.4 55.8 319.1 56.4 318.9 57.0 318.4 57.9 318.0 58.4 317.5 58.9 316.9 59.3 316.4 59.6" stroke="#888" stroke-width="0.45" fill="none"/><path d="M317.4 55.9L316.4 56.2 315.6 55.9 314.9 55.4 314.4 55.1 313.9 54.6 313.4 54.0 312.9 53.4 312.6 52.9 312.2 52.4 311.9 51.8 311.4 51.0 311.0 50.4 310.6 49.9 310.3 49.4 309.9 48.7 309.4 47.9 309.0 47.4 308.7 46.9 308.4 46.2 308.0 45.4 307.8 44.9 307.4 43.9 307.2 43.4 306.9 42.4 306.8 41.9 306.6 40.9 306.4 39.9 306.3 39.4 306.1 38.4 306.1 37.4 306.1 36.4 306.2 35.4 306.3 34.4 306.4 33.8 306.7 32.9 307.0 32.4 307.4 31.9 308.3 31.4 308.9 31.1 309.5 30.9 310.4 30.5 311.3 30.4 311.9 30.3 312.4 30.4 313.4 30.6 314.4 30.7 315.4 30.8 315.9 30.9 316.9 31.2 317.4 31.4 318.4 31.8 318.9 32.0 319.6 32.4 320.3 32.9 320.8 33.4 321.2 33.9 321.5 34.4 321.9 34.9 322.2 35.9 322.1 36.9 321.9 37.8 321.7 38.4 321.5 39.4 321.3 39.9 321.0 40.9 320.8 41.4 320.6 42.4 320.5 43.4 320.5 44.4 320.4 45.4 320.4 46.3 320.2 46.9 319.9 47.9 319.7 48.4 319.4 49.3 319.2 49.9 318.9 50.9 318.8 51.4 318.7 52.4 318.8 53.4 318.7 54.4 318.4 55.1 317.9 55.6 317.4 55.9" stroke="#888" stroke-width="0.45" fill="none"/><path d="M316.9 53.6L315.9 53.8 314.9 53.7 314.3 53.4 313.8 52.9 313.4 52.3 312.9 51.6 312.4 50.9 312.1 50.4 311.8 49.9 311.4 49.3 310.9 48.6 310.4 48.0 309.9 47.4 309.5 46.9 309.2 46.4 308.9 45.8 308.4 44.9 308.1 44.4 307.9 43.7 307.5 42.9 307.4 42.3 307.1 41.4 306.9 40.4 306.8 39.9 306.7 38.9 306.6 37.9 306.6 36.9 306.7 35.9 306.8 34.9 306.9 34.4 307.2 33.4 307.5 32.9 307.9 32.4 308.7 31.9 309.4 31.5 309.9 31.3 310.9 31.1 311.9 31.0 312.9 31.2 313.6 31.4 314.4 31.5 315.4 31.6 316.4 31.8 316.9 32.0 317.6 32.4 318.4 32.7 318.9 32.9 319.6 33.4 320.1 33.9 320.4 34.4 320.9 35.2 321.1 35.9 321.2 36.9 321.1 37.9 320.9 38.9 320.7 39.4 320.4 40.3 320.2 40.9 319.9 41.9 319.9 42.5 319.8 43.4 319.7 44.4 319.7 45.4 319.6 46.4 319.4 47.1 318.9 47.9 318.6 48.4 318.2 48.9 317.9 49.6 317.6 50.4 317.5 51.4 317.4 52.4 317.3 52.9 316.9 53.6" stroke="#666" stroke-width="0.5" fill="none"/><path d="M315.9 51.5L314.9 51.8 314.2 51.4 313.7 50.9 313.3 50.4 312.9 49.8 312.4 49.1 311.9 48.6 311.4 48.0 310.9 47.4 310.4 46.9 310.0 46.4 309.6 45.9 309.2 45.4 308.9 44.7 308.4 43.9 308.2 43.4 307.9 42.5 307.6 41.9 307.4 40.9 307.3 40.4 307.2 39.4 307.1 38.4 307.1 37.4 307.1 36.4 307.3 35.4 307.4 34.9 307.7 33.9 308.0 33.4 308.4 32.9 309.1 32.4 309.9 32.0 310.4 31.8 311.4 31.6 312.4 31.7 312.9 31.9 313.9 32.1 314.9 32.2 315.6 32.4 316.4 32.6 317.1 32.9 317.9 33.2 318.4 33.4 319.0 33.9 319.4 34.4 319.9 35.2 320.1 35.9 320.3 36.9 320.2 37.9 320.0 38.9 319.8 39.4 319.5 40.4 319.3 40.9 319.1 41.9 319.0 42.9 318.9 43.9 318.9 44.9 318.9 45.6 318.7 46.4 318.4 47.0 317.9 47.7 317.4 48.3 316.9 48.9 316.6 49.4 316.4 49.9 316.1 50.9 315.9 51.5" stroke="#666" stroke-width="0.5" fill="none"/><path d="M314.4 48.9L313.9 48.8 313.0 48.4 312.4 47.9 311.9 47.4 311.4 46.9 310.9 46.4 310.4 45.9 309.9 45.4 309.5 44.9 309.2 44.4 308.9 43.8 308.4 42.9 308.2 42.4 307.9 41.4 307.8 40.9 307.6 39.9 307.5 38.9 307.5 37.9 307.6 36.9 307.7 35.9 307.9 35.3 308.2 34.4 308.5 33.9 308.9 33.4 309.5 32.9 310.4 32.4 310.9 32.3 311.9 32.3 312.4 32.4 313.4 32.6 314.4 32.8 314.9 32.9 315.9 33.1 316.6 33.4 317.4 33.7 317.9 34.0 318.4 34.4 318.9 35.0 319.2 35.9 319.3 36.9 319.2 37.9 319.0 38.9 318.8 39.4 318.6 40.4 318.4 41.4 318.3 41.9 318.1 42.9 318.0 43.9 317.9 44.9 317.9 45.4 317.6 46.4 317.2 46.9 316.8 47.4 316.2 47.9 315.5 48.4 314.9 48.7 314.4 48.9" stroke="#666" stroke-width="0.5" fill="none"/><path d="M314.4 47.0L313.4 47.1 312.7 46.9 312.0 46.4 311.4 45.9 310.9 45.5 310.4 45.0 309.9 44.5 309.4 43.9 309.1 43.4 308.8 42.9 308.4 41.9 308.2 41.4 308.0 40.4 307.9 39.4 307.9 38.4 308.0 37.4 308.1 36.4 308.4 35.5 308.6 34.9 308.9 34.4 309.4 33.8 310.0 33.4 310.9 33.0 311.9 32.9 312.9 33.1 313.7 33.4 314.4 33.5 315.4 33.6 316.2 33.9 316.9 34.2 317.4 34.5 317.9 34.9 318.4 35.8 318.5 36.4 318.4 37.4 318.3 37.9 318.1 38.9 317.9 39.9 317.9 40.4 317.6 41.4 317.4 42.1 317.1 42.9 316.9 43.8 316.7 44.4 316.5 45.4 316.2 45.9 315.6 46.4 314.9 46.7 314.4 47.0" stroke="#666" stroke-width="0.5" fill="none"/><path d="M313.9 45.5L312.9 45.6 312.0 45.4 311.4 45.1 310.9 44.7 310.4 44.3 309.9 43.8 309.4 43.1 308.9 42.4 308.7 41.9 308.4 40.9 308.3 40.4 308.2 39.4 308.3 38.4 308.4 37.8 308.5 36.9 308.8 35.9 309.0 35.4 309.4 34.8 309.9 34.3 310.4 33.9 311.4 33.6 312.4 33.7 313.1 33.9 313.9 34.0 314.9 34.1 315.9 34.3 316.4 34.5 316.9 34.9 317.4 35.4 317.8 36.4 317.8 37.4 317.6 38.4 317.4 39.4 317.2 39.9 316.9 40.9 316.7 41.4 316.4 42.1 315.9 42.9 315.7 43.4 315.4 44.3 314.9 44.9 314.4 45.3 313.9 45.5" stroke="#444" stroke-width="0.55" fill="none"/><path d="M313.4 44.4L312.4 44.6 311.4 44.4 310.9 44.1 310.4 43.7 309.9 43.2 309.4 42.5 309.0 41.9 308.8 41.4 308.6 40.4 308.5 39.4 308.6 38.4 308.8 37.4 309.0 36.9 309.4 36.0 309.8 35.4 310.2 34.9 310.9 34.4 311.4 34.3 312.4 34.3 312.9 34.5 313.9 34.7 314.9 34.7 315.7 34.9 316.4 35.2 316.9 35.6 317.2 36.4 317.3 37.4 317.1 38.4 316.9 39.1 316.5 39.9 316.3 40.4 315.9 41.1 315.4 41.8 315.0 42.4 314.7 42.9 314.4 43.5 313.9 44.1 313.4 44.4" stroke="#444" stroke-width="0.55" fill="none"/><path d="M312.9 43.6L311.9 43.8 310.9 43.6 310.4 43.2 309.9 42.7 309.4 41.9 309.1 41.4 308.9 40.4 308.8 39.9 308.9 39.2 309.0 38.4 309.3 37.4 309.5 36.9 309.9 36.2 310.4 35.6 310.9 35.2 311.9 35.0 312.9 35.2 313.9 35.3 314.9 35.3 315.5 35.4 316.4 35.8 316.7 36.4 316.8 37.4 316.6 38.4 316.4 39.0 315.9 39.8 315.4 40.4 314.9 40.9 314.6 41.4 314.3 41.9 313.9 42.6 313.4 43.2 312.9 43.6" stroke="#444" stroke-width="0.55" fill="none"/><path d="M312.4 43.1L311.4 43.2 310.6 42.9 310.0 42.4 309.7 41.9 309.4 41.1 309.2 40.4 309.1 39.4 309.3 38.4 309.5 37.9 309.9 37.1 310.4 36.4 310.9 36.0 311.4 35.9 312.0 35.9 312.9 36.1 313.9 36.1 314.8 35.9 315.3 35.9 315.9 36.1 316.4 36.8 316.4 37.4 316.3 37.9 315.9 38.8 315.4 39.3 314.9 39.7 314.4 40.2 313.9 40.9 313.7 41.4 313.4 42.0 312.9 42.7 312.4 43.1" stroke="#444" stroke-width="0.55" fill="none"/><path d="M311.9 42.6L310.9 42.6 310.4 42.2 309.9 41.6 309.5 40.9 309.4 39.9 309.5 38.9 309.9 37.9 310.2 37.4 310.8 36.9 311.4 36.6 312.4 36.8 312.9 37.2 313.4 37.4 313.9 37.2 314.4 36.8 315.4 36.6 315.9 37.2 315.9 37.5 315.4 38.4 314.9 38.7 314.2 38.9 313.7 39.4 313.4 40.4 313.2 40.9 312.9 41.6 312.4 42.3 311.9 42.6" stroke="#444" stroke-width="0.55" fill="none"/></g><circle cx="347.6" cy="60" r="1.5" stroke="#666" stroke-width="0.5" fill="none"/><path d="M353 57C356 55.5 360 56.5 360.5 59.5C361 62 361 64 362.5 66C364 68 363.5 70 362 72C361 74.5 362 77 361 80C360 83 356.5 84 355.5 81C354.5 78 356.5 75 357 71C357.5 68 355.5 65 354 62.5C353 60.5 352 58.5 353 57Z" stroke="#666" stroke-width="0.55" fill="none"/><circle cx="362" cy="67" r="0.6" fill="#666"/><path d="M343 66C346 68 347 72 345 76C344 78 345 80 347 81" stroke="#888" stroke-width="0.45" fill="none"/>
<text x="66.3" y="29.9" font-size="3.9" font-style="italic" fill="#8a8a8a" text-anchor="end">10<tspan font-size="2.6" dy="-1.4">5</tspan></text>
<text x="66.3" y="44.7" font-size="3.9" font-style="italic" fill="#8a8a8a" text-anchor="end">10<tspan font-size="2.6" dy="-1.4">4</tspan></text>
<text x="66.3" y="59.9" font-size="3.9" font-style="italic" fill="#8a8a8a" text-anchor="end">10<tspan font-size="2.6" dy="-1.4">3</tspan></text>
<text x="66.3" y="75.9" font-size="3.9" font-style="italic" fill="#8a8a8a" text-anchor="end">10<tspan font-size="2.6" dy="-1.4">2</tspan></text>
<text x="66.3" y="85.9" font-size="3.9" font-style="italic" fill="#8a8a8a" text-anchor="end">0</text>
<text x="86.8" y="105.7" font-size="3.9" font-style="italic" fill="#8a8a8a" text-anchor="middle">0</text>
<text x="105.5" y="105.7" font-size="3.9" font-style="italic" fill="#8a8a8a" text-anchor="middle">10<tspan font-size="2.6" dy="-1.4">3</tspan></text>
<text x="122.1" y="105.7" font-size="3.9" font-style="italic" fill="#8a8a8a" text-anchor="middle">10<tspan font-size="2.6" dy="-1.4">4</tspan></text>
<text x="137.9" y="105.7" font-size="3.9" font-style="italic" fill="#8a8a8a" text-anchor="middle">10<tspan font-size="2.6" dy="-1.4">5</tspan></text>
<path d="M67.2 28.6h1.3M67.2 43.4h1.3M67.2 58.6h1.3M67.2 74.6h1.3M67.2 84.6h1.3M86.8 98v1.3M105.5 98v1.3M122.1 98v1.3M137.9 98v1.3" stroke="#444" stroke-width="0.7" fill="none"/>
<text x="21.1" y="120.7" font-size="3.9" font-style="italic" fill="#8a8a8a" text-anchor="end">10<tspan font-size="2.6" dy="-1.4">5</tspan></text>
<text x="21.1" y="136.6" font-size="3.9" font-style="italic" fill="#8a8a8a" text-anchor="end">10<tspan font-size="2.6" dy="-1.4">4</tspan></text>
<text x="21.1" y="151.8" font-size="3.9" font-style="italic" fill="#8a8a8a" text-anchor="end">10<tspan font-size="2.6" dy="-1.4">3</tspan></text>
<text x="21.1" y="175.1" font-size="3.9" font-style="italic" fill="#8a8a8a" text-anchor="end">0</text>
<text x="35.8" y="196.7" font-size="3.9" font-style="italic" fill="#8a8a8a" text-anchor="middle">0</text>
<text x="45.8" y="196.7" font-size="3.9" font-style="italic" fill="#8a8a8a" text-anchor="middle">10<tspan font-size="2.6" dy="-1.4">3</tspan></text>
<text x="62.8" y="196.7" font-size="3.9" font-style="italic" fill="#8a8a8a" text-anchor="middle">10<tspan font-size="2.6" dy="-1.4">4</tspan></text>
<text x="77.8" y="196.7" font-size="3.9" font-style="italic" fill="#8a8a8a" text-anchor="middle">10<tspan font-size="2.6" dy="-1.4">5</tspan></text>
<text x="92.8" y="196.7" font-size="3.9" font-style="italic" fill="#8a8a8a" text-anchor="middle">10<tspan font-size="2.6" dy="-1.4">5</tspan></text>
<path d="M22.0 119.4h1.3M22.0 135.3h1.3M22.0 150.5h1.3M22.0 173.8h1.3M35.8 189v1.3M45.8 189v1.3M62.8 189v1.3M77.8 189v1.3M92.8 189v1.3" stroke="#444" stroke-width="0.7" fill="none"/>
<text x="106.3" y="120.7" font-size="3.9" font-style="italic" fill="#8a8a8a" text-anchor="end">10<tspan font-size="2.6" dy="-1.4">5</tspan></text>
<text x="106.3" y="136.6" font-size="3.9" font-style="italic" fill="#8a8a8a" text-anchor="end">10<tspan font-size="2.6" dy="-1.4">4</tspan></text>
<text x="106.3" y="151.8" font-size="3.9" font-style="italic" fill="#8a8a8a" text-anchor="end">10<tspan font-size="2.6" dy="-1.4">3</tspan></text>
<text x="106.3" y="175.1" font-size="3.9" font-style="italic" fill="#8a8a8a" text-anchor="end">0</text>
<text x="121.0" y="196.39999999999998" font-size="3.9" font-style="italic" fill="#8a8a8a" text-anchor="middle">0</text>
<text x="131.0" y="196.39999999999998" font-size="3.9" font-style="italic" fill="#8a8a8a" text-anchor="middle">10<tspan font-size="2.6" dy="-1.4">3</tspan></text>
<text x="148.0" y="196.39999999999998" font-size="3.9" font-style="italic" fill="#8a8a8a" text-anchor="middle">10<tspan font-size="2.6" dy="-1.4">4</tspan></text>
<text x="163.0" y="196.39999999999998" font-size="3.9" font-style="italic" fill="#8a8a8a" text-anchor="middle">10<tspan font-size="2.6" dy="-1.4">5</tspan></text>
<text x="178.0" y="196.39999999999998" font-size="3.9" font-style="italic" fill="#8a8a8a" text-anchor="middle">10<tspan font-size="2.6" dy="-1.4">5</tspan></text>
<path d="M107.2 119.4h1.3M107.2 135.3h1.3M107.2 150.5h1.3M107.2 173.8h1.3M121.0 188.7v1.3M131.0 188.7v1.3M148.0 188.7v1.3M163.0 188.7v1.3M178.0 188.7v1.3" stroke="#444" stroke-width="0.7" fill="none"/>
<text x="21.1" y="214.4" font-size="3.9" font-style="italic" fill="#8a8a8a" text-anchor="end">10<tspan font-size="2.6" dy="-1.4">5</tspan></text>
<text x="21.1" y="229.2" font-size="3.9" font-style="italic" fill="#8a8a8a" text-anchor="end">10<tspan font-size="2.6" dy="-1.4">4</tspan></text>
<text x="21.1" y="244.4" font-size="3.9" font-style="italic" fill="#8a8a8a" text-anchor="end">10<tspan font-size="2.6" dy="-1.4">3</tspan></text>
<text x="21.1" y="260.4" font-size="3.9" font-style="italic" fill="#8a8a8a" text-anchor="end">10<tspan font-size="2.6" dy="-1.4">2</tspan></text>
<text x="21.1" y="270.4" font-size="3.9" font-style="italic" fill="#8a8a8a" text-anchor="end">0</text>
<text x="41.6" y="290.5" font-size="3.9" font-style="italic" fill="#8a8a8a" text-anchor="middle">0</text>
<text x="60.3" y="290.5" font-size="3.9" font-style="italic" fill="#8a8a8a" text-anchor="middle">10<tspan font-size="2.6" dy="-1.4">3</tspan></text>
<text x="76.9" y="290.5" font-size="3.9" font-style="italic" fill="#8a8a8a" text-anchor="middle">10<tspan font-size="2.6" dy="-1.4">4</tspan></text>
<text x="92.7" y="290.5" font-size="3.9" font-style="italic" fill="#8a8a8a" text-anchor="middle">10<tspan font-size="2.6" dy="-1.4">5</tspan></text>
<path d="M22.0 213.1h1.3M22.0 227.9h1.3M22.0 243.1h1.3M22.0 259.1h1.3M22.0 269.1h1.3M41.6 282.8v1.3M60.3 282.8v1.3M76.9 282.8v1.3M92.7 282.8v1.3" stroke="#444" stroke-width="0.7" fill="none"/>
<text x="106.3" y="214.3" font-size="3.9" font-style="italic" fill="#8a8a8a" text-anchor="end">10<tspan font-size="2.6" dy="-1.4">5</tspan></text>
<text x="106.3" y="229.1" font-size="3.9" font-style="italic" fill="#8a8a8a" text-anchor="end">10<tspan font-size="2.6" dy="-1.4">4</tspan></text>
<text x="106.3" y="244.3" font-size="3.9" font-style="italic" fill="#8a8a8a" text-anchor="end">10<tspan font-size="2.6" dy="-1.4">3</tspan></text>
<text x="106.3" y="260.3" font-size="3.9" font-style="italic" fill="#8a8a8a" text-anchor="end">10<tspan font-size="2.6" dy="-1.4">2</tspan></text>
<text x="106.3" y="270.3" font-size="3.9" font-style="italic" fill="#8a8a8a" text-anchor="end">0</text>
<text x="126.8" y="290.3" font-size="3.9" font-style="italic" fill="#8a8a8a" text-anchor="middle">0</text>
<text x="145.5" y="290.3" font-size="3.9" font-style="italic" fill="#8a8a8a" text-anchor="middle">10<tspan font-size="2.6" dy="-1.4">3</tspan></text>
<text x="162.1" y="290.3" font-size="3.9" font-style="italic" fill="#8a8a8a" text-anchor="middle">10<tspan font-size="2.6" dy="-1.4">4</tspan></text>
<text x="177.9" y="290.3" font-size="3.9" font-style="italic" fill="#8a8a8a" text-anchor="middle">10<tspan font-size="2.6" dy="-1.4">5</tspan></text>
<path d="M107.2 213h1.3M107.2 227.8h1.3M107.2 243h1.3M107.2 259h1.3M107.2 269h1.3M126.8 282.6v1.3M145.5 282.6v1.3M162.1 282.6v1.3M177.9 282.6v1.3" stroke="#444" stroke-width="0.7" fill="none"/>
<text x="210.0" y="29.3" font-size="3.9" font-style="italic" fill="#8a8a8a" text-anchor="end">10<tspan font-size="2.6" dy="-1.4">5</tspan></text>
<text x="210.0" y="46.7" font-size="3.9" font-style="italic" fill="#8a8a8a" text-anchor="end">10<tspan font-size="2.6" dy="-1.4">4</tspan></text>
<text x="210.0" y="67.9" font-size="3.9" font-style="italic" fill="#8a8a8a" text-anchor="end">10<tspan font-size="2.6" dy="-1.4">3</tspan></text>
<text x="210.0" y="80.9" font-size="3.9" font-style="italic" fill="#8a8a8a" text-anchor="end">0</text>
<text x="225.0" y="105.0" font-size="3.9" font-style="italic" fill="#8a8a8a" text-anchor="middle">0</text>
<text x="244.2" y="105.0" font-size="3.9" font-style="italic" fill="#8a8a8a" text-anchor="middle">10<tspan font-size="2.6" dy="-1.4">3</tspan></text>
<text x="263.0" y="105.0" font-size="3.9" font-style="italic" fill="#8a8a8a" text-anchor="middle">10<tspan font-size="2.6" dy="-1.4">4</tspan></text>
<text x="280.0" y="105.0" font-size="3.9" font-style="italic" fill="#8a8a8a" text-anchor="middle">10<tspan font-size="2.6" dy="-1.4">5</tspan></text>
<path d="M210.89999999999998 28.0h1.3M210.89999999999998 45.4h1.3M210.89999999999998 66.6h1.3M210.89999999999998 79.6h1.3M225.0 97.6v1.3M244.2 97.6v1.3M263.0 97.6v1.3M280.0 97.6v1.3" stroke="#444" stroke-width="0.7" fill="none"/>
<text x="297.40000000000003" y="29.3" font-size="3.9" font-style="italic" fill="#8a8a8a" text-anchor="end">10<tspan font-size="2.6" dy="-1.4">5</tspan></text>
<text x="297.40000000000003" y="46.7" font-size="3.9" font-style="italic" fill="#8a8a8a" text-anchor="end">10<tspan font-size="2.6" dy="-1.4">4</tspan></text>
<text x="297.40000000000003" y="67.9" font-size="3.9" font-style="italic" fill="#8a8a8a" text-anchor="end">10<tspan font-size="2.6" dy="-1.4">3</tspan></text>
<text x="297.40000000000003" y="80.9" font-size="3.9" font-style="italic" fill="#8a8a8a" text-anchor="end">0</text>
<text x="312.4" y="105.0" font-size="3.9" font-style="italic" fill="#8a8a8a" text-anchor="middle">0</text>
<text x="331.6" y="105.0" font-size="3.9" font-style="italic" fill="#8a8a8a" text-anchor="middle">10<tspan font-size="2.6" dy="-1.4">3</tspan></text>
<text x="350.4" y="105.0" font-size="3.9" font-style="italic" fill="#8a8a8a" text-anchor="middle">10<tspan font-size="2.6" dy="-1.4">4</tspan></text>
<text x="367.4" y="105.0" font-size="3.9" font-style="italic" fill="#8a8a8a" text-anchor="middle">10<tspan font-size="2.6" dy="-1.4">5</tspan></text>
<path d="M298.3 28.0h1.3M298.3 45.4h1.3M298.3 66.6h1.3M298.3 79.6h1.3M312.4 97.6v1.3M331.6 97.6v1.3M350.4 97.6v1.3M367.4 97.6v1.3" stroke="#444" stroke-width="0.7" fill="none"/>
<text transform="translate(11.1 11.9) scale(1 1.03)" font-size="11.3" font-weight="bold" text-anchor="start" fill="#000">A</text>
<rect x="68.5" y="21.6" width="76.5" height="76.4" fill="none" stroke="#4a4a4a" stroke-width="1.0"/>
<rect x="68.5" y="31.6" width="28.5" height="23.4" fill="none" stroke="#000" stroke-width="1.1"/>
<rect x="81.8" y="55.8" width="14.8" height="18.2" fill="none" stroke="#000" stroke-width="1.1"/>
<text transform="translate(89.5 30.3) scale(1 1.12)" font-size="7.6" font-weight="bold" text-anchor="middle" fill="#000">5.5</text>
<text transform="translate(89.2 72.6) scale(1 1.12)" font-size="7.6" font-weight="bold" text-anchor="middle" fill="#000">7.9</text>
<text transform="translate(57.0 61.3) rotate(-90) scale(1.0 1)" font-size="7.6" font-weight="bold" text-anchor="middle" fill="#000">c-kit</text>
<text transform="translate(104.6 110.3) scale(1 1.12)" font-size="8" font-weight="bold" text-anchor="middle" fill="#000">Sca-1</text>
<path d="M68.5 47H43.8V125" fill="none" stroke="#000" stroke-width="1.1"/>
<path d="M40.5 120.0L43.8 125.2L47.099999999999994 120.0L43.8 122.6Z" fill="#000" stroke="#000" stroke-width="0.5" stroke-linejoin="round"/>
<path d="M96.6 65.3H161V115.5" fill="none" stroke="#000" stroke-width="1.1"/>
<path d="M157.7 110.8L161 116L164.3 110.8L161 113.4Z" fill="#000" stroke="#000" stroke-width="0.5" stroke-linejoin="round"/>
<rect x="23.3" y="113.3" width="75.8" height="75.7" fill="none" stroke="#4a4a4a" stroke-width="1.0"/>
<rect x="56.2" y="155.2" width="14.5" height="33.8" fill="none" stroke="#000" stroke-width="1.1"/>
<text transform="translate(74.5 183.8) scale(1 1.06)" font-size="8.8" font-weight="bold" text-anchor="start" fill="#000">21</text>
<line x1="63.2" y1="183.5" x2="63.2" y2="219.5" stroke="#000" stroke-width="1.1"/>
<path d="M59.900000000000006 214.8L63.2 220L66.5 214.8L63.2 217.4Z" fill="#000" stroke="#000" stroke-width="0.5" stroke-linejoin="round"/>
<text transform="translate(11.2 149.1) rotate(-90) scale(1.0 1)" font-size="8.4" font-weight="bold" text-anchor="middle" fill="#000">CD16/32</text>
<rect x="108.5" y="113.3" width="75.7" height="75.4" fill="none" stroke="#4a4a4a" stroke-width="1.0"/>
<rect x="142.4" y="155.3" width="14.2" height="33.4" fill="none" stroke="#000" stroke-width="1.1"/>
<text transform="translate(160.3 183.8) scale(1 1.06)" font-size="8.8" font-weight="bold" text-anchor="start" fill="#000">15</text>
<line x1="148.4" y1="184.5" x2="148.4" y2="219.5" stroke="#000" stroke-width="1.1"/>
<path d="M145.1 214.8L148.4 220L151.70000000000002 214.8L148.4 217.4Z" fill="#000" stroke="#000" stroke-width="0.5" stroke-linejoin="round"/>
<line x1="70" y1="200.3" x2="89.2" y2="200.3" stroke="#888" stroke-width="1.2"/>
<text transform="translate(92.6 203.1) scale(1 1.12)" font-size="8.0" font-weight="bold" text-anchor="start" fill="#000">CD34</text>
<line x1="118.4" y1="200.3" x2="137.2" y2="200.3" stroke="#888" stroke-width="1.2"/>
<rect x="23.3" y="206.1" width="75.8" height="76.7" fill="none" stroke="#4a4a4a" stroke-width="1.0"/>
<rect x="23.3" y="228.8" width="32.9" height="23.2" fill="none" stroke="#000" stroke-width="1.1"/>
<text transform="translate(37.9 226.9) scale(1 1.06)" font-size="8.9" font-weight="bold" text-anchor="middle" fill="#000">40</text>
<text transform="translate(11.3 241.5) rotate(-90) scale(1.0 1)" font-size="8.7" font-weight="bold" text-anchor="middle" fill="#000">Flk2</text>
<text transform="translate(71.4 265.8) scale(1 1.15)" font-size="8.9" font-weight="bold" text-anchor="start" fill="#000">CMP</text>
<rect x="108.5" y="206" width="75.5" height="76.6" fill="none" stroke="#4a4a4a" stroke-width="1.0"/>
<rect x="140.8" y="227.3" width="29.1" height="26.9" fill="none" stroke="#000" stroke-width="1.1"/>
<text transform="translate(150.2 223.3) scale(1 1.06)" font-size="8.6" font-weight="bold" text-anchor="start" fill="#000">44</text>
<text transform="translate(158.2 265.9) scale(1 1.15)" font-size="8.9" font-weight="bold" text-anchor="start" fill="#000">CDP</text>
<line x1="30" y1="294.7" x2="77.6" y2="294.7" stroke="#888" stroke-width="1.2"/>
<text transform="translate(89.3 297.3) scale(1 1.12)" font-size="8.3" font-weight="bold" text-anchor="start" fill="#000">CD115</text>
<line x1="126" y1="294.7" x2="177.6" y2="294.7" stroke="#888" stroke-width="1.2"/>
<text transform="translate(193.4 11.3) scale(1 1.03)" font-size="11.3" font-weight="bold" text-anchor="start" fill="#000">B</text>
<text transform="translate(247.1 18.3) scale(1 1.12)" font-size="9.1" font-weight="normal" text-anchor="middle" fill="#000" stroke="#000" stroke-width="0.3">CMP</text>
<text transform="translate(337.6 18.3) scale(1 1.12)" font-size="9.1" font-weight="normal" text-anchor="middle" fill="#000" stroke="#000" stroke-width="0.3">CDP</text>
<rect x="212.2" y="21.6" width="76.1" height="76.0" fill="none" stroke="#4a4a4a" stroke-width="1.0"/>
<rect x="212.2" y="21.6" width="33.5" height="43.7" fill="none" stroke="#000" stroke-width="1.2"/>
<rect x="254" y="53.3" width="27.2" height="43.8" fill="none" stroke="#000" stroke-width="1.2"/>
<text transform="translate(247.6 29.0) scale(1 1.12)" font-size="8.9" font-weight="normal" text-anchor="start" fill="#000" stroke="#000" stroke-width="0.25">45</text>
<text transform="translate(243.4 95.6) scale(1 1.12)" font-size="8.9" font-weight="normal" text-anchor="start" fill="#000" stroke="#000" stroke-width="0.25">34</text>
<rect x="299.6" y="21.6" width="75.6" height="76.0" fill="none" stroke="#4a4a4a" stroke-width="1.0"/>
<rect x="299.6" y="21.6" width="33.2" height="43.5" fill="none" stroke="#000" stroke-width="1.2"/>
<rect x="341.3" y="53.2" width="27.3" height="43.9" fill="none" stroke="#000" stroke-width="1.2"/>
<text transform="translate(335 28.9) scale(1 1.12)" font-size="8.9" font-weight="normal" text-anchor="start" fill="#000" stroke="#000" stroke-width="0.25">86</text>
<text transform="translate(328 95.8) scale(1 1.12)" font-size="8.9" font-weight="normal" text-anchor="start" fill="#000" stroke="#000" stroke-width="0.25">3.9</text>
<text transform="translate(201.2 54.6) rotate(-90) scale(1.0 1)" font-size="8.4" font-weight="bold" text-anchor="middle" fill="#000">CD11c</text>
<line x1="223" y1="109.6" x2="278.4" y2="109.6" stroke="#888" stroke-width="1.2"/>
<text transform="translate(285.9 111.9) scale(1 1.12)" font-size="8.4" font-weight="bold" text-anchor="start" fill="#000">Gr-1</text>
<line x1="310" y1="109.6" x2="365.2" y2="109.6" stroke="#888" stroke-width="1.2"/>
<text transform="translate(192.2 135.6) scale(1 1.03)" font-size="11.3" font-weight="bold" text-anchor="start" fill="#000">C</text>
<text transform="translate(246.1 148.9) scale(1 1.15)" font-size="9.2" font-weight="normal" text-anchor="middle" fill="#000" stroke="#000" stroke-width="0.35">CMP</text>
<text transform="translate(281.4 148.9) scale(1 1.15)" font-size="9.2" font-weight="normal" text-anchor="middle" fill="#000" stroke="#000" stroke-width="0.35">CDP</text>
<line x1="235.4" y1="152.2" x2="256.6" y2="152.2" stroke="#555" stroke-width="1.3"/>
<line x1="262.6" y1="152.2" x2="299.6" y2="152.2" stroke="#555" stroke-width="1.3"/>
<rect x="232.6" y="155.7" width="14.4" height="14.43" fill="#0cf60c"/>
<rect x="246.4" y="155.7" width="14.4" height="14.43" fill="#0cf60c"/>
<rect x="260.2" y="155.7" width="14.4" height="14.43" fill="#fa0a0a"/>
<rect x="274.0" y="155.7" width="14.4" height="14.43" fill="#c80000"/>
<rect x="287.8" y="155.7" width="13.8" height="14.43" fill="#c30000"/>
<text transform="translate(228.3 165.11) scale(1 1.12)" font-size="9" font-weight="bold" text-anchor="end" font-style="italic" fill="#000">Id2</text>
<rect x="232.6" y="169.53" width="14.4" height="14.43" fill="#0cf60c"/>
<rect x="246.4" y="169.53" width="14.4" height="14.43" fill="#0cf60c"/>
<rect x="260.2" y="169.53" width="14.4" height="14.43" fill="#be0000"/>
<rect x="274.0" y="169.53" width="14.4" height="14.43" fill="#fa0505"/>
<rect x="287.8" y="169.53" width="13.8" height="14.43" fill="#d70000"/>
<text transform="translate(228.3 178.94) scale(1 1.12)" font-size="9" font-weight="bold" text-anchor="end" font-style="italic" fill="#000">Id3</text>
<rect x="232.6" y="183.36" width="14.4" height="14.43" fill="#0cf60c"/>
<rect x="246.4" y="183.36" width="14.4" height="14.43" fill="#0cf60c"/>
<rect x="260.2" y="183.36" width="14.4" height="14.43" fill="#008700"/>
<rect x="274.0" y="183.36" width="14.4" height="14.43" fill="#f00000"/>
<rect x="287.8" y="183.36" width="13.8" height="14.43" fill="#fa0505"/>
<text transform="translate(228.3 192.77) scale(1 1.12)" font-size="9" font-weight="bold" text-anchor="end" font-style="italic" fill="#000">Tcf19</text>
<rect x="232.6" y="197.19" width="14.4" height="14.43" fill="#0cf60c"/>
<rect x="246.4" y="197.19" width="14.4" height="14.43" fill="#0ce80c"/>
<rect x="260.2" y="197.19" width="14.4" height="14.43" fill="#00a500"/>
<rect x="274.0" y="197.19" width="14.4" height="14.43" fill="#cd0000"/>
<rect x="287.8" y="197.19" width="13.8" height="14.43" fill="#fa0505"/>
<text transform="translate(228.3 206.6) scale(1 1.12)" font-size="9" font-weight="bold" text-anchor="end" font-style="italic" fill="#000">Klf4</text>
<rect x="232.6" y="211.02" width="14.4" height="14.43" fill="#0cf60c"/>
<rect x="246.4" y="211.02" width="14.4" height="14.43" fill="#0cf60c"/>
<rect x="260.2" y="211.02" width="14.4" height="14.43" fill="#009100"/>
<rect x="274.0" y="211.02" width="14.4" height="14.43" fill="#f50505"/>
<rect x="287.8" y="211.02" width="13.8" height="14.43" fill="#fa0505"/>
<text transform="translate(228.3 220.43) scale(1 1.12)" font-size="9" font-weight="bold" text-anchor="end" font-style="italic" fill="#000">Runx2</text>
<rect x="232.6" y="224.85" width="14.4" height="14.43" fill="#0cf60c"/>
<rect x="246.4" y="224.85" width="14.4" height="14.43" fill="#0ce80c"/>
<rect x="260.2" y="224.85" width="14.4" height="14.43" fill="#eb0505"/>
<rect x="274.0" y="224.85" width="14.4" height="14.43" fill="#fa0505"/>
<rect x="287.8" y="224.85" width="13.8" height="14.43" fill="#fa0505"/>
<text transform="translate(228.3 234.26) scale(1 1.12)" font-size="9" font-weight="bold" text-anchor="end" font-style="italic" fill="#000">Irf8</text>
<rect x="232.6" y="238.68" width="14.4" height="14.43" fill="#0cf60c"/>
<rect x="246.4" y="238.68" width="14.4" height="14.43" fill="#0cec0c"/>
<rect x="260.2" y="238.68" width="14.4" height="14.43" fill="#fa0505"/>
<rect x="274.0" y="238.68" width="14.4" height="14.43" fill="#c30000"/>
<rect x="287.8" y="238.68" width="13.8" height="14.43" fill="#d70000"/>
<text transform="translate(228.3 248.09) scale(1 1.12)" font-size="9" font-weight="bold" text-anchor="end" font-style="italic" fill="#000">Irf5</text>
<rect x="232.6" y="252.51" width="14.4" height="14.43" fill="#fa0808"/>
<rect x="246.4" y="252.51" width="14.4" height="14.43" fill="#eb0505"/>
<rect x="260.2" y="252.51" width="14.4" height="14.43" fill="#0cf60c"/>
<rect x="274.0" y="252.51" width="14.4" height="14.43" fill="#0cf60c"/>
<rect x="287.8" y="252.51" width="13.8" height="14.43" fill="#0cf60c"/>
<text transform="translate(228.3 261.93) scale(1 1.12)" font-size="9" font-weight="bold" text-anchor="end" font-style="italic" fill="#000">Dach1</text>
<rect x="232.6" y="266.34" width="14.4" height="14.43" fill="#fa0808"/>
<rect x="246.4" y="266.34" width="14.4" height="14.43" fill="#008c00"/>
<rect x="260.2" y="266.34" width="14.4" height="14.43" fill="#0cf60c"/>
<rect x="274.0" y="266.34" width="14.4" height="14.43" fill="#0cf60c"/>
<rect x="287.8" y="266.34" width="13.8" height="14.43" fill="#0cf60c"/>
<text transform="translate(228.3 275.75) scale(1 1.12)" font-size="9" font-weight="bold" text-anchor="end" font-style="italic" fill="#000">Gata2</text>
<rect x="232.6" y="280.17" width="14.4" height="13.83" fill="#fa0808"/>
<rect x="246.4" y="280.17" width="14.4" height="13.83" fill="#b40000"/>
<rect x="260.2" y="280.17" width="14.4" height="13.83" fill="#28e128"/>
<rect x="274.0" y="280.17" width="14.4" height="13.83" fill="#0cf60c"/>
<rect x="287.8" y="280.17" width="13.8" height="13.83" fill="#0cf60c"/>
<text transform="translate(228.3 289.58) scale(1 1.12)" font-size="9" font-weight="bold" text-anchor="end" font-style="italic" fill="#000">Gfi1</text>
<text transform="translate(305.0 137.6) scale(1 1.03)" font-size="11.3" font-weight="bold" text-anchor="start" fill="#000">D</text>
<text transform="translate(438.6 144.2) scale(1 1.1)" font-size="9.3" font-weight="normal" text-anchor="middle" font-style="italic" fill="#000" stroke="#000" stroke-width="0.3">Irf8</text>
<line x1="352" y1="168.2" x2="352" y2="278.9" stroke="#000" stroke-width="1.1"/>
<line x1="349.3" y1="278.5" x2="352" y2="278.5" stroke="#000" stroke-width="1"/>
<text transform="translate(345.3 281.5) scale(1 1.12)" font-size="8.2" font-weight="bold" text-anchor="end" fill="#000">0</text>
<line x1="349.3" y1="251.0" x2="352" y2="251.0" stroke="#000" stroke-width="1"/>
<text transform="translate(345.3 254.0) scale(1 1.12)" font-size="8.2" font-weight="bold" text-anchor="end" fill="#000">5</text>
<line x1="349.3" y1="223.5" x2="352" y2="223.5" stroke="#000" stroke-width="1"/>
<text transform="translate(345.3 226.5) scale(1 1.12)" font-size="8.2" font-weight="bold" text-anchor="end" fill="#000">10</text>
<line x1="349.3" y1="196.0" x2="352" y2="196.0" stroke="#000" stroke-width="1"/>
<text transform="translate(345.3 199.0) scale(1 1.12)" font-size="8.2" font-weight="bold" text-anchor="end" fill="#000">15</text>
<line x1="349.3" y1="168.5" x2="352" y2="168.5" stroke="#000" stroke-width="1"/>
<text transform="translate(345.3 171.5) scale(1 1.12)" font-size="8.2" font-weight="bold" text-anchor="end" fill="#000">20</text>
<text transform="translate(325.5 223) rotate(-90) scale(1.0 1)" font-size="8.8" font-weight="bold" text-anchor="middle" fill="#000">Relative Expression</text>
<line x1="351.5" y1="278.5" x2="516.5" y2="278.5" stroke="#000" stroke-width="1.1"/>
<defs><pattern id="hg" width="1.6" height="1.6" patternUnits="userSpaceOnUse" patternTransform="rotate(45)"><rect width="1.6" height="1.6" fill="#fff"/><rect width="0.8" height="1.6" fill="#555"/></pattern><pattern id="hc" width="4.2" height="4.2" patternUnits="userSpaceOnUse" patternTransform="rotate(-45)"><rect width="4.2" height="4.2" fill="#fff"/><rect width="1.2" height="4.2" fill="#000"/></pattern></defs>
<rect x="362.3" y="273.0" width="20.5" height="5.5" fill="#111" stroke="#000" stroke-width="1"/>
<rect x="403.3" y="241.65" width="20.6" height="36.85" fill="url(#hg)" stroke="#000" stroke-width="1"/>
<path d="M413.6 241.65V237.53M409.2 237.53H418" stroke="#000" stroke-width="1.2" fill="none"/>
<rect x="444.3" y="183.9" width="20.7" height="94.6" fill="url(#hc)" stroke="#000" stroke-width="1.1"/>
<line x1="444.3" y1="184.20000000000002" x2="465.0" y2="184.20000000000002" stroke="#000" stroke-width="1.3"/>
<rect x="485.6" y="273.27" width="20.9" height="5.23" fill="#fff" stroke="#000" stroke-width="1"/>
<line x1="372.6" y1="278.5" x2="372.6" y2="281.6" stroke="#000" stroke-width="1"/>
<text transform="translate(372.6 291.1) scale(1 1.12)" font-size="8.9" font-weight="bold" text-anchor="middle" fill="#000">LMPP</text>
<line x1="413.6" y1="278.5" x2="413.6" y2="281.6" stroke="#000" stroke-width="1"/>
<text transform="translate(413.6 291.1) scale(1 1.12)" font-size="8.9" font-weight="bold" text-anchor="middle" fill="#000">CMP</text>
<line x1="455" y1="278.5" x2="455" y2="281.6" stroke="#000" stroke-width="1"/>
<text transform="translate(455 291.1) scale(1 1.12)" font-size="8.9" font-weight="bold" text-anchor="middle" fill="#000">CDP</text>
<line x1="496" y1="278.5" x2="496" y2="281.6" stroke="#000" stroke-width="1"/>
<text transform="translate(496 291.1) scale(1 1.12)" font-size="8.9" font-weight="bold" text-anchor="middle" fill="#000">GMP</text>
<path d="M368.6 205.4V201.1H407.8V205.4" fill="none" stroke="#000" stroke-width="0.9"/>
<text transform="translate(387.4 199.4) scale(1 0.9)" font-size="9.5" font-weight="bold" text-anchor="middle" fill="#000">**</text>
<path d="M410 164.4V159.8H493.7V164.4" fill="none" stroke="#000" stroke-width="0.9"/>
<text transform="translate(447 158.0) scale(1 0.9)" font-size="9.5" font-weight="bold" text-anchor="middle" fill="#000">**</text>
<path d="M410 173.2V169H449V173.2" fill="none" stroke="#000" stroke-width="0.9"/>
<text transform="translate(431.7 167.2) scale(1 0.9)" font-size="9.5" font-weight="bold" text-anchor="middle" fill="#000">**</text>
</svg></body></html>
